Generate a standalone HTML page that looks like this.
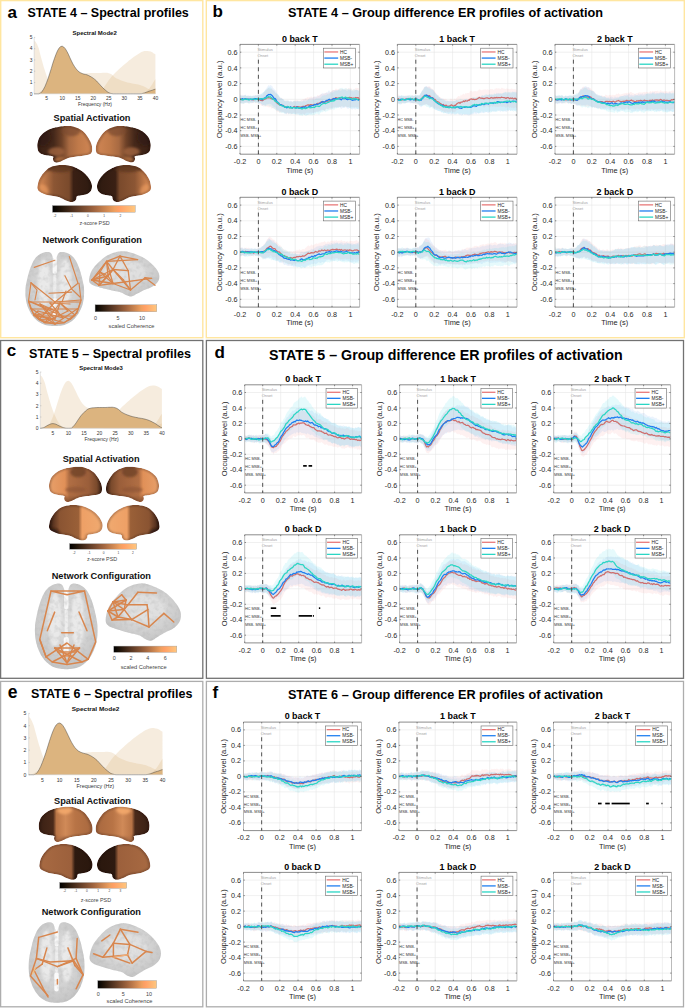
<!DOCTYPE html><html><head><meta charset="utf-8"><title>figure</title><style>html,body{margin:0;padding:0;background:#fff;width:685px;height:1008px;overflow:hidden}svg{display:block}text{font-family:"Liberation Sans",sans-serif}</style></head><body><svg width="685" height="1008" viewBox="0 0 685 1008" font-family="Liberation Sans, sans-serif">
<defs><filter id="blur05" x="-10%" y="-10%" width="120%" height="120%"><feGaussianBlur stdDeviation="0.5"/></filter><filter id="blur1" x="-20%" y="-20%" width="140%" height="140%"><feGaussianBlur stdDeviation="1.2"/></filter><filter id="tex" x="0" y="0" width="100%" height="100%"><feTurbulence type="fractalNoise" baseFrequency="0.22" numOctaves="2" seed="5"/><feColorMatrix type="matrix" values="0 0 0 0 0.45  0 0 0 0 0.45  0 0 0 0 0.45  2 0 0 0 -0.9"/></filter></defs>
<rect x="0" y="0" width="685" height="1008" fill="#fff"/>
<defs><path id="latb" d="M0 55l0-3.2 .3-3.1 .5-3.1 .5-3 .6-3.1 .7-3 .8-3 1.1-2.9 1.3-2.8 1.6-2.8 1.7-2.6 1.8-2.5 1.8-2.3 2-2.2 2-2 2.2-1.9 2.3-1.7 2.4-1.6 2.5-1.5 2.5-1.2 2.4-1 2.3-.8 2.4-.6 2.5-.7 2.7-.7 2.8-.7 2.9-.6 2.8-.4 2.9-.2 2.9-.1 2.9 0 2.6 .3 2.2 .5 2 .7 1.9 .9 1.9 1 2 1 2 1.1 2 1.2 2 1.5 2.1 1.8 2 2 2.1 2.2 1.9 2.4 1.8 2.7 1.6 3 1.6 3.1 1.4 3.1 1.3 3 1.3 3 1.1 3 1.1 3 1 3 .8 3 .8 3 .6 3 .4 3 .3 3.1 .1 3 0 2.8-.1 2.7-.3 2.5-.5 2.4-.7 2-1 1.6-1.3 1.2-1.5 1.1-1.8 .9-2.1 .8-2.4 .5-2.6 .6-2.6 .5-2.7 .6-2.8 .6-2.9 .6-2.8 .6-2.8 .5-2.9 .5-2.8 .6-2.7 .7-2.6 1-2.5 1.2-2.3 1.3-2.3 1.3-2.1 1.5-2 1.6-1.9 1.5-2 1.4-2.1 1.2-2.1 1.2-2 .9-1.8 .3-1.5-.3-1.3-.8-1.1-1.2-.9-1.3-.7-1.6-.5-1.9-.2-1.9-.2-1.8 .2-1.6 .4-1.5 .4-1.3-.2-1.1-.9-.8-1.3-.6-1.7-.5-1.7-.5-1.9-.4-2-.3-2.1-.4-2.1-.5-2.1-.7-2.1-.8-2-.9-1.8-1.2-1.7-1.4-1.5-1.6-1.3-1.8-1.1-2.4-.9-3-.6-3.6-.4-3.8z"/><clipPath id="clipLat"><use href="#latb"/></clipPath><path id="medb" d="M99.5 65.1l-.4 1.5-.5 1.5-.7 1.5-1.1 1.5-1.4 1.5-1.8 1.6-2 1.5-2.1 1.4-2.2 1.3-2.4 1.3-2.5 1.2-2.6 1-2.8 .7-2.9 .6-2.9 .5-2.7 .6-2.5 .8-2.4 .7-2.3 1-2.4 1.2-2.4 1.6-2.4 1.9-2.5 2-2.4 1.7-2.5 1.5-2.6 1.4-2.4 1.2-2.2 .7-1.9 .2-1.6-.1-1.5-.5-1.4-.8-1.2-1.1-1.1-1.4-1-1.7-.8-1.8-.4-2.1-.1-2.4-.2-2.2-.9-1.8-1.7-1-2.2-.5-2.6-.4-2.4-.5-2.4-.7-2.6-.8-2.4-.9-2.2-1.2-1.9-1.4-1.8-1.7-1.5-1.9-1.3-2.2-1-2.7-.7-3.1-.5-3.2-.2-3.1 0-2.9 .3-3 .5-2.9 .8-3.2 1-3.5 1.3-3.6 1.6-3.7 1.8-3.7 2.1-3.7 2.4-3.8 2.5-3.6 2.6-3.3 2.7-2.8 2.8-2.6 2.9-2.2 2.9-2.1 2.8-1.8 2.8-1.7 2.8-1.3 2.9-1.2 3.2-.9 3.4-.7 3.3-.5 3-.3 2.6-.1 2.5 .1 2.3 .3 2.3 .4 2.4 .5 2.5 .5 2.4 .8 2.4 1.1 2.4 1.3 2.5 1.6 2.4 1.9 2.4 2.4 2.5 3.1 2.5 3.5 2.4 3.9 2.2 4 1.9 4.1 1.8 4.2 1.5 4.3 1.3 4.3 1 4.5 .6 4.6 .5 4.3 .3 3.4 .1 2.3 0 1.4-.3 1.1z"/><clipPath id="clipMed"><use href="#medb"/></clipPath><filter id="bblur" x="-20%" y="-20%" width="140%" height="140%"><feGaussianBlur stdDeviation="2.5"/></filter></defs>
<path d="M258.4 44.4V154.2M276.8 44.4V154.2M295.2 44.4V154.2M313.6 44.4V154.2M332.0 44.4V154.2M350.4 44.4V154.2M240.0 146.4H359.6M240.0 130.7H359.6M240.0 115.0H359.6M240.0 83.6H359.6M240.0 67.9H359.6M240.0 52.2H359.6M240.0 99.3H359.6" stroke="#e6e6e6" stroke-width="0.6" fill="none"/>
<clipPath id="cp100"><rect x="240.00" y="44.40" width="119.60" height="109.80"/></clipPath>
<g clip-path="url(#cp100)">
<path d="M240 95l.9-.4 .9 1.6 1-.4 .9-.6 .9 .2 .9-.2 .9 1.2 1-.9 .9 .2 .9-.3 .9 .8 .9-.3 1 .1 .9 .1 .9 .5 .9-.8 .9-.9 1 .5 .9 .4 .9-1 .9-.6 .9 1.9 1-1.4 .9 1.1 .9-1.1 .9-2.3 .9-1 1-.4 .9-2 .9-.3 .9-.7 .9 .4 1 .7 .9-.4 .9-.3 .9 2.2 .9-.4 1 1.9 .9 1.5 .9 .6 .9 1.3 .9 .5 1 .9 .9 1.1 .9-.2 .9 .7 .9 1.5 1 .4 .9-.2 .9 .3 .9 .3 .9-1 1 .9 .9 1.4 .9-1 .9 .3 .9 .4 1-.6 .9-.8 .9 .4 .9-.4 .9-.6 1 .5 .9 .1 .9 .1 .9-.3 .9-.1 1-.5 .9-.5 .9-.1 .9-1 .9 .6 1-1.5 .9 .5 .9-.2 .9-.3 .9-.4 1-.1 .9 1.1 .9-1.3 .9 .2 .9 .7 1-.4 .9-1.9 .9 .4 .9 .2 .9-.9 1-.7 .9-.4 .9 1.2 .9-1.8 .9 .6 1-.7 .9-.1 .9 .4 .9-.7 .9 .4 1-1.4 .9 .7 .9-1.4 .9-.8 .9 .1 1-.2 .9-1.5 .9 .3 .9 .7 .9-.3 1-.4 .9 .2 .9-.2 .9 0 .9 .6 1 .5 .9-1.2 .9 .3 .9-.3 .9 .3 1-1 .9 .4 .9 0 .9 0 .9 1.6 1-1.1 .9 1.1 .9-1.4 .9-.7 .9 .3 1-.2 .9 .4 .9 .8 0 19.3-.9-1.1-.9 0-1 .2-.9-.4-.9 .2-.9 .3-.9-.6-1 .3-.9-.4-.9 .4-.9-1-.9 .9-1-.3-.9 .1-.9-.5-.9 .2-.9 .2-1-.3-.9-.2-.9 .3-.9 .5-.9-.6-1 .5-.9 .2-.9-.4-.9 .2-.9-.1-1 1.4-.9-.6-.9 0-.9 .3-.9 1.6-1-.9-.9 1.1-.9-.6-.9-.5-.9 2-1-.3-.9 0-.9-.2-.9-.7-.9 .4-1 .5-.9 .8-.9 .2-.9 .2-.9 0-1 .4-.9 0-.9 .9-.9-.6-.9 .7-1-.7-.9 .1-.9 1-.9-1.6-.9 1.2-1-.7-.9 1.3-.9 .8-.9-.8-.9-.4-1 .9-.9-.2-.9-.4-.9-.4-.9-.1-1 .6-.9 .9-.9-1.4-.9-.6-.9 .3-1 .8-.9 .6-.9-.9-.9 .1-.9 .8-1-1.1-.9 .6-.9-.1-.9-.6-.9-.6-1-.4-.9-.3-.9 .4-.9 .1-.9 .7-1-1.2-.9-.1-.9-.3-.9-1.4-.9-1.2-1 .2-.9-.9-.9 .2-.9 .5-.9-2-1 .6-.9-.2-.9-.3-.9-.3-.9 .1-1-.8-.9 .9-.9-.7-.9-.4-.9 .1-1-1.1-.9-.9-.9-.1-.9-1.6-.9 .8-1 .3-.9-1.3-.9 1.4-.9-.5-.9 .4-1-.6-.9 .7-.9 .1-.9-.3-.9-.3-1-.2-.9-.5-.9 1.2-.9 .6-.9-.4-1-.4-.9 .1-.9-.4z" fill="#f59090" fill-opacity="0.13"/>
<path d="M240 94.6l.9 1.3 .9-1.1 1 0 .9 1.4 .9-.9 .9-.9 .9 1 1 .8 .9-1 .9 .9 .9-.3 .9 .1 1 1.1 .9-1.7 .9 .3 .9-.4 .9-.3 1 .3 .9-.4 .9 .6 .9 0 .9-1 1-1 .9 .3 .9-1.4 .9-.4 .9-1.3 1-1.1 .9-1.8 .9-1.1 .9-1.6 .9 .8 1-.8 .9 .6 .9 .3 .9 2.1 .9 .7 1 1.3 .9 .6 .9 2.7 .9 .5 .9 1.7 1 1.9 .9 .2 .9 .5 .9 .7 .9 .3 1 .8 .9 1.5 .9-.4 .9 .2 .9-.3 1 .3 .9 .7 .9-1.4 .9 .5 .9 .7 1-.1 .9-.4 .9 .2 .9-.5 .9-.1 1 0 .9 1.2 .9-.8 .9 .3 .9-1.4 1 .8 .9-1.2 .9 .4 .9-1.1 .9 .5 1 .6 .9-.6 .9-.3 .9-1.6 .9 .8 1-.8 .9 .3 .9-.9 .9-.3 .9-.1 1 0 .9 .1 .9-.9 .9 .5 .9-1.4 1-.7 .9-.4 .9-1.1 .9 1.3 .9-.8 1-.1 .9-.8 .9 .1 .9-1.6 .9-.6 1 1.8 .9-.2 .9-.6 .9-.8 .9-.3 1 .1 .9-.5 .9 .5 .9 .2 .9-.5 1 .4 .9 .4 .9-.1 .9-1.2 .9-.1 1 .4 .9 0 .9 .3 .9 .7 .9 0 1-1.1 .9 .7 .9-.2 .9 .7 .9 0 1 .7 .9-.8 .9-.5 .9-.4 .9 .1 1 .3 .9 .7 .9-.6 0 18.7-.9 .6-.9-.5-1-.5-.9 1-.9-.1-.9-.6-.9 .1-1 .7-.9-.8-.9-.5-.9-.6-.9 1-1 0-.9-.6-.9-1.2-.9 .7-.9 .2-1-.1-.9 .4-.9 .8-.9-1-.9-.7-1 .5-.9-.2-.9 .3-.9-.7-.9 .7-1-.9-.9 .8-.9 1.5-.9-.8-.9-.7-1 .3-.9 .6-.9 .2-.9-.4-.9 .6-1 1.9-.9-.9-.9 .1-.9 .2-.9 1-1 .4-.9-.5-.9 1.3-.9-.8-.9-.3-1 1.8-.9-.8-.9 1-.9-.5-.9 .9-1 .2-.9-.3-.9 .2-.9 1-.9-.4-1 .1-.9-.4-.9 .7-.9-.8-.9 .2-1 .3-.9-.5-.9 1.2-.9-1.2-.9 .5-1-1.8-.9 1-.9 .7-.9-.8-.9-.4-1 .7-.9 .1-.9-1-.9 0-.9 .7-1-1.1-.9 1.5-.9-.4-.9-.3-.9-.3-1-1.5-.9 .6-.9-.8-.9-.2-.9 0-1-1.1-.9 .4-.9-1.1-.9-1.2-.9-1.6-1 1-.9-2-.9-.2-.9-1.3-.9-.4-1-.2-.9 .3-.9 .2-.9-.3-.9 1.6-1-.4-.9-.3-.9 .7-.9 .4-.9-1.8-1-.5-.9-.1-.9 0-.9-1-.9-.2-1 0-.9-.4-.9 .5-.9 .7-.9-.4-1-.3-.9 .2-.9 0-.9 .5-.9-.5-1 .3-.9 .1-.9-.5-.9 .5-.9-.4-1 .9-.9 0-.9-.3z" fill="#5c9ff0" fill-opacity="0.12"/>
<path d="M240 95.4l.9 0 .9 .9 1-.5 .9-.2 .9-.3 .9-.1 .9 .7 1-.3 .9 .7 .9-.4 .9-.1 .9-.4 1 .5 .9-.2 .9 0 .9 .8 .9-.7 1 .2 .9-1.4 .9 .4 .9-.4 .9 0 1-.4 .9-.7 .9-1.1 .9-.3 .9-1.4 1-1.5 .9 .7 .9-1.7 .9-.6 .9-.2 1-.2 .9 1 .9 1.2 .9 1.3 .9-.3 1 2.3 .9-.3 .9 1.1 .9 1.1 .9 .1 1 1.9 .9 1.8 .9-.3 .9 1.1 .9-.3 1 1.5 .9 .9 .9-1.2 .9 .3 .9 0 1 .4 .9 .2 .9 .8 .9-.3 .9 .9 1-1.6 .9 0 .9 .7 .9 .2 .9-.5 1-.2 .9 0 .9 .3 .9-.2 .9 1.1 1-.8 .9-.3 .9 .1 .9 .5 .9-.6 1-.3 .9-1.4 .9 .6 .9 .2 .9 .1 1-.3 .9-.3 .9-.3 .9 .6 .9-1 1-.8 .9 .3 .9-.2 .9 0 .9-.1 1-1 .9-.9 .9-.9 .9 0 .9-.1 1-.1 .9-.1 .9-1 .9 .3 .9-.7 1-.3 .9-1.3 .9 .9 .9-.7 .9-.4 1-.8 .9 .1 .9-.8 .9 0 .9-.7 1-.9 .9-.7 .9 .1 .9-.4 .9 .6 1 .5 .9-.4 .9-.6 .9 .7 .9 .7 1-.7 .9 .3 .9 .4 .9 0 .9 .6 1 .1 .9-1.4 .9 1.1 .9 .3 .9-.6 1 1 .9 0 .9 .6 0 18-.9-.5-.9 .4-1 .2-.9-1.6-.9 .5-.9 .3-.9-.7-1 .9-.9-.1-.9-.6-.9 .2-.9-1-1 .4-.9-.3-.9-.8-.9 .1-.9 1.2-1-.6-.9-.7-.9 .2-.9 .5-.9-.1-1 .8-.9-.2-.9 1.1-.9-.6-.9 1.3-1 1-.9-1.5-.9 .8-.9 .2-.9-.2-1 .6-.9 .2-.9 .8-.9 0-.9 1-1-.9-.9 0-.9 1-.9-.3-.9 .5-1 1.1-.9 1.3-.9-.7-.9-.8-.9 .4-1 .3-.9 .9-.9-.2-.9 .5-.9-.1-1-.2-.9 .6-.9-1.4-.9 1.4-.9-.6-1 .9-.9-.2-.9-.6-.9-.6-.9 1.7-1-.6-.9 0-.9 0-.9-1.8-.9 1.2-1-.9-.9 .9-.9-1-.9 .1-.9-.1-1-.2-.9-.1-.9 .8-.9-1.2-.9 1.1-1-1.8-.9 .4-.9 .8-.9-.2-.9-.1-1-.7-.9 0-.9 .5-.9-1.1-.9 .6-1-1.5-.9-.7-.9 .2-.9-.6-.9-.8-1-1-.9-.3-.9 0-.9-1.6-.9-.2-1 .2-.9-.9-.9 0-.9 .1-.9 .3-1 .6-.9-1.3-.9-.6-.9 0-.9-.9-1-1.1-.9 .2-.9 .7-.9-1-.9-.2-1 .8-.9-.6-.9-.7-.9 .5-.9 .2-1 .8-.9-.8-.9 1.5-.9-.6-.9-.7-1-.8-.9 1.1-.9 .2-.9 .5-.9 .5-1-1.1-.9 .2-.9-.3z" fill="#40d8e8" fill-opacity="0.13"/>
<path d="M240 98.9l.9 0 .9 .7 1 .1 .9-.2 .9-.1 .9-.7 .9 .8 1-.3 .9 .2 .9 0 .9 .3 .9-.4 1 .3 .9-.2 .9 .5 .9-1 .9 .1 1 .2 .9-.3 .9 .4 .9-.3 .9 1.4 1-.2 .9 .6 .9-.4 .9-.8 .9-.9 1 .2 .9-1.1 .9 0 .9-.2 .9 .3 1 .1 .9 .8 .9-.4 .9 .9 .9 .3 1 .8 .9 1.4 .9 1 .9 .8 .9 .3 1 1.1 .9 .2 .9-.2 .9 .1 .9 1 1 .3 .9 .3 .9 .4 .9 .2 .9-.8 1 1 .9 .3 .9-.5 .9 .5 .9 0 1-.7 .9-.6 .9 .5 .9 .5 .9-.8 1 0 .9 .1 .9 .3 .9 0 .9 0 1-.7 .9 0 .9 .3 .9-.8 .9-.4 1-.4 .9-.4 .9 .7 .9-.6 .9-.2 1 .2 .9 .2 .9-.3 .9-.3 .9 .3 1-.4 .9-1 .9 .1 .9 0 .9-.8 1-.6 .9-.4 .9 .9 .9-.8 .9 .4 1-.2 .9-1.1 .9 .4 .9 0 .9-.4 1-.2 .9-.4 .9-.9 .9-.4 .9 .3 1-.8 .9-.7 .9 .1 .9 .5 .9-.2 1-.5 .9 .5 .9-.4 .9-.2 .9 .5 1 .4 .9-.7 .9 0 .9 .1 .9 .1 1-.4 .9-.2 .9 .5 .9-.2 .9 1 1-.7 .9 .9 .9-.9 .9-.4 .9 .3 1-.2 .9 .2 .9 1" fill="none" stroke="#cf6e6e" stroke-width="1.25" stroke-linejoin="round"/>
<path d="M240 98.9l.9 .8 .9-.6 1-.4 .9 .9 .9-.7 .9-.2 .9 .4 1 .3 .9-.3 .9 .3 .9-.2 .9-.1 1 .7 .9-.6 .9-.2 .9-.5 .9 .1 1 .1 .9 0 .9 .7 .9 0 .9-.4 1-.3 .9 1.1 .9-.9 .9-.6 .9-.4 1-.4 .9-1.7 .9-.4 .9-.9 .9 .2 1-.3 .9 .5 .9 .8 .9 1.2 .9 1.4 1 .1 .9 1.1 .9 2 .9 .7 .9 .7 1 1.5 .9 .1 .9 .4 .9 .7 .9-.1 1 1.1 .9 .9 .9 0 .9 .3 .9-1 1 .7 .9 .1 .9-.8 .9 .8 .9 .3 1-.4 .9 0 .9 .5 .9-.6 .9-.5 1 .9 .9 .3 .9 .2 .9-.4 .9-.5 1 .3 .9-.7 .9 .6 .9-.9 .9 .4 1 .2 .9 0 .9-.7 .9-.9 .9 .6 1-.6 .9-.2 .9-.2 .9-.7 .9 .3 1-.9 .9 .3 .9-.1 .9-.4 .9-.4 1-.6 .9-.7 .9-.6 .9 .6 .9 0 1-1 .9-.7 .9 .2 .9-.9 .9-.5 1 .7 .9 .2 .9 .1 .9-1.1 .9-.6 1 .6 .9-.7 .9 .7 .9-.1 .9-.1 1-.1 .9 .6 .9 .4 .9-1 .9-.3 1 .3 .9-.1 .9-.2 .9 1 .9 .2 1-.5 .9-.2 .9 .3 .9 .5 .9 .5 1-.1 .9-.4 .9 .1 .9-.2 .9-.5 1 .5 .9 .5 .9-.6" fill="none" stroke="#1f7ff0" stroke-width="1.25" stroke-linejoin="round"/>
<path d="M240 99.3l.9 .1 .9 .3 1 .3 .9-.3 .9-.4 .9-.2 .9-.2 1 .3 .9 .7 .9 .1 .9-.8 .9 .2 1-.2 .9-.2 .9-.2 .9 .7 .9 0 1-.3 .9-.6 .9 .7 .9-.5 .9-.2 1 .4 .9 .1 .9-.6 .9 .2 .9 0 1-1.1 .9 .2 .9-.9 .9-.3 .9 .4 1-.3 .9 .7 .9 1.3 .9 .7 .9 0 1 1.7 .9 .2 .9 .8 .9 .5 .9 .4 1 1.7 .9 .6 .9 .4 .9 .3 .9-.2 1 1.1 .9 .5 .9-.4 .9-.3 .9-.2 1 1.1 .9-.4 .9 .9 .9-.5 .9 .5 1-.7 .9 .1 .9 .3 .9 .6 .9-.7 1 .3 .9-.6 .9 1 .9 0 .9 .5 1-.1 .9-1 .9 .3 .9 .6 .9-.2 1-.6 .9-.4 .9-.4 .9 .8 .9-.3 1 0 .9-.1 .9-.4 .9 .4 .9-1 1-.5 .9 0 .9 .2 .9 .4 .9-.7 1-1.1 .9-.6 .9-.4 .9-.4 .9-.1 1 .4 .9-.6 .9-.4 .9-.3 .9-.5 1-.4 .9-.5 .9 .3 .9-.8 .9 .6 1-.9 .9-.6 .9-.1 .9-.6 .9-.2 1-.9 .9-.2 .9-.3 .9-.3 .9 .7 1 .6 .9-.9 .9-.3 .9 .8 .9 .5 1-.6 .9 .7 .9 0 .9 .4 .9 .3 1-.4 .9-.3 .9 .3 .9-.1 .9 .5 1 .5 .9-.2 .9 .5" fill="none" stroke="#2ad6c4" stroke-width="1.25" stroke-linejoin="round"/>
</g>
<line x1="258.40" y1="59.69" x2="258.40" y2="154.20" stroke="#4a4a4a" stroke-width="0.95" stroke-dasharray="4,3.55"/>
<text x="257.40" y="51.17" font-size="4.0" fill="#a0a0a0" >Stimulus</text>
<text x="257.40" y="57.06" font-size="4.0" fill="#a0a0a0" >Onset</text>
<text x="240.20" y="121.01" font-size="3.8" fill="#333333" >HC MSB-</text>
<text x="240.20" y="128.85" font-size="3.8" fill="#333333" >HC MSB+</text>
<text x="240.20" y="136.69" font-size="3.8" fill="#333333" >MSB- MSB+</text>
<path d="M240.0 44.4H359.6M240.0 154.2H359.6" stroke="#6e6e6e" stroke-width="0.8"/>
<path d="M240.0 44.4V154.2M359.6 44.4V154.2" stroke="#9e9e9e" stroke-width="0.7"/>
<path d="M240.0 154.2v-1.3M240.0 44.4v1.3M258.4 154.2v-1.3M258.4 44.4v1.3M276.8 154.2v-1.3M276.8 44.4v1.3M295.2 154.2v-1.3M295.2 44.4v1.3M313.6 154.2v-1.3M313.6 44.4v1.3M332.0 154.2v-1.3M332.0 44.4v1.3M350.4 154.2v-1.3M350.4 44.4v1.3M240.0 146.4h1.3M359.6 146.4h-1.3M240.0 130.7h1.3M359.6 130.7h-1.3M240.0 115.0h1.3M359.6 115.0h-1.3M240.0 99.3h1.3M359.6 99.3h-1.3M240.0 83.6h1.3M359.6 83.6h-1.3M240.0 67.9h1.3M359.6 67.9h-1.3M240.0 52.2h1.3M359.6 52.2h-1.3" stroke="#444" stroke-width="0.6" fill="none"/>
<text x="237.60" y="148.95" font-size="7.2" text-anchor="end" fill="#262626" >-0.6</text>
<text x="237.60" y="133.26" font-size="7.2" text-anchor="end" fill="#262626" >-0.4</text>
<text x="237.60" y="117.58" font-size="7.2" text-anchor="end" fill="#262626" >-0.2</text>
<text x="237.60" y="101.89" font-size="7.2" text-anchor="end" fill="#262626" >0</text>
<text x="237.60" y="86.21" font-size="7.2" text-anchor="end" fill="#262626" >0.2</text>
<text x="237.60" y="70.52" font-size="7.2" text-anchor="end" fill="#262626" >0.4</text>
<text x="237.60" y="54.83" font-size="7.2" text-anchor="end" fill="#262626" >0.6</text>
<text x="240.00" y="163.92" font-size="7.2" text-anchor="middle" fill="#262626" >-0.2</text>
<text x="258.40" y="163.92" font-size="7.2" text-anchor="middle" fill="#262626" >0</text>
<text x="276.80" y="163.92" font-size="7.2" text-anchor="middle" fill="#262626" >0.2</text>
<text x="295.20" y="163.92" font-size="7.2" text-anchor="middle" fill="#262626" >0.4</text>
<text x="313.60" y="163.92" font-size="7.2" text-anchor="middle" fill="#262626" >0.6</text>
<text x="332.00" y="163.92" font-size="7.2" text-anchor="middle" fill="#262626" >0.8</text>
<text x="350.40" y="163.92" font-size="7.2" text-anchor="middle" fill="#262626" >1</text>
<text x="299.80" y="172.56" font-size="7.416" text-anchor="middle" fill="#262626" >Time (s)</text>
<text x="221.60" y="99.30" font-size="7.85" text-anchor="middle" fill="#262626" transform="rotate(-90 221.60 99.30)">Occupancy level (a.u.)</text>
<text x="299.80" y="41.60" font-size="8.928" text-anchor="middle" font-weight="bold" fill="#000" >0 back T</text>
<rect x="323.31" y="48.20" width="32.29" height="19.76" fill="#fff" stroke="#6a6a6a" stroke-width="0.6" />
<line x1="324.31" y1="51.96" x2="338.16" y2="51.96" stroke="#e87a7a" stroke-width="1.3" />
<text x="340.10" y="53.66" font-size="4.8" fill="#262626" >HC</text>
<line x1="324.31" y1="58.08" x2="338.16" y2="58.08" stroke="#1f7ff0" stroke-width="1.3" />
<text x="340.10" y="59.78" font-size="4.8" fill="#262626" >MSB-</text>
<line x1="324.31" y1="64.21" x2="338.16" y2="64.21" stroke="#2ad6c4" stroke-width="1.3" />
<text x="340.10" y="65.91" font-size="4.8" fill="#262626" >MSB+</text>
<path d="M415.8 44.4V154.2M434.2 44.4V154.2M452.6 44.4V154.2M471.0 44.4V154.2M489.4 44.4V154.2M507.8 44.4V154.2M397.4 146.4H517.0M397.4 130.7H517.0M397.4 115.0H517.0M397.4 83.6H517.0M397.4 67.9H517.0M397.4 52.2H517.0M397.4 99.3H517.0" stroke="#e6e6e6" stroke-width="0.6" fill="none"/>
<clipPath id="cp101"><rect x="397.40" y="44.40" width="119.60" height="109.80"/></clipPath>
<g clip-path="url(#cp101)">
<path d="M397.4 95l.9-.8 .9 1.3 1 1.1 .9-.8 .9 .1 .9 .6 .9-.5 1 .4 .9-1.5 .9 .4 .9 1.1 .9-1.2 1 .1 .9 1 .9-.4 .9-1 .9 .2 1 1.4 .9-1.1 .9-.3 .9 1.1 .9-1.2 1 1 .9-.6 .9-1.5 .9-1.9 .9-1.2 1-2 .9-1.7 .9-.3 .9 .1 .9-.9 1 1.2 .9-1.1 .9 .2 .9 1 .9 1 1 .4 .9 .9 .9 1.1 .9 .8 .9 1.7 1 1.1 .9 .7 .9 .6 .9 1.3 .9 .3 1 1.3 .9 .8 .9-.9 .9 .6 .9-.2 1 .1 .9 1.3 .9 .5 .9-.3 .9-.9 1-1 .9 .5 .9 .6 .9 .5 .9-1.7 1 .8 .9-1 .9-.9 .9-1.2 .9 0 1 .7 .9-2.3 .9 .9 .9-1.2 .9-.7 1 1.3 .9-1.9 .9 .7 .9-.6 .9-.1 1 0 .9-2.1 .9 .1 .9-.1 .9 1.4 1-1.1 .9 .2 .9-.4 .9 .7 .9-.7 1-.7 .9-.9 .9 .4 .9 .3 .9 .6 1-1 .9 .2 .9-.2 .9-.2 .9 .4 1-.5 .9 .5 .9 .4 .9-1.1 .9 .2 1-.4 .9 .5 .9 .5 .9-1.4 .9 .2 1-.8 .9 .8 .9-.5 .9 .4 .9 .6 1-1.5 .9 .1 .9 .6 .9 .1 .9 .4 1 .1 .9-.7 .9 .7 .9-.2 .9 .5 1-.3 .9-.4 .9 .1 .9 .6 .9 0 1-.3 .9 .9 .9 .5 0 17.9-.9-.5-.9-.6-1 .7-.9 .5-.9-1-.9 .6-.9-1-1 1.2-.9-1.3-.9-.7-.9 .9-.9 .8-1-1-.9-.4-.9 .1-.9 .3-.9-.2-1-.4-.9 .2-.9 .3-.9 .3-.9-.5-1 .7-.9-.8-.9 0-.9-.3-.9 1.1-1-1.7-.9 1.6-.9-.5-.9 .2-.9-.3-1-.9-.9 .9-.9 .7-.9 .4-.9-.9-1-.7-.9 0-.9 .4-.9-.8-.9 .2-1 .6-.9 .6-.9 .9-.9-.1-.9-.6-1-.5-.9 .1-.9 .4-.9 .2-.9 .4-1-.4-.9 1.8-.9-.8-.9 0-.9-.1-1 .1-.9 1.1-.9-.7-.9 1-.9-.1-1-.8-.9 .9-.9-.2-.9 .8-.9 1.3-1 .4-.9-.1-.9 0-.9-1.3-.9 1.2-1-.2-.9 0-.9 .6-.9-.3-.9-.8-1 1.1-.9-.2-.9-1.5-.9 .3-.9-.7-1-.4-.9-.4-.9-.7-.9-.3-.9 .7-1-1.2-.9-.6-.9 1.2-.9-1.6-.9-.2-1-.4-.9 .5-.9-2-.9 .4-.9-.2-1-.8-.9-.1-.9 1-.9-.5-.9-.2-1 .4-.9 .3-.9 .1-.9 .2-.9-.5-1-.7-.9-.9-.9 .2-.9 .1-.9-.5-1 .2-.9-.5-.9 0-.9-.2-.9-.4-1-.5-.9 .3-.9 .9-.9 .1-.9-.2-1-.5-.9 .5-.9 1.1-.9-.4-.9-.4-1 0-.9 0-.9-.1z" fill="#f59090" fill-opacity="0.13"/>
<path d="M397.4 95.7l.9 .8 .9-.9 1 .4 .9-1.1 .9 1 .9 .3 .9 0 1-.6 .9 .3 .9 .3 .9-.6 .9 .5 1 .7 .9-.5 .9-.2 .9-.5 .9 0 1 .6 .9-.4 .9-.7 .9 .5 .9-.2 1-.1 .9-.1 .9-2 .9-.4 .9-1.9 1-.3 .9-2.9 .9-1.3 .9 .2 .9-.5 1 1 .9-.1 .9 .1 .9 1.1 .9 .8 1 .4 .9 .4 .9 1.6 .9 1.1 .9 1.2 1 1.8 .9 .5 .9 1.2 .9-.2 .9 1.5 1 0 .9-.3 .9 1.1 .9 .9 .9 .5 1 .1 .9-.4 .9 .8 .9-.5 .9 .3 1-.4 .9 .1 .9 1.1 .9-.8 .9-.1 1 .1 .9-1.2 .9 .7 .9-.5 .9 1 1-.1 .9 .7 .9-.9 .9-1.1 .9 .6 1-.6 .9-.1 .9-.9 .9 .8 .9-.2 1 0 .9 0 .9 .8 .9-.7 .9-1.4 1-.5 .9 .9 .9 .1 .9-.1 .9-.8 1-.8 .9-.5 .9 .7 .9-.4 .9-1.2 1 .2 .9 .6 .9-.8 .9 .4 .9-.5 1-.5 .9 .3 .9-.7 .9 .4 .9-.2 1-.2 .9 1 .9-1 .9-.1 .9 .1 1-1.7 .9 .7 .9-.6 .9 1.3 .9-.8 1 .3 .9 .2 .9-1.3 .9 .9 .9-1 1 .3 .9 .8 .9 0 .9-1 .9 .2 1 .9 .9-.6 .9-1.7 .9 .9 .9 .5 1-.9 .9 0 .9 .5 0 18-.9 .2-.9 .8-1-1-.9-.2-.9 1.1-.9-.8-.9 .6-1-.8-.9 .6-.9 .1-.9 1-.9 .1-1-.7-.9 .2-.9 .4-.9-.9-.9-.2-1 1.5-.9-1.3-.9-.2-.9-.8-.9 1.6-1-.2-.9 .1-.9 .2-.9 .1-.9-.4-1 .6-.9-1-.9 1.1-.9 1.2-.9-.5-1-.7-.9 .2-.9 .5-.9 .5-.9-.1-1-.5-.9 .7-.9-.4-.9-.2-.9 1.4-1-1.1-.9 1.3-.9-.3-.9-.7-.9 .6-1 .3-.9 .3-.9 .2-.9 .3-.9 .4-1 .1-.9-.4-.9-.3-.9 .1-.9 .1-1-1-.9 .7-.9 1.4-.9-1.4-.9 .5-1-.7-.9-.6-.9-.8-.9 1-.9 .6-1-1.3-.9 .8-.9-.7-.9 .9-.9 0-1-.9-.9 .3-.9 0-.9 .1-.9-.5-1-.4-.9-.8-.9 .8-.9-1.1-.9 .7-1-1.3-.9 .1-.9-.5-.9 0-.9-.9-1 .2-.9-.4-.9-.9-.9-1.1-.9-1.4-1 .5-.9 .3-.9-.3-.9-1.2-.9-.6-1-.9-.9 .3-.9-.7-.9 1.2-.9 .3-1 .5-.9 1.6-.9-.6-.9-.9-.9-1.6-1-1-.9-.6-.9-.3-.9 .1-.9 1.2-1-.6-.9-.1-.9 .2-.9 .3-.9-.8-1-.5-.9 .9-.9-1.1-.9 1.5-.9 0-1-.2-.9-.9-.9 .3-.9 .7-.9 .2-1 1-.9-1-.9-.3z" fill="#5c9ff0" fill-opacity="0.12"/>
<path d="M397.4 96.2l.9 0 .9 0 1 .1 .9-.5 .9-.7 .9 .3 .9 .2 1 1 .9 0 .9-.1 .9-1.2 .9 .1 1-.2 .9-.4 .9 .3 .9 .6 .9 .4 1-.5 .9-.6 .9 .2 .9 .3 .9-.6 1 .6 .9-.2 .9-1 .9-2.4 .9-1.6 1-1.1 .9-1.1 .9-1.5 .9 .2 .9 .4 1 .6 .9 .7 .9 .1 .9 .3 .9 .9 1-.3 .9 1 .9 1.7 .9 .7 .9 .9 1 1.1 .9 .1 .9 1.6 .9 .9 .9 1.6 1-.3 .9 1.2 .9 .3 .9-.5 .9 .3 1 1.5 .9-.3 .9-1.2 .9 1.4 .9-.1 1-.4 .9 .2 .9 .2 .9-.5 .9-.1 1 0 .9-.7 .9 0 .9 .6 .9-1.1 1-.2 .9-.6 .9 1 .9 .1 .9 .2 1-.9 .9-.3 .9 .4 .9 .6 .9 0 1-.3 .9-.2 .9-.6 .9-1.3 .9-.8 1 .7 .9-.4 .9 .6 .9-.8 .9 0 1-.1 .9-.2 .9 .8 .9-1.6 .9 0 1-.4 .9 .8 .9-1.4 .9-.5 .9-.1 1 1.1 .9-.4 .9-.5 .9 .1 .9 0 1 .2 .9 .1 .9-1.3 .9-.2 .9 1.1 1-.5 .9 .8 .9-.8 .9-.5 .9 .2 1 .3 .9-.2 .9-.8 .9 .1 .9-1.3 1 .7 .9-.5 .9 .2 .9 .1 .9 .2 1-.5 .9 .2 .9 .4 .9-.4 .9-.6 1 1.3 .9-.5 .9 1.5 0 17.7-.9 .7-.9-1.3-1 .1-.9 .9-.9-1.2-.9 0-.9 .6-1-1.5-.9 1-.9-.4-.9 0-.9 .2-1 .6-.9-.7-.9 .9-.9 .2-.9-.5-1-.6-.9-.1-.9 .4-.9 .8-.9-.3-1 .7-.9-.5-.9 0-.9-.2-.9 0-1 1.2-.9 0-.9-.1-.9-.5-.9-.4-1 .7-.9-.2-.9-.3-.9 .3-.9 1.2-1-2-.9 .9-.9 .6-.9 1.1-.9-.8-1-.1-.9-.6-.9 .5-.9-.9-.9 .7-1 .8-.9 .5-.9-.1-.9 .6-.9 .2-1-.3-.9 .1-.9-.2-.9 0-.9 .2-1-.3-.9 1-.9-1.4-.9 .2-.9 .2-1 0-.9-.7-.9 .5-.9 .5-.9-.8-1 1.5-.9-2-.9 .3-.9 .8-.9-1.3-1 .6-.9 .8-.9-.5-.9-1.1-.9 .6-1-.1-.9 .2-.9 .3-.9-1.3-.9 .2-1-1.2-.9-.3-.9-.1-.9-.2-.9-.4-1-.5-.9-.9-.9 0-.9-.3-.9-.2-1-1.4-.9 .5-.9 1-.9-1.3-.9-.4-1 .1-.9-1-.9-.3-.9-.4-.9 .4-1 .7-.9-.2-.9-.6-.9 .1-.9-1.3-1 .2-.9-.4-.9-1.4-.9-.2-.9 .5-1 .2-.9-.5-.9-.2-.9-.7-.9 .3-1 .7-.9-.3-.9 .4-.9 0-.9 .4-1 .5-.9-.7-.9 .3-.9 1.1-.9-.1-1-.6-.9-.2-.9-.7z" fill="#40d8e8" fill-opacity="0.13"/>
<path d="M397.4 99.1l.9-.4 .9 .6 1 .6 .9-.2 .9 .3 .9-.3 .9-.5 1 .5 .9-.7 .9 .1 .9 .1 .9-.7 1 .3 .9 .7 .9-.1 .9-.5 .9 .4 1 .5 .9-.3 .9-.1 .9 .4 .9-.2 1 .9 .9-.1 .9-.8 .9-1 .9-.7 1-1.3 .9-.7 .9 .1 .9-.5 .9-.4 1 1.1 .9-.5 .9-.1 .9 1.5 .9 .3 1 .3 .9 .6 .9 1.3 .9-.2 .9 1.2 1 1.1 .9 0 .9 .5 .9 1 .9 .3 1 .9 .9 .7 .9-.6 .9 1.1 .9 0 1-.5 .9 1 .9 .4 .9-.4 .9-.4 1-.5 .9-.3 .9 .9 .9 .3 .9-.8 1 .2 .9-1.1 .9-.9 .9-.5 .9-.5 1 .8 .9-1.1 .9-.1 .9-.2 .9-.9 1 .6 .9-.9 .9 .3 .9 .2 .9-1 1 .2 .9-1.2 .9-.1 .9-.2 .9 .6 1-.3 .9 .4 .9-.2 .9-.1 .9-.6 1-.6 .9-.6 .9 .6 .9-.1 .9 .4 1-.2 .9 .6 .9-.4 .9-.4 .9-.2 1 .1 .9 .5 .9 .1 .9-.3 .9-.8 1 .7 .9-.3 .9 .4 .9-.7 .9 .5 1-.7 .9 .6 .9-.4 .9 .1 .9 .2 1-.6 .9 .2 .9 .1 .9 0 .9 .4 1 .5 .9-.7 .9-.1 .9 .3 .9 .8 1-.7 .9 .3 .9-.3 .9 .8 .9-.2 1-.5 .9 .8 .9 .4" fill="none" stroke="#cf6e6e" stroke-width="1.25" stroke-linejoin="round"/>
<path d="M397.4 99.5l.9 .6 .9 0 1-.3 .9-.7 .9 .2 .9 0 .9 .5 1-.2 .9 .1 .9-.6 .9 .3 .9-.2 1 .5 .9 .2 .9-.2 .9-.4 .9 0 1 .7 .9-.9 .9-.3 .9 .4 .9 .2 1 .4 .9 .8 .9-.6 .9 .1 .9-1.7 1-.5 .9-1.5 .9-1.3 .9 .4 .9-.4 1 1 .9 .3 .9 .6 .9 .7 .9 .2 1 0 .9 .9 .9 1.4 .9 .9 .9 .9 1 .7 .9 .8 .9 .6 .9 .1 .9 .7 1 .6 .9-.4 .9 1 .9 .1 .9 .7 1 .2 .9 .1 .9 .3 .9-.3 .9 0 1 .3 .9 .1 .9 .1 .9-.1 .9-.5 1 .7 .9-.8 .9-.2 .9 .1 .9 .9 1 .3 .9 0 .9 .3 .9-1.3 .9 0 1 .2 .9-.1 .9-.5 .9 .6 .9 .1 1-.1 .9-.2 .9 .2 .9-.4 .9-.8 1-.4 .9 .1 .9 .4 .9 .1 .9-1.1 1 .2 .9-.9 .9 .4 .9 0 .9-1 1 .4 .9 .4 .9-.7 .9 0 .9-.4 1 .1 .9 .4 .9-.9 .9-.4 .9 .4 1-.4 .9 .7 .9-.6 .9-.1 .9 0 1-.7 .9-.5 .9 .1 .9 .7 .9 .3 1-.6 .9 .2 .9-.2 .9 .2 .9-.6 1 .5 .9 .4 .9-.5 .9-.5 .9-.2 1 .8 .9-.6 .9-.4 .9-.1 .9 .3 1 .1 .9-.4 .9 .1" fill="none" stroke="#1f7ff0" stroke-width="1.25" stroke-linejoin="round"/>
<path d="M397.4 99.5l.9 .4 .9 .1 1 .3 .9-.1 .9-1 .9 0 .9 .5 1 .3 .9-.2 .9-.1 .9-.8 .9 .2 1-.5 .9-.3 .9 .5 .9 .4 .9 .5 1-.4 .9-.6 .9 .3 .9 .8 .9-.1 1 .2 .9 .6 .9-.6 .9-.9 .9-.7 1-.9 .9-.7 .9-.6 .9 .2 .9 .7 1 .3 .9 .5 .9 .8 .9-.4 .9 .2 1 .6 .9 .5 .9 1.1 .9 .3 .9 .9 1 .8 .9 .3 .9 .8 .9 .6 .9 .9 1 .4 .9 .6 .9 .8 .9-.5 .9 .1 1 .8 .9-.5 .9 0 .9 1 .9-.5 1-.5 .9 .7 .9-.3 .9-.3 .9 .9 1-.8 .9 .1 .9-.3 .9 .1 .9-.2 1-.1 .9-.4 .9 .4 .9 .7 .9-.3 1-.4 .9-.2 .9 .2 .9 .4 .9-.1 1 .1 .9-.2 .9-.6 .9-.6 .9-.7 1-.1 .9-.5 .9 .8 .9-.7 .9 .3 1 0 .9 .3 .9-.2 .9-1 .9-.5 1 .8 .9-.2 .9-.9 .9-.1 .9 .1 1 .2 .9 0 .9 0 .9 .1 .9 0 1-.5 .9 .1 .9-.6 .9-.1 .9 .8 1-.6 .9 .5 .9-.8 .9-.4 .9 .2 1 .4 .9 .1 .9-.4 .9-.4 .9-.4 1 .1 .9-.3 .9 0 .9 .3 .9-.4 1 .5 .9-.2 .9 .2 .9 .4 .9-.8 1 .7 .9 .4 .9 .3" fill="none" stroke="#2ad6c4" stroke-width="1.25" stroke-linejoin="round"/>
</g>
<line x1="415.80" y1="59.69" x2="415.80" y2="154.20" stroke="#4a4a4a" stroke-width="0.95" stroke-dasharray="4,3.55"/>
<text x="414.80" y="51.17" font-size="4.0" fill="#a0a0a0" >Stimulus</text>
<text x="414.80" y="57.06" font-size="4.0" fill="#a0a0a0" >Onset</text>
<text x="397.60" y="121.01" font-size="3.8" fill="#333333" >HC MSB-</text>
<text x="397.60" y="128.85" font-size="3.8" fill="#333333" >HC MSB+</text>
<text x="397.60" y="136.69" font-size="3.8" fill="#333333" >MSB- MSB+</text>
<path d="M397.4 44.4H517.0M397.4 154.2H517.0" stroke="#6e6e6e" stroke-width="0.8"/>
<path d="M397.4 44.4V154.2M517.0 44.4V154.2" stroke="#9e9e9e" stroke-width="0.7"/>
<path d="M397.4 154.2v-1.3M397.4 44.4v1.3M415.8 154.2v-1.3M415.8 44.4v1.3M434.2 154.2v-1.3M434.2 44.4v1.3M452.6 154.2v-1.3M452.6 44.4v1.3M471.0 154.2v-1.3M471.0 44.4v1.3M489.4 154.2v-1.3M489.4 44.4v1.3M507.8 154.2v-1.3M507.8 44.4v1.3M397.4 146.4h1.3M517.0 146.4h-1.3M397.4 130.7h1.3M517.0 130.7h-1.3M397.4 115.0h1.3M517.0 115.0h-1.3M397.4 99.3h1.3M517.0 99.3h-1.3M397.4 83.6h1.3M517.0 83.6h-1.3M397.4 67.9h1.3M517.0 67.9h-1.3M397.4 52.2h1.3M517.0 52.2h-1.3" stroke="#444" stroke-width="0.6" fill="none"/>
<text x="395.00" y="148.95" font-size="7.2" text-anchor="end" fill="#262626" >-0.6</text>
<text x="395.00" y="133.26" font-size="7.2" text-anchor="end" fill="#262626" >-0.4</text>
<text x="395.00" y="117.58" font-size="7.2" text-anchor="end" fill="#262626" >-0.2</text>
<text x="395.00" y="101.89" font-size="7.2" text-anchor="end" fill="#262626" >0</text>
<text x="395.00" y="86.21" font-size="7.2" text-anchor="end" fill="#262626" >0.2</text>
<text x="395.00" y="70.52" font-size="7.2" text-anchor="end" fill="#262626" >0.4</text>
<text x="395.00" y="54.83" font-size="7.2" text-anchor="end" fill="#262626" >0.6</text>
<text x="397.40" y="163.92" font-size="7.2" text-anchor="middle" fill="#262626" >-0.2</text>
<text x="415.80" y="163.92" font-size="7.2" text-anchor="middle" fill="#262626" >0</text>
<text x="434.20" y="163.92" font-size="7.2" text-anchor="middle" fill="#262626" >0.2</text>
<text x="452.60" y="163.92" font-size="7.2" text-anchor="middle" fill="#262626" >0.4</text>
<text x="471.00" y="163.92" font-size="7.2" text-anchor="middle" fill="#262626" >0.6</text>
<text x="489.40" y="163.92" font-size="7.2" text-anchor="middle" fill="#262626" >0.8</text>
<text x="507.80" y="163.92" font-size="7.2" text-anchor="middle" fill="#262626" >1</text>
<text x="457.20" y="172.56" font-size="7.416" text-anchor="middle" fill="#262626" >Time (s)</text>
<text x="379.00" y="99.30" font-size="7.85" text-anchor="middle" fill="#262626" transform="rotate(-90 379.00 99.30)">Occupancy level (a.u.)</text>
<text x="457.20" y="41.60" font-size="8.928" text-anchor="middle" font-weight="bold" fill="#000" >1 back T</text>
<rect x="480.71" y="48.20" width="32.29" height="19.76" fill="#fff" stroke="#6a6a6a" stroke-width="0.6" />
<line x1="481.71" y1="51.96" x2="495.56" y2="51.96" stroke="#e87a7a" stroke-width="1.3" />
<text x="497.50" y="53.66" font-size="4.8" fill="#262626" >HC</text>
<line x1="481.71" y1="58.08" x2="495.56" y2="58.08" stroke="#1f7ff0" stroke-width="1.3" />
<text x="497.50" y="59.78" font-size="4.8" fill="#262626" >MSB-</text>
<line x1="481.71" y1="64.21" x2="495.56" y2="64.21" stroke="#2ad6c4" stroke-width="1.3" />
<text x="497.50" y="65.91" font-size="4.8" fill="#262626" >MSB+</text>
<path d="M573.4 44.4V154.2M591.8 44.4V154.2M610.2 44.4V154.2M628.6 44.4V154.2M647.0 44.4V154.2M665.4 44.4V154.2M555.0 146.4H674.6M555.0 130.7H674.6M555.0 115.0H674.6M555.0 83.6H674.6M555.0 67.9H674.6M555.0 52.2H674.6M555.0 99.3H674.6" stroke="#e6e6e6" stroke-width="0.6" fill="none"/>
<clipPath id="cp102"><rect x="555.00" y="44.40" width="119.60" height="109.80"/></clipPath>
<g clip-path="url(#cp102)">
<path d="M555 96.3l.9 0 .9-.4 1 0 .9 0 .9-.9 .9 1 .9-.7 1 .5 .9 .7 .9-.1 .9-.7 .9 .8 1-.1 .9-.4 .9-.1 .9 .5 .9-.5 1-.7 .9 .9 .9-1.5 .9 1.2 .9-.7 1 .3 .9 0 .9-2.5 .9-1.2 .9-1.8 1-.8 .9-.2 .9-2 .9-.7 .9 1.3 1 0 .9-.7 .9 1 .9 .2 .9-.6 1 .8 .9-.2 .9 2.2 .9 .1 .9 .8 1 .9 .9 1.8 .9 .4 .9 .8 .9 .6 1 0 .9 .4 .9-.2 .9-.5 .9 .8 1-.1 .9 .1 .9-1.5 .9 .5 .9 .5 1 .1 .9-.9 .9 .5 .9-.5 .9 .7 1-1 .9 .8 .9-.2 .9-.3 .9-1.2 1 .6 .9-1.2 .9 1.3 .9 .1 .9 .2 1-.9 .9 .4 .9-1.1 .9 .4 .9-.3 1-.3 .9 .5 .9-.9 .9 .4 .9-.8 1 0 .9 1.1 .9-.2 .9 .8 .9 .1 1-.3 .9-.5 .9 .3 .9-.7 .9-.4 1 .3 .9 .1 .9-.1 .9-.3 .9-.5 1 .6 .9-.5 .9 .3 .9 .1 .9 .4 1-1.1 .9-.5 .9 .9 .9-1.2 .9 .8 1-.5 .9 0 .9-.1 .9 .1 .9-.4 1 1.6 .9-1.5 .9-.6 .9 1.2 .9 0 1 .2 .9-.2 .9-.1 .9-.3 .9 .7 1 .4 .9-1.1 .9 .6 .9-.6 .9-.4 1 0 .9 0 .9 0 0 19-.9-1-.9 .7-1-.5-.9 1-.9 .8-.9-.2-.9-.9-1-.1-.9 .3-.9 .3-.9-.8-.9-.3-1 1.2-.9-1.1-.9-.1-.9 .1-.9 .2-1 .1-.9 .5-.9-.8-.9 .4-.9 .1-1 .7-.9-1-.9 0-.9 .5-.9-.3-1-.1-.9 .8-.9-1-.9 .5-.9-.5-1-.6-.9 1.2-.9 .4-.9-1.6-.9-.1-1 1.1-.9-.5-.9-.1-.9-.5-.9 1.3-1 0-.9-.6-.9-.3-.9-.3-.9-.2-1 .8-.9 .2-.9 .1-.9-.8-.9-.7-1 .7-.9 .9-.9-.3-.9-.4-.9 .5-1-.4-.9-.7-.9-.2-.9 .2-.9-.8-1 1.2-.9 .5-.9 .3-.9-1.7-.9 .4-1 0-.9 .2-.9-.3-.9 0-.9-.4-1-.5-.9 .6-.9 .6-.9-.4-.9 .8-1-.3-.9-.5-.9-.7-.9 1.9-.9-.3-1-1-.9 0-.9 .6-.9-1.1-.9 .8-1-1.2-.9 .8-.9-1.2-.9-.2-.9-.7-1 .9-.9 .6-.9-1.3-.9 1.1-.9-.2-1-1.2-.9 .3-.9-.3-.9 .2-.9 .7-1-1.1-.9-.1-.9 .4-.9-.2-.9-.3-1-.4-.9-.5-.9-.5-.9-1.2-.9 1-1 .8-.9-.9-.9-.4-.9 .6-.9-1.3-1 1.4-.9-.2-.9-.5-.9 .1-.9 .5-1-.1-.9-.6-.9 .4-.9-.7-.9 1.4-1-.7-.9-.3-.9 .5z" fill="#f59090" fill-opacity="0.13"/>
<path d="M555 95.6l.9 .1 .9 .4 1-.4 .9 .2 .9 0 .9 .2 .9 .4 1-1.4 .9 1.3 .9 .3 .9-.8 .9-.5 1 1.3 .9-1.1 .9 .2 .9-.1 .9 .4 1-.2 .9 .2 .9 .3 .9-1.8 .9 .1 1-.1 .9 .4 .9-1.3 .9-1.4 .9-2.4 1-1.1 .9-.4 .9-.9 .9 .2 .9-1.3 1-.4 .9 .6 .9 .3 .9 .2 .9-.1 1 2.4 .9 .7 .9 .4 .9 .8 .9-.2 1 .9 .9 1.2 .9 1.6 .9-.8 .9 .8 1 .5 .9-.1 .9 .8 .9-.4 .9 1.6 1-.9 .9 .2 .9 .4 .9 .6 .9-.1 1-.3 .9 1 .9-.8 .9-.6 .9-.2 1 1 .9 .2 .9-1.5 .9 .8 .9 .3 1-.6 .9 .5 .9-.3 .9-.8 .9 0 1 0 .9 0 .9-1.2 .9-.1 .9 .1 1-.7 .9 .9 .9-.9 .9-.8 .9 1.8 1-.7 .9 .4 .9 .5 .9-.7 .9-.7 1 1 .9 .1 .9-.4 .9-1.4 .9 1.2 1-.7 .9 .2 .9-.7 .9 1.3 .9-.7 1-.6 .9 .9 .9-.4 .9-.5 .9 1.1 1-1.7 .9 .1 .9 .4 .9-1.2 .9 .6 1-.6 .9 1.2 .9-.5 .9 .2 .9 .4 1-.3 .9-.5 .9-.4 .9 .3 .9 .2 1-.2 .9 .8 .9-.3 .9-.3 .9 .4 1 0 .9-.6 .9-.8 .9 1.8 .9-.2 1 .2 .9 .4 .9-2 0 20-.9-.1-.9 .2-1-.5-.9-.5-.9 .3-.9 .7-.9-.8-1 .8-.9-.4-.9 .2-.9-1.4-.9 .8-1-.3-.9-1-.9 .9-.9 .6-.9 .8-1-1.7-.9 .7-.9 .5-.9-1.3-.9-.1-1 .5-.9-.5-.9-.7-.9 1.9-.9-1-1 .2-.9-.6-.9 .7-.9-.5-.9 1.3-1-1.4-.9 .3-.9 0-.9 .6-.9-.7-1 .1-.9 .4-.9 .4-.9-.8-.9 .4-1 .6-.9-.6-.9 .8-.9 .2-.9-.2-1-1.7-.9 .4-.9-.7-.9 0-.9 .1-1-.4-.9 1.7-.9-.7-.9 0-.9 .5-1-1-.9 .4-.9 1.2-.9-.2-.9 .2-1-1.2-.9-.4-.9 1.2-.9-.6-.9-.3-1-1.2-.9 .5-.9 .7-.9-.3-.9-.3-1-.6-.9 1.1-.9-1-.9 .2-.9 0-1-.2-.9-.2-.9 .9-.9-1-.9-.9-1 1-.9-.2-.9-.9-.9 .3-.9-.6-1-.5-.9 .2-.9 .4-.9-1.3-.9 0-1-.6-.9-.3-.9-.8-.9 .4-.9 .5-1 0-.9-.1-.9 .3-.9 .2-.9-1.3-1 .6-.9-.4-.9 1.2-.9-.3-.9 .1-1-1.6-.9-.7-.9-.3-.9 .5-.9 .4-1-1-.9 0-.9 .6-.9-.7-.9-.3-1-.7-.9 .4-.9 .2-.9 .3-.9 .5-1 .2-.9-.4-.9 .3-.9 .2-.9 .6-1-.5-.9 .1-.9-.9z" fill="#5c9ff0" fill-opacity="0.12"/>
<path d="M555 95.5l.9-.6 .9 1 1-.7 .9-.4 .9 .4 .9 .4 .9-.9 1 .7 .9 1 .9 0 .9-.6 .9-.4 1 .9 .9-.2 .9-.1 .9-1.1 .9 .1 1 .8 .9-.4 .9-.2 .9 .2 .9-.5 1-1.3 .9-.5 .9 .3 .9-.8 .9-1.1 1-1.5 .9-.3 .9 0 .9-1.3 .9-.7 1 .1 .9 .2 .9 1 .9 1 .9-.1 1-.2 .9 1.1 .9 .3 .9-.3 .9 1.2 1 1 .9 .6 .9 .7 .9 1.3 .9 0 1 0 .9 .1 .9 .2 .9 .7 .9 .5 1 .4 .9-.9 .9 1 .9 .7 .9-.1 1-.1 .9 1 .9 .8 .9-1.7 .9 1.1 1 .3 .9-.3 .9-.8 .9 .1 .9-.4 1 0 .9-.2 .9-1.4 .9 .4 .9-.4 1-.3 .9-.3 .9 .5 .9 0 .9-.5 1 .1 .9-.6 .9 1.4 .9 .4 .9-.6 1-.2 .9 0 .9 .3 .9-.2 .9-.9 1-.3 .9 .1 .9-.1 .9 .5 .9-.2 1-.4 .9 0 .9 .4 .9-.2 .9 0 1 0 .9-1.6 .9-.4 .9 .2 .9-.6 1 1.4 .9-.3 .9-.3 .9-1 .9 .6 1 .2 .9 .7 .9-.3 .9-.5 .9 0 1 .5 .9-1.1 .9 .4 .9-.6 .9 .6 1-.3 .9 .7 .9 .4 .9-1.1 .9 .3 1 .6 .9-.8 .9 .5 .9-.8 .9 .8 1-1.4 .9 .7 .9-.7 0 19.1-.9 .1-.9 .5-1-.4-.9-.1-.9-.2-.9 .3-.9 .5-1 .6-.9-.1-.9-.9-.9 .6-.9 0-1-.5-.9-.8-.9 .1-.9-.5-.9 .7-1-.3-.9 1.2-.9-.4-.9-.1-.9 .6-1-1.3-.9 .1-.9 .4-.9-.5-.9 .3-1 .2-.9 0-.9-.7-.9 .7-.9-.1-1 1.7-.9-.3-.9-.8-.9 .4-.9-1.2-1-.1-.9 .8-.9 .2-.9 .4-.9-.9-1 0-.9 .8-.9-.4-.9 1.2-.9-.1-1-.2-.9-1-.9 .2-.9 0-.9 .1-1 .4-.9-.4-.9-.5-.9-.5-.9-.4-1 .4-.9 .2-.9 .4-.9 0-.9 1.1-1-.6-.9-1.2-.9 2-.9-.6-.9 .1-1-.6-.9 .2-.9-.5-.9-.1-.9 .3-1-.7-.9 0-.9-1.2-.9 .2-.9-.8-1 0-.9 .7-.9-1-.9-.1-.9-1.2-1 1.5-.9-1-.9-.1-.9-1.1-.9 .7-1-.6-.9 .6-.9-.4-.9-.4-.9 .5-1 0-.9 .7-.9-.5-.9-1-.9 .9-1-.5-.9-.3-.9 .8-.9 0-.9-1-1-.5-.9-.3-.9-1-.9-.1-.9-.3-1-1.4-.9 1.1-.9 0-.9-1.3-.9 1.1-1-.6-.9-.5-.9 .6-.9 .1-.9-1.3-1 .1-.9 .4-.9 .8-.9 0-.9-.3-1-.8-.9-.4-.9 .6-.9 .7-.9-.8-1 .2-.9 .3-.9 1.1z" fill="#40d8e8" fill-opacity="0.13"/>
<path d="M555 99.8l.9-.2 .9 0 1 .3 .9-.7 .9-.1 .9 .3 .9-.1 1 .3 .9 .1 .9-.1 .9-.1 .9 .6 1-.8 .9 .5 .9-.4 .9 .5 .9 .2 1-.8 .9 0 .9-.2 .9 .8 .9 0 1 .3 .9 .2 .9-1.2 .9-.8 .9-.9 1 .2 .9-.4 .9-1.2 .9-.2 .9 .6 1 .5 .9-.2 .9 0 .9 .7 .9-.6 1-.1 .9 .3 .9 1.2 .9 .6 .9 0 1 1.1 .9 .5 .9 .7 .9 .2 .9 .2 1 .5 .9 .4 .9-1 .9 .1 .9 .6 1 .1 .9-.3 .9-.6 .9 0 .9-.1 1 .3 .9-.2 .9 .2 .9-.1 .9 .2 1-.5 .9 .3 .9 .7 .9-.3 .9-.9 1-.2 .9-.3 .9 .6 .9 .2 .9 .4 1-.3 .9 0 .9-.3 .9 .3 .9-.6 1-.5 .9 .6 .9-.1 .9 .2 .9-.5 1-.4 .9 .7 .9 0 .9 .6 .9 .3 1-.2 .9-.8 .9 .4 .9-.4 .9 .1 1-.4 .9 .1 .9 .7 .9-.3 .9-.8 1 .5 .9 .1 .9-.1 .9 .5 .9-.2 1-.5 .9-.1 .9 .2 .9-.6 .9 .9 1-.6 .9-.1 .9-.2 .9 .4 .9-.4 1 .8 .9-.9 .9-.4 .9 .7 .9 .6 1-.6 .9 .1 .9 .3 .9-.2 .9 .1 1 .3 .9-.1 .9 .4 .9-.7 .9-.7 1 .2 .9-.3 .9 .5" fill="none" stroke="#cf6e6e" stroke-width="1.25" stroke-linejoin="round"/>
<path d="M555 99.3l.9 .4 .9 .2 1 0 .9-.2 .9-.1 .9 0 .9 .4 1-.8 .9 .4 .9 0 .9-.5 .9-.5 1 1 .9-.3 .9 .4 .9-.4 .9 .2 1 .5 .9-.1 .9-.2 .9-.7 .9 .4 1 .8 .9 .1 .9-.5 .9-1.3 .9-1 1-.9 .9 .5 .9-.6 .9 0 .9-.6 1-.2 .9 .1 .9-.1 .9 .5 .9 .1 1 1.5 .9 .4 .9 .8 .9 .2 .9-.2 1 .7 .9 .9 .9 .6 .9 .1 .9 .5 1-.3 .9 .4 .9 .9 .9-.6 .9 .9 1-.4 .9 .1 .9 .2 .9 .8 .9-.6 1 .1 .9 .7 .9-.3 .9-.6 .9-.4 1 1.1 .9 .2 .9-.4 .9-.2 .9 .3 1 .3 .9 .2 .9 0 .9-1.1 .9-.2 1 .5 .9-.2 .9-.6 .9 .3 .9-.8 1-.2 .9 .5 .9-.5 .9-.1 .9 .8 1 .4 .9 .4 .9 .1 .9-.8 .9 0 1 .2 .9-.2 .9 .2 .9-.8 .9 .4 1-.5 .9 .5 .9-.7 .9 .7 .9-.5 1 .4 .9-.2 .9 0 .9-.6 .9 .9 1-.9 .9 .5 .9-.8 .9-.2 .9 .5 1-.5 .9 .6 .9 .4 .9-.1 .9-.1 1 .6 .9-.6 .9-.5 .9-.3 .9 .6 1 .1 .9-.1 .9 .6 .9-.2 .9 .3 1-.4 .9 .2 .9-.8 .9 .8 .9 .1 1 .3 .9 .1 .9-.9" fill="none" stroke="#1f7ff0" stroke-width="1.25" stroke-linejoin="round"/>
<path d="M555 99.8l.9-.8 .9 .3 1-.4 .9 .1 .9-.1 .9-.1 .9-.3 1 .8 .9 .6 .9 0 .9-.6 .9-.5 1 .4 .9 .6 .9-.1 .9-.9 .9 .3 1 .7 .9-.7 .9 .6 .9 .1 .9-.8 1 0 .9-.1 .9 .2 .9 .1 .9-.4 1-.5 .9 .3 .9 .1 .9-1.1 .9-.2 1 .3 .9-.3 .9 1 .9 .7 .9-.4 1-.1 .9 .3 .9 .4 .9 0 .9 .3 1 .8 .9 0 .9 .9 .9 .6 .9 .5 1-.7 .9 .7 .9 .1 .9 .9 .9-.2 1 .3 .9-.1 .9 .4 .9 .9 .9 0 1 .3 .9 .3 .9 .5 .9-.6 .9 .5 1 .4 .9-.2 .9-.1 .9-1 .9 .4 1 .3 .9-.6 .9-.7 .9 0 .9-.3 1-.4 .9 .1 .9 .5 .9 .2 .9 0 1-.1 .9-.4 .9 .7 .9 .1 .9 .2 1 0 .9 0 .9-.4 .9 .1 .9-.8 1-.2 .9 .5 .9-.2 .9 .1 .9-.5 1-.1 .9 .5 .9 .1 .9 .3 .9 .1 1-.9 .9-.7 .9-.6 .9 .5 .9-.3 1 .6 .9-.3 .9 .1 .9-.7 .9 .2 1 .8 .9 .1 .9-.1 .9-.1 .9-.6 1 .4 .9-.9 .9 .5 .9-.4 .9 .7 1 .1 .9 .4 .9-.2 .9 0 .9 .2 1 0 .9-.7 .9 .1 .9-.3 .9 .4 1-.4 .9 0 .9-.3" fill="none" stroke="#2ad6c4" stroke-width="1.25" stroke-linejoin="round"/>
</g>
<line x1="573.40" y1="59.69" x2="573.40" y2="154.20" stroke="#4a4a4a" stroke-width="0.95" stroke-dasharray="4,3.55"/>
<text x="572.40" y="51.17" font-size="4.0" fill="#a0a0a0" >Stimulus</text>
<text x="572.40" y="57.06" font-size="4.0" fill="#a0a0a0" >Onset</text>
<text x="555.20" y="121.01" font-size="3.8" fill="#333333" >HC MSB-</text>
<text x="555.20" y="128.85" font-size="3.8" fill="#333333" >HC MSB+</text>
<text x="555.20" y="136.69" font-size="3.8" fill="#333333" >MSB- MSB+</text>
<path d="M555.0 44.4H674.6M555.0 154.2H674.6" stroke="#6e6e6e" stroke-width="0.8"/>
<path d="M555.0 44.4V154.2M674.6 44.4V154.2" stroke="#9e9e9e" stroke-width="0.7"/>
<path d="M555.0 154.2v-1.3M555.0 44.4v1.3M573.4 154.2v-1.3M573.4 44.4v1.3M591.8 154.2v-1.3M591.8 44.4v1.3M610.2 154.2v-1.3M610.2 44.4v1.3M628.6 154.2v-1.3M628.6 44.4v1.3M647.0 154.2v-1.3M647.0 44.4v1.3M665.4 154.2v-1.3M665.4 44.4v1.3M555.0 146.4h1.3M674.6 146.4h-1.3M555.0 130.7h1.3M674.6 130.7h-1.3M555.0 115.0h1.3M674.6 115.0h-1.3M555.0 99.3h1.3M674.6 99.3h-1.3M555.0 83.6h1.3M674.6 83.6h-1.3M555.0 67.9h1.3M674.6 67.9h-1.3M555.0 52.2h1.3M674.6 52.2h-1.3" stroke="#444" stroke-width="0.6" fill="none"/>
<text x="552.60" y="148.95" font-size="7.2" text-anchor="end" fill="#262626" >-0.6</text>
<text x="552.60" y="133.26" font-size="7.2" text-anchor="end" fill="#262626" >-0.4</text>
<text x="552.60" y="117.58" font-size="7.2" text-anchor="end" fill="#262626" >-0.2</text>
<text x="552.60" y="101.89" font-size="7.2" text-anchor="end" fill="#262626" >0</text>
<text x="552.60" y="86.21" font-size="7.2" text-anchor="end" fill="#262626" >0.2</text>
<text x="552.60" y="70.52" font-size="7.2" text-anchor="end" fill="#262626" >0.4</text>
<text x="552.60" y="54.83" font-size="7.2" text-anchor="end" fill="#262626" >0.6</text>
<text x="555.00" y="163.92" font-size="7.2" text-anchor="middle" fill="#262626" >-0.2</text>
<text x="573.40" y="163.92" font-size="7.2" text-anchor="middle" fill="#262626" >0</text>
<text x="591.80" y="163.92" font-size="7.2" text-anchor="middle" fill="#262626" >0.2</text>
<text x="610.20" y="163.92" font-size="7.2" text-anchor="middle" fill="#262626" >0.4</text>
<text x="628.60" y="163.92" font-size="7.2" text-anchor="middle" fill="#262626" >0.6</text>
<text x="647.00" y="163.92" font-size="7.2" text-anchor="middle" fill="#262626" >0.8</text>
<text x="665.40" y="163.92" font-size="7.2" text-anchor="middle" fill="#262626" >1</text>
<text x="614.80" y="172.56" font-size="7.416" text-anchor="middle" fill="#262626" >Time (s)</text>
<text x="536.60" y="99.30" font-size="7.85" text-anchor="middle" fill="#262626" transform="rotate(-90 536.60 99.30)">Occupancy level (a.u.)</text>
<text x="614.80" y="41.60" font-size="8.928" text-anchor="middle" font-weight="bold" fill="#000" >2 back T</text>
<rect x="638.31" y="48.20" width="32.29" height="19.76" fill="#fff" stroke="#6a6a6a" stroke-width="0.6" />
<line x1="639.31" y1="51.96" x2="653.16" y2="51.96" stroke="#e87a7a" stroke-width="1.3" />
<text x="655.10" y="53.66" font-size="4.8" fill="#262626" >HC</text>
<line x1="639.31" y1="58.08" x2="653.16" y2="58.08" stroke="#1f7ff0" stroke-width="1.3" />
<text x="655.10" y="59.78" font-size="4.8" fill="#262626" >MSB-</text>
<line x1="639.31" y1="64.21" x2="653.16" y2="64.21" stroke="#2ad6c4" stroke-width="1.3" />
<text x="655.10" y="65.91" font-size="4.8" fill="#262626" >MSB+</text>
<path d="M258.4 197.3V307.1M276.8 197.3V307.1M295.2 197.3V307.1M313.6 197.3V307.1M332.0 197.3V307.1M350.4 197.3V307.1M240.0 299.3H359.6M240.0 283.6H359.6M240.0 267.9H359.6M240.0 236.5H359.6M240.0 220.8H359.6M240.0 205.1H359.6M240.0 252.2H359.6" stroke="#e6e6e6" stroke-width="0.6" fill="none"/>
<clipPath id="cp103"><rect x="240.00" y="197.30" width="119.60" height="109.80"/></clipPath>
<g clip-path="url(#cp103)">
<path d="M240 248.1l.9-.4 .9-.1 1 .6 .9 .9 .9-1.5 .9 .3 .9-.4 1 .9 .9-.8 .9 1 .9-.1 .9 1.4 1-1.9 .9 1.5 .9-.3 .9 0 .9-.7 1 .2 .9-.1 .9-.2 .9-.1 .9 0 1-.2 .9-1.8 .9-.2 .9-2.1 .9-.4 1-1.6 .9-2 .9-.9 .9-1.3 .9-1.1 1 .5 .9 .6 .9 .6 .9 1.3 .9-.2 1 .8 .9 1.9 .9-.4 .9 1.7 .9 .5 1 1.1 .9 .5 .9 1.2 .9 1.2 .9 .7 1 .6 .9 1.3 .9 .1 .9-.5 .9 1.5 1-.1 .9 0 .9-.3 .9-.1 .9 .9 1-1.1 .9 .5 .9-.6 .9-.1 .9-1.3 1 1.3 .9-1.4 .9-.1 .9 1 .9-.6 1-.7 .9 0 .9 .4 .9-1.4 .9-.5 1-1.2 .9-.9 .9 .2 .9 .8 .9-1.4 1-.6 .9 1.1 .9-.2 .9-1 .9-.4 1-.6 .9 .4 .9 .4 .9-1.8 .9 1.3 1-1.5 .9 .1 .9 0 .9-.1 .9-1 1 1.1 .9 .5 .9-1.1 .9-.2 .9 .6 1-.4 .9-1 .9 .1 .9 .1 .9 0 1-.3 .9 .2 .9-.7 .9 .9 .9-.2 1-.2 .9 .6 .9-1.3 .9 .9 .9 .8 1-.6 .9 .1 .9 .7 .9-.3 .9-.4 1 1 .9-.8 .9-.4 .9 .3 .9 .2 1-.1 .9 0 .9-.4 .9-.3 .9-.4 1 1.5 .9-.2 .9-.5 0 19.9-.9-1.2-.9 0-1-.2-.9 .6-.9-.8-.9-.3-.9 1.6-1 0-.9-.7-.9-.3-.9-1.1-.9 .9-1-.2-.9 .2-.9-.6-.9-.1-.9 .8-1-.3-.9 .3-.9-.4-.9 .4-.9-.9-1 .7-.9-1.2-.9 .1-.9-.1-.9 .6-1 .5-.9-1.5-.9 1.6-.9-.5-.9 1.1-1-1.2-.9 .4-.9-.6-.9 .7-.9-.2-1 0-.9-.1-.9 0-.9-.9-.9 1.4-1-.3-.9 0-.9 .3-.9 1.2-.9-.2-1-1.2-.9 1.4-.9 .3-.9-.2-.9 .1-1-.1-.9 .1-.9 .6-.9-.2-.9 .6-1 .1-.9 .9-.9 .2-.9 .5-.9-.5-1 .4-.9-.3-.9 .6-.9-.1-.9-.5-1 .5-.9-.1-.9 .9-.9-1.3-.9 1-1 1-.9-.4-.9-1-.9 .5-.9 1.1-1-1.5-.9-.9-.9 .3-.9-1.1-.9-.2-1 1.1-.9-1.2-.9-.5-.9 0-.9-1.9-1 .5-.9 .7-.9-.8-.9-1.3-.9-1.3-1 .4-.9-.2-.9 0-.9-1.9-.9-.1-1 1.3-.9 .6-.9-.8-.9 .9-.9 .5-1 .5-.9 .2-.9 .2-.9-.7-.9-.9-1-.9-.9 0-.9-.7-.9 .4-.9-.6-1 1.1-.9-1.3-.9 1.9-.9-1.3-.9 .2-1-.1-.9 .8-.9-1.4-.9 .1-.9-.8-1 1.5-.9-1.3-.9 1.1-.9 .1-.9-.4-1 .8-.9 0-.9-1.2z" fill="#f59090" fill-opacity="0.13"/>
<path d="M240 248.5l.9-.9 .9 .2 1-.2 .9 1.1 .9 0 .9-.7 .9 .8 1-.2 .9 .4 .9-1.1 .9 1.3 .9-1.4 1 .9 .9-.4 .9 .5 .9-.5 .9 1 1-.2 .9-.9 .9 .7 .9-.5 .9-.7 1-.9 .9-.7 .9-.1 .9-1.2 .9-.1 1-2.2 .9-1.2 .9-1.9 .9-.8 .9-.1 1 1 .9 .4 .9 .6 .9-.2 .9 .9 1 1.2 .9 .7 .9 .9 .9 1.2 .9 1.5 1 .2 .9 .9 .9 1.7 .9 .3 .9 1.4 1 .4 .9 .1 .9 .3 .9 .6 .9 0 1 .4 .9 0 .9 1.3 .9-.4 .9-.1 1 0 .9 .8 .9-1.7 .9 .8 .9 .7 1-.3 .9 .4 .9-1.3 .9-1.2 .9-.3 1 .3 .9 .3 .9 0 .9-.9 .9 .7 1-.9 .9-.5 .9-.7 .9 .3 .9-.8 1-1.1 .9 .8 .9-.1 .9-1 .9-.5 1-.8 .9-.5 .9 .3 .9-1 .9 .6 1-.6 .9 .3 .9-.1 .9-.8 .9 .2 1-1.4 .9 .5 .9-.5 .9 .1 .9-.4 1 .3 .9-.5 .9-.2 .9 1 .9-1.5 1-.2 .9 .5 .9-.5 .9 .1 .9 .9 1-.2 .9-.4 .9-.5 .9 .3 .9 .4 1 .5 .9-.7 .9 .1 .9-1 .9 1.5 1 .1 .9-.4 .9 1 .9-.9 .9 .2 1 .4 .9 .1 .9 .2 .9-.9 .9 0 1-.1 .9-.8 .9 .9 0 17.8-.9-.1-.9 .9-1-.4-.9 1.4-.9-1.1-.9-.2-.9 1.1-1-.2-.9 .3-.9-1.1-.9 0-.9-.4-1-.5-.9-.3-.9-.2-.9 .6-.9 .1-1 .1-.9 0-.9-.7-.9 .7-.9-1-1 .7-.9-1.2-.9-.1-.9 0-.9 1.3-1 0-.9-.4-.9 .5-.9-.7-.9 .9-1-1.5-.9 .2-.9 .5-.9 .1-.9 1.2-1 .6-.9 .6-.9-.6-.9 0-.9 1-1 0-.9-1-.9 .1-.9 1-.9 .6-1 .8-.9-1.4-.9 .9-.9 .2-.9-.5-1 .7-.9 .4-.9-.3-.9 1.2-.9-.5-1 1.2-.9 .6-.9 .1-.9-.2-.9-.2-1-.7-.9 .8-.9 .1-.9-.1-.9-.1-1-.4-.9 .3-.9-.2-.9-.1-.9 .5-1-1.1-.9 .4-.9-.2-.9-.2-.9 .2-1-.2-.9-.3-.9-.9-.9 .5-.9-.2-1-1.2-.9-1.1-.9 .3-.9-.1-.9 .2-1-1.3-.9-.4-.9-1.4-.9 1.3-.9-2.3-1 1.1-.9-.3-.9-.7-.9-1.2-.9 .3-1 0-.9-.5-.9 .8-.9-.3-.9 1.5-1-.9-.9 .7-.9-2-.9 0-.9-1-1-.2-.9-.2-.9 .5-.9-.8-.9-.4-1 .1-.9-.3-.9 .9-.9-.8-.9 1-1-1-.9-.2-.9 .8-.9-.1-.9-.8-1 .9-.9 .3-.9 .8-.9-1.5-.9-.3-1 0-.9 1.3-.9-1z" fill="#5c9ff0" fill-opacity="0.12"/>
<path d="M240 248.6l.9-.6 .9 .4 1 .5 .9-.1 .9-.4 .9 .1 .9 .4 1 .1 .9-.1 .9 .9 .9-.5 .9-1.3 1 1.4 .9-.5 .9 .2 .9-.5 .9 0 1 .3 .9 .5 .9-1 .9-.2 .9 .1 1-1.1 .9-.1 .9-.8 .9-1 .9-1.4 1-1.4 .9-1.1 .9-.5 .9-.1 .9-1.5 1 1 .9 .4 .9 1.1 .9 1.2 .9-.4 1 .7 .9 .2 .9 1.2 .9 .5 .9 1.3 1-.8 .9 1.2 .9-.3 .9 1.5 .9 .8 1 1.7 .9-1.1 .9 .5 .9 1.3 .9-.3 1 1 .9-1 .9 1.8 .9 .5 .9-.8 1 1.3 .9-.3 .9-.3 .9 1 .9-.3 1 .5 .9 0 .9-.2 .9-.5 .9 .4 1 0 .9-1.1 .9-.5 .9 .3 .9-1.2 1-.4 .9 .5 .9-.8 .9 1.3 .9 .1 1-1.4 .9-.7 .9-.3 .9 .1 .9 0 1 .6 .9 0 .9-1.5 .9-.7 .9-.3 1 0 .9-.2 .9 0 .9-.8 .9-1.6 1 .3 .9 .8 .9-.6 .9-1.4 .9 .4 1-.1 .9 .4 .9-1 .9-.4 .9 .7 1-.5 .9-.5 .9-.2 .9-.3 .9 1.1 1-.8 .9 .4 .9 .3 .9 .1 .9 .9 1 0 .9-1.5 .9 1.2 .9-.3 .9-1.4 1 .3 .9 .8 .9-.5 .9 .8 .9 .6 1-.5 .9-.4 .9 .1 .9 .4 .9 0 1-1.1 .9 .9 .9 .9 0 17.7-.9 .6-.9-.6-1 .4-.9-.4-.9 .6-.9 .2-.9-.2-1-1.2-.9-.1-.9 .1-.9-.1-.9-.9-1 .8-.9 .1-.9-.6-.9 .8-.9 0-1-.6-.9 .2-.9-.8-.9-.1-.9-.2-1 .1-.9 .7-.9-.7-.9-.3-.9 .4-1-.4-.9 .3-.9 .5-.9-.4-.9 1.1-1 0-.9-.3-.9 .4-.9-.4-.9-.2-1 1.2-.9 .7-.9 .9-.9 .2-.9 .7-1-.5-.9 .6-.9-.6-.9 .7-.9-.4-1 1.3-.9-.6-.9-.2-.9 .4-.9 1.2-1-.8-.9 .2-.9-.3-.9-.5-.9 .9-1 .1-.9 .8-.9 0-.9-.7-.9 .5-1 .8-.9-.3-.9-1.3-.9-.1-.9 .3-1 .7-.9-1.6-.9-.7-.9-.2-.9 .4-1 0-.9 0-.9-1.4-.9 .1-.9-.6-1 .8-.9-1.1-.9 0-.9-.6-.9-.6-1 0-.9-1.4-.9 .8-.9 .3-.9-.1-1-.9-.9-.5-.9 .7-.9-.5-.9-.2-1-.2-.9-.1-.9-.8-.9 1.2-.9-2-1 .4-.9-.6-.9-.3-.9 .2-.9 0-1 .4-.9-.4-.9 1.4-.9-1.1-.9-1-1-.8-.9-1-.9 .8-.9-.8-.9 .5-1-.4-.9-1.2-.9 .2-.9 .1-.9 1-1-.4-.9 .7-.9-.1-.9 .3-.9 .2-1-.3-.9 .5-.9-1.4-.9 .2-.9-.2-1-.2-.9 1.2-.9-.4z" fill="#40d8e8" fill-opacity="0.13"/>
<path d="M240 251.6l.9 .4 .9 0 1-.1 .9 .6 .9-.8 .9-.4 .9 .4 1-.2 .9 0 .9 .4 .9 .7 .9 .2 1-.8 .9 .6 .9 .5 .9-.9 .9 .3 1-.5 .9 .3 .9-.3 .9 .3 .9-.1 1 .4 .9-.4 .9 .2 .9-1.2 .9-.3 1-1 .9-1.2 .9-.9 .9-.3 .9-.9 1-.4 .9 .4 .9 1.2 .9 .7 .9 0 1 .2 .9 1.6 .9 .5 .9 1.2 .9-.1 1 .3 .9 1.2 .9 .6 .9 .8 .9 1 1-.3 .9 .8 .9 .6 .9-.4 .9 1.2 1 .7 .9-.5 .9-.4 .9 .4 .9 .6 1-1 .9-.2 .9 .3 .9-.5 .9-.6 1 .4 .9-.4 .9-.1 .9 .2 .9-.1 1-.6 .9 .3 .9-.1 .9-.7 .9-.7 1-.7 .9-.8 .9 .2 .9 .1 .9-.7 1-.2 .9 .4 .9 0 .9-.6 .9-.9 1 .3 .9 .3 .9-.4 .9-1 .9 .6 1-.6 .9-.7 .9 .5 .9 0 .9-.5 1 .6 .9 .3 .9-.9 .9 .2 .9 .1 1 .4 .9-1.1 .9 .3 .9-.7 .9 .7 1-.4 .9-.1 .9-.3 .9 .3 .9 .6 1-.5 .9 .8 .9-.9 .9 .7 .9 .2 1-.1 .9-.4 .9 .4 .9 .1 .9-.3 1 .7 .9-.9 .9 .3 .9 .3 .9 .5 1 0 .9-.8 .9-.1 .9 .2 .9-.4 1 .8 .9-.1 .9 .4" fill="none" stroke="#cf6e6e" stroke-width="1.25" stroke-linejoin="round"/>
<path d="M240 251.9l.9 .1 .9-.6 1-.1 .9 .7 .9 .8 .9-.8 .9 .3 1-.5 .9 .5 .9-.4 .9 .2 .9-.6 1 1 .9-.8 .9 .7 .9-.7 .9 .7 1-.2 .9-.3 .9 .8 .9-.5 .9-.2 1-.4 .9 .1 .9 0 .9 .4 .9-.4 1-.7 .9-1.3 .9-.8 .9-.8 .9 .2 1 .5 .9 0 .9 1 .9 .2 .9 .6 1 .1 .9 1.5 .9-.3 .9 1.3 .9 1 1 .7 .9 .4 .9 .9 .9 0 .9 1.3 1 .7 .9 .2 .9-.1 .9 .7 .9 .2 1 .3 .9-.1 .9 .8 .9-.2 .9-.2 1 .6 .9 .1 .9-.8 .9 .5 .9 .2 1 .1 .9 .2 .9-.6 .9-.7 .9-.5 1 .5 .9 .3 .9 .1 .9-.6 .9 .1 1-1 .9-.1 .9-.9 .9 .3 .9-.6 1-.9 .9 .7 .9-.2 .9-1 .9 .5 1-.8 .9-.5 .9-.4 .9-.6 .9 .8 1-.2 .9-.4 .9-.1 .9-.1 .9-.2 1-1 .9-.3 .9-.3 .9-.2 .9-.3 1 .9 .9-.7 .9 .3 .9 .2 .9-.5 1-.1 .9-.5 .9-.2 .9 .1 .9 1 1-.4 .9 .3 .9-.6 .9 .5 .9 .2 1 .2 .9-.4 .9-.3 .9-.4 .9 1 1 .3 .9 0 .9 .4 .9 .1 .9 0 1 .3 .9-.5 .9 .2 .9 .1 .9-.7 1 .1 .9-.8 .9 .5" fill="none" stroke="#1f7ff0" stroke-width="1.25" stroke-linejoin="round"/>
<path d="M240 252.4l.9-.2 .9-.4 1 .4 .9 .1 .9-.4 .9 .8 .9-.1 1 .3 .9-.2 .9 .3 .9-.2 .9-1 1 .9 .9-.8 .9 .1 .9-.4 .9 .7 1 .3 .9 0 .9-.1 .9-.5 .9 .6 1-.2 .9 .5 .9 .1 .9-1.2 .9-.5 1-.9 .9-.6 .9-.3 .9 .1 .9-.5 1 .4 .9 1.2 .9-.1 .9 1 .9-.2 1 .5 .9 .2 .9 .8 .9-.1 .9 .9 1 .1 .9 .7 .9-.4 .9 .4 .9 1.1 1 .9 .9-.3 .9 .5 .9 .7 .9 .4 1 .1 .9-.2 .9 .9 .9 .9 .9-.4 1 .6 .9-.3 .9-.1 .9 .9 .9 .6 1 0 .9-.2 .9 0 .9 .4 .9 .3 1-.4 .9-.8 .9 .1 .9 .2 .9-1.1 1-.2 .9-.2 .9-.2 .9 .9 .9-.1 1-.3 .9-.9 .9-.4 .9 .1 .9 .4 1-.4 .9 .2 .9-1.1 .9-.1 .9-.4 1 .2 .9-.4 .9-.1 .9-.9 .9-1.1 1-.5 .9 .6 .9-.1 .9-.9 .9 .3 1-.1 .9-.3 .9-.3 .9-.4 .9 .2 1-.1 .9-.4 .9 0 .9 .2 .9 .2 1-.4 .9 .3 .9 .1 .9 .5 .9 .4 1 .2 .9-.7 .9 .2 .9 .1 .9-.7 1-.3 .9 .9 .9-.2 .9 .3 .9 .4 1 .4 .9-.1 .9-.1 .9-.1 .9 .2 1-.7 .9 .7 .9 .2" fill="none" stroke="#2ad6c4" stroke-width="1.25" stroke-linejoin="round"/>
</g>
<line x1="258.40" y1="212.59" x2="258.40" y2="307.10" stroke="#4a4a4a" stroke-width="0.95" stroke-dasharray="4,3.55"/>
<text x="257.40" y="204.07" font-size="4.0" fill="#a0a0a0" >Stimulus</text>
<text x="257.40" y="209.96" font-size="4.0" fill="#a0a0a0" >Onset</text>
<text x="240.20" y="273.91" font-size="3.8" fill="#333333" >HC MSB-</text>
<text x="240.20" y="281.75" font-size="3.8" fill="#333333" >HC MSB+</text>
<text x="240.20" y="289.59" font-size="3.8" fill="#333333" >MSB- MSB+</text>
<path d="M240.0 197.3H359.6M240.0 307.1H359.6" stroke="#6e6e6e" stroke-width="0.8"/>
<path d="M240.0 197.3V307.1M359.6 197.3V307.1" stroke="#9e9e9e" stroke-width="0.7"/>
<path d="M240.0 307.1v-1.3M240.0 197.3v1.3M258.4 307.1v-1.3M258.4 197.3v1.3M276.8 307.1v-1.3M276.8 197.3v1.3M295.2 307.1v-1.3M295.2 197.3v1.3M313.6 307.1v-1.3M313.6 197.3v1.3M332.0 307.1v-1.3M332.0 197.3v1.3M350.4 307.1v-1.3M350.4 197.3v1.3M240.0 299.3h1.3M359.6 299.3h-1.3M240.0 283.6h1.3M359.6 283.6h-1.3M240.0 267.9h1.3M359.6 267.9h-1.3M240.0 252.2h1.3M359.6 252.2h-1.3M240.0 236.5h1.3M359.6 236.5h-1.3M240.0 220.8h1.3M359.6 220.8h-1.3M240.0 205.1h1.3M359.6 205.1h-1.3" stroke="#444" stroke-width="0.6" fill="none"/>
<text x="237.60" y="301.85" font-size="7.2" text-anchor="end" fill="#262626" >-0.6</text>
<text x="237.60" y="286.16" font-size="7.2" text-anchor="end" fill="#262626" >-0.4</text>
<text x="237.60" y="270.48" font-size="7.2" text-anchor="end" fill="#262626" >-0.2</text>
<text x="237.60" y="254.79" font-size="7.2" text-anchor="end" fill="#262626" >0</text>
<text x="237.60" y="239.11" font-size="7.2" text-anchor="end" fill="#262626" >0.2</text>
<text x="237.60" y="223.42" font-size="7.2" text-anchor="end" fill="#262626" >0.4</text>
<text x="237.60" y="207.73" font-size="7.2" text-anchor="end" fill="#262626" >0.6</text>
<text x="240.00" y="316.82" font-size="7.2" text-anchor="middle" fill="#262626" >-0.2</text>
<text x="258.40" y="316.82" font-size="7.2" text-anchor="middle" fill="#262626" >0</text>
<text x="276.80" y="316.82" font-size="7.2" text-anchor="middle" fill="#262626" >0.2</text>
<text x="295.20" y="316.82" font-size="7.2" text-anchor="middle" fill="#262626" >0.4</text>
<text x="313.60" y="316.82" font-size="7.2" text-anchor="middle" fill="#262626" >0.6</text>
<text x="332.00" y="316.82" font-size="7.2" text-anchor="middle" fill="#262626" >0.8</text>
<text x="350.40" y="316.82" font-size="7.2" text-anchor="middle" fill="#262626" >1</text>
<text x="299.80" y="325.46" font-size="7.416" text-anchor="middle" fill="#262626" >Time (s)</text>
<text x="221.60" y="252.20" font-size="7.85" text-anchor="middle" fill="#262626" transform="rotate(-90 221.60 252.20)">Occupancy level (a.u.)</text>
<text x="299.80" y="194.50" font-size="8.928" text-anchor="middle" font-weight="bold" fill="#000" >0 back D</text>
<rect x="323.31" y="201.10" width="32.29" height="19.76" fill="#fff" stroke="#6a6a6a" stroke-width="0.6" />
<line x1="324.31" y1="204.86" x2="338.16" y2="204.86" stroke="#e87a7a" stroke-width="1.3" />
<text x="340.10" y="206.56" font-size="4.8" fill="#262626" >HC</text>
<line x1="324.31" y1="210.98" x2="338.16" y2="210.98" stroke="#1f7ff0" stroke-width="1.3" />
<text x="340.10" y="212.68" font-size="4.8" fill="#262626" >MSB-</text>
<line x1="324.31" y1="217.11" x2="338.16" y2="217.11" stroke="#2ad6c4" stroke-width="1.3" />
<text x="340.10" y="218.81" font-size="4.8" fill="#262626" >MSB+</text>
<path d="M415.8 197.3V307.1M434.2 197.3V307.1M452.6 197.3V307.1M471.0 197.3V307.1M489.4 197.3V307.1M507.8 197.3V307.1M397.4 299.3H517.0M397.4 283.6H517.0M397.4 267.9H517.0M397.4 236.5H517.0M397.4 220.8H517.0M397.4 205.1H517.0M397.4 252.2H517.0" stroke="#e6e6e6" stroke-width="0.6" fill="none"/>
<clipPath id="cp104"><rect x="397.40" y="197.30" width="119.60" height="109.80"/></clipPath>
<g clip-path="url(#cp104)">
<path d="M397.4 247.9l.9 .8 .9-.4 1 1 .9-.8 .9-.3 .9 .2 .9-.4 1 1.1 .9-1.3 .9-.1 .9 .8 .9-.4 1 .8 .9 .6 .9 .2 .9-.6 .9-.6 1 .2 .9-.1 .9-1.1 .9 .3 .9-.8 1 .3 .9-.5 .9-1.4 .9-.1 .9-.9 1-1.6 .9-1.6 .9-2 .9-.8 .9 .6 1 .7 .9 .4 .9 1.7 .9 1.1 .9 .7 1 .9 .9 1 .9 .4 .9 1 .9 1.2 1 .3 .9 1.4 .9-.6 .9 1.1 .9-.3 1 .3 .9 .4 .9-.8 .9 .3 .9-.5 1 .4 .9 1.8 .9-1 .9 .4 .9-.6 1 .6 .9 .7 .9-.4 .9 .1 .9-.4 1-1.3 .9 .4 .9 .9 .9-1.1 .9-.4 1 .6 .9 0 .9 0 .9-1.6 .9 .5 1-.4 .9-.3 .9-.9 .9-.1 .9 .2 1-.2 .9-.2 .9 .4 .9 .2 .9-1.6 1 .4 .9-1.1 .9 .4 .9-.3 .9 .2 1 .4 .9-.3 .9-1.3 .9 .5 .9-1 1 .3 .9-.6 .9 1.2 .9-1.3 .9 .1 1-.5 .9 .1 .9 .3 .9-.6 .9-.7 1 .7 .9-.2 .9-.6 .9-.6 .9 .4 1 1.1 .9 .6 .9-.4 .9-.3 .9-.7 1 .8 .9-.8 .9 1.1 .9-.9 .9 .7 1-.2 .9 1.2 .9-.6 .9-.3 .9 .7 1-1.2 .9 .9 .9 .3 .9-.9 .9 0 1-.5 .9 0 .9 1.1 0 18.5-.9-.3-.9 .4-1-1.4-.9 .8-.9-.3-.9-.2-.9 1-1-.9-.9-.7-.9 .3-.9 .7-.9 .4-1 0-.9-.2-.9-1.1-.9 .4-.9-.5-1 .5-.9-1.2-.9 .3-.9 .5-.9-.6-1 .7-.9-.5-.9 .1-.9 0-.9 .4-1-.5-.9 .4-.9-.3-.9-.6-.9 .4-1 .3-.9 .2-.9 .1-.9 .8-.9-.8-1 .5-.9 0-.9 .3-.9 .3-.9 .1-1 1-.9-.1-.9-.6-.9-.1-.9 0-1 .4-.9-.1-.9 .2-.9 .1-.9 0-1-.4-.9 0-.9 .6-.9 0-.9 1.5-1-1.2-.9 1-.9-.6-.9-.4-.9 .3-1 .7-.9 .5-.9-1.3-.9 .2-.9 0-1 .7-.9-.4-.9-.7-.9 .1-.9 .1-1 .5-.9-.4-.9-.3-.9-.2-.9 .2-1-.8-.9-.1-.9 .6-.9-.1-.9 .5-1 .1-.9-.6-.9 .4-.9-.4-.9-.5-1 .2-.9 .7-.9-.2-.9-1.4-.9-.5-1 0-.9-1.3-.9-.7-.9-.5-.9-1.6-1-.8-.9 0-.9 .9-.9-.2-.9 .3-1 .6-.9-.2-.9 .9-.9-1.4-.9-.3-1 .1-.9-2.2-.9 1.3-.9 .3-.9-1.7-1 1.2-.9-1.3-.9 .6-.9 .2-.9-.3-1-.1-.9-.3-.9 .4-.9 .1-.9 .1-1 .2-.9-.4-.9 1.2-.9-1.3-.9 .5-1 1.1-.9-1.1-.9 1.2z" fill="#f59090" fill-opacity="0.13"/>
<path d="M397.4 248.1l.9-.1 .9 .7 1-.5 .9 .2 .9 .3 .9 .9 .9-1.7 1 .2 .9 .5 .9-.5 .9-.7 .9 .9 1 1 .9-.8 .9 .3 .9 .1 .9-.3 1-1.2 .9 .4 .9-.1 .9 .3 .9-1 1 .4 .9-1.6 .9 .1 .9-.7 .9-1.1 1-1.7 .9-2.2 .9-1.3 .9-1.1 .9 .3 1-.7 .9 .2 .9 .3 .9 2.1 .9 1.7 1 1.1 .9 2.5 .9 .5 .9 1.4 .9 .3 1 .2 .9 1.7 .9 .4 .9 .7 .9-.1 1 1.1 .9-1.1 .9 1.4 .9-.5 .9 .4 1-.3 .9 .3 .9-.6 .9-.8 .9 .3 1 .5 .9 .4 .9 .4 .9-.5 .9-.3 1 .2 .9-.4 .9-.4 .9-.2 .9 .5 1-.4 .9 .4 .9-1.5 .9 .8 .9 .2 1-1.2 .9 .2 .9 .6 .9-.2 .9 .5 1-2.1 .9 1.6 .9-1.6 .9 .3 .9-.4 1 .3 .9-.9 .9 .5 .9-.5 .9-.3 1 .1 .9 .6 .9-.8 .9-.6 .9 .2 1-1.1 .9 1.1 .9-.3 .9-.6 .9-.2 1-.2 .9 .2 .9-.6 .9-.3 .9 .2 1 1 .9-.8 .9 .1 .9-.6 .9 .8 1 .3 .9-1.1 .9-.6 .9 0 .9-.4 1 .8 .9-.4 .9 0 .9 .7 .9 .4 1-1.6 .9 .2 .9 0 .9-.8 .9-.2 1 .5 .9 .2 .9 .4 .9-.5 .9 .5 1 1 .9-1.4 .9 1.6 0 17.7-.9 .2-.9 0-1 .5-.9-.6-.9-.6-.9-.2-.9-1.1-1 .9-.9-.6-.9-.2-.9 .6-.9 1.2-1 .1-.9-.2-.9 .4-.9-.2-.9-.5-1-.7-.9 .5-.9-.2-.9 .6-.9-.2-1 .4-.9 0-.9-.8-.9 1.1-.9-.5-1 .3-.9 .2-.9-.6-.9-.3-.9-.5-1 .5-.9-.1-.9 1-.9-.7-.9 .9-1 .9-.9-.1-.9-1-.9 .5-.9 .2-1 .1-.9-1.4-.9 .9-.9 .1-.9 0-1 .9-.9-.9-.9 .6-.9 .1-.9 .8-1-.5-.9 .5-.9-.9-.9 1.3-.9-.2-1-.5-.9 .8-.9-.7-.9 0-.9 .5-1-.5-.9-.5-.9 .1-.9 .6-.9 .4-1-1.5-.9 .7-.9 .2-.9-1-.9 .9-1-.6-.9-.2-.9-.3-.9 .2-.9 .9-1-.3-.9 .6-.9-.9-.9 0-.9-.6-1 1.4-.9-.3-.9 .1-.9-1.4-.9-.1-1-.7-.9 .2-.9 .5-.9-1.5-.9-1.3-1-.9-.9-.9-.9-1-.9-.6-.9-1.7-1 1.1-.9 .2-.9-.3-.9 .7-.9 .8-1 .5-.9-.2-.9 1.3-.9-1.1-.9-.2-1-1.2-.9-1.4-.9-.6-.9 .6-.9 .3-1-.7-.9 1.5-.9-1.3-.9 1-.9-.7-1-.1-.9-.1-.9-.6-.9 .5-.9-.1-1 .8-.9 .1-.9 1.3-.9-.4-.9-.7-1 1-.9-.5-.9-.3z" fill="#5c9ff0" fill-opacity="0.12"/>
<path d="M397.4 248.8l.9-.3 .9-.5 1 .2 .9 .4 .9-1.6 .9 .4 .9 1.3 1 .1 .9 .3 .9-.9 .9-.2 .9 .7 1-.5 .9 .2 .9 .5 .9-1 .9-.2 1 .4 .9 .1 .9-.6 .9 1 .9-.8 1 1.1 .9-3 .9-.1 .9-1.3 .9-.1 1-2 .9-1.4 .9 .4 .9 .9 .9-.4 1 0 .9 .1 .9 .9 .9 1.2 .9 1.9 1 .2 .9 1.7 .9 .5 .9 1.6 .9-.3 1 1.3 .9 0 .9 1.2 .9-.3 .9 1.2 1 .2 .9 .8 .9-.9 .9-.3 .9 1.5 1-1 .9 .9 .9 .6 .9-.8 .9 .8 1-.8 .9 .2 .9 .2 .9 .4 .9-1.2 1 .5 .9-.1 .9-.1 .9-.3 .9 .3 1-1.3 .9 .7 .9-.9 .9 .4 .9 0 1 .5 .9 .2 .9 1 .9-2 .9 1.4 1-1.1 .9 .3 .9-.2 .9-.6 .9 0 1-1.1 .9 1.2 .9 .2 .9-.2 .9-.9 1 .1 .9-.7 .9 .3 .9-.9 .9 .1 1-.9 .9 .5 .9-.9 .9 1 .9-1.4 1 .4 .9 .3 .9-1.3 .9 .6 .9 .4 1-.8 .9 .1 .9-.2 .9-.4 .9 .2 1-.2 .9 .6 .9-.2 .9-.5 .9-.1 1-.5 .9 .4 .9-.8 .9 .6 .9 .2 1-.7 .9 .6 .9-1 .9 0 .9-.2 1 0 .9 .3 .9-.9 .9 .2 .9 .5 1-1.5 .9 .8 .9-1 0 18.6-.9 0-.9 1.2-1-.5-.9-.4-.9 1-.9 0-.9-.1-1 1.5-.9 0-.9-.5-.9-.7-.9 .5-1-.2-.9-.7-.9 1.8-.9-.1-.9-.1-1 .4-.9-.9-.9 .6-.9-.4-.9 .2-1-1-.9 .3-.9-.1-.9 1.6-.9-.4-1 0-.9 .6-.9-.4-.9-.5-.9 .5-1-.9-.9 .6-.9 1-.9-1.1-.9 .7-1-.2-.9 1.3-.9-1.4-.9 1.2-.9-.9-1 2.1-.9-1.4-.9 .1-.9 1.1-.9-.7-1 .2-.9 1-.9-.6-.9-.9-.9 .9-1-.4-.9 .8-.9-.1-.9 .8-.9-.4-1-.6-.9-1.4-.9 .4-.9-1-.9 1.1-1-.1-.9 .7-.9 .1-.9-.4-.9-.5-1-.3-.9 .2-.9 .3-.9-.4-.9-1.1-1 .3-.9 .7-.9-.4-.9 .1-.9-.7-1 .3-.9-.8-.9 .4-.9-.7-.9 .1-1 .7-.9-.9-.9 .3-.9 .5-.9 .2-1-.4-.9 0-.9-.6-.9 .3-.9-1.4-1-.4-.9-1.2-.9-.5-.9-1.7-.9 .1-1 .6-.9-1.5-.9-.5-.9-.2-.9 .2-1 .4-.9-.4-.9-.9-.9 0-.9-.6-1 .3-.9-2-.9-.4-.9-.4-.9-.8-1 1-.9-.3-.9-.4-.9 1.2-.9-.8-1 .5-.9-.6-.9 .4-.9-.1-.9 .9-1-1.2-.9 .4-.9 .3-.9-.6-.9-.4-1 .8-.9 1.2-.9-.4z" fill="#40d8e8" fill-opacity="0.13"/>
<path d="M397.4 252.5l.9-.3 .9 .4 1 0 .9-.7 .9 .5 .9-.5 .9 0 1 .4 .9-.6 .9-.2 .9 .2 .9 0 1 .4 .9 .5 .9 0 .9-.6 .9 .4 1-.5 .9 .7 .9-.6 .9-.5 .9 .7 1 0 .9-.1 .9 .1 .9-.6 .9-.3 1-1.1 .9-1 .9-.8 .9-.9 .9 .3 1 .8 .9 1 .9 1 .9 1 .9 .9 1 .5 .9 .7 .9 1 .9 .6 .9 .2 1 0 .9 1 .9-.1 .9 .3 .9 .2 1 .1 .9-.1 .9-.3 .9-.1 .9-.3 1 .7 .9 .8 .9-.5 .9 .4 .9-.1 1 .1 .9 .2 .9-.2 .9 .4 .9 0 1-1 .9 .2 .9 .4 .9 0 .9-.4 1-.1 .9-.1 .9 .2 .9-.5 .9-.2 1 .3 .9-.9 .9-.4 .9-.4 .9 .1 1 .1 .9 0 .9 .1 .9 0 .9-.7 1-.1 .9-.5 .9 .2 .9 .2 .9 .2 1-.4 .9-.2 .9-.8 .9 .2 .9-.5 1-.2 .9 .1 .9 .2 .9-.6 .9-.1 1-.4 .9-.1 .9 .4 .9-.2 .9-.5 1 .6 .9-.3 .9-.3 .9-.4 .9 .5 1 .2 .9 .6 .9-.5 .9-.2 .9 .2 1 .2 .9-.2 .9 .3 .9 .2 .9 .4 1-.1 .9 .4 .9-.7 .9-.3 .9 .8 1-.2 .9 0 .9 .2 .9-.3 .9-.4 1 .4 .9-.1 .9 .6" fill="none" stroke="#cf6e6e" stroke-width="1.25" stroke-linejoin="round"/>
<path d="M397.4 252.3l.9 0 .9 .6 1-.7 .9 .4 .9 .4 .9-.2 .9-.9 1-.3 .9 .3 .9-.5 .9 0 .9 .4 1 .6 .9 0 .9-.4 .9 .7 .9-.9 1-.3 .9 .1 .9-.4 .9 .5 .9 .2 1 .8 .9-.7 .9 .6 .9-1 .9-.4 1-1.1 .9-1.6 .9-.9 .9-.4 .9 0 1-.9 .9 .9 .9 .5 .9 1.6 .9 1.3 1 1 .9 1.8 .9 1.1 .9 .4 .9 0 1 .5 .9 .9 .9 .9 .9 .3 .9 .1 1-.2 .9-.2 .9 .7 .9 .2 .9-.1 1 0 .9-.3 .9-.4 .9-.2 .9 .2 1 .6 .9-.3 .9 .7 .9-.4 .9-.4 1 .8 .9-.4 .9-.5 .9-.2 .9 .6 1 0 .9-.1 .9-.7 .9 .8 .9-.4 1-.3 .9 .2 .9-.3 .9 .3 .9 0 1-.8 .9 .4 .9-.9 .9-.1 .9 .3 1-.4 .9-.4 .9 .2 .9-.7 .9 .6 1 0 .9 .1 .9-.6 .9 .2 .9 .1 1-.9 .9 0 .9 .3 .9-.9 .9 0 1-.3 .9 .3 .9-.1 .9 .1 .9 0 1 .4 .9-.2 .9-.5 .9 .1 .9 .4 1 0 .9-.5 .9-.6 .9 .1 .9-.5 1 .8 .9 0 .9 .1 .9 .2 .9 .3 1-.9 .9-.5 .9-.2 .9-.3 .9 .1 1-.1 .9 .6 .9 .3 .9 .1 .9 .5 1 .2 .9-.6 .9 .6" fill="none" stroke="#1f7ff0" stroke-width="1.25" stroke-linejoin="round"/>
<path d="M397.4 252.6l.9 0 .9-.8 1-.4 .9 .4 .9-.5 .9 .1 .9 .4 1 .7 .9-.3 .9-.4 .9-.3 .9 .7 1-.6 .9 .5 .9-.3 .9-.3 .9 0 1-.3 .9 .5 .9-.1 .9 .7 .9 .6 1 .4 .9-1.2 .9-.1 .9-.1 .9 .1 1-1.2 .9-.8 .9 .3 .9 .7 .9 .5 1-.2 .9 0 .9 1.2 .9 .9 .9 1.6 1 .2 .9 1.6 .9 .1 .9 1.1 .9-.2 1 .9 .9-.1 .9 .3 .9-.2 .9 1 1-.3 .9 .4 .9-.1 .9-.4 .9 1.2 1-.7 .9 .8 .9 .3 .9-.2 .9 .1 1-.6 .9 .6 .9 .3 .9 .1 .9-.7 1 .4 .9 .2 .9 .2 .9-.2 .9-.2 1-.6 .9-.2 .9 0 .9 0 .9 .7 1 .6 .9 .2 .9 .2 .9-1 .9 .3 1-.3 .9-.3 .9 .3 .9 0 .9-.5 1-.6 .9 .9 .9-.4 .9-.2 .9 .2 1-.9 .9 .1 .9-.5 .9 .2 .9-.6 1-.3 .9-.1 .9 .1 .9 0 .9-1 1 .7 .9-.2 .9-.4 .9 .6 .9-.1 1-.4 .9 .2 .9-.9 .9-.2 .9 0 1 .4 .9 .2 .9 .1 .9-.5 .9 .3 1-.4 .9 .3 .9-.4 .9-.6 .9 .5 1-.3 .9 .1 .9-.2 .9 .3 .9-.2 1-.7 .9 .2 .9-.5 .9-.4 .9 .5 1-.5 .9-.2 .9-.5" fill="none" stroke="#2ad6c4" stroke-width="1.25" stroke-linejoin="round"/>
</g>
<line x1="415.80" y1="212.59" x2="415.80" y2="307.10" stroke="#4a4a4a" stroke-width="0.95" stroke-dasharray="4,3.55"/>
<text x="414.80" y="204.07" font-size="4.0" fill="#a0a0a0" >Stimulus</text>
<text x="414.80" y="209.96" font-size="4.0" fill="#a0a0a0" >Onset</text>
<text x="397.60" y="273.91" font-size="3.8" fill="#333333" >HC MSB-</text>
<text x="397.60" y="281.75" font-size="3.8" fill="#333333" >HC MSB+</text>
<text x="397.60" y="289.59" font-size="3.8" fill="#333333" >MSB- MSB+</text>
<path d="M397.4 197.3H517.0M397.4 307.1H517.0" stroke="#6e6e6e" stroke-width="0.8"/>
<path d="M397.4 197.3V307.1M517.0 197.3V307.1" stroke="#9e9e9e" stroke-width="0.7"/>
<path d="M397.4 307.1v-1.3M397.4 197.3v1.3M415.8 307.1v-1.3M415.8 197.3v1.3M434.2 307.1v-1.3M434.2 197.3v1.3M452.6 307.1v-1.3M452.6 197.3v1.3M471.0 307.1v-1.3M471.0 197.3v1.3M489.4 307.1v-1.3M489.4 197.3v1.3M507.8 307.1v-1.3M507.8 197.3v1.3M397.4 299.3h1.3M517.0 299.3h-1.3M397.4 283.6h1.3M517.0 283.6h-1.3M397.4 267.9h1.3M517.0 267.9h-1.3M397.4 252.2h1.3M517.0 252.2h-1.3M397.4 236.5h1.3M517.0 236.5h-1.3M397.4 220.8h1.3M517.0 220.8h-1.3M397.4 205.1h1.3M517.0 205.1h-1.3" stroke="#444" stroke-width="0.6" fill="none"/>
<text x="395.00" y="301.85" font-size="7.2" text-anchor="end" fill="#262626" >-0.6</text>
<text x="395.00" y="286.16" font-size="7.2" text-anchor="end" fill="#262626" >-0.4</text>
<text x="395.00" y="270.48" font-size="7.2" text-anchor="end" fill="#262626" >-0.2</text>
<text x="395.00" y="254.79" font-size="7.2" text-anchor="end" fill="#262626" >0</text>
<text x="395.00" y="239.11" font-size="7.2" text-anchor="end" fill="#262626" >0.2</text>
<text x="395.00" y="223.42" font-size="7.2" text-anchor="end" fill="#262626" >0.4</text>
<text x="395.00" y="207.73" font-size="7.2" text-anchor="end" fill="#262626" >0.6</text>
<text x="397.40" y="316.82" font-size="7.2" text-anchor="middle" fill="#262626" >-0.2</text>
<text x="415.80" y="316.82" font-size="7.2" text-anchor="middle" fill="#262626" >0</text>
<text x="434.20" y="316.82" font-size="7.2" text-anchor="middle" fill="#262626" >0.2</text>
<text x="452.60" y="316.82" font-size="7.2" text-anchor="middle" fill="#262626" >0.4</text>
<text x="471.00" y="316.82" font-size="7.2" text-anchor="middle" fill="#262626" >0.6</text>
<text x="489.40" y="316.82" font-size="7.2" text-anchor="middle" fill="#262626" >0.8</text>
<text x="507.80" y="316.82" font-size="7.2" text-anchor="middle" fill="#262626" >1</text>
<text x="457.20" y="325.46" font-size="7.416" text-anchor="middle" fill="#262626" >Time (s)</text>
<text x="379.00" y="252.20" font-size="7.85" text-anchor="middle" fill="#262626" transform="rotate(-90 379.00 252.20)">Occupancy level (a.u.)</text>
<text x="457.20" y="194.50" font-size="8.928" text-anchor="middle" font-weight="bold" fill="#000" >1 back D</text>
<rect x="480.71" y="201.10" width="32.29" height="19.76" fill="#fff" stroke="#6a6a6a" stroke-width="0.6" />
<line x1="481.71" y1="204.86" x2="495.56" y2="204.86" stroke="#e87a7a" stroke-width="1.3" />
<text x="497.50" y="206.56" font-size="4.8" fill="#262626" >HC</text>
<line x1="481.71" y1="210.98" x2="495.56" y2="210.98" stroke="#1f7ff0" stroke-width="1.3" />
<text x="497.50" y="212.68" font-size="4.8" fill="#262626" >MSB-</text>
<line x1="481.71" y1="217.11" x2="495.56" y2="217.11" stroke="#2ad6c4" stroke-width="1.3" />
<text x="497.50" y="218.81" font-size="4.8" fill="#262626" >MSB+</text>
<path d="M573.4 197.3V307.1M591.8 197.3V307.1M610.2 197.3V307.1M628.6 197.3V307.1M647.0 197.3V307.1M665.4 197.3V307.1M555.0 299.3H674.6M555.0 283.6H674.6M555.0 267.9H674.6M555.0 236.5H674.6M555.0 220.8H674.6M555.0 205.1H674.6M555.0 252.2H674.6" stroke="#e6e6e6" stroke-width="0.6" fill="none"/>
<clipPath id="cp105"><rect x="555.00" y="197.30" width="119.60" height="109.80"/></clipPath>
<g clip-path="url(#cp105)">
<path d="M555 249l.9-1.3 .9 1.3 1-.3 .9-.4 .9-.3 .9 .2 .9-.1 1-.5 .9 1.2 .9-.3 .9 0 .9 .2 1 .5 .9-.2 .9 0 .9-.1 .9-1 1-.3 .9 .3 .9 .4 .9 .3 .9-1.1 1-.1 .9-.8 .9-1.2 .9-.1 .9-1.9 1-2.5 .9-1.1 .9-1 .9-.9 .9 1.7 1-.1 .9-.6 .9 .7 .9 0 .9 1.5 1 0 .9 .9 .9 1 .9 1.3 .9 .2 1 .9 .9 .7 .9 .6 .9 1 .9 1.6 1-1 .9 1.2 .9 1.4 .9-.4 .9-1.2 1 .4 .9 .6 .9-.1 .9-.6 .9-.4 1 .7 .9 1.3 .9-1.2 .9 .5 .9-.7 1-.9 .9 1.1 .9-.7 .9 0 .9-.6 1 .1 .9-1.2 .9 1.6 .9-.7 .9-.5 1 .7 .9-.2 .9 .2 .9 .3 .9-1 1 .1 .9 .5 .9-.9 .9 0 .9 .5 1-.2 .9 .2 .9-.8 .9-.8 .9 0 1-.1 .9-.4 .9 .4 .9-1 .9-.3 1 .3 .9 1.5 .9-.6 .9-.2 .9-1 1 .6 .9 .1 .9 .6 .9-.6 .9 .3 1-.3 .9-.3 .9 .6 .9-.8 .9-.7 1 .4 .9-.1 .9-.4 .9 .4 .9 .5 1-.8 .9 .6 .9-.5 .9 .5 .9-1.1 1-.2 .9 .3 .9 .4 .9 .3 .9-.1 1-.4 .9 .9 .9-1.1 .9-.8 .9 .3 1 0 .9 .2 .9 .1 0 18.1-.9 1.3-.9 .1-1 0-.9-.7-.9 .4-.9-.4-.9-.6-1 .9-.9 .7-.9-1.3-.9 1.1-.9-1.2-1 .7-.9 .2-.9-.7-.9 .7-.9-.8-1-.4-.9-.2-.9 0-.9 .4-.9 1.4-1-.9-.9 .5-.9 1-.9-.4-.9 .1-1-.7-.9 .8-.9-1.3-.9 .6-.9-1.2-1 .5-.9-.4-.9 .1-.9 .7-.9-.8-1 .1-.9 .1-.9-.5-.9 1.3-.9 .6-1-1.4-.9 1.2-.9-.4-.9 .6-.9 .1-1-1-.9 .3-.9-.4-.9 .1-.9-.1-1-.3-.9 .3-.9 .7-.9-1.3-.9 1.6-1-.4-.9-.2-.9-.2-.9-.2-.9-.5-1 1-.9 .7-.9-.7-.9-1.3-.9 1.1-1 .7-.9-.2-.9 .2-.9-1.2-.9-.4-1 .6-.9 .2-.9-.7-.9 .6-.9-1.6-1 .7-.9-.1-.9 .5-.9-.1-.9-.6-1-.3-.9 .7-.9-1.2-.9 .2-.9-.9-1 .6-.9-.6-.9-.2-.9-.9-.9-.5-1-.3-.9-.8-.9 .1-.9 .6-.9-.8-1-.4-.9-.2-.9 .9-.9-.8-.9 .6-1 .1-.9 .4-.9-.4-.9 .5-.9-.7-1-.4-.9-.9-.9-1.2-.9 1.3-.9-.8-1 .2-.9-.3-.9-.3-.9-.4-.9 1.9-1-.3-.9-1.5-.9-.5-.9 .8-.9 .4-1 0-.9 .8-.9-1.5-.9 .6-.9 .7-1-.7-.9 1.1-.9-.7z" fill="#f59090" fill-opacity="0.13"/>
<path d="M555 249l.9 .7 .9-.8 1-.9 .9 1 .9-.7 .9 1.2 .9-1 1-.8 .9 .5 .9 .5 .9 .4 .9 0 1-.2 .9 .1 .9 .2 .9-.6 .9-.5 1 .3 .9 .5 .9 .6 .9-.6 .9-.6 1-.4 .9-1.5 .9-1.3 .9-.2 .9-1 1-.9 .9-1.6 .9-2.4 .9 .1 .9-.6 1 .7 .9 .5 .9 .2 .9 1.4 .9-.3 1 .5 .9 2.1 .9 .9 .9 .5 .9 1.4 1 0 .9 1 .9 .1 .9 1.3 .9 1.8 1-1.2 .9 1.1 .9-.2 .9-.2 .9 .2 1 .5 .9-.3 .9 .6 .9 0 .9-.7 1 .4 .9 .9 .9 .2 .9-.9 .9-.6 1 .7 .9-.8 .9-.1 .9-1.2 .9 1.1 1-1.1 .9-.2 .9 .5 .9-.8 .9 .5 1 0 .9 1 .9-1 .9 .3 .9-.6 1 0 .9-.5 .9-.2 .9 .7 .9-1.4 1-.3 .9 .5 .9-.2 .9 0 .9-.3 1 1.2 .9-.3 .9-.2 .9-.4 .9-.2 1 1 .9-.9 .9 .6 .9 .1 .9 0 1-.7 .9-1.1 .9 .1 .9 .2 .9-.6 1 .8 .9-1.1 .9 .4 .9 0 .9-.9 1 .6 .9 .3 .9 .1 .9 .4 .9-.1 1-1.4 .9 .3 .9 .4 .9 .4 .9 .1 1-.2 .9-.6 .9-.8 .9 0 .9-.2 1 0 .9 .2 .9-.5 .9-.4 .9 .3 1 .2 .9 .9 .9-.6 0 20.1-.9-1.8-.9 .1-1 0-.9 .7-.9-1.4-.9 .4-.9 .6-1 .2-.9-.7-.9 1.3-.9-1.2-.9 1.7-1-.1-.9-.6-.9-.7-.9 0-.9 .4-1 .3-.9-.6-.9 1.3-.9 .1-.9-.3-1-1.2-.9 .5-.9 .1-.9 .2-.9-.4-1 .9-.9-1.3-.9 .5-.9 .8-.9-.1-1-.6-.9 .6-.9-.3-.9 .6-.9-.8-1 .7-.9 .1-.9-.6-.9 .8-.9-.8-1 .5-.9-.8-.9-.9-.9 .7-.9 .3-1 .3-.9 0-.9-.6-.9 1-.9 .4-1-1.2-.9 0-.9 1.4-.9-1.2-.9 .6-1-1.7-.9 .9-.9 .4-.9-.3-.9 0-1 .1-.9 .2-.9-.1-.9 .5-.9-.6-1-.2-.9 .5-.9 .3-.9-.9-.9-.4-1 .7-.9 .5-.9-1.5-.9 .4-.9-.4-1 .6-.9-1.1-.9-.1-.9 .7-.9 .5-1-.3-.9 0-.9-1.5-.9-.3-.9-.3-1 .8-.9-1-.9 0-.9-1-.9-.3-1 .8-.9-1.2-.9-1.5-.9 .8-.9 0-1-1.8-.9 .5-.9 .6-.9 0-.9 .3-1 1.1-.9-.6-.9-.8-.9 .4-.9-.7-1-.3-.9 .1-.9-1-.9-.1-.9-.3-1 .2-.9-1.2-.9 .4-.9 .1-.9 .7-1-.4-.9 .2-.9-.8-.9 .8-.9-.3-1 .4-.9 .4-.9 .3-.9-.5-.9 .4-1-.1-.9 .1-.9 .2z" fill="#5c9ff0" fill-opacity="0.12"/>
<path d="M555 247.2l.9 0 .9 2 1-.7 .9-.2 .9 1.2 .9-.9 .9 .3 1-1 .9 .1 .9 1.1 .9-1.2 .9 .4 1 .7 .9-.1 .9-.3 .9-.4 .9 1.3 1-1.4 .9 .1 .9 .2 .9-.4 .9 0 1-1 .9-1.2 .9-.7 .9 .2 .9-1.7 1-1 .9-1 .9-.4 .9-.7 .9 .5 1 .1 .9-.4 .9 .7 .9 1.2 .9-.3 1 1.4 .9 .3 .9 .4 .9 1 .9 1.1 1-.3 .9 1.9 .9 .7 .9 .1 .9 1 1 .9 .9 .3 .9-1.1 .9 .9 .9 .3 1 .7 .9-.9 .9 .6 .9-.5 .9 .2 1 .2 .9-.5 .9-.4 .9 1.1 .9-.5 1-1 .9 .3 .9-1.3 .9-.4 .9 .2 1-.2 .9 .8 .9-.5 .9 .5 .9-.5 1 .1 .9 .5 .9-.7 .9-.2 .9-.2 1 0 .9-.3 .9 .4 .9-.7 .9 .5 1-.9 .9-.7 .9 .6 .9-.7 .9 .6 1-.7 .9 .2 .9-.1 .9-.3 .9 .3 1 .7 .9-.2 .9-.4 .9-.6 .9-.2 1 .1 .9 .3 .9 .7 .9-.1 .9-.9 1-.2 .9 1.2 .9-.8 .9-.2 .9-1 1-.3 .9 1 .9 .2 .9-1.1 .9 .9 1-.2 .9-.8 .9 .6 .9 .6 .9 .5 1-.1 .9 0 .9-.7 .9-.9 .9 .4 1 .6 .9-1 .9-.1 .9 .5 .9-.1 1-.3 .9 .8 .9-.6 0 19.4-.9-.5-.9 .7-1-.8-.9 1.1-.9-.9-.9 .4-.9-1-1 .6-.9-.4-.9 .4-.9 .9-.9-.1-1-.8-.9-.4-.9-.4-.9-.2-.9-.4-1 .9-.9 .6-.9 .4-.9 .1-.9-1.1-1 .2-.9-.8-.9 .2-.9 .7-.9 .6-1-.2-.9-.6-.9 .6-.9-.5-.9 .6-1-.2-.9-.5-.9-.1-.9-.1-.9-.3-1 .6-.9 .2-.9 0-.9-.1-.9 0-1 0-.9-.3-.9-.3-.9 .8-.9-1-1 .8-.9-.9-.9 .6-.9 .9-.9-.8-1 .2-.9-1.1-.9 .1-.9 1.1-.9 .1-1 .8-.9-.6-.9-.6-.9 .5-.9-1-1-.2-.9 .4-.9 .2-.9 .3-.9-.7-1 .7-.9-.3-.9 .4-.9-.7-.9 1.8-1-.7-.9-1.1-.9 .2-.9 .9-.9-.2-1-.5-.9-.3-.9 .3-.9-.5-.9 0-1 0-.9-.1-.9-.4-.9 0-.9-.6-1 .1-.9 .1-.9-1-.9 .3-.9-1.1-1-1-.9 .4-.9 .2-.9-.8-.9 0-1-.5-.9-.6-.9 .3-.9 1.1-.9-1.3-1-.1-.9 .5-.9-.2-.9-.3-.9 .1-1-.5-.9-1.8-.9 1.1-.9-.8-.9-.1-1-.3-.9 .3-.9-1.3-.9 .9-.9-.4-1 .3-.9 .1-.9-.5-.9 0-.9 1-1-.5-.9 .6-.9-.5-.9 .9-.9 .5-1-1.5-.9 .4-.9-.2z" fill="#40d8e8" fill-opacity="0.13"/>
<path d="M555 252.5l.9-.3 .9 .1 1 .1 .9-.5 .9-.4 .9 .8 .9-.4 1-.3 .9 .4 .9-.5 .9 .2 .9 .8 1 .4 .9-1 .9 .2 .9 .1 .9-.4 1-.2 .9 .5 .9-.4 .9 .7 .9 0 1 .1 .9-.1 .9-.8 .9 .1 .9-1.1 1-1.3 .9-.9 .9-.1 .9-.9 .9 1 1 .1 .9 .2 .9 0 .9-.1 .9 1.2 1 .1 .9 .7 .9 1 .9 .8 .9 .4 1 .1 .9 .8 .9 .2 .9 1.1 .9 .4 1-.3 .9 .9 .9 .8 .9-.5 .9-.5 1-.2 .9 1.1 .9-.4 .9 .1 .9-.3 1 .1 .9 .8 .9 0 .9 .1 .9-.2 1-.8 .9 0 .9 .3 .9 .3 .9-.6 1-.4 .9-.4 .9 .9 .9-.2 .9-.2 1 .5 .9-.9 .9 .8 .9-.2 .9-.6 1 .2 .9 .2 .9-.5 .9 .3 .9 0 1 .5 .9 0 .9-.7 .9-.2 .9-.6 1 .6 .9-.5 .9-.4 .9-.3 .9-.1 1 .1 .9 1.1 .9-.6 .9-.2 .9-.3 1 0 .9 .7 .9 0 .9 .3 .9-.2 1 .2 .9-.2 .9 .5 .9-.9 .9-.6 1 .7 .9-.8 .9-.4 .9 .2 .9 .4 1-.3 .9 .8 .9-.6 .9 .5 .9-.6 1-.5 .9 .8 .9-.3 .9 .8 .9-.4 1-.7 .9 .8 .9-.4 .9-.6 .9 .5 1 0 .9 .1 .9-.6" fill="none" stroke="#cf6e6e" stroke-width="1.25" stroke-linejoin="round"/>
<path d="M555 252.8l.9 .3 .9-.4 1-.5 .9 .4 .9-.1 .9 .4 .9-.7 1-.6 .9 .4 .9-.2 .9 .7 .9-.1 1 0 .9-.2 .9 0 .9-.5 .9 .3 1 .1 .9 .4 .9 .4 .9 .1 .9-.3 1 0 .9-.5 .9-.8 .9 .3 .9-.2 1-1 .9-1 .9-1.1 .9-.3 .9-.6 1 1.3 .9 .2 .9-.2 .9 1.4 .9 .4 1-.1 .9 1.2 .9 .9 .9 .3 .9 1.2 1-.4 .9 .6 .9 .3 .9 1.4 .9 .9 1-.5 .9 .3 .9-.5 .9 0 .9 .7 1-.1 .9 .1 .9 0 .9 .8 .9-.6 1-.2 .9 .7 .9 .5 .9-.6 .9-.5 1 .4 .9 0 .9-.4 .9-.5 .9 .5 1-.7 .9 0 .9 .3 .9-.5 .9-.3 1 .9 .9 .2 .9 .1 .9-.6 .9-.3 1 .7 .9-.5 .9-.6 .9 .6 .9-.7 1-.2 .9 0 .9-.4 .9 .5 .9 .2 1 .3 .9 .3 .9-.5 .9 .1 .9-.1 1 .1 .9 0 .9 0 .9 .1 .9-.3 1 0 .9-.5 .9-.4 .9-.1 .9 .3 1 0 .9-.4 .9 .1 .9 0 .9-.7 1 .9 .9 .3 .9 0 .9-.5 .9 .3 1-.9 .9 0 .9 .2 .9 .6 .9 .3 1-.1 .9-1.1 .9 .2 .9-.6 .9 .2 1-.1 .9-.2 .9-.4 .9 .5 .9-.2 1 0 .9 .4 .9 .7" fill="none" stroke="#1f7ff0" stroke-width="1.25" stroke-linejoin="round"/>
<path d="M555 251.6l.9 .1 .9 .8 1 .4 .9-.3 .9 .1 .9-.2 .9-.1 1-.3 .9-.5 .9 .6 .9-.4 .9 .2 1 .2 .9 .1 .9-.5 .9 .4 .9 .5 1-.6 .9 .2 .9 .4 .9-.7 .9 .9 1-.2 .9-.7 .9-.2 .9 .2 .9-1.1 1-.4 .9 .1 .9-.8 .9-.5 .9 .6 1 .3 .9-.2 .9 .7 .9 .5 .9-.3 1 1.2 .9 .7 .9 .1 .9 .9 .9 .5 1-.2 .9 1.3 .9 .3 .9 .3 .9 .6 1 .4 .9 .1 .9-.2 .9 .2 .9 .4 1 .5 .9-.3 .9-.2 .9-.3 .9 .7 1 .4 .9-1.2 .9 .2 .9 .3 .9 0 1-.9 .9 .5 .9-.8 .9-.3 .9-.1 1 0 .9 .9 .9-.5 .9 .6 .9 0 1-.4 .9 .2 .9-.8 .9-.2 .9 .4 1 0 .9 .2 .9-.3 .9-.6 .9 .7 1-.8 .9 .1 .9-.1 .9-.2 .9 .4 1-.3 .9 .1 .9 0 .9-.2 .9 .1 1 .1 .9 0 .9-.1 .9-.3 .9 .1 1 .2 .9-.2 .9 .6 .9-.3 .9-.1 1-.1 .9 .3 .9-.7 .9-.2 .9-.1 1-.3 .9 1.1 .9 .1 .9-.8 .9 .2 1-.6 .9-.2 .9 .4 .9 .5 .9 .4 1 .4 .9 .1 .9-.8 .9-.7 .9 .4 1 0 .9 0 .9-.2 .9 .7 .9-.6 1 .2 .9 .1 .9-.1" fill="none" stroke="#2ad6c4" stroke-width="1.25" stroke-linejoin="round"/>
</g>
<line x1="573.40" y1="212.59" x2="573.40" y2="307.10" stroke="#4a4a4a" stroke-width="0.95" stroke-dasharray="4,3.55"/>
<text x="572.40" y="204.07" font-size="4.0" fill="#a0a0a0" >Stimulus</text>
<text x="572.40" y="209.96" font-size="4.0" fill="#a0a0a0" >Onset</text>
<text x="555.20" y="273.91" font-size="3.8" fill="#333333" >HC MSB-</text>
<text x="555.20" y="281.75" font-size="3.8" fill="#333333" >HC MSB+</text>
<text x="555.20" y="289.59" font-size="3.8" fill="#333333" >MSB- MSB+</text>
<path d="M555.0 197.3H674.6M555.0 307.1H674.6" stroke="#6e6e6e" stroke-width="0.8"/>
<path d="M555.0 197.3V307.1M674.6 197.3V307.1" stroke="#9e9e9e" stroke-width="0.7"/>
<path d="M555.0 307.1v-1.3M555.0 197.3v1.3M573.4 307.1v-1.3M573.4 197.3v1.3M591.8 307.1v-1.3M591.8 197.3v1.3M610.2 307.1v-1.3M610.2 197.3v1.3M628.6 307.1v-1.3M628.6 197.3v1.3M647.0 307.1v-1.3M647.0 197.3v1.3M665.4 307.1v-1.3M665.4 197.3v1.3M555.0 299.3h1.3M674.6 299.3h-1.3M555.0 283.6h1.3M674.6 283.6h-1.3M555.0 267.9h1.3M674.6 267.9h-1.3M555.0 252.2h1.3M674.6 252.2h-1.3M555.0 236.5h1.3M674.6 236.5h-1.3M555.0 220.8h1.3M674.6 220.8h-1.3M555.0 205.1h1.3M674.6 205.1h-1.3" stroke="#444" stroke-width="0.6" fill="none"/>
<text x="552.60" y="301.85" font-size="7.2" text-anchor="end" fill="#262626" >-0.6</text>
<text x="552.60" y="286.16" font-size="7.2" text-anchor="end" fill="#262626" >-0.4</text>
<text x="552.60" y="270.48" font-size="7.2" text-anchor="end" fill="#262626" >-0.2</text>
<text x="552.60" y="254.79" font-size="7.2" text-anchor="end" fill="#262626" >0</text>
<text x="552.60" y="239.11" font-size="7.2" text-anchor="end" fill="#262626" >0.2</text>
<text x="552.60" y="223.42" font-size="7.2" text-anchor="end" fill="#262626" >0.4</text>
<text x="552.60" y="207.73" font-size="7.2" text-anchor="end" fill="#262626" >0.6</text>
<text x="555.00" y="316.82" font-size="7.2" text-anchor="middle" fill="#262626" >-0.2</text>
<text x="573.40" y="316.82" font-size="7.2" text-anchor="middle" fill="#262626" >0</text>
<text x="591.80" y="316.82" font-size="7.2" text-anchor="middle" fill="#262626" >0.2</text>
<text x="610.20" y="316.82" font-size="7.2" text-anchor="middle" fill="#262626" >0.4</text>
<text x="628.60" y="316.82" font-size="7.2" text-anchor="middle" fill="#262626" >0.6</text>
<text x="647.00" y="316.82" font-size="7.2" text-anchor="middle" fill="#262626" >0.8</text>
<text x="665.40" y="316.82" font-size="7.2" text-anchor="middle" fill="#262626" >1</text>
<text x="614.80" y="325.46" font-size="7.416" text-anchor="middle" fill="#262626" >Time (s)</text>
<text x="536.60" y="252.20" font-size="7.85" text-anchor="middle" fill="#262626" transform="rotate(-90 536.60 252.20)">Occupancy level (a.u.)</text>
<text x="614.80" y="194.50" font-size="8.928" text-anchor="middle" font-weight="bold" fill="#000" >2 back D</text>
<rect x="638.31" y="201.10" width="32.29" height="19.76" fill="#fff" stroke="#6a6a6a" stroke-width="0.6" />
<line x1="639.31" y1="204.86" x2="653.16" y2="204.86" stroke="#e87a7a" stroke-width="1.3" />
<text x="655.10" y="206.56" font-size="4.8" fill="#262626" >HC</text>
<line x1="639.31" y1="210.98" x2="653.16" y2="210.98" stroke="#1f7ff0" stroke-width="1.3" />
<text x="655.10" y="212.68" font-size="4.8" fill="#262626" >MSB-</text>
<line x1="639.31" y1="217.11" x2="653.16" y2="217.11" stroke="#2ad6c4" stroke-width="1.3" />
<text x="655.10" y="218.81" font-size="4.8" fill="#262626" >MSB+</text>
<path d="M262.7 384.8V492.9M280.7 384.8V492.9M298.7 384.8V492.9M316.6 384.8V492.9M334.6 384.8V492.9M352.6 384.8V492.9M244.7 485.2H361.6M244.7 469.7H361.6M244.7 454.3H361.6M244.7 423.4H361.6M244.7 408.0H361.6M244.7 392.5H361.6M244.7 438.9H361.6" stroke="#e6e6e6" stroke-width="0.6" fill="none"/>
<clipPath id="cp200"><rect x="244.70" y="384.80" width="116.90" height="108.10"/></clipPath>
<g clip-path="url(#cp200)">
<path d="M244.7 436.2l.9-1.5 .9 1.4 .9-.5 .9-.6 .9-.3 .9 .3 .9-.3 .9 1.1 .9-.4 .9-.5 .9 1.1 .9-.7 .9 .2 .9 0 .9-.8 .9 .8 .9-.7 .9-.1 .9 0 .9-.2 .9 .4 .9 .2 .9-.8 .9 .4 .9-.1 .9 1.2 .9 .6 .9 2.3 .9 .6 .9 1.5 .9 1.1 .9-1.1 .9-.6 .9 .3 .9-1.2 .9-1.1 .9-.8 .9-3 .9-.9 .9-2 .9-2.9 .9-.8 .9-1.2 .9-2.5 .9-1.4 .9-1.4 .9-.7 .9-1 .9-.6 .9-1.5 .9-1.9 .9-.5 .9-.5 .9-.6 .9-.4 .9-.8 .9-.2 .9-1 .9 .3 .9-.4 .9 .2 .9-.3 .9-.8 .9-.4 .8 .7 .9-.5 .9 1.5 .9-.1 .9 .2 .9 .8 .9-.2 .9 .7 .9 .6 .9 .6 .9 .5 .9 .8 .9 .1 .9 1.4 .9 .5 .9 1.1 .9 .9 .9-.8 .9 .3 .9-.2 .9 .7 .9 1.3 .9 0 .9 .4 .9 .9 .9-.5 .9 .1 .9 2.2 .9 .1 .9 .3 .9-.5 .9 .6 .9 .8 .9-.4 .9 .6 .9 1.1 .9-1 .9 1.8 .9-.1 .9 .9 .9-1.2 .9 .2 .9 .8 .9 .3 .9-.5 .9 .8 .9 0 .9 .1 .9-.8 .9-.4 .9 .7 .9 .2 .9 1.6 .9 .1 .9-.7 .9 .5 .9 .3 .9-.6 .9 1 .9-.3 .9 .1 .9 .7 .9-.1 .9-.1 .9 0 .9-.3 0 18.5-.9 .3-.9 .6-.9-1.4-.9 .9-.9-.1-.9-1.6-.9 .8-.9 0-.9-.8-.9 .4-.9-.5-.9 .6-.9-.5-.9-.1-.9-.8-.9 .4-.9 .5-.9-.1-.9 1.2-.9-.5-.9-.2-.9 0-.9-.9-.9-.4-.9 0-.9 .4-.9 .2-.9-1-.9 .1-.9-.2-.9 .4-.9-.6-.9-.4-.9-.5-.9 .2-.9-.2-.9 .3-.9-1-.9-.5-.9 .4-.9 0-.9-.8-.9-.7-.9-.6-.9-.5-.9 1-.9-.5-.9 .1-.9-.5-.9-.6-.9 0-.9-.9-.9-1.2-.9-.3-.9 .7-.9-.6-.9 .2-.9-.7-.9-1.4-.9 .4-.9 .1-.9-.2-.9-2-.9-.4-.9-.3-.8 .3-.9 .4-.9-1-.9 1.1-.9-1-.9 .9-.9-.1-.9 1.3-.9 .1-.9-.6-.9-.7-.9 2.6-.9 0-.9 .5-.9-.8-.9 1.1-.9 1.1-.9 .8-.9 .4-.9 1.5-.9 .5-.9 .7-.9 .4-.9 2.5-.9 1.4-.9 1.2-.9 1.4-.9 .2-.9 .7-.9 1.3-.9-.4-.9 .1-.9 1.5-.9-1.5-.9 .3-.9-2.1-.9-2.2-.9-1.4-.9-1.6-.9-1-.9-.3-.9-.9-.9-1.6-.9-.4-.9 .8-.9 .6-.9-1.5-.9 1.2-.9-.8-.9 .1-.9-.2-.9 .8-.9-.9-.9 .6-.9 0-.9 .6-.9-1.7-.9 .8-.9 .3-.9-1.2-.9 .2-.9-.3-.9 0-.9 .7-.9-.1z" fill="#f59090" fill-opacity="0.13"/>
<path d="M244.7 435.4l.9 .6 .9 .3 .9 .1 .9-1.3 .9 .1 .9 .3 .9-.9 .9 .2 .9 .8 .9-.5 .9 1.1 .9-.7 .9 .6 .9-.6 .9 .1 .9-.4 .9-.4 .9 .4 .9-.1 .9-.2 .9 .4 .9-.6 .9-.9 .9 .4 .9 0 .9 1.2 .9 .6 .9 1.1 .9 1.7 .9 1.8 .9 .1 .9-.2 .9-1.1 .9-1.3 .9-.8 .9-1.5 .9-.3 .9-2.3 .9-2.4 .9-2.4 .9-1.9 .9-1.3 .9-2.3 .9-.9 .9-1.9 .9-1.3 .9-2 .9 .1 .9-1.9 .9-1 .9-1 .9-.9 .9-1.5 .9 .1 .9-.1 .9-.7 .9-1.2 .9-.5 .9 .1 .9-.3 .9-.4 .9 1.1 .9-.8 .9 .8 .8 .1 .9 .2 .9 .6 .9-1.6 .9 .7 .9 .1 .9 .7 .9 1.1 .9 .4 .9-.4 .9-.1 .9 .9 .9 1.4 .9 .7 .9-1.1 .9 1.8 .9-.8 .9 2.3 .9-1.5 .9 .4 .9 2.2 .9-.9 .9 .6 .9 1.3 .9 .3 .9 .2 .9 .6 .9 .7 .9 1.2 .9 .4 .9 .1 .9 .6 .9 1.3 .9-.1 .9 .2 .9-.3 .9 1.1 .9 .8 .9 .1 .9 1 .9-.4 .9 .4 .9-1 .9 1.4 .9-.7 .9-.4 .9 .9 .9 .6 .9-.7 .9 .9 .9-.2 .9 0 .9-.3 .9 1.5 .9-.9 .9 .8 .9 0 .9 .8 .9-1.3 .9 .1 .9 .6 .9-1.4 .9 .3 .9 .5 .9 0 .9 .7 0 18.7-.9 .2-.9-2.2-.9 .9-.9 .7-.9-.3-.9-.5-.9 .6-.9 .3-.9-.2-.9 .9-.9-.4-.9-.4-.9-.1-.9 .5-.9-1.7-.9 0-.9-.2-.9 .1-.9 .4-.9-.4-.9-.1-.9 .2-.9 .5-.9 .4-.9-1.1-.9 .2-.9-.2-.9-1.3-.9 .1-.9 .1-.9-1.3-.9 1.3-.9-.8-.9-.2-.9-1.7-.9 1-.9-.5-.9-.4-.9-1.7-.9-.3-.9-.2-.9 .9-.9-.3-.9-.6-.9-.3-.9-.3-.9 0-.9-.7-.9 .1-.9-1.2-.9 .6-.9-.4-.9-.8-.9-.7-.9-.9-.9 .2-.9 .6-.9-1.1-.9-.1-.9-1-.9 1.5-.9-.7-.9-.6-.9 .3-.9-.3-.8-.3-.9 0-.9-1.1-.9 .3-.9 .8-.9-.6-.9-.4-.9 1-.9 .9-.9-1.5-.9 1.5-.9 .2-.9 .3-.9 1.2-.9-.4-.9 1.4-.9 .1-.9 1.5-.9-.3-.9 1.4-.9 1.5-.9 1.7-.9 1.6-.9 .6-.9 .9-.9 1.6-.9 1.7-.9 .4-.9 .5-.9 1.3-.9 .2-.9 .4-.9 1.2-.9-1-.9 .2-.9-1.4-.9-3-.9-1.5-.9-.9-.9-1.8-.9-.1-.9-.5-.9-.8-.9 .6-.9-.3-.9-.8-.9 1.3-.9 .2-.9-1.1-.9 0-.9-.3-.9 1.1-.9-.5-.9 .4-.9 .2-.9-1.6-.9 .8-.9 0-.9-.5-.9 0-.9-.1-.9 .1-.9 1.2-.9-.8-.9 .1z" fill="#5c9ff0" fill-opacity="0.12"/>
<path d="M244.7 434.9l.9 1.1 .9-.2 .9-.5 .9-.4 .9-.4 .9 .6 .9 1.4 .9-.9 .9 .7 .9-.7 .9 .1 .9-.4 .9-.7 .9 1.8 .9 .5 .9-.5 .9-.7 .9 .5 .9-.5 .9-.4 .9-.1 .9-.4 .9-1.3 .9-.1 .9 .2 .9-.1 .9 1.1 .9 .3 .9 1.5 .9 .1 .9-1.3 .9 .1 .9-.9 .9-2.1 .9-1.1 .9-.4 .9-2.4 .9-.9 .9-2.6 .9-2.4 .9-.7 .9-.4 .9-2.3 .9-.5 .9-2.4 .9-2 .9-1.7 .9-1.2 .9-1.1 .9-1.6 .9-.8 .9-1.1 .9 0 .9-2.6 .9-1.4 .9-.6 .9-.7 .9-.7 .9-.2 .9-1.5 .9-1.4 .9 .1 .9-1.4 .9 1.4 .8-.1 .9-.6 .9-.4 .9 1 .9 1.7 .9 1.3 .9 .5 .9 1.8 .9 .5 .9 1.2 .9 2.1 .9 .7 .9 1.5 .9 .5 .9 1.1 .9 1.1 .9 .8 .9 .1 .9 .8 .9-.3 .9 1.5 .9 1 .9 1.6 .9-.2 .9 1.3 .9-.3 .9 1.2 .9-.1 .9-.1 .9 1.3 .9 1.4 .9 .8 .9 0 .9 .8 .9-.6 .9 .6 .9 .1 .9 .7 .9 1 .9 .3 .9 .1 .9 .4 .9 .6 .9-.3 .9 .7 .9 .4 .9-.9 .9 0 .9 .1 .9 .3 .9 .1 .9-.2 .9 .8 .9 .4 .9 .6 .9-.6 .9 .4 .9 .2 .9-.8 .9 .3 .9 0 .9-.8 .9 .5 .9 .4 .9-.6 .9-.1 0 19.1-.9 .2-.9-.8-.9 .2-.9 .4-.9-1-.9 1.5-.9-.8-.9 .8-.9 .2-.9-1-.9 .4-.9-.4-.9-.3-.9-.6-.9-.6-.9 .4-.9 0-.9 .3-.9 1.1-.9 .1-.9-1-.9-.1-.9 .9-.9 0-.9-1.2-.9-1.3-.9 1-.9-.5-.9-.7-.9-.9-.9 .2-.9 .2-.9 .5-.9-1.3-.9-.9-.9 .3-.9-.9-.9-1.3-.9 .2-.9 .4-.9 .1-.9 0-.9-1.9-.9-.2-.9-1.3-.9-.1-.9-1.3-.9 .5-.9-1.2-.9 .5-.9-.6-.9-1.6-.9-1-.9 0-.9-1.3-.9-.5-.9-1.3-.9-2.1-.9-.7-.9-1.3-.9-1.5-.9-1.1-.9-.1-.9-.9-.9 0-.8 .7-.9 0-.9-.6-.9 1.7-.9-.2-.9 .9-.9-.1-.9 1.5-.9 .7-.9 .5-.9 1.7-.9 .4-.9 1.3-.9 .6-.9 .8-.9 .1-.9 1.8-.9 .7-.9-.6-.9 1.7-.9 1.6-.9 1.7-.9 .1-.9 1.7-.9 .5-.9 1.4-.9 .4-.9 2-.9 .2-.9 .8-.9 1.3-.9-.2-.9 .1-.9 .5-.9 .1-.9 .8-.9-1.5-.9-2.6-.9-1.5-.9 0-.9 .4-.9-.4-.9 .5-.9-.5-.9 .2-.9 .2-.9 .1-.9 .7-.9 0-.9-.6-.9-.7-.9-.1-.9 0-.9 .7-.9-1.7-.9 .9-.9 1.2-.9-1.1-.9-.5-.9-.1-.9 0-.9 .3-.9-.7-.9 .4-.9 .7z" fill="#40d8e8" fill-opacity="0.13"/>
<path d="M244.7 438.9l.9-.6 .9 .3 .9-.3 .9-.1 .9-.3 .9 .8 .9-.3 .9 .1 .9 .7 .9-.5 .9 .5 .9-.7 .9 .6 .9-.4 .9-.3 .9 .4 .9 0 .9-.7 .9 .8 .9-.4 .9-.2 .9 .3 .9 .4 .9 .7 .9 0 .9 1.1 .9 1.2 .9 1.8 .9 1.4 .9 1.8 .9 .4 .9 .2 .9-1 .9 0 .9-.3 .9-1.3 .9-.7 .9-1.6 .9-1.1 .9-1.6 .9-2.2 .9-1.7 .9-.8 .9-1.5 .9-1 .9-1.5 .9-.5 .9-.9 .9-.8 .9-1.4 .9-.5 .9-.5 .9-.3 .9-1.6 .9 .2 .9-.1 .9-.1 .9-1.2 .9 .2 .9-.7 .9 .7 .9-.7 .9 0 .9-.3 .8 .1 .9 0 .9 .9 .9 .9 .9 .3 .9 .3 .9-.3 .9 1.1 .9 .6 .9 .2 .9 .6 .9 0 .9 .2 .9 1.3 .9 .7 .9 .5 .9 .8 .9-.1 .9 0 .9 .2 .9-.1 .9 .8 .9 .3 .9 .6 .9 .8 .9-.2 .9-.1 .9 1.3 .9 .6 .9-.1 .9-.1 .9 .2 .9 .6 .9 0 .9 .7 .9 .3 .9-.4 .9 .9 .9 .4 .9 .3 .9-.8 .9 .2 .9 .5 .9 .7 .9-.3 .9 .5 .9 .3 .9-.6 .9-.4 .9-.4 .9 .2 .9 .5 .9 .8 .9 .3 .9-.6 .9 .5 .9-.1 .9 .1 .9 .5 .9-.5 .9 .8 .9 .4 .9-.5 .9 .6 .9-.2 .9-.3" fill="none" stroke="#cf6e6e" stroke-width="1.25" stroke-linejoin="round"/>
<path d="M244.7 438.7l.9 .3 .9 .5 .9-.5 .9-.7 .9 .1 .9 .1 .9-.1 .9 0 .9 .1 .9 .5 .9 .4 .9-.5 .9 .6 .9-.9 .9 .2 .9-.2 .9 .3 .9 .2 .9-.7 .9 .2 .9 .4 .9-.6 .9 0 .9 .4 .9 0 .9 1.5 .9 .8 .9 1.3 .9 2.3 .9 1.7 .9-.1 .9 .4 .9-1.1 .9-.9 .9-.5 .9-1.4 .9-.4 .9-1.3 .9-2.1 .9-2 .9-1.4 .9-.9 .9-2 .9-1.3 .9-1.7 .9-1.3 .9-.9 .9-.7 .9-1 .9-1.2 .9-.3 .9-1 .9-.9 .9-.1 .9-.8 .9 .4 .9-1.1 .9-.7 .9 .2 .9 .2 .9-.6 .9 .4 .9 .1 .9 .4 .8 .2 .9 .3 .9 .1 .9-.5 .9 .8 .9-.7 .9 .8 .9 .6 .9 .7 .9-.4 .9-.2 .9 .9 .9 1.1 .9 .7 .9-.3 .9 .6 .9 .1 .9 1.2 .9-.5 .9 .2 .9 1.3 .9-.3 .9 .6 .9 .8 .9-.3 .9 .2 .9 .5 .9 1.2 .9 .8 .9 .4 .9-.4 .9 1.1 .9 .8 .9 .3 .9-.5 .9 .5 .9 .4 .9 .4 .9 .7 .9 .6 .9-.3 .9 .7 .9-.7 .9 .5 .9-.5 .9-.1 .9 .7 .9 0 .9-.4 .9 .6 .9-.1 .9 .9 .9-.4 .9 .7 .9-.2 .9 .6 .9-.5 .9 .6 .9-.8 .9-.3 .9 .5 .9-.5 .9-.2 .9-.2 .9 1.1 .9 .2" fill="none" stroke="#1f7ff0" stroke-width="1.25" stroke-linejoin="round"/>
<path d="M244.7 438.5l.9 .2 .9-.3 .9 .1 .9-.3 .9-.2 .9 .3 .9 1 .9 .1 .9-.3 .9-.8 .9 .9 .9-.5 .9-.4 .9 1 .9 .5 .9 .1 .9-.3 .9-.1 .9-.3 .9-.3 .9-.2 .9 .1 .9-1 .9 .2 .9-.1 .9 0 .9 1.3 .9 1.4 .9 1.5 .9-.4 .9-.6 .9-.2 .9-.5 .9-1 .9-1.2 .9-.6 .9-1.3 .9-1.5 .9-1.5 .9-1.9 .9-.6 .9-1 .9-1.2 .9-1.1 .9-2 .9-1.9 .9-.5 .9-1 .9-1.4 .9-.8 .9-.8 .9-.9 .9-.7 .9-1.4 .9-1.6 .9-.6 .9-.7 .9-1.1 .9 0 .9-1.2 .9-.6 .9-.8 .9-.4 .9 .7 .8-.4 .9-.3 .9 .2 .9 .6 .9 1.4 .9 1.4 .9 .9 .9 1.2 .9 1.4 .9 1.2 .9 1.3 .9 1 .9 .8 .9 .7 .9 1.4 .9 .8 .9 .2 .9 .6 .9 .1 .9 .5 .9 .8 .9 1.2 .9 .9 .9 .8 .9 .7 .9-.2 .9 .4 .9-.1 .9 .6 .9 1 .9 .6 .9 .8 .9 .7 .9 .2 .9-.5 .9 .2 .9 .5 .9 .7 .9 .8 .9-.4 .9 .8 .9 .8 .9 .3 .9-.6 .9 .3 .9 .8 .9-.5 .9-.6 .9-.1 .9 .2 .9-.2 .9 .2 .9 .7 .9 .3 .9 .6 .9-.5 .9 .6 .9 0 .9-.7 .9 .5 .9-.7 .9 0 .9 .1 .9 .1 .9 .1 .9-.2" fill="none" stroke="#2ad6c4" stroke-width="1.25" stroke-linejoin="round"/>
</g>
<line x1="262.68" y1="399.84" x2="262.68" y2="492.90" stroke="#4a4a4a" stroke-width="0.95" stroke-dasharray="4,3.55"/>
<text x="261.68" y="391.48" font-size="4.0" fill="#a0a0a0" >Stimulus</text>
<text x="261.68" y="397.27" font-size="4.0" fill="#a0a0a0" >Onset</text>
<text x="244.90" y="460.25" font-size="3.8" fill="#333333" >HC MSB-</text>
<text x="244.90" y="467.98" font-size="3.8" fill="#333333" >HC MSB+</text>
<text x="244.90" y="475.70" font-size="3.8" fill="#333333" >MSB- MSB+</text>
<line x1="303.15" y1="465.88" x2="306.75" y2="465.88" stroke="#000" stroke-width="1.7" />
<line x1="308.55" y1="465.88" x2="312.14" y2="465.88" stroke="#000" stroke-width="1.7" />
<path d="M244.7 384.8H361.6M244.7 492.9H361.6" stroke="#6e6e6e" stroke-width="0.8"/>
<path d="M244.7 384.8V492.9M361.6 384.8V492.9" stroke="#9e9e9e" stroke-width="0.7"/>
<path d="M244.7 492.9v-1.3M244.7 384.8v1.3M262.7 492.9v-1.3M262.7 384.8v1.3M280.7 492.9v-1.3M280.7 384.8v1.3M298.7 492.9v-1.3M298.7 384.8v1.3M316.6 492.9v-1.3M316.6 384.8v1.3M334.6 492.9v-1.3M334.6 384.8v1.3M352.6 492.9v-1.3M352.6 384.8v1.3M244.7 485.2h1.3M361.6 485.2h-1.3M244.7 469.7h1.3M361.6 469.7h-1.3M244.7 454.3h1.3M361.6 454.3h-1.3M244.7 438.9h1.3M361.6 438.9h-1.3M244.7 423.4h1.3M361.6 423.4h-1.3M244.7 408.0h1.3M361.6 408.0h-1.3M244.7 392.5h1.3M361.6 392.5h-1.3" stroke="#444" stroke-width="0.6" fill="none"/>
<text x="242.30" y="487.77" font-size="7.2" text-anchor="end" fill="#262626" >-0.6</text>
<text x="242.30" y="472.33" font-size="7.2" text-anchor="end" fill="#262626" >-0.4</text>
<text x="242.30" y="456.88" font-size="7.2" text-anchor="end" fill="#262626" >-0.2</text>
<text x="242.30" y="441.44" font-size="7.2" text-anchor="end" fill="#262626" >0</text>
<text x="242.30" y="426.00" font-size="7.2" text-anchor="end" fill="#262626" >0.2</text>
<text x="242.30" y="410.56" font-size="7.2" text-anchor="end" fill="#262626" >0.4</text>
<text x="242.30" y="395.11" font-size="7.2" text-anchor="end" fill="#262626" >0.6</text>
<text x="244.70" y="502.62" font-size="7.2" text-anchor="middle" fill="#262626" >-0.2</text>
<text x="262.68" y="502.62" font-size="7.2" text-anchor="middle" fill="#262626" >0</text>
<text x="280.67" y="502.62" font-size="7.2" text-anchor="middle" fill="#262626" >0.2</text>
<text x="298.65" y="502.62" font-size="7.2" text-anchor="middle" fill="#262626" >0.4</text>
<text x="316.64" y="502.62" font-size="7.2" text-anchor="middle" fill="#262626" >0.6</text>
<text x="334.62" y="502.62" font-size="7.2" text-anchor="middle" fill="#262626" >0.8</text>
<text x="352.61" y="502.62" font-size="7.2" text-anchor="middle" fill="#262626" >1</text>
<text x="303.15" y="511.26" font-size="7.416" text-anchor="middle" fill="#262626" >Time (s)</text>
<text x="227.10" y="438.85" font-size="7.5" text-anchor="middle" fill="#262626" transform="rotate(-90 227.10 438.85)">Occupancy level (a.u.)</text>
<text x="303.15" y="382.00" font-size="8.928" text-anchor="middle" font-weight="bold" fill="#000" >0 back T</text>
<rect x="326.04" y="388.60" width="31.56" height="19.46" fill="#fff" stroke="#6a6a6a" stroke-width="0.6" />
<line x1="327.04" y1="392.30" x2="340.56" y2="392.30" stroke="#e87a7a" stroke-width="1.3" />
<text x="342.45" y="394.00" font-size="4.8" fill="#262626" >HC</text>
<line x1="327.04" y1="398.33" x2="340.56" y2="398.33" stroke="#1f7ff0" stroke-width="1.3" />
<text x="342.45" y="400.03" font-size="4.8" fill="#262626" >MSB-</text>
<line x1="327.04" y1="404.36" x2="340.56" y2="404.36" stroke="#2ad6c4" stroke-width="1.3" />
<text x="342.45" y="406.06" font-size="4.8" fill="#262626" >MSB+</text>
<path d="M417.6 384.8V492.9M435.6 384.8V492.9M453.6 384.8V492.9M471.5 384.8V492.9M489.5 384.8V492.9M507.5 384.8V492.9M399.6 485.2H516.5M399.6 469.7H516.5M399.6 454.3H516.5M399.6 423.4H516.5M399.6 408.0H516.5M399.6 392.5H516.5M399.6 438.9H516.5" stroke="#e6e6e6" stroke-width="0.6" fill="none"/>
<clipPath id="cp201"><rect x="399.60" y="384.80" width="116.90" height="108.10"/></clipPath>
<g clip-path="url(#cp201)">
<path d="M399.6 436.3l.9-.7 .9 .7 .9 0 .9-.5 .9-.9 .9 1 .9-.7 .9 .2 .9 .3 .9 .4 .9-1.1 .9 1.1 .9-.3 .9-.3 .9 .4 .9-1.2 .9 1.1 .9 .1 .9-1 .9 1.1 .9-1.6 .9-.2 .9-.4 .9 .8 .9-.2 .9 1 .9-.3 .9 2.7 .9 1.4 .9 1.6 .9-.8 .9 .4 .9-1.7 .9 .2 .9-.9 .9-3.2 .9-.7 .9-2.2 .9-.8 .9-2.2 .9-1.8 .9-1.3 .9-1.9 .9-1.5 .9-2.8 .9-.6 .9-2.7 .9-1.6 .9-1.8 .9-.6 .9-1 .9-.3 .9-2.1 .9 .3 .9-.3 .9 .2 .9-.8 .9-.6 .9 .2 .9 .5 .9-.1 .9 0 .9 .2 .9 1.5 .9-.4 .8-.1 .9 1.3 .9-.6 .9 .2 .9-.7 .9 1.5 .9 1.4 .9-.4 .9 1.2 .9-.4 .9-.1 .9 1 .9 .9 .9 1.1 .9 0 .9-.7 .9 .7 .9 .7 .9 .6 .9 .4 .9 .3 .9 .2 .9 1.3 .9 .1 .9-.1 .9 1.1 .9 1.1 .9 1.4 .9-.6 .9 1.3 .9 .7 .9-.6 .9 1.1 .9-.6 .9 1.1 .9 .1 .9 .3 .9 .9 .9 1.5 .9-.2 .9-.4 .9 1.1 .9 1 .9-.3 .9 0 .9 .6 .9 .6 .9 0 .9-.9 .9-.1 .9 .7 .9-.1 .9 .4 .9 1.2 .9-1.7 .9 0 .9 1.1 .9 .2 .9-.8 .9 .9 .9 .3 .9 .3 .9-.2 .9-.2 .9 .4 0 17.9-.9-.6-.9 .1-.9 .1-.9-.2-.9 .1-.9-.2-.9 1-.9-.8-.9-.2-.9 .1-.9 .3-.9 .3-.9-1.1-.9-.3-.9 .3-.9-.5-.9 .2-.9 .1-.9 .1-.9 .6-.9-1.4-.9 .5-.9-.4-.9-.6-.9-.4-.9-.2-.9 .7-.9-.8-.9-1.8-.9-.3-.9 .5-.9-.9-.9 .6-.9-.5-.9-.7-.9 .3-.9-.7-.9-.1-.9-1.3-.9-.7-.9-.3-.9-.5-.9 1.1-.9-.8-.9 .8-.9-2.2-.9 .7-.9-1.3-.9 1-.9 .2-.9-.8-.9-.2-.9-1.6-.9 .1-.9 .5-.9-.5-.9-.6-.9-.8-.9-.2-.9-.7-.9-.4-.9 .6-.9-.9-.9-1-.8 1.1-.9-.8-.9-.3-.9-1.3-.9 .7-.9-.6-.9-1.4-.9 .8-.9 1-.9-1-.9 1.5-.9-.4-.9-.4-.9 .2-.9-.1-.9 1.7-.9 .5-.9 .6-.9 2.2-.9 .5-.9 1.5-.9 2.5-.9 1.4-.9 .9-.9 .9-.9-.6-.9 1.6-.9 2.4-.9-.2-.9 1.7-.9 .8-.9 1-.9 .8-.9 1-.9-.6-.9 0-.9-1.8-.9-2.8-.9-2.5-.9-2-.9 .3-.9-1-.9-.1-.9-1.3-.9 1.3-.9-.4-.9 .4-.9 .2-.9-1.1-.9-.1-.9-.4-.9 .3-.9 .1-.9-.2-.9 .7-.9-.6-.9-.5-.9 1.2-.9-1.2-.9 .4-.9-.3-.9 .6-.9-.4-.9 .7-.9 .1-.9-.2z" fill="#f59090" fill-opacity="0.13"/>
<path d="M399.6 436.2l.9-.9 .9 .8 .9-.4 .9 .5 .9 .7 .9-.1 .9-.4 .9 .1 .9-.3 .9 .7 .9-.1 .9 .1 .9-2 .9-.5 .9 .1 .9 1.6 .9-.8 .9 .3 .9-.5 .9-.3 .9-.5 .9-.2 .9-.2 .9 0 .9 .5 .9-.1 .9 1.1 .9 .8 .9 1.2 .9 .5 .9 .7 .9-.4 .9 0 .9-.9 .9-2 .9-1.4 .9-2.3 .9-1.5 .9-1.2 .9-1.5 .9-.8 .9-2.2 .9-1.8 .9-2.7 .9-1 .9-1.8 .9-1.8 .9-.5 .9-2.2 .9 .4 .9-2.3 .9-.1 .9-1.2 .9 .2 .9-.1 .9-1.1 .9 .3 .9-1.8 .9-.2 .9 0 .9 .3 .9-.6 .9-.7 .9-.8 .9 .5 .8 .2 .9-.6 .9 1.3 .9-1.1 .9 .6 .9-.3 .9 .1 .9 .6 .9 .3 .9-.1 .9 .2 .9 .9 .9 1.9 .9 .4 .9 1 .9 .8 .9 .7 .9 .3 .9 .5 .9 1.7 .9-1 .9 .8 .9 .5 .9 0 .9 2.1 .9-.7 .9 .8 .9-.4 .9 1.2 .9 .2 .9 .9 .9 .6 .9 .3 .9-.7 .9 1 .9 .4 .9 0 .9 .7 .9 .5 .9-.8 .9 .4 .9 .3 .9 .7 .9 .1 .9 .1 .9 .4 .9-.1 .9 .9 .9 .8 .9 .1 .9 .9 .9 .2 .9-.8 .9-.2 .9 .2 .9-.1 .9 .4 .9-.3 .9 .6 .9 1.3 .9 .9 .9-1.2 .9 .3 .9 .7 .9 .3 0 18.4-.9-.6-.9 0-.9-.5-.9 0-.9 .3-.9-.7-.9-.1-.9-.8-.9 1-.9-1.5-.9-.2-.9 0-.9 .5-.9 .1-.9 .4-.9-.9-.9-1.3-.9 .5-.9-.4-.9 .3-.9-1.2-.9 0-.9-1-.9 0-.9 1.1-.9-.8-.9 .9-.9-.4-.9-1.1-.9 .7-.9-.4-.9-1.1-.9-.2-.9 .9-.9 .3-.9-2.2-.9 1.1-.9-1.2-.9 .6-.9-.9-.9-.3-.9 .6-.9-.7-.9-.8-.9 .2-.9 .2-.9-.8-.9-1.3-.9-.9-.9 .3-.9-1.7-.9 .4-.9-.5-.9-1.3-.9 .1-.9-1-.9 .8-.9-.6-.9-.7-.9 .7-.9-.2-.9 .1-.9-.2-.9-.3-.8-.6-.9 .7-.9 .1-.9 .2-.9 .2-.9-.1-.9 1-.9-.2-.9 .5-.9 1.3-.9-1.1-.9-.1-.9 .7-.9 1.2-.9-.2-.9 .2-.9 1.3-.9 .2-.9 1.3-.9 1-.9 1.5-.9 .3-.9 1.4-.9 2.6-.9-.2-.9 1.4-.9 .8-.9 .9-.9 1.3-.9 1.4-.9 1.5-.9 .5-.9 0-.9 0-.9 .3-.9-.7-.9-2.1-.9-.6-.9-1.3-.9-2.6-.9-.9-.9 .4-.9-1.1-.9-.4-.9 1-.9 .9-.9-1.3-.9-.3-.9 1.2-.9-1.1-.9 .1-.9-.4-.9 .4-.9 .2-.9 .7-.9-.4-.9 .2-.9-.5-.9 0-.9-.4-.9 .4-.9-.1-.9 .1-.9-.8-.9-.4-.9 .1z" fill="#5c9ff0" fill-opacity="0.12"/>
<path d="M399.6 435.9l.9 .8 .9-.5 .9 .3 .9-1.3 .9 .8 .9-.6 .9 .6 .9 .1 .9-.7 .9-1 .9-.1 .9 .6 .9 .4 .9-.2 .9 0 .9-.4 .9 .8 .9 .1 .9-.2 .9 .2 .9-1.2 .9-.1 .9 .2 .9 .3 .9 .5 .9-.2 .9 1.2 .9 .1 .9 .2 .9 0 .9 .9 .9-1.3 .9-.9 .9-1.6 .9-1.3 .9-1.3 .9-1.5 .9-1.9 .9-2.9 .9-2.4 .9-2.2 .9-.9 .9-3.1 .9-2.1 .9-2 .9-1.9 .9-.6 .9-1.6 .9-1.6 .9-1 .9-2.1 .9-.5 .9-1.2 .9-1.3 .9-1.4 .9-.3 .9-1.1 .9 .2 .9-1.6 .9-.2 .9 .5 .9 1.7 .9 .1 .9-.1 .9 .7 .8 .9 .9 1 .9 .3 .9 1.8 .9 0 .9 1.3 .9 1.9 .9 .7 .9 .3 .9 .6 .9 .4 .9 .4 .9 .3 .9 1.1 .9 0 .9 .5 .9 .1 .9 2.2 .9 .2 .9 0 .9-.2 .9 .8 .9 .4 .9 1.2 .9 .6 .9 1 .9-.6 .9 .3 .9 1.6 .9 .4 .9-.5 .9 1.8 .9-.8 .9 1.3 .9-.5 .9 1.1 .9 .3 .9-.6 .9 0 .9 .8 .9-.3 .9 0 .9 .2 .9 .9 .9 0 .9 .4 .9 1.1 .9 .6 .9 .3 .9-.7 .9 .3 .9 .7 .9-.4 .9 1.1 .9-.3 .9-1.2 .9 .5 .9 .6 .9-.5 .9 .5 .9 .6 .9-.9 .9 1.2 .9 0 .9 1.3 0 17.5-.9-1-.9 .5-.9 .2-.9-.7-.9 .9-.9-.7-.9-.8-.9 .8-.9-.2-.9-.5-.9 .4-.9 .6-.9-1.3-.9-.1-.9 .1-.9 .5-.9-1.3-.9 .8-.9-.4-.9-.8-.9-1-.9 .3-.9-.1-.9 .2-.9-.9-.9-.4-.9 .3-.9 .5-.9-.7-.9-.6-.9 .3-.9-.4-.9-.2-.9-.1-.9 0-.9-.5-.9-.7-.9 .5-.9-1.3-.9-.7-.9 .9-.9-1.4-.9-.6-.9 .5-.9 .1-.9-.3-.9-.6-.9-.5-.9-.8-.9-.1-.9 .6-.9-1.9-.9-.7-.9 .6-.9-.5-.9 .3-.9-1.6-.9-.4-.9-.3-.9-1-.9-.6-.9-1.6-.9-1.8-.9 .7-.8-2.4-.9-.6-.9-.2-.9-.6-.9-.5-.9 .2-.9-.4-.9-.3-.9 1.4-.9-1.1-.9 2.4-.9 .3-.9 1.7-.9 .6-.9 .7-.9 .9-.9 .8-.9 1.6-.9 .4-.9 1.2-.9 1.1-.9 .9-.9 1.8-.9 1.4-.9 1.9-.9 1.6-.9 2.1-.9 .3-.9 2.1-.9 .7-.9 1.6-.9 1-.9 1.1-.9-.1-.9 .3-.9-.8-.9 .1-.9-1.4-.9-1.7-.9-.5-.9-1-.9-.3-.9-1.2-.9-.4-.9 .4-.9-.1-.9 1-.9-.6-.9 0-.9 .1-.9-.4-.9 .2-.9 .7-.9-.8-.9-1-.9 .3-.9-.2-.9 1.1-.9-1-.9-.6-.9 .4-.9 1.1-.9 .5-.9-.6-.9-.5-.9 1.1z" fill="#40d8e8" fill-opacity="0.13"/>
<path d="M399.6 439.4l.9-.3 .9 .3 .9-.4 .9 0 .9-.7 .9 .6 .9-.5 .9 .6 .9-.4 .9 .4 .9-.2 .9 .2 .9-.1 .9-.2 .9 .1 .9-.4 .9 .6 .9 .6 .9-.6 .9 .3 .9-.5 .9-.8 .9 .5 .9 .4 .9 .4 .9 .3 .9 .9 .9 2.6 .9 2.1 .9 1.7 .9-.4 .9 .5 .9-1.4 .9-.2 .9-1 .9-2 .9-1.2 .9-1 .9-1.6 .9-1.9 .9-.6 .9-1.1 .9-1.4 .9-1.4 .9-2.7 .9-1 .9-1.6 .9-1.9 .9-1.3 .9-.5 .9-1.3 .9-.1 .9-1.2 .9 .4 .9 0 .9-.6 .9 .1 .9-.8 .9-.4 .9 1 .9 .3 .9-.4 .9 .7 .9 .9 .9 .2 .8-.6 .9 1.2 .9 .2 .9-.3 .9-.1 .9 1.1 .9 .8 .9 .2 .9 .9 .9 .1 .9-.3 .9 .4 .9 1.2 .9 .7 .9 .4 .9-.5 .9-.1 .9 1 .9 0 .9 1.3 .9-.3 .9 .5 .9 .1 .9 .3 .9 .1 .9 .9 .9 1.2 .9 .7 .9 .1 .9 .5 .9 .7 .9 0 .9 .2 .9 .1 .9 .3 .9 .3 .9 1 .9 .9 .9 .3 .9 .1 .9 0 .9 .8 .9 .7 .9-.4 .9 .7 .9 0 .9 .3 .9-.1 .9-.6 .9 .3 .9 .2 .9 .1 .9 .7 .9 .4 .9-1 .9 0 .9 .7 .9 .4 .9-.9 .9 .6 .9 .1 .9 .2 .9-.1 .9-.2 .9 .5" fill="none" stroke="#cf6e6e" stroke-width="1.25" stroke-linejoin="round"/>
<path d="M399.6 438.8l.9-.5 .9 .6 .9 .2 .9 .2 .9 .4 .9-.2 .9-.1 .9 .1 .9 .1 .9 .3 .9 .1 .9-.3 .9-1.1 .9-.4 .9 .2 .9 .7 .9 .2 .9-.4 .9-.2 .9 .5 .9-.7 .9-.6 .9 .2 .9 .5 .9 .1 .9 .4 .9 1.8 .9 1 .9 .9 .9 1.3 .9 .7 .9-.3 .9 0 .9-.4 .9-1.3 .9-1.4 .9-1.9 .9-1.4 .9-1.1 .9-1.1 .9-1.1 .9-1 .9-2.2 .9-2 .9-.7 .9-1.7 .9-1.4 .9-.8 .9-1.3 .9-.4 .9-1.3 .9 .1 .9-1.2 .9-.3 .9 .1 .9 0 .9-.6 .9-1.1 .9 0 .9-.5 .9 .2 .9-.4 .9-.5 .9-.4 .9-.1 .8 .4 .9-.2 .9 .8 .9-.6 .9 .4 .9-.5 .9 .4 .9 .6 .9-.2 .9 .4 .9 0 .9 1.1 .9 1.2 .9 0 .9 1.4 .9 .2 .9 .9 .9 .8 .9 .6 .9 .7 .9-.5 .9 .7 .9 .6 .9-.2 .9 1.2 .9 .1 .9 0 .9 .4 .9 .1 .9 1.2 .9 .3 .9-.1 .9 .2 .9 .2 .9 .7 .9-.1 .9 .5 .9 .5 .9-.2 .9 0 .9-.3 .9 .1 .9 .9 .9 .1 .9 .6 .9 .1 .9 .1 .9 .2 .9 1.1 .9 .5 .9 .2 .9 0 .9-.6 .9-.1 .9 .2 .9 .7 .9-.3 .9 .2 .9 .4 .9 1 .9 .3 .9-.6 .9 .4 .9 .4 .9 .4" fill="none" stroke="#1f7ff0" stroke-width="1.25" stroke-linejoin="round"/>
<path d="M399.6 439.4l.9-.1 .9 0 .9 .5 .9-1 .9-.1 .9-.5 .9 .6 .9 .6 .9-1 .9-.3 .9-.3 .9 .8 .9 .6 .9-.4 .9-.1 .9 0 .9 .3 .9 .1 .9 .2 .9-.4 .9-.6 .9-.2 .9 .3 .9 .8 .9 .4 .9 .3 .9 .9 .9 .9 .9 .8 .9 0 .9 .8 .9-.8 .9-.4 .9-1.4 .9-1.1 .9-1.5 .9-1.1 .9-2 .9-1.6 .9-2.2 .9-1.9 .9-1.4 .9-2.3 .9-1.9 .9-1.4 .9-1.6 .9-.8 .9-1.1 .9-1.5 .9-1 .9-1.4 .9-.7 .9-.8 .9-1.6 .9-.8 .9-1.4 .9 .1 .9-.7 .9-.6 .9 .1 .9 .2 .9 1.1 .9 .3 .9 0 .9 .7 .8 1.6 .9 .2 .9 1 .9 1.8 .9 .2 .9 1.2 .9 1.1 .9 .5 .9 1 .9 .2 .9 .4 .9-.1 .9 .5 .9 1.5 .9-.3 .9 .3 .9 .4 .9 1.4 .9 .4 .9 .1 .9-.1 .9 .1 .9 .6 .9 1.2 .9-.1 .9 .9 .9 .3 .9-.1 .9 1.1 .9 .5 .9-.3 .9 1 .9-.3 .9 .8 .9-.4 .9 .9 .9 .5 .9-.6 .9-.1 .9 .6 .9 .3 .9-.1 .9 .1 .9 .4 .9 .5 .9 .5 .9 .8 .9-.1 .9 .8 .9-.6 .9 .1 .9 .4 .9 .4 .9 .3 .9-.3 .9-.4 .9 .3 .9-.1 .9 .2 .9 .6 .9-.2 .9 0 .9 .5 .9-.3 .9 1.1" fill="none" stroke="#2ad6c4" stroke-width="1.25" stroke-linejoin="round"/>
</g>
<line x1="417.58" y1="399.84" x2="417.58" y2="492.90" stroke="#4a4a4a" stroke-width="0.95" stroke-dasharray="4,3.55"/>
<text x="416.58" y="391.48" font-size="4.0" fill="#a0a0a0" >Stimulus</text>
<text x="416.58" y="397.27" font-size="4.0" fill="#a0a0a0" >Onset</text>
<text x="399.80" y="460.25" font-size="3.8" fill="#333333" >HC MSB-</text>
<text x="399.80" y="467.98" font-size="3.8" fill="#333333" >HC MSB+</text>
<text x="399.80" y="475.70" font-size="3.8" fill="#333333" >MSB- MSB+</text>
<path d="M399.6 384.8H516.5M399.6 492.9H516.5" stroke="#6e6e6e" stroke-width="0.8"/>
<path d="M399.6 384.8V492.9M516.5 384.8V492.9" stroke="#9e9e9e" stroke-width="0.7"/>
<path d="M399.6 492.9v-1.3M399.6 384.8v1.3M417.6 492.9v-1.3M417.6 384.8v1.3M435.6 492.9v-1.3M435.6 384.8v1.3M453.6 492.9v-1.3M453.6 384.8v1.3M471.5 492.9v-1.3M471.5 384.8v1.3M489.5 492.9v-1.3M489.5 384.8v1.3M507.5 492.9v-1.3M507.5 384.8v1.3M399.6 485.2h1.3M516.5 485.2h-1.3M399.6 469.7h1.3M516.5 469.7h-1.3M399.6 454.3h1.3M516.5 454.3h-1.3M399.6 438.9h1.3M516.5 438.9h-1.3M399.6 423.4h1.3M516.5 423.4h-1.3M399.6 408.0h1.3M516.5 408.0h-1.3M399.6 392.5h1.3M516.5 392.5h-1.3" stroke="#444" stroke-width="0.6" fill="none"/>
<text x="397.20" y="487.77" font-size="7.2" text-anchor="end" fill="#262626" >-0.6</text>
<text x="397.20" y="472.33" font-size="7.2" text-anchor="end" fill="#262626" >-0.4</text>
<text x="397.20" y="456.88" font-size="7.2" text-anchor="end" fill="#262626" >-0.2</text>
<text x="397.20" y="441.44" font-size="7.2" text-anchor="end" fill="#262626" >0</text>
<text x="397.20" y="426.00" font-size="7.2" text-anchor="end" fill="#262626" >0.2</text>
<text x="397.20" y="410.56" font-size="7.2" text-anchor="end" fill="#262626" >0.4</text>
<text x="397.20" y="395.11" font-size="7.2" text-anchor="end" fill="#262626" >0.6</text>
<text x="399.60" y="502.62" font-size="7.2" text-anchor="middle" fill="#262626" >-0.2</text>
<text x="417.58" y="502.62" font-size="7.2" text-anchor="middle" fill="#262626" >0</text>
<text x="435.57" y="502.62" font-size="7.2" text-anchor="middle" fill="#262626" >0.2</text>
<text x="453.55" y="502.62" font-size="7.2" text-anchor="middle" fill="#262626" >0.4</text>
<text x="471.54" y="502.62" font-size="7.2" text-anchor="middle" fill="#262626" >0.6</text>
<text x="489.52" y="502.62" font-size="7.2" text-anchor="middle" fill="#262626" >0.8</text>
<text x="507.51" y="502.62" font-size="7.2" text-anchor="middle" fill="#262626" >1</text>
<text x="458.05" y="511.26" font-size="7.416" text-anchor="middle" fill="#262626" >Time (s)</text>
<text x="382.00" y="438.85" font-size="7.5" text-anchor="middle" fill="#262626" transform="rotate(-90 382.00 438.85)">Occupancy level (a.u.)</text>
<text x="458.05" y="382.00" font-size="8.928" text-anchor="middle" font-weight="bold" fill="#000" >1 back T</text>
<rect x="480.94" y="388.60" width="31.56" height="19.46" fill="#fff" stroke="#6a6a6a" stroke-width="0.6" />
<line x1="481.94" y1="392.30" x2="495.46" y2="392.30" stroke="#e87a7a" stroke-width="1.3" />
<text x="497.35" y="394.00" font-size="4.8" fill="#262626" >HC</text>
<line x1="481.94" y1="398.33" x2="495.46" y2="398.33" stroke="#1f7ff0" stroke-width="1.3" />
<text x="497.35" y="400.03" font-size="4.8" fill="#262626" >MSB-</text>
<line x1="481.94" y1="404.36" x2="495.46" y2="404.36" stroke="#2ad6c4" stroke-width="1.3" />
<text x="497.35" y="406.06" font-size="4.8" fill="#262626" >MSB+</text>
<path d="M571.7 384.8V492.9M589.7 384.8V492.9M607.7 384.8V492.9M625.6 384.8V492.9M643.6 384.8V492.9M661.6 384.8V492.9M553.7 485.2H670.6M553.7 469.7H670.6M553.7 454.3H670.6M553.7 423.4H670.6M553.7 408.0H670.6M553.7 392.5H670.6M553.7 438.9H670.6" stroke="#e6e6e6" stroke-width="0.6" fill="none"/>
<clipPath id="cp202"><rect x="553.70" y="384.80" width="116.90" height="108.10"/></clipPath>
<g clip-path="url(#cp202)">
<path d="M553.7 435.1l.9 1.4 .9-.6 .9-.3 .9 .1 .9-.3 .9-.2 .9 .3 .9-.1 .9 .2 .9 .1 .9-.7 .9-.1 .9 .8 .9 .8 .9-.5 .9 0 .9-1 .9 .6 .9-.3 .9 0 .9-.2 .9-2 .9-1.8 .9 .5 .9-.3 .9 .8 .9 3.5 .9 1.2 .9 3.9 .9 .6 .9 3.4 .9-.1 .9-1.6 .9-.1 .9-1.4 .9-2.2 .9-1.6 .9-.7 .9-1.9 .9-1.7 .9-2.8 .9-1.3 .9-2.2 .9-2 .9-2 .9-2.4 .9-.9 .9-1 .9-2.4 .9-.6 .9-1 .9-1.4 .9-.5 .9-.5 .9 0 .9-.3 .9-1.7 .9-.3 .9-.8 .9 .6 .9-.4 .9 .9 .9-1.3 .9-.6 .9-.7 .8 .5 .9 .4 .9 .5 .9-.1 .9 .8 .9-.6 .9 .8 .9 1.1 .9 1.5 .9 .4 .9-.2 .9 .3 .9 .1 .9 .5 .9 1.6 .9-.4 .9 .3 .9 .7 .9-.5 .9 1.3 .9 .3 .9 .5 .9 1.4 .9 .9 .9-1.3 .9-.1 .9 .3 .9 .8 .9 .8 .9 .2 .9 .9 .9-.2 .9 1.1 .9 .3 .9-.1 .9 .5 .9-.1 .9 .3 .9 .3 .9 .9 .9 .3 .9 .4 .9 .3 .9-.9 .9 .5 .9 .5 .9-.5 .9 1.6 .9-.4 .9-.6 .9 1.4 .9-.7 .9-.3 .9 .9 .9-.1 .9 .2 .9-.5 .9 .1 .9 .4 .9-.3 .9 1.3 .9 .1 .9-.8 .9-.1 .9 .5 0 17.6-.9 1.4-.9-.2-.9-.5-.9-.3-.9 .6-.9-.4-.9 .5-.9-.9-.9-.5-.9 .5-.9 0-.9 0-.9-1.2-.9 .5-.9 .4-.9 .4-.9-1.1-.9 .7-.9-.4-.9-.1-.9-.9-.9 .7-.9-1.1-.9 1-.9-.6-.9-.9-.9-.7-.9 1.1-.9 .3-.9-.8-.9-.5-.9-.4-.9-.2-.9-.2-.9-.2-.9 .5-.9-.9-.9-.6-.9 .4-.9 .2-.9 .1-.9-.2-.9-.7-.9 .6-.9-1.7-.9 .2-.9-.4-.9 .5-.9-.4-.9-1.2-.9 .5-.9 0-.9 0-.9-.3-.9-.8-.9-.7-.9-.3-.9-.3-.9-1.1-.9-1-.9-.7-.9 .2-.9 .4-.9-1.9-.8 .6-.9 .6-.9 1.2-.9-.5-.9 .7-.9-.9-.9-1-.9 .5-.9 .9-.9 1.2-.9 .5-.9 .8-.9-.8-.9 .6-.9 .8-.9 1.4-.9 .1-.9 .4-.9 1.7-.9 1-.9 .2-.9 1.2-.9 1.7-.9 1.7-.9 1.6-.9 .9-.9 1.7-.9 .9-.9 2.3-.9 1-.9-.2-.9 1.2-.9 .9-.9-.6-.9-.4-.9-1.7-.9-2.9-.9-2.8-.9-2.8-.9-2.9-.9-2.1-.9-.1-.9-.1-.9 1.1-.9 1.8-.9 .2-.9-1.2-.9-.5-.9 .2-.9 .1-.9 0-.9 .3-.9-.3-.9 .4-.9 .2-.9 .3-.9-.4-.9-.7-.9-.6-.9 .2-.9-.8-.9 .6-.9-.7-.9 .7-.9 .5-.9 .4z" fill="#f59090" fill-opacity="0.13"/>
<path d="M553.7 435.5l.9-.6 .9 .9 .9 .1 .9-.1 .9-.5 .9 .6 .9 .5 .9-.2 .9-.3 .9-1.1 .9 1.3 .9-1.2 .9 .2 .9 .3 .9-.7 .9 .8 .9-.4 .9 .7 .9 .4 .9-1.9 .9 .7 .9-1.8 .9-.9 .9 .7 .9-.4 .9 1.6 .9 .6 .9 2.2 .9 2.1 .9 .8 .9 .5 .9 0 .9-1.1 .9-1.3 .9-.2 .9-.9 .9-1.4 .9-2.3 .9-3.2 .9-1.6 .9-1 .9-2 .9-1.8 .9-2.7 .9-.9 .9-2.3 .9-1.5 .9-.3 .9-1.9 .9-1.6 .9-1.1 .9-.5 .9-.7 .9-1 .9-.1 .9-.6 .9-.1 .9-.6 .9-1 .9 0 .9-1.5 .9 1.5 .9 .3 .9-1.2 .9-.2 .8-.9 .9 1.1 .9-.9 .9-.5 .9 .4 .9 .1 .9 .1 .9 0 .9-.8 .9 1.2 .9 1.2 .9 0 .9-.4 .9 .3 .9 1.1 .9-1.1 .9 1 .9-.1 .9 .5 .9 .6 .9 .4 .9 .5 .9-.9 .9 1.9 .9 .4 .9 .5 .9 .4 .9-1.3 .9 .9 .9 .3 .9 1 .9 .3 .9 .4 .9-.4 .9 .1 .9 0 .9 1.2 .9 .5 .9 .7 .9 .8 .9-.4 .9 .7 .9 .5 .9-.2 .9-.3 .9 .4 .9 .9 .9 .2 .9-.2 .9 .8 .9 1.4 .9-.9 .9 1.4 .9-.3 .9 .6 .9 .7 .9 .1 .9-.1 .9-.1 .9 .4 .9 .7 .9-1.2 .9-.4 .9 .9 .9-.3 0 17.8-.9 0-.9 .9-.9 .3-.9 0-.9-.3-.9 1-.9-.4-.9-1.1-.9 .4-.9-.3-.9 .4-.9-1.8-.9-.1-.9-.5-.9 .4-.9-1.1-.9 1.1-.9-1.8-.9 .3-.9 0-.9 0-.9-1.1-.9 .5-.9-.4-.9 0-.9-.5-.9-.3-.9-.2-.9-.5-.9-.7-.9-.5-.9 0-.9-.6-.9-.2-.9 1.1-.9-.9-.9-.5-.9 0-.9 .5-.9-1-.9 0-.9-.2-.9 .1-.9-1-.9 .7-.9 .9-.9-1.5-.9 .4-.9-.2-.9-.2-.9-.7-.9 .2-.9 .9-.9-.9-.9-.1-.9 0-.9 .1-.9 .1-.9-1.3-.9 .6-.9 .8-.9-.8-.9 1.1-.9 0-.8-.1-.9-.7-.9 1.1-.9-.6-.9 .2-.9-.2-.9 1.1-.9 .3-.9 .4-.9 0-.9-.6-.9-.2-.9 1.1-.9 .7-.9 .9-.9 1.2-.9 1.3-.9 0-.9 1.3-.9-.4-.9 1.6-.9 1.6-.9 .7-.9 1-.9 2.6-.9 1.6-.9 .4-.9 1.3-.9 1.6-.9 .5-.9 .9-.9 1.4-.9 .5-.9 .8-.9-1.1-.9-1.9-.9-.5-.9-1.9-.9-2.5-.9-2.7-.9-.8-.9-1.4-.9-.2-.9 .4-.9 .7-.9 .8-.9-.1-.9-.5-.9 .5-.9 1-.9-.9-.9-1.1-.9 .2-.9 .5-.9 0-.9-.1-.9 .3-.9 .2-.9-.4-.9-1-.9-.2-.9 .6-.9 .5-.9-1-.9 .2-.9 0z" fill="#5c9ff0" fill-opacity="0.12"/>
<path d="M553.7 435.6l.9 .4 .9-.6 .9 .7 .9-.4 .9-.9 .9 .9 .9-.4 .9-.7 .9 .5 .9 .1 .9-.3 .9 .2 .9 0 .9-.1 .9 .9 .9 .1 .9 0 .9-1.5 .9-.3 .9 .1 .9 .8 .9-.6 .9-.8 .9-.3 .9 .2 .9-.3 .9 .8 .9 1.1 .9 .3 .9 .1 .9 .5 .9-2.7 .9-.5 .9-.2 .9-1.6 .9-1.9 .9-.3 .9-1.6 .9-2.1 .9-.7 .9-.6 .9-2.6 .9-1 .9-1.6 .9-1.4 .9-1.8 .9-1.5 .9-.7 .9-1.2 .9-1.5 .9-1.7 .9-.6 .9-2 .9-2.1 .9-1.2 .9 .1 .9-.9 .9-1.7 .9 .2 .9-1.5 .9-.3 .9-1.7 .9-.3 .9 .1 .9-.9 .8-.8 .9 .6 .9 1 .9 .6 .9 1 .9 .8 .9 .7 .9 1.8 .9 .4 .9 .7 .9 1.4 .9 1 .9 1.4 .9 1.3 .9-.1 .9 .2 .9 1 .9-.7 .9 1.7 .9-.3 .9 1.5 .9 .7 .9-.7 .9 .6 .9 1.1 .9 .4 .9-.8 .9 .5 .9 1.3 .9-.7 .9 .6 .9-.4 .9 .3 .9 1 .9 1.3 .9 0 .9 .5 .9 .8 .9-.5 .9-.3 .9 .7 .9 .8 .9-.2 .9 .8 .9 0 .9 .1 .9 .4 .9 1.9 .9 .2 .9 .2 .9 .8 .9-.5 .9-.4 .9 .4 .9-.3 .9 .9 .9-.1 .9 1 .9-.4 .9 0 .9-.1 .9-.4 .9 .3 .9 .6 .9 .2 0 17.6-.9 .2-.9-.7-.9 .1-.9 .1-.9 .2-.9 1.1-.9-.8-.9-.4-.9-.3-.9 .6-.9-.8-.9 .3-.9-.1-.9 0-.9-.9-.9 1.1-.9-1.3-.9-.7-.9-.1-.9-1.1-.9-.3-.9 .2-.9-.4-.9-.3-.9 .6-.9 .1-.9-.7-.9-1-.9-.6-.9 .4-.9 0-.9-1.1-.9-.2-.9-1.1-.9 .9-.9 .4-.9-.1-.9 .1-.9-.2-.9-.6-.9 .1-.9-.1-.9-.2-.9-.5-.9 0-.9-1.5-.9 .8-.9-1.6-.9 1.4-.9-.7-.9-.6-.9-1.1-.9 .1-.9-1.3-.9-1.5-.9-.1-.9-1.3-.9-1.4-.9-.9-.9-.1-.9-2.1-.9-.1-.9-.6-.9-.4-.8 .3-.9 .4-.9 .6-.9 .7-.9-.5-.9 1.2-.9 .3-.9 1.6-.9 .7-.9 .8-.9 .4-.9 .8-.9 .9-.9 1.1-.9 1.5-.9 2.1-.9 .8-.9 .7-.9 .7-.9 .7-.9-.2-.9 1.3-.9 1.4-.9 1-.9 1-.9 .2-.9 .9-.9 1.5-.9-.4-.9 1.2-.9 .1-.9 2.2-.9 .3-.9-.1-.9 .2-.9 .8-.9-1.2-.9-1.7-.9-1.3-.9 .2-.9-.9-.9-.8-.9 .7-.9 .5-.9-.9-.9 .8-.9-.8-.9 .5-.9-.1-.9-.7-.9 1.4-.9-.6-.9-.3-.9-.2-.9 .4-.9-1.6-.9 .1-.9 .8-.9-.1-.9-.2-.9-.1-.9 .4-.9 1.2-.9-.2-.9-1.1-.9 .2z" fill="#40d8e8" fill-opacity="0.13"/>
<path d="M553.7 438.7l.9 .5 .9-.5 .9-.6 .9 .4 .9-.4 .9 .3 .9 .1 .9 .2 .9 .4 .9 .3 .9-.5 .9-.1 .9 .1 .9 .6 .9-.4 .9 0 .9-.5 .9 .1 .9 .2 .9 .5 .9-.1 .9-2 .9-1.4 .9 .3 .9-.1 .9 1.5 .9 3.1 .9 2 .9 3.4 .9 1.8 .9 2.5 .9 .2 .9-.5 .9-.5 .9-1.3 .9-1 .9-1.3 .9-1.5 .9-1.5 .9-1.7 .9-1.8 .9-1.4 .9-2 .9-1.9 .9-1.6 .9-1.3 .9-.9 .9-1.3 .9-1.4 .9-.4 .9-1.2 .9-1.1 .9-.6 .9 .2 .9-.4 .9-.4 .9-1.4 .9-.7 .9-.6 .9 .8 .9 .2 .9 .2 .9-.4 .9-1 .9-.6 .8 0 .9 1.1 .9 .1 .9-.2 .9 .8 .9 .1 .9 1 .9 .7 .9 .9 .9 .6 .9 .3 .9 .2 .9 .1 .9 .2 .9 .6 .9 .4 .9 .3 .9 .2 .9-.1 .9 .6 .9 .9 .9 0 .9 1 .9 .6 .9-.7 .9-.2 .9 0 .9 .7 .9 .9 .9-.2 .9 .5 .9 0 .9 .7 .9 .4 .9 .1 .9 .7 .9-.2 .9-.4 .9 .5 .9 .9 .9 .4 .9-.2 .9 .6 .9-.7 .9 .6 .9 .4 .9-.1 .9 .4 .9 .4 .9-.5 .9 .5 .9-.6 .9 .4 .9 .5 .9-.1 .9-.1 .9 0 .9 .5 .9-.1 .9 .1 .9 .4 .9 .1 .9-.1 .9 .1 .9-.5" fill="none" stroke="#cf6e6e" stroke-width="1.25" stroke-linejoin="round"/>
<path d="M553.7 438.4l.9-.3 .9 .3 .9 .6 .9-.3 .9-.6 .9 .4 .9 .8 .9 .1 .9-.2 .9-.8 .9 .7 .9-.5 .9-.2 .9 .1 .9 .2 .9 .8 .9-.7 .9 .1 .9 .4 .9-.8 .9-.1 .9-1.2 .9-.7 .9 .4 .9 .6 .9 1.1 .9 1.7 .9 2.4 .9 2 .9 .6 .9 1.2 .9 .6 .9-1 .9-.9 .9-.8 .9-.9 .9-.9 .9-2 .9-2.3 .9-1 .9-1.2 .9-2.4 .9-1.3 .9-1.7 .9-1.3 .9-2 .9-.5 .9-.8 .9-1 .9-1.4 .9-1.1 .9-.8 .9-.7 .9-1 .9 .1 .9 0 .9-.1 .9-.5 .9-.6 .9-.6 .9-.7 .9 .7 .9 .4 .9-1.1 .9 .3 .8-.4 .9 .5 .9-1 .9 .2 .9-.2 .9-.3 .9 .7 .9 0 .9-.5 .9 .6 .9 .6 .9 .5 .9-.7 .9 .1 .9 .9 .9-.5 .9 .6 .9-.2 .9 1 .9-.2 .9-.1 .9 .8 .9-.6 .9 1.1 .9 .2 .9 .7 .9 0 .9-.6 .9 .6 .9 .7 .9-.1 .9 .3 .9 .5 .9-.3 .9 .3 .9 .4 .9 .9 .9 .3 .9 .5 .9 .6 .9-.1 .9 .5 .9 0 .9 .5 .9-.2 .9 .2 .9 .3 .9 1 .9-.6 .9 .9 .9 .5 .9-.2 .9 .7 .9 .8 .9 .1 .9 .5 .9-.1 .9 .4 .9 .2 .9-.3 .9 .5 .9-.6 .9-.3 .9-.1 .9-.1" fill="none" stroke="#1f7ff0" stroke-width="1.25" stroke-linejoin="round"/>
<path d="M553.7 438.8l.9 .1 .9 .2 .9 .5 .9-.8 .9-.6 .9 .4 .9 0 .9-.3 .9-.2 .9 0 .9 .6 .9 0 .9 0 .9 .1 .9 .8 .9-.7 .9 .4 .9-.7 .9-.4 .9 .5 .9-.1 .9 .2 .9-.7 .9-.4 .9 .4 .9 .3 .9 .4 .9 1.2 .9 .9 .9 .7 .9-.2 .9-1.4 .9-.2 .9-.3 .9-1.9 .9-.9 .9-.8 .9-.6 .9-1.8 .9-.8 .9-.4 .9-1.8 .9-1 .9-1.5 .9-1.4 .9-.7 .9-1.2 .9-.6 .9-1 .9-1.2 .9-1.9 .9-1 .9-1.6 .9-1.5 .9-1 .9-.1 .9-.8 .9-1.2 .9-.8 .9-.9 .9-.7 .9-.6 .9-.5 .9-.3 .9-.6 .8-.5 .9 .4 .9 .9 .9 .3 .9 1.5 .9 .5 .9 .8 .9 1.6 .9 .8 .9 .5 .9 1.4 .9 1.1 .9 .7 .9 1.2 .9 .3 .9 .4 .9-.2 .9 .4 .9 .5 .9 .6 .9 .8 .9 .6 .9-.3 .9 .3 .9 .6 .9 .4 .9-.3 .9 .2 .9 .8 .9-.6 .9-.2 .9 .4 .9 .2 .9 1.1 .9 .6 .9-.2 .9 .6 .9 .9 .9 .1 .9-.2 .9 0 .9 .6 .9 .1 .9 .3 .9 .2 .9 .5 .9 .3 .9 1.3 .9 .7 .9-.4 .9 .8 .9-.2 .9-.2 .9 .1 .9 .3 .9 .1 .9 .1 .9 .7 .9 .2 .9-.6 .9-.1 .9-.3 .9 .1 .9 .7 .9 0" fill="none" stroke="#2ad6c4" stroke-width="1.25" stroke-linejoin="round"/>
</g>
<line x1="571.68" y1="399.84" x2="571.68" y2="492.90" stroke="#4a4a4a" stroke-width="0.95" stroke-dasharray="4,3.55"/>
<text x="570.68" y="391.48" font-size="4.0" fill="#a0a0a0" >Stimulus</text>
<text x="570.68" y="397.27" font-size="4.0" fill="#a0a0a0" >Onset</text>
<text x="553.90" y="460.25" font-size="3.8" fill="#333333" >HC MSB-</text>
<text x="553.90" y="467.98" font-size="3.8" fill="#333333" >HC MSB+</text>
<text x="553.90" y="475.70" font-size="3.8" fill="#333333" >MSB- MSB+</text>
<path d="M553.7 384.8H670.6M553.7 492.9H670.6" stroke="#6e6e6e" stroke-width="0.8"/>
<path d="M553.7 384.8V492.9M670.6 384.8V492.9" stroke="#9e9e9e" stroke-width="0.7"/>
<path d="M553.7 492.9v-1.3M553.7 384.8v1.3M571.7 492.9v-1.3M571.7 384.8v1.3M589.7 492.9v-1.3M589.7 384.8v1.3M607.7 492.9v-1.3M607.7 384.8v1.3M625.6 492.9v-1.3M625.6 384.8v1.3M643.6 492.9v-1.3M643.6 384.8v1.3M661.6 492.9v-1.3M661.6 384.8v1.3M553.7 485.2h1.3M670.6 485.2h-1.3M553.7 469.7h1.3M670.6 469.7h-1.3M553.7 454.3h1.3M670.6 454.3h-1.3M553.7 438.9h1.3M670.6 438.9h-1.3M553.7 423.4h1.3M670.6 423.4h-1.3M553.7 408.0h1.3M670.6 408.0h-1.3M553.7 392.5h1.3M670.6 392.5h-1.3" stroke="#444" stroke-width="0.6" fill="none"/>
<text x="551.30" y="487.77" font-size="7.2" text-anchor="end" fill="#262626" >-0.6</text>
<text x="551.30" y="472.33" font-size="7.2" text-anchor="end" fill="#262626" >-0.4</text>
<text x="551.30" y="456.88" font-size="7.2" text-anchor="end" fill="#262626" >-0.2</text>
<text x="551.30" y="441.44" font-size="7.2" text-anchor="end" fill="#262626" >0</text>
<text x="551.30" y="426.00" font-size="7.2" text-anchor="end" fill="#262626" >0.2</text>
<text x="551.30" y="410.56" font-size="7.2" text-anchor="end" fill="#262626" >0.4</text>
<text x="551.30" y="395.11" font-size="7.2" text-anchor="end" fill="#262626" >0.6</text>
<text x="553.70" y="502.62" font-size="7.2" text-anchor="middle" fill="#262626" >-0.2</text>
<text x="571.68" y="502.62" font-size="7.2" text-anchor="middle" fill="#262626" >0</text>
<text x="589.67" y="502.62" font-size="7.2" text-anchor="middle" fill="#262626" >0.2</text>
<text x="607.65" y="502.62" font-size="7.2" text-anchor="middle" fill="#262626" >0.4</text>
<text x="625.64" y="502.62" font-size="7.2" text-anchor="middle" fill="#262626" >0.6</text>
<text x="643.62" y="502.62" font-size="7.2" text-anchor="middle" fill="#262626" >0.8</text>
<text x="661.61" y="502.62" font-size="7.2" text-anchor="middle" fill="#262626" >1</text>
<text x="612.15" y="511.26" font-size="7.416" text-anchor="middle" fill="#262626" >Time (s)</text>
<text x="536.10" y="438.85" font-size="7.5" text-anchor="middle" fill="#262626" transform="rotate(-90 536.10 438.85)">Occupancy level (a.u.)</text>
<text x="612.15" y="382.00" font-size="8.928" text-anchor="middle" font-weight="bold" fill="#000" >2 back T</text>
<rect x="635.04" y="388.60" width="31.56" height="19.46" fill="#fff" stroke="#6a6a6a" stroke-width="0.6" />
<line x1="636.04" y1="392.30" x2="649.56" y2="392.30" stroke="#e87a7a" stroke-width="1.3" />
<text x="651.45" y="394.00" font-size="4.8" fill="#262626" >HC</text>
<line x1="636.04" y1="398.33" x2="649.56" y2="398.33" stroke="#1f7ff0" stroke-width="1.3" />
<text x="651.45" y="400.03" font-size="4.8" fill="#262626" >MSB-</text>
<line x1="636.04" y1="404.36" x2="649.56" y2="404.36" stroke="#2ad6c4" stroke-width="1.3" />
<text x="651.45" y="406.06" font-size="4.8" fill="#262626" >MSB+</text>
<path d="M262.7 534.8V642.9M280.7 534.8V642.9M298.7 534.8V642.9M316.6 534.8V642.9M334.6 534.8V642.9M352.6 534.8V642.9M244.7 635.2H361.6M244.7 619.7H361.6M244.7 604.3H361.6M244.7 573.4H361.6M244.7 558.0H361.6M244.7 542.5H361.6M244.7 588.8H361.6" stroke="#e6e6e6" stroke-width="0.6" fill="none"/>
<clipPath id="cp203"><rect x="244.70" y="534.80" width="116.90" height="108.10"/></clipPath>
<g clip-path="url(#cp203)">
<path d="M244.7 586.6l.9-.7 .9-.6 .9 1 .9-.6 .9 .2 .9-.4 .9-.1 .9-.1 .9 1.2 .9-1.6 .9 .9 .9-.2 .9 .6 .9-1.4 .9 .9 .9-.8 .9-.3 .9 1 .9-1.1 .9 0 .9 .2 .9 .8 .9-1.4 .9 0 .9 .2 .9 .9 .9 1.6 .9 .6 .9 1.8 .9 2 .9 .8 .9-.3 .9-1.6 .9-.6 .9-1 .9-.3 .9-1.7 .9-.5 .9-1.9 .9-2 .9-1 .9-2 .9-2.9 .9-1.7 .9-2 .9-1 .9-1.9 .9-1.2 .9-.3 .9-2.6 .9-1.4 .9 .3 .9 .6 .9-1.3 .9 0 .9-.5 .9-1.4 .9-.2 .9 .2 .9 .3 .9 .7 .9-.6 .9 1.4 .9-.4 .8 0 .9 .9 .9-.7 .9 2 .9 .4 .9 .1 .9 .4 .9 1.1 .9 0 .9 .5 .9 .8 .9 .3 .9 1.1 .9-.2 .9 .6 .9-.5 .9 .3 .9 1.1 .9 .6 .9 .6 .9 .2 .9 1.6 .9-.4 .9 .5 .9 .2 .9 .4 .9 1.4 .9-.2 .9-.1 .9 1.1 .9 .1 .9-.3 .9 0 .9 .4 .9 .9 .9-.8 .9 .5 .9 0 .9 .6 .9 .2 .9 1.1 .9-.6 .9 .3 .9 1.4 .9-.8 .9-1 .9 .9 .9 1.1 .9-1.4 .9 .7 .9-.9 .9 1.1 .9-1.6 .9 .9 .9-.3 .9 .9 .9-.1 .9 .5 .9-.7 .9 .3 .9 .1 .9-.5 .9-.4 .9 1 .9-.6 .9-.6 0 19.2-.9 .4-.9 .2-.9-.2-.9 0-.9 0-.9-.6-.9-.4-.9 .5-.9-.2-.9 .9-.9-.4-.9-1.1-.9 1.3-.9 0-.9 .6-.9-.6-.9 .7-.9-.5-.9 .2-.9-.9-.9-.1-.9 .9-.9 .4-.9 .1-.9-1.2-.9 .3-.9-.3-.9-.9-.9 .3-.9 .4-.9-.2-.9 .2-.9-1.2-.9-.2-.9 .3-.9 0-.9-.8-.9 .2-.9 .8-.9-.1-.9-.9-.9-1.2-.9-.3-.9 .4-.9 .5-.9-1-.9-.1-.9-1.4-.9 1.2-.9-.5-.9-1-.9 1.3-.9-.6-.9-.6-.9-.7-.9-1.2-.9 .4-.9-.2-.9-.2-.9-1.3-.9 .1-.9-.5-.9-1.1-.9-1-.9-.1-.8 .2-.9 0-.9-.7-.9 .1-.9-.8-.9-.7-.9 .1-.9 .6-.9-.2-.9-.4-.9 .3-.9 1-.9 .4-.9-.5-.9 1-.9 .9-.9 .1-.9 .7-.9 .8-.9 .8-.9 1.3-.9 2-.9 2.1-.9 1-.9 1.9-.9 0-.9 .7-.9 1.6-.9-.3-.9 1.8-.9-.8-.9 1.4-.9 .5-.9-1.2-.9-1.9-.9-.9-.9-1.9-.9-2.7-.9-.9-.9-2.2-.9-1-.9 .1-.9 .8-.9 1-.9-.8-.9-.7-.9-.3-.9 .3-.9-.8-.9 .5-.9 .1-.9-.3-.9 .7-.9 .3-.9-.7-.9 .3-.9 .1-.9-1.2-.9 .2-.9 .6-.9 .2-.9-.7-.9 1.1-.9-.2-.9-.9z" fill="#f59090" fill-opacity="0.13"/>
<path d="M244.7 585l.9 .5 .9 .4 .9-.9 .9 .7 .9-.2 .9-.2 .9 .9 .9-.3 .9 .5 .9-.9 .9 1.2 .9-.8 .9 .2 .9-.2 .9-.5 .9 0 .9-.9 .9-.3 .9 .5 .9 .5 .9-1.2 .9 0 .9 .8 .9-.9 .9 .6 .9 1.1 .9-.4 .9 1.3 .9-.1 .9 1.8 .9 .5 .9-.2 .9-1.6 .9-.7 .9-1.5 .9-.8 .9-2.5 .9-.4 .9-1 .9-1.3 .9-2.2 .9-1.2 .9-2 .9-1.7 .9-.8 .9-2.3 .9-.4 .9-1 .9-1.5 .9-.8 .9-.9 .9-.4 .9-.9 .9-.7 .9 .4 .9-.8 .9-.7 .9-1.1 .9 .2 .9-.8 .9 .5 .9-1 .9 1.1 .9 .9 .8 .2 .9-.5 .9 .1 .9 .6 .9 .4 .9 1.2 .9-1.6 .9 1.2 .9 .4 .9 .5 .9 .1 .9 .6 .9 1.4 .9 .6 .9 .4 .9 .8 .9 1.5 .9-.1 .9 1 .9 .1 .9 .2 .9 1.5 .9-1.1 .9 .3 .9 1.8 .9-.8 .9 1.3 .9-.8 .9 .8 .9 .6 .9 .5 .9-.5 .9 1 .9-.7 .9-.1 .9 .5 .9 1 .9 .7 .9 .8 .9-1.4 .9 .6 .9 .9 .9-.6 .9-.8 .9 .5 .9 1.5 .9 .5 .9-.9 .9 .1 .9 .1 .9-.4 .9 .5 .9-.2 .9-.1 .9 .3 .9 .9 .9-.7 .9 .8 .9-.6 .9-.1 .9 0 .9 .6 .9-.3 .9-.9 .9 .8 .9 0 0 18.3-.9-.5-.9 1.1-.9 .4-.9-.4-.9-.4-.9 .1-.9 .9-.9 .1-.9-.2-.9-1.1-.9-.4-.9 1.1-.9-.6-.9 .1-.9-.9-.9 .3-.9-.7-.9 1.6-.9-.4-.9-.8-.9-.2-.9 .2-.9 0-.9 .4-.9 .7-.9-1.1-.9 .4-.9-.7-.9 .2-.9-.9-.9 .4-.9 .4-.9 .2-.9-.9-.9 0-.9 .5-.9-.2-.9-.6-.9-.3-.9 0-.9-.2-.9-.3-.9 .3-.9-.4-.9-.4-.9-1.1-.9-.1-.9-.1-.9-.3-.9 .1-.9-1.1-.9-.4-.9-.9-.9-.2-.9-1.1-.9-.6-.9 .9-.9-1.5-.9 .1-.9-.1-.9-.2-.9-.1-.9-.1-.9-1.3-.9 0-.8-.7-.9-.4-.9 .6-.9 0-.9 .1-.9 .3-.9-.3-.9 1.1-.9-.2-.9-.4-.9 .1-.9 1.5-.9-.2-.9-1-.9 .6-.9 1.6-.9 1-.9 .9-.9 .1-.9 .9-.9 1.6-.9-1-.9 1.2-.9 2.8-.9-.2-.9 1.8-.9 1.1-.9-.2-.9-.2-.9 1.9-.9 .2-.9 .4-.9 .4-.9-.6-.9-.8-.9-.6-.9-1.1-.9-.8-.9-1-.9-1.4-.9-1.6-.9 .5-.9 .7-.9-.4-.9 .5-.9-.4-.9-1.1-.9 .3-.9-.7-.9 1.9-.9-.8-.9 .1-.9 .7-.9-1-.9 .2-.9 .5-.9 .4-.9-1.2-.9 .6-.9-1.1-.9-.2-.9 0-.9-.5-.9 1.4-.9-.2z" fill="#5c9ff0" fill-opacity="0.12"/>
<path d="M244.7 585.4l.9-.2 .9 0 .9 .3 .9-.4 .9 0 .9 .1 .9 .2 .9 0 .9 0 .9 .5 .9-.3 .9-.5 .9 1 .9-1.1 .9 .3 .9 .1 .9-1 .9 .3 .9-.6 .9 1 .9-.7 .9 .2 .9-1 .9 1 .9 .5 .9 .4 .9 .4 .9-.9 .9 .1 .9 .7 .9-.5 .9-.7 .9-1.6 .9-1.7 .9-1 .9-1.6 .9-1 .9-2.1 .9-2.9 .9-1.6 .9-.4 .9-2.1 .9-2.7 .9-.7 .9-2.1 .9-.2 .9-.4 .9-2.4 .9-.8 .9-.8 .9-.4 .9-1.7 .9-.6 .9-.8 .9-1.5 .9 .1 .9-.3 .9-1.2 .9-.4 .9 .2 .9-.1 .9 .7 .9-.4 .9-.2 .8 1.1 .9 1.3 .9 1.3 .9 0 .9 .7 .9 1.1 .9 .5 .9 1 .9 0 .9 2.2 .9 .1 .9 1.8 .9 .6 .9 .2 .9 1 .9 1.4 .9 .2 .9 0 .9 .7 .9 .3 .9 .1 .9 1.6 .9 .5 .9 1.5 .9 0 .9 1.3 .9-.1 .9 .6 .9 0 .9 .2 .9 .1 .9 .6 .9-.4 .9 .2 .9-.5 .9 2 .9-.6 .9 1.4 .9-.2 .9 1.1 .9-.8 .9 .2 .9-.5 .9 1.4 .9-.2 .9-.6 .9-.1 .9 .6 .9 0 .9-.4 .9 0 .9 .6 .9 .9 .9-.4 .9-1 .9 .1 .9 .8 .9 .6 .9-.4 .9-.2 .9 .8 .9-1 .9 .4 .9-.2 .9 .1 .9-.3 0 18.4-.9-.2-.9 1.3-.9-1.7-.9 1.1-.9 .2-.9 .9-.9-.5-.9-1.2-.9-.1-.9-.4-.9 1.5-.9 0-.9-.9-.9 .1-.9-.7-.9 1.4-.9 .4-.9-.3-.9-.5-.9-1-.9 .5-.9 0-.9 .2-.9-.6-.9 1.1-.9-.9-.9 .8-.9-.6-.9-.3-.9-.9-.9-.1-.9-.7-.9 .4-.9-.6-.9 1.4-.9-.8-.9-1-.9 .1-.9 .3-.9 0-.9-.6-.9-.7-.9 .5-.9-.3-.9-.9-.9-1.4-.9 .4-.9 .5-.9-1.1-.9-.7-.9-1.3-.9 .9-.9-2-.9-.3-.9-1.3-.9-.4-.9-.6-.9-1.2-.9-1.2-.9-.7-.9-.1-.9-.6-.9-.3-.9-2-.9-1-.8 .6-.9-.5-.9-.5-.9 0-.9-.7-.9-.7-.9 0-.9 .8-.9 1-.9-.1-.9 1.7-.9 .8-.9 .4-.9-.4-.9 1.2-.9 .7-.9 0-.9 1.3-.9 .8-.9 .1-.9 .2-.9 1.8-.9 .8-.9 1.2-.9 1.2-.9 .4-.9 1.8-.9 1.4-.9 .3-.9 1.5-.9 .8-.9 0-.9 1.7-.9-.4-.9 .2-.9 .1-.9-1.5-.9-.1-.9-.7-.9-.1-.9-.4-.9-.6-.9-.7-.9 .5-.9-.2-.9-.3-.9-.6-.9 .5-.9-.4-.9 1.1-.9-1-.9 .4-.9 .1-.9 .8-.9-1.9-.9 .9-.9 .4-.9-1.5-.9 1.6-.9-1.1-.9 .6-.9-1-.9 .1-.9 .6-.9-.5z" fill="#40d8e8" fill-opacity="0.13"/>
<path d="M244.7 589.1l.9 .1 .9-.2 .9 0 .9 0 .9 0 .9-.5 .9-.2 .9 .6 .9 .5 .9-.9 .9 .8 .9-.2 .9-.1 .9-.6 .9 .4 .9-.6 .9 .3 .9 .3 .9-.4 .9 .4 .9 .4 .9-.1 .9-1.1 .9 0 .9 .6 .9 1.5 .9 1.3 .9 1.7 .9 1.8 .9 1.4 .9 1.4 .9 .5 .9-1.1 .9-1 .9-.1 .9-1 .9-.8 .9-1 .9-1.3 .9-1 .9-1.5 .9-1.4 .9-2.6 .9-1.8 .9-1.7 .9-.9 .9-1.3 .9-.9 .9-.3 .9-1.7 .9-1.2 .9 .4 .9 .1 .9-1.1 .9-.2 .9 0 .9-.7 .9-.4 .9 .1 .9 .5 .9 .7 .9-.3 .9 1 .9-.2 .8-.1 .9 .5 .9 .2 .9 1.5 .9 .5 .9 0 .9 .9 .9 .6 .9 .1 .9 .1 .9 1 .9 .4 .9 .9 .9 .2 .9-.3 .9 .2 .9 .4 .9 0 .9 1 .9 .3 .9 .6 .9 .6 .9-.4 .9 .4 .9 .7 .9 .6 .9 .7 .9-.5 .9-.1 .9 1 .9 0 .9-.3 .9 .1 .9 .8 .9 .4 .9-.4 .9 .1 .9-.2 .9 .8 .9 .3 .9 .3 .9 .3 .9 .1 .9 .6 .9-.9 .9-.4 .9 .8 .9 .5 .9-.5 .9 .1 .9-.2 .9 .2 .9-.7 .9-.3 .9 .5 .9 .6 .9-.5 .9 .3 .9-.6 .9 .4 .9 .4 .9-.3 .9-.2 .9 .6 .9-.4 .9-.5" fill="none" stroke="#cf6e6e" stroke-width="1.25" stroke-linejoin="round"/>
<path d="M244.7 588.6l.9 .4 .9-.5 .9-.2 .9 .4 .9-.1 .9 .5 .9 .2 .9 .4 .9 0 .9-.7 .9 .6 .9 0 .9-.2 .9-.2 .9 .2 .9-1 .9-.1 .9-.2 .9 .8 .9 .4 .9-.9 .9 .2 .9 .1 .9-.7 .9 1.1 .9 1.3 .9 .2 .9 1.1 .9 .5 .9 1.2 .9 .7 .9 .2 .9-1 .9-.6 .9-.8 .9-1.4 .9-1.1 .9-.2 .9-1 .9-1.5 .9-1 .9-2.1 .9-1.5 .9-.4 .9-1.2 .9-1.6 .9-.2 .9-1 .9-1.2 .9-1.2 .9-.8 .9 .3 .9-.3 .9-1.1 .9 .1 .9-.2 .9-.2 .9-1.1 .9 .2 .9-.5 .9 .1 .9-.5 .9 .3 .9 .7 .8 .4 .9-.2 .9 .7 .9 .3 .9 .3 .9 .6 .9-.7 .9 .5 .9 1 .9-.2 .9 .3 .9 .9 .9 .8 .9 .7 .9 .5 .9 .9 .9 .7 .9 .1 .9 .5 .9 .1 .9 .7 .9 .9 .9-.3 .9 0 .9 1.1 .9-.4 .9 .7 .9-.3 .9 .7 .9 .5 .9 0 .9-.3 .9 .9 .9-.4 .9-.3 .9 .1 .9 .9 .9 .3 .9 .7 .9-.8 .9 .8 .9 .1 .9-.5 .9-.4 .9 .2 .9 .8 .9 .6 .9-.2 .9-.7 .9 .4 .9-.4 .9 .7 .9-.2 .9 .3 .9-.4 .9 .6 .9 .3 .9 .4 .9-.3 .9-.5 .9-.1 .9 .5 .9 .1 .9-.6 .9-.2 .9 .2" fill="none" stroke="#1f7ff0" stroke-width="1.25" stroke-linejoin="round"/>
<path d="M244.7 588.4l.9 .1 .9-.2 .9 0 .9 .4 .9-.3 .9 .6 .9-.8 .9 .8 .9-.2 .9-.2 .9 .8 .9-.6 .9 .4 .9-.8 .9 .7 .9-.5 .9-.3 .9-.1 .9 0 .9 .6 .9-.2 .9-.1 .9-.2 .9 .8 .9 .4 .9 .3 .9 .5 .9-.4 .9 .8 .9 .3 .9-.3 .9-.2 .9-1.6 .9-.9 .9-.8 .9-1.6 .9-.7 .9-1.7 .9-2.4 .9-1 .9-.8 .9-1.6 .9-1.8 .9-1.2 .9-1.1 .9-.2 .9-.6 .9-1.9 .9-.4 .9-.7 .9-.8 .9-.6 .9-.5 .9-.9 .9-1.5 .9 0 .9-.6 .9-1 .9-.2 .9 .5 .9 .3 .9 .3 .9 0 .9 .2 .8 .2 .9 1.2 .9 1.7 .9 .1 .9 .7 .9 .6 .9 .5 .9 1.1 .9 .6 .9 1.5 .9 .2 .9 1.5 .9 .5 .9 1.1 .9 0 .9 1.4 .9 .4 .9 .6 .9 .1 .9 0 .9 .7 .9 1.2 .9 .5 .9 .4 .9 .4 .9 .9 .9 0 .9 .1 .9 0 .9 .6 .9 .5 .9-.5 .9 .2 .9-.1 .9 .1 .9 1 .9 .2 .9 .8 .9 .2 .9 .1 .9 .1 .9-.5 .9 .1 .9 .6 .9-.1 .9-.6 .9 .5 .9 .6 .9 .1 .9-.4 .9-.7 .9 .7 .9 .4 .9 .2 .9-.5 .9-.7 .9 .6 .9 .3 .9 .4 .9 .2 .9 0 .9-.7 .9-.3 .9 .7 .9-.5 .9-.1" fill="none" stroke="#2ad6c4" stroke-width="1.25" stroke-linejoin="round"/>
</g>
<line x1="262.68" y1="549.84" x2="262.68" y2="642.90" stroke="#4a4a4a" stroke-width="0.95" stroke-dasharray="4,3.55"/>
<text x="261.68" y="541.48" font-size="4.0" fill="#a0a0a0" >Stimulus</text>
<text x="261.68" y="547.27" font-size="4.0" fill="#a0a0a0" >Onset</text>
<text x="244.90" y="610.25" font-size="3.8" fill="#333333" >HC MSB-</text>
<text x="244.90" y="617.98" font-size="3.8" fill="#333333" >HC MSB+</text>
<text x="244.90" y="625.70" font-size="3.8" fill="#333333" >MSB- MSB+</text>
<line x1="270.78" y1="608.15" x2="276.17" y2="608.15" stroke="#000" stroke-width="1.7" />
<line x1="318.89" y1="608.15" x2="320.24" y2="608.15" stroke="#000" stroke-width="1.7" />
<line x1="270.78" y1="615.88" x2="280.67" y2="615.88" stroke="#000" stroke-width="1.7" />
<line x1="298.65" y1="615.88" x2="312.14" y2="615.88" stroke="#000" stroke-width="1.7" />
<line x1="313.04" y1="615.88" x2="313.94" y2="615.88" stroke="#000" stroke-width="1.7" />
<path d="M244.7 534.8H361.6M244.7 642.9H361.6" stroke="#6e6e6e" stroke-width="0.8"/>
<path d="M244.7 534.8V642.9M361.6 534.8V642.9" stroke="#9e9e9e" stroke-width="0.7"/>
<path d="M244.7 642.9v-1.3M244.7 534.8v1.3M262.7 642.9v-1.3M262.7 534.8v1.3M280.7 642.9v-1.3M280.7 534.8v1.3M298.7 642.9v-1.3M298.7 534.8v1.3M316.6 642.9v-1.3M316.6 534.8v1.3M334.6 642.9v-1.3M334.6 534.8v1.3M352.6 642.9v-1.3M352.6 534.8v1.3M244.7 635.2h1.3M361.6 635.2h-1.3M244.7 619.7h1.3M361.6 619.7h-1.3M244.7 604.3h1.3M361.6 604.3h-1.3M244.7 588.8h1.3M361.6 588.8h-1.3M244.7 573.4h1.3M361.6 573.4h-1.3M244.7 558.0h1.3M361.6 558.0h-1.3M244.7 542.5h1.3M361.6 542.5h-1.3" stroke="#444" stroke-width="0.6" fill="none"/>
<text x="242.30" y="637.77" font-size="7.2" text-anchor="end" fill="#262626" >-0.6</text>
<text x="242.30" y="622.33" font-size="7.2" text-anchor="end" fill="#262626" >-0.4</text>
<text x="242.30" y="606.88" font-size="7.2" text-anchor="end" fill="#262626" >-0.2</text>
<text x="242.30" y="591.44" font-size="7.2" text-anchor="end" fill="#262626" >0</text>
<text x="242.30" y="576.00" font-size="7.2" text-anchor="end" fill="#262626" >0.2</text>
<text x="242.30" y="560.56" font-size="7.2" text-anchor="end" fill="#262626" >0.4</text>
<text x="242.30" y="545.11" font-size="7.2" text-anchor="end" fill="#262626" >0.6</text>
<text x="244.70" y="652.62" font-size="7.2" text-anchor="middle" fill="#262626" >-0.2</text>
<text x="262.68" y="652.62" font-size="7.2" text-anchor="middle" fill="#262626" >0</text>
<text x="280.67" y="652.62" font-size="7.2" text-anchor="middle" fill="#262626" >0.2</text>
<text x="298.65" y="652.62" font-size="7.2" text-anchor="middle" fill="#262626" >0.4</text>
<text x="316.64" y="652.62" font-size="7.2" text-anchor="middle" fill="#262626" >0.6</text>
<text x="334.62" y="652.62" font-size="7.2" text-anchor="middle" fill="#262626" >0.8</text>
<text x="352.61" y="652.62" font-size="7.2" text-anchor="middle" fill="#262626" >1</text>
<text x="303.15" y="661.26" font-size="7.416" text-anchor="middle" fill="#262626" >Time (s)</text>
<text x="227.10" y="588.85" font-size="7.5" text-anchor="middle" fill="#262626" transform="rotate(-90 227.10 588.85)">Occupancy level (a.u.)</text>
<text x="303.15" y="532.00" font-size="8.928" text-anchor="middle" font-weight="bold" fill="#000" >0 back D</text>
<rect x="326.04" y="538.60" width="31.56" height="19.46" fill="#fff" stroke="#6a6a6a" stroke-width="0.6" />
<line x1="327.04" y1="542.30" x2="340.56" y2="542.30" stroke="#e87a7a" stroke-width="1.3" />
<text x="342.45" y="544.00" font-size="4.8" fill="#262626" >HC</text>
<line x1="327.04" y1="548.33" x2="340.56" y2="548.33" stroke="#1f7ff0" stroke-width="1.3" />
<text x="342.45" y="550.03" font-size="4.8" fill="#262626" >MSB-</text>
<line x1="327.04" y1="554.36" x2="340.56" y2="554.36" stroke="#2ad6c4" stroke-width="1.3" />
<text x="342.45" y="556.06" font-size="4.8" fill="#262626" >MSB+</text>
<path d="M417.6 534.8V642.9M435.6 534.8V642.9M453.6 534.8V642.9M471.5 534.8V642.9M489.5 534.8V642.9M507.5 534.8V642.9M399.6 635.2H516.5M399.6 619.7H516.5M399.6 604.3H516.5M399.6 573.4H516.5M399.6 558.0H516.5M399.6 542.5H516.5M399.6 588.8H516.5" stroke="#e6e6e6" stroke-width="0.6" fill="none"/>
<clipPath id="cp204"><rect x="399.60" y="534.80" width="116.90" height="108.10"/></clipPath>
<g clip-path="url(#cp204)">
<path d="M399.6 585.8l.9 .4 .9-.1 .9-.3 .9-.4 .9-.7 .9 .2 .9 .4 .9 1 .9 .4 .9-1.5 .9-.4 .9 .8 .9-.7 .9 .2 .9 .5 .9 .4 .9-.5 .9 .2 .9-1 .9-.8 .9 1.3 .9 .3 .9-1.9 .9-.3 .9 2 .9-.6 .9 1.8 .9 .7 .9 3.1 .9 .5 .9 .9 .9-.5 .9 .3 .9-1.5 .9-1 .9-1.7 .9-.9 .9-1.7 .9-.5 .9-2.5 .9-1.8 .9-2 .9-1.1 .9-1.5 .9-.7 .9-1.8 .9-2.2 .9-2.1 .9-1.2 .9-.5 .9-1.8 .9-.7 .9-.9 .9-1.3 .9-.7 .9-.5 .9 .5 .9-.5 .9-1 .9 1.6 .9-.7 .9-.4 .9 1.6 .9 .5 .9-.2 .8 1.3 .9 0 .9-.7 .9-.1 .9 1.9 .9-.2 .9-.5 .9 .6 .9 .4 .9-.6 .9 1.3 .9 0 .9 1.7 .9-.8 .9 1.5 .9 .9 .9-.8 .9 1.6 .9-1.2 .9 1.8 .9-.4 .9 .2 .9-.8 .9 1.3 .9 .3 .9 .9 .9 .4 .9 .5 .9 .6 .9 .1 .9-.2 .9-.4 .9 .6 .9 1 .9 .4 .9 .5 .9 .4 .9 .5 .9-.9 .9 .9 .9 .7 .9-.4 .9 .5 .9 .4 .9-.5 .9 .6 .9 .7 .9-.4 .9-.2 .9 .4 .9 .4 .9-.3 .9-.2 .9 1.1 .9 .6 .9-1 .9 .9 .9 .6 .9-.8 .9 1.2 .9-1 .9 .3 .9 .5 .9 .5 .9-.5 0 19.5-.9-.6-.9-.2-.9-.7-.9 .6-.9-.7-.9-.2-.9-.1-.9-.1-.9 .3-.9 .1-.9-1-.9 .2-.9-.4-.9 1.2-.9-1.5-.9 .9-.9-.5-.9-.9-.9-.5-.9 .1-.9 .3-.9 1-.9-.6-.9-.9-.9 1.2-.9-.6-.9-1.1-.9 .6-.9-1-.9 .6-.9 .2-.9-1.5-.9 .3-.9-.5-.9 .8-.9-1-.9-.7-.9 1-.9-1.4-.9-.6-.9 0-.9 .7-.9-.6-.9 .6-.9 .3-.9-.3-.9-.8-.9-.2-.9 .4-.9-.6-.9-.3-.9 0-.9-.8-.9 .6-.9-1.2-.9-1-.9 .4-.9-.8-.9 .4-.9-.4-.9-.1-.9-.8-.9-.2-.9-.2-.8 .5-.9-1.1-.9-.2-.9-.8-.9-.5-.9-.5-.9 .5-.9-1.3-.9 .4-.9 1.1-.9-.1-.9 .2-.9 .7-.9-.1-.9 2-.9 .7-.9 0-.9 1.3-.9 1-.9 1.2-.9 1.1-.9 1.4-.9-.3-.9 .6-.9 1.8-.9 2.7-.9-.1-.9 1.9-.9-.2-.9 .4-.9 1-.9 1.9-.9 .2-.9 0-.9-.8-.9-1.2-.9-1.7-.9-2.5-.9-2-.9-1.3-.9-1.4-.9-.5-.9-.8-.9 .2-.9 .5-.9-.4-.9-.2-.9-.1-.9-.5-.9 .8-.9-.9-.9-.8-.9 1.2-.9 .7-.9-.8-.9 .1-.9 .7-.9-.2-.9 .3-.9-.9-.9-.6-.9-.5-.9 .9-.9-.4-.9 .1-.9 .7z" fill="#f59090" fill-opacity="0.13"/>
<path d="M399.6 586.8l.9-1.1 .9-.4 .9-.5 .9 .1 .9 1.2 .9-.7 .9 .1 .9 .2 .9 .8 .9 .4 .9-1.4 .9-.5 .9 1 .9-1.3 .9 .3 .9-.5 .9 1.1 .9-.5 .9 0 .9 1 .9-1.4 .9 0 .9-1.3 .9 0 .9 .5 .9 .7 .9 2.1 .9 1.2 .9 1.7 .9 1.8 .9 .7 .9-1.7 .9-.1 .9-1.6 .9-1.6 .9-1.1 .9-1.1 .9-2.4 .9-.7 .9-2.4 .9-1.7 .9-2.4 .9-2 .9-1.3 .9-1.2 .9-.8 .9-3 .9-1.8 .9-1 .9-.3 .9-.1 .9-.7 .9-1 .9-.7 .9-.6 .9-1 .9-.4 .9-.4 .9 .5 .9-.9 .9 .8 .9 .3 .9-.6 .9 0 .9-.1 .8 .2 .9 .7 .9 .8 .9 .7 .9-.1 .9-.1 .9-.1 .9 .4 .9 .4 .9 1.3 .9 .1 .9 .6 .9 1 .9 .2 .9 1.8 .9-.7 .9 .9 .9-.1 .9 .8 .9 .7 .9 .1 .9-.1 .9 .6 .9 .9 .9-1 .9 1.3 .9 .3 .9 1.1 .9 .3 .9-.1 .9-.6 .9 .5 .9 .1 .9 .3 .9 .6 .9-.4 .9 1 .9 .4 .9-.1 .9 .6 .9 0 .9 .5 .9-.7 .9 .6 .9-1.1 .9 0 .9 1.1 .9 .1 .9-.1 .9 .7 .9 .3 .9 .4 .9 1 .9-.7 .9-1.3 .9 .4 .9 1.1 .9-.5 .9-.5 .9 0 .9 1 .9-.4 .9 0 .9-.1 .9 .3 0 19.6-.9-.3-.9-.5-.9 .1-.9 .2-.9-.6-.9 .1-.9 .3-.9 0-.9-.7-.9 .3-.9-.3-.9 .6-.9 .5-.9-.5-.9 .2-.9-1.2-.9 .5-.9-.9-.9-.2-.9-.4-.9-.3-.9 .9-.9 .7-.9 0-.9-1.2-.9 .5-.9-.5-.9-.7-.9 .4-.9-.8-.9 .5-.9 .7-.9-.9-.9 .5-.9-.2-.9-.3-.9-.9-.9-.1-.9 .2-.9-.1-.9 .1-.9-.6-.9-.5-.9 .8-.9-.3-.9 .6-.9-.9-.9-1.6-.9 1.3-.9-.9-.9-.7-.9 .5-.9-1.1-.9-1.5-.9 .1-.9-.1-.9-1.4-.9 .2-.9 .5-.9 .2-.9-1.3-.9-.3-.9-.9-.9 .2-.8 .8-.9 .1-.9-.6-.9-.2-.9-1.6-.9 .5-.9-.7-.9 1.1-.9-.3-.9 1-.9-1-.9 .4-.9 0-.9 2.1-.9-.3-.9-.2-.9 .7-.9 1.2-.9 1-.9 .9-.9 1.6-.9 .2-.9 1.8-.9 1.5-.9 1.2-.9 1.8-.9 .7-.9 .9-.9 1.7-.9 .8-.9 .6-.9-.6-.9 1.5-.9 .9-.9-.7-.9-1-.9-1.8-.9-2.4-.9-1.7-.9-2.4-.9-.6-.9-.6-.9 .2-.9 .4-.9 .9-.9-.9-.9 .9-.9-.6-.9-1.5-.9-.4-.9 0-.9 1.1-.9-.4-.9 .1-.9 .8-.9-.6-.9 .4-.9 .2-.9 .1-.9-.4-.9-.1-.9-.1-.9-.6-.9 .2-.9-.5-.9 .6z" fill="#5c9ff0" fill-opacity="0.12"/>
<path d="M399.6 585.4l.9-.3 .9 1.1 .9-.1 .9 0 .9 0 .9-.8 .9-.6 .9 1 .9 .4 .9-.4 .9 .4 .9-.4 .9-.1 .9-.2 .9 .4 .9-.3 .9-.8 .9 .2 .9-.6 .9 1.5 .9-.9 .9-1.1 .9-1 .9 1.3 .9 .8 .9-.1 .9 1.3 .9 0 .9 1.6 .9 .6 .9 .7 .9-1.4 .9-1.1 .9-1.3 .9-1.1 .9-2.2 .9-1.3 .9-1.5 .9-1.4 .9-2.4 .9-3.3 .9-.2 .9-1.5 .9-2.9 .9-.9 .9-2.7 .9-1.7 .9-.1 .9-2 .9-.9 .9-.9 .9-1 .9-1.3 .9-.9 .9 .3 .9-1.4 .9-.5 .9-.9 .9 .1 .9 .8 .9 0 .9-.2 .9 1.4 .9-.2 .9-.2 .8 1.3 .9 .1 .9 1.5 .9 .8 .9 .8 .9 .3 .9-.2 .9 .2 .9 .6 .9 .5 .9 .6 .9 .5 .9 1.5 .9-.3 .9 1.6 .9 1.3 .9 0 .9 1.1 .9-.3 .9 .2 .9 .6 .9 .5 .9 .4 .9-.1 .9 1.3 .9 .8 .9 .2 .9-.1 .9 .9 .9-.1 .9 0 .9 1 .9 1.2 .9-.9 .9 1.4 .9 .4 .9 .5 .9 .1 .9 0 .9-1.1 .9 1.1 .9 1.4 .9-1.7 .9 .2 .9 .8 .9-.9 .9 1 .9 0 .9 1.1 .9-.7 .9 .6 .9-.5 .9 .2 .9 .4 .9-.6 .9 .3 .9 .3 .9-.3 .9-.1 .9 .9 .9-.9 .9 .8 .9 .3 .9-.4 .9 1.1 0 18.1-.9-.2-.9-1.1-.9 1.3-.9-.3-.9 .3-.9-.7-.9 .7-.9-.3-.9-.5-.9-.9-.9-.1-.9-.3-.9 1-.9-.4-.9 .1-.9 .3-.9-.5-.9-.2-.9-.2-.9-.3-.9 .2-.9 .6-.9-.2-.9 .1-.9-.6-.9 .3-.9-.6-.9 .8-.9-.2-.9-1-.9-.7-.9 .1-.9-1.2-.9 .4-.9 .5-.9-1.4-.9 1.4-.9 0-.9-1.3-.9 0-.9 0-.9-.3-.9-.9-.9 .2-.9-1-.9-.3-.9 .1-.9-.9-.9 0-.9-1.2-.9 .9-.9-.1-.9-1.5-.9 .1-.9-1.1-.9-.5-.9-.3-.9-.4-.9-.7-.9 .1-.9-1.2-.9-.3-.9-1-.9-1.3-.8 .4-.9-.9-.9-.4-.9 .2-.9-.6-.9 .6-.9-1.3-.9 .3-.9-1.2-.9 .8-.9 .2-.9 .6-.9 .3-.9 1.3-.9 1.5-.9 .5-.9 .9-.9-.7-.9 1.3-.9 1.8-.9 .3-.9 2.5-.9 .7-.9 .4-.9 1.9-.9 .5-.9 2.2-.9 1.9-.9 1.4-.9 .9-.9 .4-.9 1.4-.9 .4-.9 1.3-.9-1.2-.9 .3-.9-1.4-.9-1-.9-1.5-.9-2.1-.9-.7-.9-1.3-.9 .3-.9-.3-.9 .1-.9 .5-.9 0-.9 .8-.9-.3-.9-.2-.9-.9-.9 .5-.9-.9-.9 .4-.9-.2-.9 .3-.9-.3-.9-.9-.9 1-.9 .6-.9-1.3-.9 2.1-.9-.5-.9-.9-.9 .1-.9-.5z" fill="#40d8e8" fill-opacity="0.13"/>
<path d="M399.6 589l.9-.1 .9-.1 .9 0 .9-.6 .9-.2 .9 .4 .9 .7 .9 .3 .9 .4 .9-1.2 .9-.2 .9 .8 .9-.7 .9-.5 .9 .6 .9 .7 .9-.6 .9 .3 .9-.5 .9-.2 .9 .8 .9-.1 .9-1.1 .9 .3 .9 1.2 .9 .4 .9 1.6 .9 1.4 .9 2.7 .9 1.2 .9 1 .9 .1 .9 .2 .9-.8 .9-1.5 .9-1.4 .9-.6 .9-.7 .9-1.2 .9-1.2 .9-2.3 .9-1.9 .9-.9 .9-.5 .9-1.1 .9-1.5 .9-1.7 .9-1.5 .9-1.2 .9-.3 .9-1.3 .9-1.3 .9-.4 .9-1 .9-.5 .9-.2 .9-.3 .9-.4 .9 .1 .9 .6 .9-.1 .9 .1 .9 1.2 .9 .3 .9 .5 .8 .3 .9 .1 .9-.2 .9 .4 .9 1 .9 0 .9-.4 .9 .7 .9 0 .9 .2 .9 1.2 .9-.3 .9 1.3 .9-.4 .9 .9 .9 .7 .9-.5 .9 .9 .9-.2 .9 1 .9-.4 .9-.1 .9-.2 .9 .3 .9 .2 .9 .8 .9 .9 .9-.3 .9 .7 .9 .5 .9-.5 .9 .1 .9 .1 .9 1.2 .9 .2 .9-.1 .9 .7 .9 0 .9 .1 .9 .7 .9-.2 .9 .2 .9 .5 .9-.2 .9-.5 .9 .3 .9 .6 .9 .3 .9 .1 .9-.3 .9 1 .9-.7 .9 .1 .9 .4 .9 .8 .9-.6 .9 .3 .9 .4 .9-.4 .9 .8 .9-.2 .9-.1 .9 .6 .9 .3 .9 .1" fill="none" stroke="#cf6e6e" stroke-width="1.25" stroke-linejoin="round"/>
<path d="M399.6 589.5l.9-.9 .9 0 .9-.3 .9 .3 .9 .7 .9-.3 .9 .3 .9 0 .9 .3 .9 0 .9-.4 .9-.6 .9 .4 .9-.5 .9-.4 .9-.2 .9 .8 .9 .5 .9 .2 .9 .1 .9-.2 .9-.5 .9-.8 .9-.2 .9 .6 .9 .6 .9 2.3 .9 1.4 .9 2.1 .9 1.8 .9 .8 .9-.5 .9-.5 .9-1.5 .9-.5 .9-.8 .9-1 .9-2.1 .9-.8 .9-1.5 .9-1.7 .9-1.9 .9-1.7 .9-1.5 .9-.8 .9-1.1 .9-2 .9-1.4 .9-1.1 .9-.5 .9 0 .9-.1 .9-1.6 .9-.4 .9-.5 .9 .1 .9-.7 .9-.1 .9-.3 .9-.1 .9 .2 .9 .9 .9-.2 .9 .3 .9-.1 .8-.3 .9 .2 .9 .9 .9 .5 .9 .6 .9-.1 .9-.3 .9 .1 .9 .8 .9 .8 .9 0 .9 1 .9 1.1 .9-.2 .9 1.2 .9 .1 .9-.1 .9 .7 .9 .9 .9 0 .9 .2 .9-.5 .9 .6 .9 .8 .9-.6 .9 .7 .9 0 .9 .6 .9 .7 .9 0 .9-.1 .9 0 .9 .5 .9-.3 .9 .1 .9 .2 .9 .3 .9 .5 .9 .2 .9 .1 .9 .6 .9 .2 .9-.6 .9-.2 .9-.4 .9 .2 .9 .7 .9 .5 .9-.4 .9 1 .9 .1 .9 .4 .9 .3 .9-.7 .9-.5 .9 0 .9 1 .9-.3 .9-.4 .9 0 .9 .8 .9-.3 .9-.1 .9 .2 .9 .3" fill="none" stroke="#1f7ff0" stroke-width="1.25" stroke-linejoin="round"/>
<path d="M399.6 588.5l.9 0 .9 .6 .9 .3 .9 .3 .9-1 .9 .2 .9-.6 .9 0 .9 .6 .9 0 .9 0 .9 0 .9-.3 .9 .3 .9 0 .9 .3 .9-.3 .9 .2 .9-.7 .9 .8 .9-.7 .9-.6 .9-.4 .9 .6 .9 1 .9 .3 .9 1.7 .9 .8 .9 1.3 .9 1 .9 .2 .9-.1 .9-1.2 .9-.9 .9-1.3 .9-1.3 .9-1.1 .9-1.4 .9-1.6 .9-2.3 .9-1.9 .9-1.1 .9-.9 .9-1.8 .9-1.8 .9-1.4 .9-1.8 .9-.7 .9-.7 .9-.8 .9-.7 .9-1.3 .9-1.3 .9-.6 .9-.2 .9-.8 .9-.6 .9 .1 .9 0 .9 1 .9-.3 .9 .2 .9 .6 .9 .1 .9 .4 .8 .4 .9 .7 .9 1.2 .9 .6 .9 1 .9 .1 .9 .2 .9 .3 .9 .5 .9 .5 .9 .8 .9 .2 .9 1.6 .9-.1 .9 .3 .9 1.2 .9 0 .9 1.1 .9-.2 .9 .2 .9 .8 .9 .2 .9 .6 .9 .1 .9 .6 .9 .4 .9 .8 .9 0 .9-.3 .9 .7 .9-.3 .9 .3 .9 1.2 .9-.5 .9 1 .9 .7 .9 .4 .9-.3 .9 .2 .9-.6 .9 .8 .9 .7 .9-.8 .9-.2 .9 .3 .9-.3 .9 .6 .9 .1 .9 .8 .9-.5 .9 .3 .9-.1 .9-.4 .9 .4 .9-.3 .9 .6 .9 .4 .9 0 .9-.4 .9 .8 .9-.6 .9 .5 .9-.5 .9 .4 .9 .7" fill="none" stroke="#2ad6c4" stroke-width="1.25" stroke-linejoin="round"/>
</g>
<line x1="417.58" y1="549.84" x2="417.58" y2="642.90" stroke="#4a4a4a" stroke-width="0.95" stroke-dasharray="4,3.55"/>
<text x="416.58" y="541.48" font-size="4.0" fill="#a0a0a0" >Stimulus</text>
<text x="416.58" y="547.27" font-size="4.0" fill="#a0a0a0" >Onset</text>
<text x="399.80" y="610.25" font-size="3.8" fill="#333333" >HC MSB-</text>
<text x="399.80" y="617.98" font-size="3.8" fill="#333333" >HC MSB+</text>
<text x="399.80" y="625.70" font-size="3.8" fill="#333333" >MSB- MSB+</text>
<path d="M399.6 534.8H516.5M399.6 642.9H516.5" stroke="#6e6e6e" stroke-width="0.8"/>
<path d="M399.6 534.8V642.9M516.5 534.8V642.9" stroke="#9e9e9e" stroke-width="0.7"/>
<path d="M399.6 642.9v-1.3M399.6 534.8v1.3M417.6 642.9v-1.3M417.6 534.8v1.3M435.6 642.9v-1.3M435.6 534.8v1.3M453.6 642.9v-1.3M453.6 534.8v1.3M471.5 642.9v-1.3M471.5 534.8v1.3M489.5 642.9v-1.3M489.5 534.8v1.3M507.5 642.9v-1.3M507.5 534.8v1.3M399.6 635.2h1.3M516.5 635.2h-1.3M399.6 619.7h1.3M516.5 619.7h-1.3M399.6 604.3h1.3M516.5 604.3h-1.3M399.6 588.8h1.3M516.5 588.8h-1.3M399.6 573.4h1.3M516.5 573.4h-1.3M399.6 558.0h1.3M516.5 558.0h-1.3M399.6 542.5h1.3M516.5 542.5h-1.3" stroke="#444" stroke-width="0.6" fill="none"/>
<text x="397.20" y="637.77" font-size="7.2" text-anchor="end" fill="#262626" >-0.6</text>
<text x="397.20" y="622.33" font-size="7.2" text-anchor="end" fill="#262626" >-0.4</text>
<text x="397.20" y="606.88" font-size="7.2" text-anchor="end" fill="#262626" >-0.2</text>
<text x="397.20" y="591.44" font-size="7.2" text-anchor="end" fill="#262626" >0</text>
<text x="397.20" y="576.00" font-size="7.2" text-anchor="end" fill="#262626" >0.2</text>
<text x="397.20" y="560.56" font-size="7.2" text-anchor="end" fill="#262626" >0.4</text>
<text x="397.20" y="545.11" font-size="7.2" text-anchor="end" fill="#262626" >0.6</text>
<text x="399.60" y="652.62" font-size="7.2" text-anchor="middle" fill="#262626" >-0.2</text>
<text x="417.58" y="652.62" font-size="7.2" text-anchor="middle" fill="#262626" >0</text>
<text x="435.57" y="652.62" font-size="7.2" text-anchor="middle" fill="#262626" >0.2</text>
<text x="453.55" y="652.62" font-size="7.2" text-anchor="middle" fill="#262626" >0.4</text>
<text x="471.54" y="652.62" font-size="7.2" text-anchor="middle" fill="#262626" >0.6</text>
<text x="489.52" y="652.62" font-size="7.2" text-anchor="middle" fill="#262626" >0.8</text>
<text x="507.51" y="652.62" font-size="7.2" text-anchor="middle" fill="#262626" >1</text>
<text x="458.05" y="661.26" font-size="7.416" text-anchor="middle" fill="#262626" >Time (s)</text>
<text x="382.00" y="588.85" font-size="7.5" text-anchor="middle" fill="#262626" transform="rotate(-90 382.00 588.85)">Occupancy level (a.u.)</text>
<text x="458.05" y="532.00" font-size="8.928" text-anchor="middle" font-weight="bold" fill="#000" >1 back D</text>
<rect x="480.94" y="538.60" width="31.56" height="19.46" fill="#fff" stroke="#6a6a6a" stroke-width="0.6" />
<line x1="481.94" y1="542.30" x2="495.46" y2="542.30" stroke="#e87a7a" stroke-width="1.3" />
<text x="497.35" y="544.00" font-size="4.8" fill="#262626" >HC</text>
<line x1="481.94" y1="548.33" x2="495.46" y2="548.33" stroke="#1f7ff0" stroke-width="1.3" />
<text x="497.35" y="550.03" font-size="4.8" fill="#262626" >MSB-</text>
<line x1="481.94" y1="554.36" x2="495.46" y2="554.36" stroke="#2ad6c4" stroke-width="1.3" />
<text x="497.35" y="556.06" font-size="4.8" fill="#262626" >MSB+</text>
<path d="M571.7 534.8V642.9M589.7 534.8V642.9M607.7 534.8V642.9M625.6 534.8V642.9M643.6 534.8V642.9M661.6 534.8V642.9M553.7 635.2H670.6M553.7 619.7H670.6M553.7 604.3H670.6M553.7 573.4H670.6M553.7 558.0H670.6M553.7 542.5H670.6M553.7 588.8H670.6" stroke="#e6e6e6" stroke-width="0.6" fill="none"/>
<clipPath id="cp205"><rect x="553.70" y="534.80" width="116.90" height="108.10"/></clipPath>
<g clip-path="url(#cp205)">
<path d="M553.7 585.8l.9-.6 .9 .3 .9-.2 .9-.8 .9 0 .9 1.1 .9-.8 .9 .4 .9-.6 .9 .6 .9 .1 .9-.2 .9 .4 .9-1.2 .9 .3 .9 .3 .9-.6 .9 .5 .9 0 .9-1.3 .9 1.3 .9-1.2 .9-.7 .9 .8 .9-.1 .9 1.7 .9 .1 .9 .8 .9 2.6 .9 1.1 .9 1.5 .9-.9 .9-2.1 .9 .4 .9-1.6 .9-.9 .9-1.3 .9-.8 .9-2.5 .9-1 .9-2.8 .9-.4 .9-1.6 .9-2.4 .9-.7 .9-2.5 .9 0 .9-1.4 .9-2 .9-.5 .9-.7 .9-.6 .9-.7 .9-1 .9-.3 .9-.1 .9-1.3 .9-1.7 .9 .6 .9-.3 .9-1 .9 1.4 .9-.4 .9 .4 .9-.4 .8 0 .9 .7 .9-.5 .9 .8 .9-.8 .9 .4 .9 1.2 .9 .5 .9 .3 .9 1.2 .9-.4 .9 .4 .9 .9 .9 0 .9 .3 .9 .7 .9 1 .9 .1 .9 .4 .9 .2 .9 0 .9 .1 .9 .9 .9 0 .9 .8 .9-.1 .9 1.3 .9 .1 .9 .6 .9 .5 .9 .7 .9 .5 .9-.4 .9-.9 .9 1.8 .9-.5 .9 .4 .9 .6 .9-.8 .9-.3 .9 .3 .9 1.3 .9 0 .9-.5 .9 .4 .9-.6 .9 .5 .9 1 .9-.8 .9 .3 .9-.2 .9 1.3 .9 .3 .9 .5 .9-.2 .9-.6 .9 .2 .9 .3 .9-.3 .9 .9 .9-1.2 .9 .3 .9-.3 .9 0 .9 .4 0 18-.9 1.3-.9-.1-.9-.5-.9 .1-.9-.6-.9 0-.9 .5-.9 1-.9-.1-.9-1.3-.9 .8-.9-.3-.9-.9-.9-.4-.9-.6-.9 1-.9-.7-.9-.4-.9 .5-.9 .8-.9-1-.9 .1-.9-.6-.9 0-.9-.2-.9 .5-.9 .2-.9-.3-.9 .3-.9-.3-.9 .1-.9-.5-.9 0-.9-.7-.9 .5-.9-.9-.9-.9-.9 1-.9-.4-.9-.9-.9 0-.9 .6-.9-.2-.9-.4-.9-.4-.9-.3-.9 .5-.9-1-.9 .6-.9 .1-.9-.8-.9 .5-.9-1.2-.9-1.4-.9 .3-.9 .9-.9-.7-.9-1.6-.9-.2-.9 .5-.9-.4-.9-.1-.9-1-.9 .2-.8 0-.9 .2-.9-.1-.9-1-.9 .4-.9-1.2-.9 .2-.9 1.3-.9 0-.9 1.5-.9 .1-.9-.1-.9 1-.9-1.1-.9 1.5-.9-.2-.9 .9-.9 .8-.9 1.1-.9 1.1-.9 .5-.9 .8-.9 1.2-.9 .9-.9 1.5-.9 1-.9 1.6-.9 .3-.9 1.4-.9 1-.9-.6-.9 1-.9 .5-.9-.6-.9 .6-.9-.4-.9-2.6-.9-1.6-.9-2-.9-1.6-.9-1.6-.9 .1-.9-.5-.9 .1-.9-.5-.9 .5-.9-.4-.9 1.3-.9-.6-.9 .4-.9-.3-.9-.8-.9-.8-.9 .5-.9 0-.9 .1-.9 .3-.9-.9-.9 .5-.9-.2-.9-.1-.9 .3-.9-1.1-.9 0-.9 1-.9 .1z" fill="#f59090" fill-opacity="0.13"/>
<path d="M553.7 586.3l.9-.3 .9 .5 .9-.2 .9-.5 .9 .9 .9-.6 .9-.8 .9 0 .9 .5 .9-1.1 .9 .3 .9 .2 .9-.6 .9 0 .9-.3 .9 .4 .9 1 .9-.5 .9 .7 .9-.6 .9 0 .9-1.8 .9 1 .9-.2 .9-.7 .9 1.3 .9-.3 .9 2.5 .9 1.8 .9-.6 .9 1.2 .9-1.1 .9-.1 .9-.9 .9-1.3 .9-1.8 .9-1.7 .9-.9 .9-2.2 .9-2.3 .9-.5 .9-1.9 .9-2.8 .9-2.1 .9-1.3 .9-1.8 .9-1 .9-.9 .9-1.6 .9-.8 .9-.8 .9-1.1 .9 .8 .9-1.5 .9-1.4 .9 .2 .9 .2 .9-1.8 .9-.1 .9 .1 .9-.9 .9 .8 .9-.4 .9 0 .9 .3 .8-.4 .9 .7 .9 0 .9-.8 .9 1 .9-.9 .9 .9 .9-.3 .9 1.2 .9-.2 .9 1.5 .9-1.3 .9 1.1 .9 .1 .9 .7 .9 .2 .9-.3 .9 1.2 .9 .2 .9-.2 .9 1.1 .9 .5 .9-.7 .9 1.6 .9 .1 .9 1 .9 0 .9 0 .9 .3 .9 1.3 .9 0 .9 1.3 .9-.5 .9 .3 .9 .3 .9 .5 .9 1.5 .9-.6 .9-.1 .9 1.7 .9-.6 .9 .9 .9-.2 .9 .6 .9-.1 .9-.9 .9 0 .9 .9 .9 .6 .9 0 .9 1.2 .9-.4 .9-.2 .9 .3 .9 .3 .9-1 .9-.5 .9 0 .9 .1 .9 .9 .9-.2 .9 0 .9 .4 .9 1.3 .9-.2 0 18.4-.9-.8-.9 .6-.9-1.1-.9 .1-.9 .7-.9-1-.9 .6-.9-.1-.9 .8-.9-.4-.9 1-.9-.5-.9 .1-.9-1.2-.9 .3-.9-1.6-.9 1.3-.9-.5-.9 .1-.9-1.3-.9 .5-.9-.6-.9 .6-.9-.6-.9-.1-.9 0-.9-1-.9 .2-.9 0-.9-.2-.9-.6-.9 .2-.9 .2-.9-.2-.9-1.1-.9-.1-.9 .1-.9-1.9-.9 .8-.9-.6-.9-.5-.9 .7-.9 .2-.9-.3-.9-.4-.9-1-.9 1.2-.9-1-.9-.3-.9-.4-.9 .6-.9-.9-.9-.4-.9 .1-.9 .5-.9-.2-.9-.4-.9-.8-.9 .4-.9 0-.9-.6-.9-.3-.9 .1-.9 .7-.8-.5-.9-.7-.9 .2-.9-.1-.9 .2-.9-.4-.9 0-.9 .8-.9-.4-.9-.2-.9 1-.9 .2-.9 .5-.9 .4-.9 .5-.9-.2-.9 1.8-.9-.4-.9 .4-.9 1-.9 1.4-.9 1.6-.9 1.3-.9 1-.9 1.2-.9 2-.9 .6-.9 .8-.9 2.6-.9-.4-.9 .5-.9 1.4-.9 .5-.9-.3-.9 .4-.9-.4-.9-1.6-.9-1.2-.9-2-.9-1.8-.9-.9-.9-.2-.9 .5-.9-.7-.9 .2-.9 .6-.9-.3-.9-.5-.9-.5-.9 .3-.9-.7-.9-.8-.9 0-.9-.2-.9 .9-.9 .4-.9 0-.9 .8-.9-1.7-.9 .3-.9 .8-.9 .2-.9 .4-.9-1.1-.9 .3-.9 .2z" fill="#5c9ff0" fill-opacity="0.12"/>
<path d="M553.7 585.7l.9 .4 .9-.2 .9-.5 .9 .5 .9 1.2 .9-.7 .9 .2 .9-1.2 .9 .3 .9-1 .9 .4 .9 .2 .9 0 .9 .8 .9-.3 .9 .6 .9-1.7 .9 .6 .9 .8 .9-.7 .9-.5 .9-.5 .9 0 .9-.3 .9 0 .9 .9 .9 .1 .9 .5 .9 1.2 .9 0 .9-.4 .9 0 .9-2 .9-1.3 .9-1.6 .9-3 .9-.2 .9-2.4 .9-1.5 .9-2.5 .9-1.6 .9-2.3 .9-1.4 .9-1.4 .9-2.6 .9-2.3 .9-1.3 .9-1.3 .9-.9 .9-.6 .9-2.4 .9 0 .9-.2 .9-1.8 .9-.4 .9-.3 .9-.1 .9-1.5 .9-.3 .9 .8 .9-1.5 .9 .6 .9-.1 .9 .9 .9-1.1 .8 .5 .9 .2 .9 1.1 .9 1.7 .9 1.5 .9 1.4 .9 .3 .9 .9 .9 .4 .9 .3 .9 0 .9 .7 .9 .1 .9 1.2 .9 .4 .9 .3 .9 .2 .9 1.1 .9 .9 .9 1.3 .9-.7 .9 .6 .9 1.2 .9-.2 .9 .6 .9-.4 .9 .5 .9 0 .9-.8 .9 .3 .9 2.1 .9-.2 .9 .3 .9 .6 .9-.3 .9-.1 .9 1.1 .9 .3 .9 .2 .9 .5 .9-.1 .9 .1 .9 .7 .9-.8 .9-.3 .9 0 .9 .4 .9 .2 .9 .3 .9-.1 .9 .7 .9 .4 .9 0 .9 .5 .9-.2 .9-.3 .9-.2 .9 .5 .9 .2 .9-.1 .9 1.4 .9-.8 .9 .4 .9 .3 .9-.3 0 17.8-.9 .8-.9-.8-.9 1.2-.9-.5-.9-.1-.9-.3-.9-1-.9 .5-.9 .4-.9 .9-.9-2-.9-.3-.9 1.1-.9-1.3-.9 .3-.9-.5-.9 1-.9-1.1-.9 .7-.9 .3-.9-.4-.9 .3-.9-.7-.9 .4-.9 0-.9-.4-.9-.4-.9-.9-.9 .3-.9-.7-.9 .8-.9-.5-.9 1.2-.9-1.2-.9-.4-.9-.3-.9-.7-.9 .6-.9 0-.9-.5-.9 .6-.9-.5-.9-.3-.9 .5-.9-.5-.9 .3-.9-.6-.9-.8-.9-.8-.9-.3-.9 .2-.9-.8-.9 .1-.9-.3-.9-.8-.9-1.1-.9-.6-.9-.7-.9 0-.9-.4-.9-.7-.9-1.3-.9-1.5-.9-.7-.8-.5-.9-.1-.9 .4-.9-1.2-.9 .6-.9-.1-.9 .4-.9 .2-.9-.4-.9 .8-.9-1.1-.9 2.2-.9-.6-.9 .7-.9 .8-.9 .4-.9 1-.9 .8-.9 .8-.9 1.9-.9 1.5-.9 .2-.9 .7-.9 1.7-.9 1.2-.9 2.5-.9 .5-.9 1.8-.9 1.6-.9 .7-.9 .5-.9 1.1-.9 2.3-.9 .3-.9-.3-.9 .9-.9-1.3-.9-1.3-.9 0-.9-1.2-.9-1.2-.9-.3-.9 .7-.9-.6-.9-.3-.9 .5-.9-.3-.9-.1-.9-.3-.9-.4-.9 .5-.9-.7-.9-1.3-.9 .1-.9-.3-.9 1.4-.9-.3-.9 .4-.9 .3-.9-.5-.9 .4-.9 .7-.9-.9-.9-.3-.9-.5-.9-.7z" fill="#40d8e8" fill-opacity="0.13"/>
<path d="M553.7 588.7l.9-.3 .9-.4 .9-.1 .9 .2 .9-.2 .9 .6 .9-.3 .9 0 .9 .1 .9 .1 .9 .1 .9-.2 .9 0 .9-.2 .9 .6 .9 .2 .9-.5 .9 .6 .9-.7 .9-.4 .9 .4 .9-.3 .9-.5 .9 .7 .9-.1 .9 1.6 .9 .9 .9 1.4 .9 2.1 .9 1.8 .9 1 .9-.7 .9-.8 .9 0 .9-1.3 .9-.2 .9-1.1 .9-1.2 .9-1.3 .9-1.3 .9-1.9 .9-1 .9-1.3 .9-1.8 .9-.7 .9-1.5 .9-.6 .9-1.2 .9-1.4 .9-.7 .9-.2 .9-1.1 .9 .2 .9-1 .9-.1 .9-.1 .9-1.4 .9-.9 .9-.3 .9-.3 .9 .1 .9 .6 .9 .2 .9 .3 .9-.3 .8 0 .9 .2 .9 .3 .9 .5 .9-.2 .9-.1 .9 .7 .9 1 .9 .5 .9 .2 .9-.3 .9 .8 .9 1.1 .9-.3 .9 .6 .9 .3 .9 .2 .9 .5 .9 0 .9 .3 .9 .2 .9 .2 .9 .5 .9-.3 .9 .4 .9 .5 .9 .8 .9-.5 .9 .8 .9 .7 .9 .1 .9 .6 .9-.2 .9-.2 .9 .9 .9-.1 .9 0 .9 .4 .9-.5 .9-.3 .9 .2 .9 .6 .9 .4 .9-.4 .9 .8 .9-.8 .9 .1 .9 .7 .9-.1 .9-.3 .9 .2 .9 .8 .9 .6 .9 .4 .9-.5 .9 .4 .9 .1 .9-.4 .9-.4 .9 .5 .9-.3 .9 .1 .9 .1 .9 .1 .9-.5" fill="none" stroke="#cf6e6e" stroke-width="1.25" stroke-linejoin="round"/>
<path d="M553.7 589.3l.9-.3 .9 .1 .9 .4 .9-.4 .9 .4 .9-.8 .9-.5 .9 .8 .9-.1 .9-.6 .9 0 .9-.4 .9-.1 .9-.1 .9 .3 .9 .6 .9 .3 .9 0 .9 .6 .9-.1 .9-.4 .9-.9 .9 .8 .9-.4 .9-.2 .9 1.1 .9 .7 .9 2.3 .9 1.5 .9 .5 .9 .8 .9-.7 .9 .1 .9-.7 .9-1.4 .9-1.1 .9-.7 .9-1.8 .9-1.4 .9-1.5 .9-1.2 .9-1.6 .9-1.9 .9-1.7 .9-1.4 .9-1.6 .9-1.1 .9-.6 .9-.6 .9-1.3 .9-.3 .9-.8 .9 .2 .9-1 .9-.8 .9-.4 .9 .2 .9-.7 .9-.5 .9 .1 .9-.2 .9 .2 .9-.1 .9-.1 .9 .5 .8 .1 .9 0 .9-.1 .9-.2 .9 .7 .9-.4 .9 .2 .9 .3 .9 .8 .9 0 .9 .5 .9-.7 .9 .7 .9 .5 .9 .1 .9 .3 .9 0 .9 1.1 .9-.5 .9 .4 .9 .7 .9 .5 .9-.5 .9 .4 .9 .4 .9 .8 .9-.4 .9 .9 .9 .1 .9 .7 .9 .6 .9 .7 .9-.4 .9 .1 .9 .5 .9 .3 .9 .8 .9-.5 .9 .5 .9 .9 .9-.3 .9 .8 .9-.4 .9 .6 .9-.3 .9 .2 .9-.1 .9 .7 .9-.3 .9 .8 .9 .4 .9 .4 .9-.1 .9 .4 .9-.4 .9-.3 .9-.6 .9 0 .9-.2 .9 .9 .9-.4 .9-.1 .9 .8 .9 .3 .9 .3" fill="none" stroke="#1f7ff0" stroke-width="1.25" stroke-linejoin="round"/>
<path d="M553.7 588.2l.9 .6 .9 .1 .9-.1 .9 .7 .9 .3 .9-.6 .9 .4 .9-.7 .9-.1 .9-.4 .9-.4 .9 .2 .9-.1 .9 1.1 .9 .2 .9 .1 .9-.7 .9 .4 .9 .5 .9-.2 .9-.5 .9-.1 .9 .3 .9-.5 .9 .2 .9 1 .9 .6 .9 .3 .9 1.3 .9 .6 .9-.6 .9 .1 .9-1.1 .9-1.9 .9-1.3 .9-1.8 .9-.4 .9-2 .9-1.7 .9-1.5 .9-2 .9-1.8 .9-1.5 .9-1 .9-1.5 .9-1.8 .9-1.6 .9-1.1 .9-.9 .9-.8 .9-1.3 .9-.5 .9-.4 .9-.6 .9-1.3 .9 .4 .9-.4 .9-.6 .9-.2 .9 .2 .9-.7 .9 0 .9 .5 .9 .3 .9-.6 .8 .5 .9 .5 .9 1.3 .9 1.5 .9 1.1 .9 .9 .9 .2 .9 .8 .9 .5 .9 .7 .9 .3 .9 .5 .9 .1 .9 1 .9 0 .9 .3 .9 .5 .9 1 .9 .8 .9 .4 .9-.1 .9 .1 .9 .7 .9 .2 .9 0 .9 .1 .9 .2 .9-.3 .9-.1 .9 .3 .9 1.3 .9 .5 .9-.5 .9 .6 .9-.5 .9 .3 .9 .3 .9 .6 .9 .4 .9 .4 .9-.1 .9-.1 .9 .7 .9-.6 .9 .1 .9-.2 .9-.1 .9 .6 .9-.3 .9 .2 .9 .2 .9 .9 .9-.6 .9 .4 .9 .9 .9-.6 .9-.3 .9 0 .9 .6 .9 .1 .9 .8 .9-.2 .9-.4 .9 .6 .9-.6" fill="none" stroke="#2ad6c4" stroke-width="1.25" stroke-linejoin="round"/>
</g>
<line x1="571.68" y1="549.84" x2="571.68" y2="642.90" stroke="#4a4a4a" stroke-width="0.95" stroke-dasharray="4,3.55"/>
<text x="570.68" y="541.48" font-size="4.0" fill="#a0a0a0" >Stimulus</text>
<text x="570.68" y="547.27" font-size="4.0" fill="#a0a0a0" >Onset</text>
<text x="553.90" y="610.25" font-size="3.8" fill="#333333" >HC MSB-</text>
<text x="553.90" y="617.98" font-size="3.8" fill="#333333" >HC MSB+</text>
<text x="553.90" y="625.70" font-size="3.8" fill="#333333" >MSB- MSB+</text>
<path d="M553.7 534.8H670.6M553.7 642.9H670.6" stroke="#6e6e6e" stroke-width="0.8"/>
<path d="M553.7 534.8V642.9M670.6 534.8V642.9" stroke="#9e9e9e" stroke-width="0.7"/>
<path d="M553.7 642.9v-1.3M553.7 534.8v1.3M571.7 642.9v-1.3M571.7 534.8v1.3M589.7 642.9v-1.3M589.7 534.8v1.3M607.7 642.9v-1.3M607.7 534.8v1.3M625.6 642.9v-1.3M625.6 534.8v1.3M643.6 642.9v-1.3M643.6 534.8v1.3M661.6 642.9v-1.3M661.6 534.8v1.3M553.7 635.2h1.3M670.6 635.2h-1.3M553.7 619.7h1.3M670.6 619.7h-1.3M553.7 604.3h1.3M670.6 604.3h-1.3M553.7 588.8h1.3M670.6 588.8h-1.3M553.7 573.4h1.3M670.6 573.4h-1.3M553.7 558.0h1.3M670.6 558.0h-1.3M553.7 542.5h1.3M670.6 542.5h-1.3" stroke="#444" stroke-width="0.6" fill="none"/>
<text x="551.30" y="637.77" font-size="7.2" text-anchor="end" fill="#262626" >-0.6</text>
<text x="551.30" y="622.33" font-size="7.2" text-anchor="end" fill="#262626" >-0.4</text>
<text x="551.30" y="606.88" font-size="7.2" text-anchor="end" fill="#262626" >-0.2</text>
<text x="551.30" y="591.44" font-size="7.2" text-anchor="end" fill="#262626" >0</text>
<text x="551.30" y="576.00" font-size="7.2" text-anchor="end" fill="#262626" >0.2</text>
<text x="551.30" y="560.56" font-size="7.2" text-anchor="end" fill="#262626" >0.4</text>
<text x="551.30" y="545.11" font-size="7.2" text-anchor="end" fill="#262626" >0.6</text>
<text x="553.70" y="652.62" font-size="7.2" text-anchor="middle" fill="#262626" >-0.2</text>
<text x="571.68" y="652.62" font-size="7.2" text-anchor="middle" fill="#262626" >0</text>
<text x="589.67" y="652.62" font-size="7.2" text-anchor="middle" fill="#262626" >0.2</text>
<text x="607.65" y="652.62" font-size="7.2" text-anchor="middle" fill="#262626" >0.4</text>
<text x="625.64" y="652.62" font-size="7.2" text-anchor="middle" fill="#262626" >0.6</text>
<text x="643.62" y="652.62" font-size="7.2" text-anchor="middle" fill="#262626" >0.8</text>
<text x="661.61" y="652.62" font-size="7.2" text-anchor="middle" fill="#262626" >1</text>
<text x="612.15" y="661.26" font-size="7.416" text-anchor="middle" fill="#262626" >Time (s)</text>
<text x="536.10" y="588.85" font-size="7.5" text-anchor="middle" fill="#262626" transform="rotate(-90 536.10 588.85)">Occupancy level (a.u.)</text>
<text x="612.15" y="532.00" font-size="8.928" text-anchor="middle" font-weight="bold" fill="#000" >2 back D</text>
<rect x="635.04" y="538.60" width="31.56" height="19.46" fill="#fff" stroke="#6a6a6a" stroke-width="0.6" />
<line x1="636.04" y1="542.30" x2="649.56" y2="542.30" stroke="#e87a7a" stroke-width="1.3" />
<text x="651.45" y="544.00" font-size="4.8" fill="#262626" >HC</text>
<line x1="636.04" y1="548.33" x2="649.56" y2="548.33" stroke="#1f7ff0" stroke-width="1.3" />
<text x="651.45" y="550.03" font-size="4.8" fill="#262626" >MSB-</text>
<line x1="636.04" y1="554.36" x2="649.56" y2="554.36" stroke="#2ad6c4" stroke-width="1.3" />
<text x="651.45" y="556.06" font-size="4.8" fill="#262626" >MSB+</text>
<path d="M261.7 722.1V830.6M279.8 722.1V830.6M298.0 722.1V830.6M316.1 722.1V830.6M334.3 722.1V830.6M352.4 722.1V830.6M243.5 822.9H361.5M243.5 807.4H361.5M243.5 791.9H361.5M243.5 760.9H361.5M243.5 745.4H361.5M243.5 729.9H361.5M243.5 776.4H361.5" stroke="#e6e6e6" stroke-width="0.6" fill="none"/>
<clipPath id="cp300"><rect x="243.50" y="722.15" width="118.00" height="108.50"/></clipPath>
<g clip-path="url(#cp300)">
<path d="M243.5 772.7l.9 1.3 .9-.3 .9-.3 .9-.2 .9-.1 .9 0 1-.2 .9 .7 .9-.2 .9 .1 .9-1.1 .9 .2 .9 .4 .9-.8 .9 .4 .9 .2 .9-.4 .9-.1 .9-.3 1 0 .9-.4 .9 1.1 .9-.2 .9-.4 .9 .2 .9-.2 .9-1 .9 1.2 .9 .3 .9-1 .9 .5 .9 .4 1 .5 .9-1.1 .9 1.1 .9-.2 .9 0 .9 1.2 .9-.8 .9 .8 .9-1.1 .9 1 .9 .3 .9-.4 .9 .7 1 1.1 .9-.4 .9 .4 .9 .9 .9-.4 .9-.5 .9 1.1 .9 .5 .9 .8 .9-.6 .9-.3 .9 0 .9 .7 1-.5 .9 .7 .9-.5 .9 .9 .9 .4 .9-1.1 .9 1 .9-.9 .9-.5 .9-.2 .9-.3 .9-1.2 .9 1.6 1-1.2 .9 .2 .9 .2 .9-1 .9-1.2 .9 1 .9-.5 .9-.1 .9-.9 .9 .9 .9-.5 .9-.5 .9 .1 1-1 .9 .1 .9 .3 .9 .3 .9-.9 .9-.2 .9 .3 .9-.3 .9-.4 .9-.4 .9-.2 .9-.2 .9 .5 1-1 .9-.8 .9 .8 .9 .5 .9 .3 .9-.2 .9 .5 .9 .1 .9-.1 .9 0 .9-1.8 .9 .5 .9 .9 1 .3 .9 .4 .9-.8 .9 .2 .9 1.1 .9-.8 .9 .1 .9 .4 .9-.7 .9 1.2 .9-1.6 .9 .8 .9-.2 1-.3 .9-1.2 .9 1.7 .9-.7 .9 .4 .9-1.4 .9 .8 0 10.8-.9 .4-.9 .5-.9-.2-.9-.3-.9-.2-.9 0-1 .4-.9-.2-.9 .4-.9 .1-.9-.1-.9-.5-.9 1.6-.9-.4-.9-1-.9 .1-.9 .2-.9 0-.9-.6-1-.5-.9 1-.9-.6-.9-.5-.9 1.5-.9-.9-.9-.4-.9 .9-.9-.1-.9-.2-.9-1.8-.9 1.1-.9 .2-1 1-.9-.3-.9 .7-.9-1.2-.9 .7-.9 1.2-.9-1.2-.9 .2-.9 .8-.9 .1-.9-.6-.9 .6-.9 1.1-1-.9-.9 .9-.9-.1-.9 .4-.9-.1-.9-.2-.9 1.7-.9 0-.9-.5-.9 .3-.9 1.2-.9-.3-.9-1.1-1 1-.9 .2-.9 .2-.9-.4-.9 1.2-.9 1-.9-.7-.9 0-.9 0-.9 .3-.9-.1-.9-.5-.9 1.1-1-1.1-.9 .3-.9-.2-.9-.6-.9 .3-.9-.1-.9-1.3-.9 .8-.9-1-.9 .8-.9-.2-.9 0-.9-1.8-1-1.5-.9 .5-.9-.2-.9-.6-.9 .6-.9-.6-.9 .6-.9-1.5-.9 .4-.9-.9-.9 .6-.9-1.3-.9-.3-1 1-.9-1-.9-.3-.9 .4-.9-.9-.9-.7-.9-.1-.9 .9-.9-.4-.9 .7-.9-1-.9 .1-.9 1-1-1.6-.9 1-.9-.2-.9 .6-.9-.4-.9 .1-.9-.4-.9-.5-.9 .7-.9 .5-.9-.2-.9-.9-.9 1.2-1-.8-.9-.2-.9 .9-.9-1.2-.9 .4-.9-.7-.9 .6z" fill="#f59090" fill-opacity="0.13"/>
<path d="M243.5 773.8l.9-.9 .9 .3 .9 .4 .9-.1 .9-.8 .9-.2 1 .4 .9-.1 .9-.2 .9-.8 .9 1.6 .9-.9 .9-.3 .9-.2 .9 1 .9 .2 .9-.3 .9-.4 .9 .2 1-1 .9 .6 .9 .1 .9-.3 .9 .3 .9 .8 .9-1.3 .9 .3 .9-.3 .9-.8 .9 .3 .9 .2 .9 .2 1 1.3 .9 .5 .9-.4 .9 .5 .9 .2 .9-.9 .9 .5 .9-.1 .9 0 .9-.2 .9 1.8 .9-.4 .9-.1 1 .1 .9 1.3 .9 0 .9-.3 .9 .7 .9 .4 .9 0 .9-.3 .9 .3 .9 .3 .9 1.1 .9-.6 .9-.8 1 1.1 .9-.4 .9 .2 .9-1.4 .9 .6 .9 .6 .9-.3 .9 .6 .9-1.3 .9 .5 .9-.3 .9-1 .9 0 1 .9 .9-.4 .9-.8 .9 .4 .9-.8 .9-.1 .9-.4 .9 .8 .9-.6 .9-.6 .9-.2 .9 .4 .9-1.5 1 1.5 .9-1.5 .9-.5 .9 1.5 .9-1 .9-.3 .9 .2 .9-.3 .9-1 .9 1 .9-.3 .9-1.2 .9 .5 1 .9 .9-.4 .9 .2 .9 .1 .9-1.1 .9 .6 .9 .6 .9-.7 .9 .1 .9-.3 .9 .7 .9-1 .9-1.3 1 .5 .9 1.2 .9-.8 .9 .9 .9-.6 .9-1.3 .9 .1 .9 1.3 .9-1.5 .9 .9 .9 0 .9-.8 .9 .6 1-.1 .9 .4 .9-.4 .9 .2 .9-1.2 .9 1.4 .9-1.2 0 11.9-.9-1-.9 .4-.9-.3-.9-.4-.9 .9-.9 1.3-1-.9-.9-.3-.9-.8-.9 .6-.9 .6-.9-.3-.9-.1-.9 .3-.9-.4-.9 .4-.9 1.2-.9-1.4-.9-.5-1 .9-.9-.1-.9 .6-.9 1.2-.9-1.7-.9 1.6-.9-.9-.9-.1-.9 .8-.9 .2-.9-.1-.9-1.2-.9 1.2-1-.4-.9 .3-.9 0-.9 1-.9-.5-.9 .2-.9-.8-.9 1.6-.9-1.1-.9 .1-.9 .5-.9 .8-.9-.3-1 .2-.9 .5-.9-.2-.9 .2-.9 .9-.9-.4-.9 .8-.9-.8-.9 .9-.9-.2-.9 .8-.9 .3-.9-1.1-1 0-.9 1.4-.9 .6-.9-.8-.9-.2-.9 .8-.9-.2-.9-.2-.9-.4-.9 1-.9 .7-.9-.2-.9-.4-1 .3-.9 .1-.9-.3-.9 .2-.9-.5-.9-1-.9-.6-.9 .1-.9-.4-.9 1.3-.9-1.8-.9 .1-.9-.9-1 .2-.9 0-.9-.6-.9-.1-.9 .3-.9-1.5-.9-.7-.9 0-.9-.2-.9 1.1-.9 .2-.9-1.4-.9-1-1 .7-.9-1.9-.9 .3-.9 .3-.9 .2-.9-.9-.9 0-.9 .5-.9-.7-.9-.3-.9 1.2-.9-.2-.9-1.1-1-.2-.9 2-.9 0-.9-1.7-.9 1-.9-.9-.9-.7-.9 .4-.9 0-.9 .5-.9-1.4-.9 .1-.9 1-1-.2-.9 1-.9 .3-.9-.3-.9 .1-.9 0-.9-.7z" fill="#5c9ff0" fill-opacity="0.12"/>
<path d="M243.5 773.9l.9-.1 .9 0 .9 .2 .9-.4 .9 .1 .9-.5 1-.9 .9 1.2 .9 .7 .9-1.5 .9 .3 .9 .6 .9-.5 .9-.5 .9-.2 .9 .6 .9 .5 .9-.7 .9-1.3 1-.2 .9 1.3 .9-.7 .9 1.1 .9-.4 .9-.2 .9 .8 .9-.1 .9-.4 .9-.4 .9 .3 .9-.6 .9 .4 1 1.6 .9-1 .9 .4 .9-.2 .9 .9 .9 .1 .9-.2 .9 .8 .9-.7 .9 1.3 .9 .5 .9-.1 .9 .8 1 1 .9 .5 .9-.1 .9-.2 .9 .2 .9 .7 .9 1.3 .9-.3 .9-.5 .9 .3 .9 1 .9-.5 .9 1 1 .2 .9 .1 .9-.5 .9-.3 .9 .5 .9 .8 .9-1 .9-.5 .9 .9 .9-.9 .9-.4 .9 .5 .9 .5 1-1.5 .9 .2 .9-.2 .9-.5 .9 .2 .9 0 .9-1.1 .9 .6 .9-.2 .9-.5 .9-1.7 .9 0 .9-.8 1 0 .9-1 .9 0 .9-.3 .9-.8 .9 .7 .9-1.6 .9 .4 .9 .3 .9-.6 .9 .3 .9-1 .9 .5 1-1.5 .9 .5 .9-.3 .9-.1 .9 .4 .9 1.3 .9-1.2 .9-.1 .9-.2 .9-.1 .9 .9 .9-.9 .9 .1 1-.3 .9 0 .9-.4 .9 .7 .9-.2 .9-.6 .9 .3 .9-.5 .9-.6 .9 .6 .9 .2 .9-.3 .9-.6 1 1.4 .9-.5 .9 .4 .9 .9 .9-1.5 .9-.2 .9 1.1 0 10.4-.9 .1-.9 .6-.9-.8-.9-.3-.9-.4-.9 0-1 .6-.9 .8-.9-.1-.9-.6-.9-.2-.9 1-.9-.3-.9 .1-.9-.2-.9 .2-.9 0-.9-.8-.9 .7-1 .4-.9 .6-.9-.8-.9 .9-.9-2-.9 .7-.9 1.7-.9-.9-.9 .8-.9-.4-.9-1-.9-.5-.9 1.3-1-.5-.9 .7-.9 .6-.9 .8-.9-.9-.9 1-.9-.6-.9 .5-.9 1-.9 .3-.9-.1-.9-.5-.9 .7-1 1.2-.9-.4-.9 1.5-.9 .1-.9 .2-.9 .3-.9 1.3-.9-.7-.9 .9-.9-.2-.9-.4-.9 .2-.9 1.1-1 0-.9-.2-.9 .9-.9-.3-.9 .3-.9 .9-.9-1.1-.9 .6-.9-.9-.9 1-.9 1.1-.9-1.1-.9 .8-1-1.3-.9 .8-.9-1.7-.9 1.1-.9-1.1-.9 0-.9 .2-.9 0-.9-.8-.9-1.1-.9-1.3-.9 .6-.9 .1-1-.3-.9-1.6-.9 .2-.9 0-.9-1.6-.9-1.2-.9 .9-.9 .2-.9-1.6-.9-.8-.9-.2-.9 1-.9-1.1-1 .5-.9-1.2-.9 .8-.9-.4-.9-1.4-.9 .8-.9-.5-.9-.1-.9 .2-.9-.8-.9-.7-.9 .2-.9 .6-1 .2-.9-.9-.9 .4-.9 .8-.9-.8-.9 .8-.9-.4-.9 .3-.9-.3-.9-.1-.9 .1-.9-.5-.9-.1-1-.5-.9 .3-.9 .8-.9 0-.9-.9-.9-.2-.9 .7z" fill="#40d8e8" fill-opacity="0.13"/>
<path d="M243.5 776.2l.9 .4 .9 .2 .9-.4 .9 .5 .9-.5 .9 .1 1 .3 .9-.2 .9 .3 .9 .1 .9-.7 .9-.3 .9 .5 .9-.2 .9 .1 .9 .3 .9-.5 .9 0 .9-.6 1 .8 .9-.7 .9 .5 .9 .4 .9-.6 .9 .3 .9-.5 .9-.5 .9 1 .9 .6 .9-.7 .9 .4 .9 .7 1-.2 .9-.4 .9 1.1 .9-.4 .9 .5 .9 .4 .9 .4 .9 0 .9-.2 .9 .2 .9 .4 .9-.1 .9 .1 1 1.4 .9 .7 .9 .2 .9 .5 .9-.6 .9 .3 .9 .1 .9 .9 .9 .5 .9-.5 .9 .1 .9 .2 .9 .1 1 .3 .9-.2 .9 0 .9 .5 .9 .1 .9-.6 .9 .5 .9 0 .9-.8 .9-.7 .9 0 .9-.7 .9 .7 1-1.1 .9 .7 .9 .2 .9-1 .9-.8 .9 .7 .9-.2 .9-.9 .9-.3 .9 .5 .9-.5 .9-.2 .9-.4 1 0 .9-.6 .9-.1 .9 .4 .9-.5 .9-.4 .9 0 .9 .5 .9-.9 .9-.5 .9 .5 .9-.4 .9 .4 1-1 .9-.5 .9-.2 .9 1.1 .9 .3 .9 0 .9-.2 .9 .2 .9 .4 .9-.7 .9-.7 .9 .6 .9-.1 1 .4 .9 .5 .9-.4 .9 0 .9 .5 .9 .1 .9 .2 .9-.5 .9-.2 .9 .7 .9-.9 .9 .2 .9 0 1-.3 .9-.6 .9 1 .9-.3 .9 .4 .9-1 .9 .2" fill="none" stroke="#cf6e6e" stroke-width="1.25" stroke-linejoin="round"/>
<path d="M243.5 776.7l.9-.1 .9 .1 .9 .2 .9 .1 .9-.6 .9-.6 1 .3 .9-.5 .9-.1 .9 .3 .9 .5 .9-.5 .9-.3 .9 .2 .9 1 .9-.4 .9 .7 .9-.2 .9-.9 1-.4 .9 .9 .9 .1 .9-.7 .9 .2 .9 .8 .9-.9 .9 .1 .9 .4 .9-.6 .9 0 .9 0 .9 1.1 1 .3 .9 .7 .9 .5 .9 .1 .9-.4 .9-.3 .9 .2 .9 .3 .9 .8 .9-.3 .9 1 .9 .1 .9-.1 1 0 .9 1 .9 0 .9 .7 .9-.3 .9 .5 .9-.1 .9 .2 .9 .6 .9 .4 .9 .5 .9-.2 .9-.4 1 .4 .9 0 .9 .1 .9-1 .9-.2 .9 .5 .9 0 .9 .4 .9-1.1 .9 .4 .9 .2 .9-.8 .9-.7 1 .5 .9 .3 .9-.5 .9-.3 .9-.2 .9-.6 .9 .3 .9-.1 .9-.1 .9-.7 .9-.2 .9 .3 .9-1 1 .6 .9-.5 .9-.7 .9 .5 .9-.6 .9 .5 .9-.8 .9 .3 .9-.6 .9 .7 .9-.6 .9-.6 .9 .1 1 .6 .9-.8 .9 .7 .9 .1 .9-.6 .9-.1 .9 .3 .9 .2 .9-.8 .9 .7 .9-.2 .9-.9 .9-.5 1-.2 .9 .8 .9 .3 .9-.2 .9-.4 .9-.5 .9-.1 .9 .7 .9-.6 .9 .2 .9-.3 .9-.1 .9 .5 1 .4 .9-.4 .9-.7 .9 .3 .9-.5 .9 .6 .9-.2" fill="none" stroke="#1f7ff0" stroke-width="1.25" stroke-linejoin="round"/>
<path d="M243.5 776.8l.9-.4 .9 .2 .9 .5 .9-.2 .9-.4 .9-.3 1-.3 .9 .7 .9 .6 .9-.8 .9 .2 .9 .4 .9-.3 .9-.1 .9-.5 .9 .7 .9-.2 .9-.5 .9-.2 1-.2 .9 .3 .9-.4 .9 .9 .9 .2 .9-.2 .9 .5 .9 .2 .9-.7 .9 .5 .9 .4 .9-.7 .9 .8 1 .6 .9 0 .9-.3 .9 0 .9 .8 .9 .9 .9-.2 .9 0 .9 .2 .9 1.5 .9 .2 .9-.1 .9 1.1 1 .7 .9 .2 .9-.3 .9 .5 .9 .7 .9 .7 .9 .6 .9-.2 .9-.2 .9 .6 .9 0 .9 .6 .9 .1 1 .8 .9-.4 .9 .3 .9-.7 .9-.2 .9 .8 .9-.8 .9 .3 .9 0 .9-.6 .9-.1 .9-.1 .9 .3 1-.7 .9-.5 .9-.2 .9-.1 .9 .3 .9-.5 .9-.2 .9-.4 .9-.2 .9-.3 .9-1 .9-.7 .9-.2 1-.6 .9-.9 .9 .3 .9-.1 .9-.5 .9-.2 .9-1.1 .9 .6 .9-.4 .9 .2 .9-.3 .9-.8 .9-.1 1-.5 .9-.4 .9 .1 .9 .5 .9 .3 .9 .3 .9-.1 .9-1 .9-.4 .9 1 .9 0 .9-.1 .9-.2 1-.4 .9-.3 .9 .1 .9 .4 .9-.2 .9-.2 .9 .1 .9-.1 .9-.8 .9 .4 .9 .4 .9-.1 .9-.7 1 .4 .9-.2 .9 .4 .9 .5 .9-.3 .9-.4 .9 .5" fill="none" stroke="#2ad6c4" stroke-width="1.25" stroke-linejoin="round"/>
</g>
<line x1="261.65" y1="737.25" x2="261.65" y2="830.65" stroke="#4a4a4a" stroke-width="0.95" stroke-dasharray="4,3.55"/>
<text x="260.65" y="728.85" font-size="4.0" fill="#a0a0a0" >Stimulus</text>
<text x="260.65" y="734.66" font-size="4.0" fill="#a0a0a0" >Onset</text>
<text x="243.70" y="797.88" font-size="3.8" fill="#333333" >HC MSB-</text>
<text x="243.70" y="805.62" font-size="3.8" fill="#333333" >HC MSB+</text>
<text x="243.70" y="813.38" font-size="3.8" fill="#333333" >MSB- MSB+</text>
<path d="M243.5 722.1H361.5M243.5 830.6H361.5" stroke="#6e6e6e" stroke-width="0.8"/>
<path d="M243.5 722.1V830.6M361.5 722.1V830.6" stroke="#9e9e9e" stroke-width="0.7"/>
<path d="M243.5 830.6v-1.3M243.5 722.1v1.3M261.7 830.6v-1.3M261.7 722.1v1.3M279.8 830.6v-1.3M279.8 722.1v1.3M298.0 830.6v-1.3M298.0 722.1v1.3M316.1 830.6v-1.3M316.1 722.1v1.3M334.3 830.6v-1.3M334.3 722.1v1.3M352.4 830.6v-1.3M352.4 722.1v1.3M243.5 822.9h1.3M361.5 822.9h-1.3M243.5 807.4h1.3M361.5 807.4h-1.3M243.5 791.9h1.3M361.5 791.9h-1.3M243.5 776.4h1.3M361.5 776.4h-1.3M243.5 760.9h1.3M361.5 760.9h-1.3M243.5 745.4h1.3M361.5 745.4h-1.3M243.5 729.9h1.3M361.5 729.9h-1.3" stroke="#444" stroke-width="0.6" fill="none"/>
<text x="241.10" y="825.49" font-size="7.2" text-anchor="end" fill="#262626" >-0.6</text>
<text x="241.10" y="809.99" font-size="7.2" text-anchor="end" fill="#262626" >-0.4</text>
<text x="241.10" y="794.49" font-size="7.2" text-anchor="end" fill="#262626" >-0.2</text>
<text x="241.10" y="778.99" font-size="7.2" text-anchor="end" fill="#262626" >0</text>
<text x="241.10" y="763.49" font-size="7.2" text-anchor="end" fill="#262626" >0.2</text>
<text x="241.10" y="747.99" font-size="7.2" text-anchor="end" fill="#262626" >0.4</text>
<text x="241.10" y="732.49" font-size="7.2" text-anchor="end" fill="#262626" >0.6</text>
<text x="243.50" y="840.37" font-size="7.2" text-anchor="middle" fill="#262626" >-0.2</text>
<text x="261.65" y="840.37" font-size="7.2" text-anchor="middle" fill="#262626" >0</text>
<text x="279.81" y="840.37" font-size="7.2" text-anchor="middle" fill="#262626" >0.2</text>
<text x="297.96" y="840.37" font-size="7.2" text-anchor="middle" fill="#262626" >0.4</text>
<text x="316.12" y="840.37" font-size="7.2" text-anchor="middle" fill="#262626" >0.6</text>
<text x="334.27" y="840.37" font-size="7.2" text-anchor="middle" fill="#262626" >0.8</text>
<text x="352.42" y="840.37" font-size="7.2" text-anchor="middle" fill="#262626" >1</text>
<text x="302.50" y="849.01" font-size="7.416" text-anchor="middle" fill="#262626" >Time (s)</text>
<text x="225.90" y="776.40" font-size="7.5" text-anchor="middle" fill="#262626" transform="rotate(-90 225.90 776.40)">Occupancy level (a.u.)</text>
<text x="302.50" y="719.35" font-size="8.928" text-anchor="middle" font-weight="bold" fill="#000" >0 back T</text>
<rect x="325.64" y="725.95" width="31.86" height="19.53" fill="#fff" stroke="#6a6a6a" stroke-width="0.6" />
<line x1="326.64" y1="729.66" x2="340.30" y2="729.66" stroke="#e87a7a" stroke-width="1.3" />
<text x="342.21" y="731.36" font-size="4.8" fill="#262626" >HC</text>
<line x1="326.64" y1="735.71" x2="340.30" y2="735.71" stroke="#1f7ff0" stroke-width="1.3" />
<text x="342.21" y="737.41" font-size="4.8" fill="#262626" >MSB-</text>
<line x1="326.64" y1="741.77" x2="340.30" y2="741.77" stroke="#2ad6c4" stroke-width="1.3" />
<text x="342.21" y="743.47" font-size="4.8" fill="#262626" >MSB+</text>
<path d="M417.1 722.1V830.6M435.2 722.1V830.6M453.4 722.1V830.6M471.5 722.1V830.6M489.7 722.1V830.6M507.8 722.1V830.6M398.9 822.9H516.9M398.9 807.4H516.9M398.9 791.9H516.9M398.9 760.9H516.9M398.9 745.4H516.9M398.9 729.9H516.9M398.9 776.4H516.9" stroke="#e6e6e6" stroke-width="0.6" fill="none"/>
<clipPath id="cp301"><rect x="398.90" y="722.15" width="118.00" height="108.50"/></clipPath>
<g clip-path="url(#cp301)">
<path d="M398.9 772.5l.9 .9 .9-1.1 .9 .8 .9 .5 .9 .3 .9-.2 1-.3 .9-.2 .9-.5 .9 .4 .9-.2 .9 .4 .9-.2 .9-.5 .9 .3 .9-.7 .9 .2 .9 .2 .9 .3 1 .1 .9-1.1 .9 .8 .9-1 .9 0 .9-.1 .9-.5 .9 .1 .9-.9 .9 1.2 .9-.3 .9-.2 .9 .2 1-.3 .9 1.3 .9 .2 .9-.8 .9 0 .9 .5 .9-.2 .9 .3 .9 .8 .9 1.1 .9-.5 .9 0 .9 .2 1 1.4 .9-.3 .9 1.7 .9-1.2 .9 1.3 .9-.3 .9 .1 .9 .2 .9 .4 .9-.8 .9 1.3 .9-.8 .9 .7 1-.8 .9 .5 .9 .5 .9-.9 .9 .9 .9-1.2 .9-.1 .9 .6 .9 0 .9-1.2 .9-1.1 .9-.5 .9 1.6 1-1 .9 .3 .9-.3 .9-1.4 .9 .3 .9-.7 .9-.1 .9-1.1 .9-1.5 .9-.2 .9 .1 .9 .8 .9-1 1 .9 .9-1.2 .9 1.1 .9-.4 .9 .9 .9 0 .9-1.6 .9-.6 .9 1 .9-.9 .9 .6 .9-.8 .9 .8 1-.1 .9 .8 .9 .1 .9-.7 .9-1.2 .9 .2 .9 .3 .9-.5 .9 .4 .9-.2 .9-.4 .9 .5 .9 .4 1 .1 .9-1.2 .9 .7 .9-.4 .9 .3 .9 1 .9-.2 .9-.6 .9 .4 .9 0 .9-.9 .9 .5 .9-.1 1 1 .9 .3 .9-.1 .9 .1 .9 .1 .9-.3 .9 0 0 10.6-.9 .5-.9-.4-.9 .4-.9-.2-.9 0-.9-.5-1-.1-.9-.3-.9-.1-.9-.3-.9-.2-.9 .4-.9-.2-.9 .5-.9 .2-.9-.5-.9 .7-.9-.7-.9 .3-1-.7-.9 .6-.9 .2-.9-1.3-.9 1.3-.9-.7-.9 .4-.9 .3-.9-.3-.9-.4-.9 1.3-.9-.5-.9-.5-1 .2-.9 .8-.9-.3-.9-.1-.9 .7-.9-.7-.9 .5-.9 .4-.9-.3-.9 0-.9 0-.9-.3-.9 .4-1-.2-.9 .3-.9 .7-.9-.6-.9 .6-.9 1.2-.9 .6-.9 .4-.9 0-.9 .3-.9 .1-.9 .6-.9-.3-1 1.1-.9 .1-.9 .4-.9 0-.9 .9-.9 .2-.9 .1-.9-.5-.9 .8-.9 .3-.9-.4-.9 .4-.9 .3-1-.7-.9 .3-.9-.8-.9 .1-.9-.4-.9 1.1-.9-.2-.9-1.1-.9-.3-.9-.7-.9 .2-.9 .5-.9-1.3-1-.1-.9 0-.9-.7-.9-1.2-.9 .5-.9-1.4-.9 .6-.9-1.2-.9 .5-.9-1.3-.9-.1-.9 .4-.9-1-1 .9-.9-.7-.9 .4-.9-1.4-.9-.1-.9 .4-.9 .7-.9 .1-.9-.8-.9 .4-.9 0-.9-.1-.9-.1-1 1-.9-1.2-.9 1.2-.9-1.2-.9 .3-.9 .9-.9-1-.9-.1-.9-.7-.9 .9-.9 .2-.9-1-.9 .7-1-.1-.9 .2-.9-1-.9 .5-.9 .1-.9-.6-.9 .8z" fill="#f59090" fill-opacity="0.13"/>
<path d="M398.9 773.7l.9 .1 .9-.6 .9-1.1 .9 .4 .9 .1 .9 1.4 1-.1 .9-1.1 .9 .9 .9-.6 .9-.1 .9 .3 .9-1.5 .9 .6 .9 1.2 .9-.6 .9-.2 .9-.4 .9 .1 1-.5 .9 .3 .9 0 .9-.3 .9-.5 .9 .6 .9-1.3 .9-.6 .9 1.4 .9-.5 .9-.1 .9 .3 .9-.4 1 1.5 .9 0 .9-.4 .9 .4 .9-.7 .9 .7 .9 1.2 .9-1.2 .9 .1 .9 1 .9-.9 .9 .5 .9 .7 1 .3 .9-.5 .9 1.6 .9-.5 .9 .8 .9-.4 .9 .5 .9-.3 .9 1.9 .9 0 .9-.2 .9 0 .9 .3 1 0 .9-.7 .9-.8 .9 .8 .9-.5 .9 1.7 .9-.9 .9 .8 .9-.1 .9-.6 .9 .4 .9 .3 .9 .1 1-.5 .9-1.2 .9-.4 .9-.3 .9-.8 .9 .5 .9-.2 .9-.9 .9 .4 .9-.2 .9-.2 .9 .5 .9 0 1-1 .9 .5 .9 .6 .9-.3 .9-.7 .9 0 .9 .5 .9-.8 .9-.6 .9 1.4 .9-.5 .9-1 .9 .2 1-.7 .9 .8 .9-.9 .9 .8 .9-1 .9 .6 .9-.2 .9-.9 .9 1.4 .9 .2 .9 0 .9-.6 .9 .8 1 0 .9-.6 .9-.9 .9-.6 .9-.2 .9 1.4 .9 .5 .9-.4 .9 .4 .9-1.1 .9 .2 .9-.4 .9 .8 1-.5 .9-.6 .9 .8 .9-1.8 .9 1 .9-.8 .9-.2 0 11.1-.9 .1-.9 0-.9 .9-.9 .2-.9-.5-.9 .2-1 .2-.9 .4-.9-1-.9 1.5-.9-.4-.9-.1-.9-.3-.9-.5-.9 .7-.9-.4-.9 .7-.9-.6-.9 1.1-1-.2-.9 .4-.9-.3-.9 .1-.9-.6-.9-.4-.9 .5-.9 .8-.9-.9-.9 0-.9 1.3-.9-1-.9-.3-1 .5-.9 1.1-.9 .5-.9-1-.9 .8-.9-1.2-.9 .6-.9-.1-.9 1-.9 0-.9 .8-.9 0-.9-.6-1 .1-.9 1-.9-.2-.9-.4-.9-.8-.9 1.2-.9-.6-.9 .1-.9 .7-.9 0-.9 .3-.9-.2-.9 1.1-1-.1-.9 .4-.9-.2-.9-.3-.9 .7-.9 .1-.9 .6-.9-1.2-.9-.3-.9-.4-.9 1.1-.9-.3-.9-.5-1 1.9-.9-1-.9 .3-.9-.5-.9-.7-.9-.1-.9-1.4-.9 1.2-.9 .3-.9-.5-.9-1.1-.9-.4-.9-.7-1-.2-.9-.3-.9 .1-.9-1.5-.9 1.1-.9-.6-.9-.5-.9 .6-.9-.7-.9 .4-.9-.7-.9-.4-.9-1.2-1 .2-.9-.2-.9 .2-.9-1.1-.9 .2-.9 0-.9-.1-.9-.4-.9 .7-.9-1-.9 .3-.9 1.1-.9-.1-1 .3-.9-.7-.9-.7-.9 .1-.9 1.2-.9 .3-.9-.8-.9-.4-.9-.8-.9 0-.9 .6-.9 .1-.9 .1-1-.2-.9-.5-.9-.5-.9 1.2-.9 0-.9-.6-.9 .8z" fill="#5c9ff0" fill-opacity="0.12"/>
<path d="M398.9 773l.9-.1 .9 .1 .9-.5 .9 .8 .9-.8 .9 1.3 1-.9 .9-.2 .9 1.5 .9-.5 .9-1.1 .9 1.1 .9-.8 .9-1.3 .9 1.2 .9 .5 .9-.9 .9 0 .9-.4 1 .1 .9-.4 .9 .7 .9-.6 .9-.9 .9-.8 .9 .3 .9 1.3 .9 .1 .9-.5 .9-.7 .9 1.3 .9-1.5 1 .3 .9 .5 .9 1.3 .9-.3 .9 .4 .9 .9 .9-.5 .9 .5 .9 .4 .9 .6 .9-.2 .9 1.4 .9 .6 1-.4 .9 .6 .9 1.2 .9-.3 .9-.6 .9 .4 .9 .5 .9 .8 .9-.8 .9 0 .9 1.2 .9-.1 .9 .8 1-.5 .9 .7 .9-.3 .9 0 .9-.8 .9 .9 .9 1.2 .9-1.2 .9 .6 .9-.5 .9 .1 .9-1.1 .9-.7 1-.3 .9 .3 .9 .3 .9-1.6 .9 .7 .9-.6 .9-.6 .9 .8 .9-.6 .9-.6 .9 .8 .9-1.5 .9-.2 1-.9 .9 0 .9 .3 .9 .8 .9-.7 .9 .1 .9-.5 .9-.2 .9 .2 .9-.2 .9 .1 .9-.8 .9-.1 1 0 .9 .9 .9-1.3 .9 .5 .9-.8 .9-.1 .9 .5 .9 .7 .9-1.6 .9 .6 .9 .8 .9-.1 .9-.2 1-1.2 .9 .9 .9 .3 .9-.1 .9-1.5 .9 .6 .9 .3 .9-1.5 .9 .9 .9-1.1 .9 .1 .9 .3 .9 .1 1 .2 .9-.8 .9 .3 .9 .6 .9 .3 .9 .4 .9-1.5 0 11.6-.9-.1-.9 .5-.9-.5-.9-1.4-.9 1-.9 0-1 .3-.9-.5-.9 1-.9 .1-.9-1.2-.9 1.1-.9-.1-.9 .1-.9 .7-.9 .1-.9-.1-.9-.6-.9 .3-1-.1-.9 2-.9-.7-.9 .4-.9-1.1-.9-.3-.9-.3-.9 .6-.9 .9-.9-.4-.9 .7-.9-.3-.9-.7-1 0-.9 .5-.9 .6-.9-1.1-.9 1.3-.9 .7-.9-.4-.9 1.4-.9-.6-.9-.2-.9 .6-.9-1.3-.9 .7-1 1.2-.9-.5-.9 .2-.9 .9-.9-.8-.9 .2-.9 .4-.9 .2-.9-.5-.9 1.3-.9 .6-.9 0-.9-.5-1 1.4-.9 .6-.9 .4-.9 0-.9-.6-.9 1.2-.9-.7-.9 .7-.9-1.2-.9-.7-.9 .2-.9 .3-.9 0-1-.5-.9 .3-.9-.9-.9 .8-.9-.2-.9-.5-.9-.9-.9-.7-.9 .4-.9 .7-.9-.8-.9-.2-.9-.9-1 .2-.9-.4-.9-.6-.9-2.3-.9 .8-.9-1.3-.9 .4-.9-.3-.9-.8-.9 .6-.9-1.5-.9 .1-.9-1.4-1 .4-.9-.9-.9 1-.9 .5-.9-.9-.9-.8-.9 .5-.9-.4-.9 .3-.9 0-.9 .5-.9 .1-.9-1-1-.2-.9 .1-.9 .9-.9-.6-.9-.2-.9 .4-.9-.5-.9 .3-.9-.2-.9 .2-.9 .4-.9 .7-.9-1.3-1 0-.9 .5-.9 .5-.9-.4-.9 .4-.9-1-.9 1z" fill="#40d8e8" fill-opacity="0.13"/>
<path d="M398.9 776.2l.9 0 .9-.2 .9 .4 .9 0 .9 .6 .9-.2 1-.1 .9-.4 .9 .2 .9 .1 .9-.6 .9 .6 .9-.1 .9 .3 .9-.3 .9-.5 .9 .7 .9-.5 .9 .8 1-.5 .9-.5 .9 .5 .9-.6 .9-.2 .9 .4 .9-.3 .9-.3 .9-.6 .9 .6 .9 .5 .9-.3 .9 .5 1-.6 .9 1.1 .9 0 .9-.4 .9 .7 .9 0 .9 .4 .9-.1 .9 1.1 .9 .3 .9 .3 .9 .4 .9 .1 1 .8 .9 .5 .9 .6 .9-.7 .9 .9 .9 0 .9 .7 .9 .1 .9-.3 .9-.2 .9 .6 .9 0 .9 .2 1 0 .9 0 .9 .1 .9-.2 .9 .2 .9-1 .9 .2 .9 .3 .9-.1 .9-1.1 .9-.5 .9-.5 .9 .8 1-1.1 .9 .3 .9-.4 .9-.8 .9 .1 .9-.4 .9-.3 .9-.8 .9-1.4 .9-.3 .9 .3 .9 .1 .9-.7 1 .6 .9-.8 .9 .6 .9-.2 .9 .5 .9 .2 .9-1.1 .9-.5 .9 .9 .9-.8 .9 .3 .9-.3 .9 0 1-.1 .9 .7 .9 .2 .9-1 .9-.3 .9 .2 .9 0 .9-.4 .9 .5 .9-.7 .9 .4 .9 .1 .9-.1 1 .4 .9-.7 .9 .7 .9-.5 .9 .4 .9 .3 .9-.3 .9-.2 .9 0 .9 .1 .9-.3 .9 .3 .9 .1 1 .6 .9 .4 .9-.1 .9 .2 .9-.2 .9 .1 .9-.3" fill="none" stroke="#cf6e6e" stroke-width="1.25" stroke-linejoin="round"/>
<path d="M398.9 776.7l.9-.3 .9 0 .9-.6 .9-.3 .9 .3 .9 .9 1 0 .9-.6 .9 .5 .9-.7 .9 0 .9 .6 .9-.6 .9 .7 .9 .5 .9-1 .9-.1 .9 .2 .9 .3 1-.3 .9 .1 .9-.5 .9-.3 .9 .3 .9-.1 .9-.5 .9-.2 .9 .7 .9-.4 .9 .6 .9 0 .9-.1 1 .7 .9 .6 .9 0 .9 .5 .9-.6 .9 .7 .9 .4 .9-.4 .9 .3 .9 0 .9 .3 .9 .2 .9 .5 1 .3 .9 0 .9 1.1 .9 .2 .9 .7 .9-.4 .9-.3 .9 .6 .9 .9 .9 .4 .9 .1 .9-.1 .9 .6 1-.9 .9-.1 .9-.2 .9-.2 .9 0 .9 1 .9 .1 .9 .1 .9-.1 .9-.7 .9 .4 .9 .2 .9-.1 1-.2 .9-1.2 .9 0 .9-.4 .9-.3 .9-.1 .9-.2 .9-.2 .9-.3 .9 .3 .9 0 .9 .4 .9-.5 1-.6 .9 .6 .9 .3 .9-.5 .9-.4 .9-.5 .9 .3 .9-.7 .9 .3 .9 .3 .9 .2 .9-.7 .9-.5 1-.6 .9 .6 .9 0 .9-.2 .9-.5 .9 .8 .9-.6 .9-.6 .9 .8 .9 .4 .9 0 .9-.1 .9 .1 1 .1 .9-.8 .9-.2 .9-.6 .9 .1 .9 .3 .9 .6 .9-.1 .9 .3 .9-.4 .9-.7 .9 .3 .9 .2 1-.3 .9-.4 .9 .6 .9-1 .9 .1 .9-.4 .9-.2" fill="none" stroke="#1f7ff0" stroke-width="1.25" stroke-linejoin="round"/>
<path d="M398.9 776.7l.9-.5 .9 .5 .9-.4 .9 .6 .9-.7 .9 .4 1-.5 .9 .6 .9 .4 .9-.4 .9-.7 .9 .6 .9-.5 .9-.4 .9 .4 .9 .3 .9-.1 .9-.4 .9-.3 1 .2 .9 .2 .9 .3 .9-.5 .9-.4 .9-.6 .9 .3 .9 .5 .9 .4 .9 .2 .9-.6 .9 .1 .9-.2 1-.1 .9 1 .9 .6 .9 .5 .9-.1 .9 .9 .9-.1 .9 .1 .9 .8 .9-.1 .9 1.1 .9 .9 .9 .6 1-.3 .9 .7 .9 .7 .9 .3 .9-.7 .9 0 .9 .6 .9 .9 .9-.2 .9 .1 .9 .2 .9 .4 .9 .3 1 0 .9 .3 .9-.3 .9-.1 .9 0 .9 1 .9 .2 .9-.2 .9-.3 .9 0 .9 .1 .9-.7 .9-.7 1-.9 .9 .4 .9 .2 .9-1.1 .9-.3 .9 0 .9-.4 .9 .2 .9-.5 .9 .1 .9 0 .9-.8 .9 .1 1-1 .9-.4 .9 .8 .9 .1 .9-.3 .9 .4 .9-.9 .9 .1 .9-.3 .9-.7 .9 .5 .9-.7 .9-.2 1 0 .9 .8 .9-.5 .9-.2 .9-.2 .9-.5 .9 0 .9 .5 .9-.6 .9 .8 .9 .2 .9 .3 .9-1.1 1-.6 .9 .4 .9 .4 .9 0 .9-.8 .9 0 .9 0 .9-.7 .9-.1 .9 .1 .9 0 .9-.4 .9 .3 1 0 .9-.4 .9-.3 .9 1 .9 .3 .9 0 .9-.7" fill="none" stroke="#2ad6c4" stroke-width="1.25" stroke-linejoin="round"/>
</g>
<line x1="417.05" y1="737.25" x2="417.05" y2="830.65" stroke="#4a4a4a" stroke-width="0.95" stroke-dasharray="4,3.55"/>
<text x="416.05" y="728.85" font-size="4.0" fill="#a0a0a0" >Stimulus</text>
<text x="416.05" y="734.66" font-size="4.0" fill="#a0a0a0" >Onset</text>
<text x="399.10" y="797.88" font-size="3.8" fill="#333333" >HC MSB-</text>
<text x="399.10" y="805.62" font-size="3.8" fill="#333333" >HC MSB+</text>
<text x="399.10" y="813.38" font-size="3.8" fill="#333333" >MSB- MSB+</text>
<path d="M398.9 722.1H516.9M398.9 830.6H516.9" stroke="#6e6e6e" stroke-width="0.8"/>
<path d="M398.9 722.1V830.6M516.9 722.1V830.6" stroke="#9e9e9e" stroke-width="0.7"/>
<path d="M398.9 830.6v-1.3M398.9 722.1v1.3M417.1 830.6v-1.3M417.1 722.1v1.3M435.2 830.6v-1.3M435.2 722.1v1.3M453.4 830.6v-1.3M453.4 722.1v1.3M471.5 830.6v-1.3M471.5 722.1v1.3M489.7 830.6v-1.3M489.7 722.1v1.3M507.8 830.6v-1.3M507.8 722.1v1.3M398.9 822.9h1.3M516.9 822.9h-1.3M398.9 807.4h1.3M516.9 807.4h-1.3M398.9 791.9h1.3M516.9 791.9h-1.3M398.9 776.4h1.3M516.9 776.4h-1.3M398.9 760.9h1.3M516.9 760.9h-1.3M398.9 745.4h1.3M516.9 745.4h-1.3M398.9 729.9h1.3M516.9 729.9h-1.3" stroke="#444" stroke-width="0.6" fill="none"/>
<text x="396.50" y="825.49" font-size="7.2" text-anchor="end" fill="#262626" >-0.6</text>
<text x="396.50" y="809.99" font-size="7.2" text-anchor="end" fill="#262626" >-0.4</text>
<text x="396.50" y="794.49" font-size="7.2" text-anchor="end" fill="#262626" >-0.2</text>
<text x="396.50" y="778.99" font-size="7.2" text-anchor="end" fill="#262626" >0</text>
<text x="396.50" y="763.49" font-size="7.2" text-anchor="end" fill="#262626" >0.2</text>
<text x="396.50" y="747.99" font-size="7.2" text-anchor="end" fill="#262626" >0.4</text>
<text x="396.50" y="732.49" font-size="7.2" text-anchor="end" fill="#262626" >0.6</text>
<text x="398.90" y="840.37" font-size="7.2" text-anchor="middle" fill="#262626" >-0.2</text>
<text x="417.05" y="840.37" font-size="7.2" text-anchor="middle" fill="#262626" >0</text>
<text x="435.21" y="840.37" font-size="7.2" text-anchor="middle" fill="#262626" >0.2</text>
<text x="453.36" y="840.37" font-size="7.2" text-anchor="middle" fill="#262626" >0.4</text>
<text x="471.52" y="840.37" font-size="7.2" text-anchor="middle" fill="#262626" >0.6</text>
<text x="489.67" y="840.37" font-size="7.2" text-anchor="middle" fill="#262626" >0.8</text>
<text x="507.82" y="840.37" font-size="7.2" text-anchor="middle" fill="#262626" >1</text>
<text x="457.90" y="849.01" font-size="7.416" text-anchor="middle" fill="#262626" >Time (s)</text>
<text x="381.30" y="776.40" font-size="7.5" text-anchor="middle" fill="#262626" transform="rotate(-90 381.30 776.40)">Occupancy level (a.u.)</text>
<text x="457.90" y="719.35" font-size="8.928" text-anchor="middle" font-weight="bold" fill="#000" >1 back T</text>
<rect x="481.04" y="725.95" width="31.86" height="19.53" fill="#fff" stroke="#6a6a6a" stroke-width="0.6" />
<line x1="482.04" y1="729.66" x2="495.70" y2="729.66" stroke="#e87a7a" stroke-width="1.3" />
<text x="497.61" y="731.36" font-size="4.8" fill="#262626" >HC</text>
<line x1="482.04" y1="735.71" x2="495.70" y2="735.71" stroke="#1f7ff0" stroke-width="1.3" />
<text x="497.61" y="737.41" font-size="4.8" fill="#262626" >MSB-</text>
<line x1="482.04" y1="741.77" x2="495.70" y2="741.77" stroke="#2ad6c4" stroke-width="1.3" />
<text x="497.61" y="743.47" font-size="4.8" fill="#262626" >MSB+</text>
<path d="M571.7 722.1V830.6M589.8 722.1V830.6M608.0 722.1V830.6M626.1 722.1V830.6M644.3 722.1V830.6M662.4 722.1V830.6M553.5 822.9H671.5M553.5 807.4H671.5M553.5 791.9H671.5M553.5 760.9H671.5M553.5 745.4H671.5M553.5 729.9H671.5M553.5 776.4H671.5" stroke="#e6e6e6" stroke-width="0.6" fill="none"/>
<clipPath id="cp302"><rect x="553.50" y="722.15" width="118.00" height="108.50"/></clipPath>
<g clip-path="url(#cp302)">
<path d="M553.5 774l.9-.9 .9 1.1 .9-1 .9-.1 .9 0 .9 .7 1-.5 .9 0 .9-.2 .9 .6 .9-1 .9 .8 .9-.3 .9 .3 .9 .4 .9-1.7 .9 .8 .9-.5 .9-.1 1-.6 .9 1.3 .9-1.6 .9 .3 .9-.5 .9-.1 .9-.2 .9 .7 .9 .3 .9 .1 .9-1.2 .9 .4 .9 .3 1 .6 .9-.2 .9 .5 .9 .2 .9-.4 .9-.6 .9 .3 .9-.2 .9 0 .9 1 .9-1.1 .9 1 .9 .4 1-.1 .9 .7 .9-.2 .9 0 .9 .8 .9 .6 .9 0 .9 .3 .9-.2 .9 .6 .9-.6 .9 .6 .9-.6 1-.7 .9 1 .9-.2 .9 .2 .9 1.6 .9 0 .9-.5 .9-.7 .9 .3 .9 .6 .9-.1 .9-.1 .9-.7 1-.1 .9 .3 .9 .2 .9-1.2 .9 .9 .9 .9 .9-1.8 .9 .8 .9 .2 .9-.5 .9 .1 .9-1 .9-.3 1 .5 .9-.5 .9-.6 .9 .5 .9-.8 .9 1.4 .9-1 .9-.6 .9 .6 .9-.8 .9 .1 .9-.1 .9 .6 1 .3 .9-1.6 .9 .3 .9 .6 .9-.5 .9-.8 .9-.7 .9 1.8 .9 .1 .9-.8 .9 .3 .9 .6 .9 .2 1-1.3 .9-.4 .9-.5 .9 1.1 .9-.1 .9-.3 .9-.5 .9 1 .9 .4 .9-1.8 .9 0 .9 .1 .9-.4 1 .1 .9-.6 .9 1.3 .9-1.3 .9 .7 .9-.5 .9 1.2 0 10.1-.9-.1-.9-.3-.9 0-.9 0-.9 .3-.9-.7-1 .3-.9 .8-.9 .9-.9-.7-.9 .3-.9 .1-.9 .8-.9-.3-.9 .7-.9-.5-.9-.4-.9 .7-.9 0-1-.3-.9 .2-.9 .4-.9-.1-.9-.6-.9-.5-.9-.1-.9 0-.9 .7-.9-.2-.9 0-.9 .9-.9-.3-1-.2-.9-.1-.9 .5-.9 .7-.9-.7-.9-.1-.9 .3-.9 .8-.9 .6-.9 .4-.9-.4-.9 .4-.9 .1-1 .3-.9-1.7-.9 1.1-.9 0-.9 .8-.9-.5-.9 .2-.9 .2-.9 .4-.9-.8-.9 0-.9 .3-.9 .5-1 .7-.9 .8-.9 0-.9-.7-.9-1.1-.9 .8-.9-.3-.9-.3-.9 .5-.9 .3-.9-1.2-.9-.6-.9 .8-1-.2-.9 .9-.9 0-.9-.3-.9-.2-.9-1.4-.9 1.3-.9-1-.9-1.4-.9 .7-.9 .5-.9-.6-.9-1-1-.1-.9-1.3-.9 .9-.9-.1-.9-.7-.9-.8-.9 .2-.9-.6-.9-.3-.9 .2-.9 .7-.9-.9-.9 .1-1-.9-.9-.3-.9 .7-.9 .4-.9-.8-.9-.5-.9-.2-.9 1-.9-.1-.9-1.1-.9 1.4-.9 0-.9-.2-1-.2-.9-.8-.9 .8-.9 0-.9 .3-.9 0-.9 0-.9-1.2-.9 .9-.9-.4-.9-.1-.9 1.2-.9 .2-1-.7-.9-.4-.9 .1-.9-1.1-.9 .5-.9 .4-.9-.9z" fill="#f59090" fill-opacity="0.13"/>
<path d="M553.5 773.3l.9-.3 .9 1.1 .9-.9 .9 .2 .9-.1 .9-.5 1 .3 .9 .4 .9-.4 .9 1.1 .9-1.1 .9-.4 .9-.4 .9 .2 .9 0 .9 .3 .9 .8 .9-.5 .9 .1 1-1.1 .9 .3 .9-.9 .9-.5 .9 1.1 .9-.4 .9 .1 .9-.6 .9-.9 .9 0 .9 .8 .9-1.1 .9 .2 1 1.2 .9-1 .9 1.7 .9-.5 .9 .8 .9-1.1 .9 .4 .9 .7 .9 .5 .9 .5 .9-1.4 .9 .7 .9 .3 1 .6 .9 .2 .9-.1 .9 .1 .9 1.1 .9 .9 .9-.9 .9 .2 .9 0 .9 .6 .9 0 .9-.8 .9 1 1-.1 .9 0 .9 1.3 .9-.9 .9 .2 .9 .4 .9-.3 .9-.2 .9-.6 .9 1 .9-.5 .9 1.1 .9 .2 1-1 .9-.9 .9-.6 .9 1 .9-.2 .9 0 .9 .9 .9-1 .9 .1 .9 .5 .9 .2 .9-1 .9-.2 1-.3 .9 .1 .9 .2 .9 .3 .9-.9 .9-.3 .9 .6 .9 .3 .9-.3 .9-.2 .9 .2 .9-1.5 .9 .6 1-.1 .9-.3 .9 .4 .9 .7 .9-1.9 .9 .5 .9-.5 .9 .6 .9 .2 .9 .9 .9-.1 .9-.7 .9 .1 1-.2 .9-.7 .9 .9 .9 .1 .9 .4 .9-.6 .9 .6 .9-.8 .9-.2 .9-.7 .9 .3 .9 .1 .9 .8 1-1.4 .9 .5 .9 .6 .9 .1 .9-.1 .9-.7 .9 .3 0 10.9-.9 .6-.9-1.4-.9 1.9-.9-.9-.9-.6-.9 .7-1-.3-.9 .1-.9-.5-.9 .9-.9 .9-.9 .1-.9-.6-.9 .4-.9-1.4-.9-.4-.9 .8-.9 .1-.9-.4-1-.5-.9 1.5-.9-.7-.9 1.1-.9 0-.9-1.3-.9-.3-.9 0-.9 1-.9-.2-.9-.8-.9 1-.9-1.1-1 .4-.9 1.2-.9-.6-.9 1.4-.9-1.4-.9 1-.9 .2-.9 .2-.9-.1-.9-.5-.9 0-.9 1.5-.9-1.2-1 1.1-.9-.7-.9 .4-.9-.2-.9 1.1-.9-1.1-.9 0-.9 1-.9 .2-.9-1.7-.9 .3-.9 .4-.9-.2-1 .6-.9 .9-.9 .2-.9-1.5-.9 .1-.9 .4-.9 .3-.9-.9-.9 1-.9 .6-.9-1.2-.9-.5-.9 .9-1-1.6-.9 1.3-.9 0-.9 .2-.9-1.4-.9 .3-.9-.7-.9 .1-.9 .1-.9-1.3-.9 .3-.9 .2-.9-1.3-1 .3-.9-.2-.9-.4-.9-.6-.9 .2-.9-1-.9-.3-.9 .5-.9-.9-.9 1-.9-1.8-.9-.6-.9-.1-1 0-.9-.6-.9 .1-.9-.1-.9 .5-.9-.5-.9 .8-.9-.2-.9 .3-.9 0-.9-.3-.9 1-.9-.2-1 .1-.9 1-.9-.7-.9 .5-.9-1.2-.9 .3-.9-.1-.9-1.2-.9 .8-.9 .4-.9 .7-.9-.8-.9-1-1 .8-.9-1.3-.9 1.9-.9-1.2-.9-.1-.9-.9-.9 .7z" fill="#5c9ff0" fill-opacity="0.12"/>
<path d="M553.5 773l.9 0 .9 .6 .9 .5 .9-.7 .9-.4 .9 .4 1-.7 .9 .2 .9-.4 .9-.1 .9 1.1 .9-.7 .9 .1 .9-1.1 .9 .9 .9-.6 .9 .5 .9 .5 .9-.5 1-.1 .9 .5 .9-.8 .9 0 .9 .1 .9 .1 .9 0 .9-.7 .9 1.1 .9 .1 .9-1.8 .9 .3 .9 1.7 1-.8 .9 1.4 .9 .1 .9-.3 .9 .2 .9 1.6 .9 .4 .9 .9 .9 0 .9-.4 .9-.6 .9 .7 .9 .6 1 .8 .9 .1 .9 .4 .9 .2 .9-.3 .9 1.5 .9-.4 .9-.5 .9 .4 .9-.1 .9-.2 .9 .8 .9 .8 1-.9 .9 .5 .9 .1 .9 1.5 .9 .2 .9 0 .9-.9 .9-1 .9 .2 .9 .5 .9 1.2 .9-.2 .9-1.3 1 0 .9-.4 .9 .5 .9-.3 .9-.7 .9-1.2 .9 .4 .9 0 .9 0 .9-.1 .9 .2 .9-.5 .9-.3 1 .1 .9-.8 .9 .4 .9 .2 .9-.6 .9-.5 .9 .6 .9-.2 .9-.1 .9-.4 .9 .5 .9-.3 .9 .2 1-.9 .9-.9 .9 .8 .9-.2 .9 .3 .9-.6 .9-.2 .9 1.2 .9-1.2 .9 .4 .9 .1 .9-1.1 .9 .5 1-1.1 .9-.2 .9 .2 .9 .9 .9-.2 .9 .2 .9-.5 .9 .7 .9-.6 .9-.4 .9-.4 .9-.5 .9-.2 1-.6 .9 1.9 .9-.3 .9-.3 .9-.4 .9 .2 .9-.4 0 10.5-.9 1-.9-.2-.9 1.2-.9-1.1-.9-.2-.9 0-1 .7-.9-.6-.9 .5-.9-.8-.9 1.8-.9-.6-.9-.3-.9 1.1-.9 .4-.9-1-.9-.8-.9 .3-.9-.1-1-.1-.9 1.3-.9 .5-.9 .2-.9-1.1-.9 .5-.9 .3-.9 .6-.9 0-.9 .2-.9-.6-.9-.1-.9 0-1 0-.9 1.6-.9 .3-.9-.3-.9-1.1-.9 .3-.9 .1-.9 .4-.9 1.3-.9-.6-.9-.3-.9 .5-.9-.2-1-.4-.9 1.4-.9-.8-.9 .3-.9-.1-.9 .5-.9 .5-.9-.2-.9 .1-.9 .1-.9 1.4-.9 .5-.9-.7-1-.1-.9 .5-.9-.2-.9 .1-.9 .5-.9-.8-.9-.2-.9 .4-.9 .5-.9-.3-.9-.7-.9-.5-.9 .8-1 .1-.9-1.1-.9 .6-.9-1.4-.9-.1-.9 .9-.9 1.1-.9-1.5-.9-.2-.9 .2-.9-.7-.9-.6-.9-.7-1-.6-.9 0-.9-.8-.9-.8-.9 .3-.9-.2-.9-.4-.9-1-.9-.4-.9-.7-.9-.4-.9-.2-.9 0-1-1-.9-1.5-.9 .9-.9-.7-.9 .5-.9 .3-.9 .7-.9-.6-.9-1.3-.9 .9-.9-.4-.9-.3-.9-.4-1 1.3-.9-.8-.9-.7-.9 1-.9-1.2-.9 .1-.9 .1-.9 .6-.9-.5-.9 .4-.9 .3-.9-.9-.9 .3-1-.1-.9 .9-.9-.2-.9-1.2-.9-.1-.9-.1-.9 .9z" fill="#40d8e8" fill-opacity="0.13"/>
<path d="M553.5 776.5l.9 0 .9 .4 .9-.8 .9 .5 .9-.1 .9 .6 1 .1 .9-.1 .9-.7 .9 .4 .9-.4 .9 0 .9 .4 .9 .2 .9 .2 .9-1 .9 .4 .9-.6 .9 .3 1-.2 .9 .8 .9-.9 .9-.5 .9 .3 .9 0 .9-.6 .9 .4 .9 .5 .9 .4 .9-.8 .9-.2 .9 .4 1 .7 .9-.1 .9 .7 .9-.3 .9-.3 .9-.1 .9 .4 .9-.2 .9 .4 .9 .8 .9-.4 .9 0 .9 .8 1 0 .9 .9 .9 .2 .9-.2 .9 0 .9 1 .9 .5 .9-.5 .9 .6 .9 .4 .9-.1 .9 .2 .9-.7 1-.2 .9 0 .9 .3 .9 .7 .9 .6 .9-.2 .9-.1 .9-.3 .9-.2 .9 .8 .9 .3 .9 0 .9-.7 1-.4 .9-.1 .9-.1 .9-.6 .9 .8 .9 .3 .9-1 .9 .3 .9 .4 .9-.7 .9 0 .9-1 .9 .7 1 .1 .9-.3 .9-.5 .9 .4 .9-.6 .9 .4 .9-.9 .9-.4 .9 .4 .9-.1 .9-.3 .9-.3 .9 .4 1 .2 .9-.7 .9-.2 .9 .3 .9-.2 .9-.7 .9-.4 .9 .9 .9 .3 .9-.1 .9 .3 .9 0 .9 0 1-.5 .9-.2 .9-.5 .9 .7 .9 .2 .9-.5 .9-.1 .9 .1 .9 .1 .9-1 .9 .4 .9-.5 .9-.5 1-.2 .9 .1 .9 .5 .9-.6 .9 .3 .9-.1 .9 .6" fill="none" stroke="#cf6e6e" stroke-width="1.25" stroke-linejoin="round"/>
<path d="M553.5 776.3l.9-.5 .9 1 .9-.4 .9 .6 .9-1 .9 .4 1-.2 .9 .7 .9 .2 .9 .2 .9-.8 .9-.5 .9 .4 .9 .1 .9-.1 .9 .7 .9 .2 .9 0 .9-.4 1-.6 .9 .3 .9-1 .9-.1 .9 .5 .9-.3 .9 .2 .9-.7 .9-.2 .9-.3 .9 .5 .9-.6 .9 .3 1 .6 .9-.4 .9 1.2 .9 .6 .9-.1 .9-.1 .9 0 .9 .5 .9 .7 .9 .1 .9-.3 .9 .5 .9 .3 1 .1 .9 .7 .9-.1 .9-.1 .9 1.2 .9 .4 .9-.5 .9 .4 .9-.1 .9 1 .9-.1 .9-.4 .9-.1 1 .7 .9-.4 .9 .9 .9 .1 .9-.2 .9-.3 .9 .3 .9-.3 .9-.5 .9 .5 .9 .5 .9 .5 .9-.4 1-.8 .9-.3 .9-.6 .9 .4 .9 .8 .9-.2 .9 0 .9-.5 .9 .6 .9-.3 .9 .2 .9-.7 .9 .2 1-.6 .9 .6 .9-.6 .9 .1 .9-.2 .9-.1 .9 .2 .9 .1 .9-.7 .9 .6 .9-.6 .9-.5 .9-.3 1-.2 .9 .4 .9-.3 .9 .8 .9-.9 .9-.3 .9-.2 .9 .5 .9 .7 .9 .5 .9-.6 .9 0 .9-.8 1 .2 .9-.1 .9 .4 .9-.4 .9 .4 .9 .4 .9 .1 .9-.1 .9-.1 .9-.8 .9-.3 .9 .2 .9 .4 1-.6 .9 0 .9 .6 .9 .5 .9-1 .9 .3 .9-.2" fill="none" stroke="#1f7ff0" stroke-width="1.25" stroke-linejoin="round"/>
<path d="M553.5 776.5l.9-.5 .9 .3 .9 .4 .9 .2 .9-.1 .9-.2 1-.4 .9 0 .9 .2 .9-.2 .9 .4 .9-.1 .9-.3 .9-.5 .9 .4 .9 .3 .9-.3 .9 .6 .9 .1 1-.6 .9 .4 .9-.3 .9 .3 .9-.5 .9 .7 .9 .4 .9-.7 .9 .4 .9-.2 .9-.6 .9-.3 .9 1.6 1 .1 .9 .7 .9 .1 .9 .1 .9 .5 .9 1 .9 .6 .9 .7 .9 .1 .9-.3 .9 .1 .9 .7 .9 .3 1 .7 .9 .4 .9 .5 .9 .5 .9-.3 .9 .9 .9 .5 .9-.8 .9-.3 .9 .1 .9 .6 .9 0 .9 1 1-.5 .9-.2 .9 .4 .9 1.1 .9 .2 .9-.2 .9-.7 .9-.4 .9 .5 .9 0 .9 .5 .9 .1 .9-1 1 .1 .9 .2 .9 0 .9-.9 .9-.4 .9-.7 .9 .3 .9-.2 .9-.2 .9 0 .9-.1 .9 .2 .9-.9 1 .2 .9-.2 .9-.1 .9 .2 .9 .1 .9-.9 .9 0 .9-.1 .9-.2 .9 .4 .9 .4 .9-.4 .9-.7 1-.4 .9-.4 .9 .4 .9 .2 .9 .1 .9-.3 .9-.5 .9 .5 .9-.9 .9 .8 .9 0 .9-.9 .9-.3 1-.5 .9-.1 .9 0 .9 .8 .9 .4 .9-.1 .9-.8 .9 .5 .9 0 .9-1.1 .9 .2 .9-.5 .9 .2 1-.7 .9 1 .9-.1 .9 .5 .9-.8 .9 .2 .9-.8" fill="none" stroke="#2ad6c4" stroke-width="1.25" stroke-linejoin="round"/>
</g>
<line x1="571.65" y1="737.25" x2="571.65" y2="830.65" stroke="#4a4a4a" stroke-width="0.95" stroke-dasharray="4,3.55"/>
<text x="570.65" y="728.85" font-size="4.0" fill="#a0a0a0" >Stimulus</text>
<text x="570.65" y="734.66" font-size="4.0" fill="#a0a0a0" >Onset</text>
<text x="553.70" y="797.88" font-size="3.8" fill="#333333" >HC MSB-</text>
<text x="553.70" y="805.62" font-size="3.8" fill="#333333" >HC MSB+</text>
<text x="553.70" y="813.38" font-size="3.8" fill="#333333" >MSB- MSB+</text>
<line x1="597.98" y1="803.52" x2="601.61" y2="803.52" stroke="#000" stroke-width="1.7" />
<line x1="605.24" y1="803.52" x2="609.78" y2="803.52" stroke="#000" stroke-width="1.7" />
<line x1="611.59" y1="803.52" x2="629.75" y2="803.52" stroke="#000" stroke-width="1.7" />
<line x1="646.08" y1="803.52" x2="648.81" y2="803.52" stroke="#000" stroke-width="1.7" />
<line x1="661.52" y1="803.52" x2="662.42" y2="803.52" stroke="#000" stroke-width="1.7" />
<path d="M553.5 722.1H671.5M553.5 830.6H671.5" stroke="#6e6e6e" stroke-width="0.8"/>
<path d="M553.5 722.1V830.6M671.5 722.1V830.6" stroke="#9e9e9e" stroke-width="0.7"/>
<path d="M553.5 830.6v-1.3M553.5 722.1v1.3M571.7 830.6v-1.3M571.7 722.1v1.3M589.8 830.6v-1.3M589.8 722.1v1.3M608.0 830.6v-1.3M608.0 722.1v1.3M626.1 830.6v-1.3M626.1 722.1v1.3M644.3 830.6v-1.3M644.3 722.1v1.3M662.4 830.6v-1.3M662.4 722.1v1.3M553.5 822.9h1.3M671.5 822.9h-1.3M553.5 807.4h1.3M671.5 807.4h-1.3M553.5 791.9h1.3M671.5 791.9h-1.3M553.5 776.4h1.3M671.5 776.4h-1.3M553.5 760.9h1.3M671.5 760.9h-1.3M553.5 745.4h1.3M671.5 745.4h-1.3M553.5 729.9h1.3M671.5 729.9h-1.3" stroke="#444" stroke-width="0.6" fill="none"/>
<text x="551.10" y="825.49" font-size="7.2" text-anchor="end" fill="#262626" >-0.6</text>
<text x="551.10" y="809.99" font-size="7.2" text-anchor="end" fill="#262626" >-0.4</text>
<text x="551.10" y="794.49" font-size="7.2" text-anchor="end" fill="#262626" >-0.2</text>
<text x="551.10" y="778.99" font-size="7.2" text-anchor="end" fill="#262626" >0</text>
<text x="551.10" y="763.49" font-size="7.2" text-anchor="end" fill="#262626" >0.2</text>
<text x="551.10" y="747.99" font-size="7.2" text-anchor="end" fill="#262626" >0.4</text>
<text x="551.10" y="732.49" font-size="7.2" text-anchor="end" fill="#262626" >0.6</text>
<text x="553.50" y="840.37" font-size="7.2" text-anchor="middle" fill="#262626" >-0.2</text>
<text x="571.65" y="840.37" font-size="7.2" text-anchor="middle" fill="#262626" >0</text>
<text x="589.81" y="840.37" font-size="7.2" text-anchor="middle" fill="#262626" >0.2</text>
<text x="607.96" y="840.37" font-size="7.2" text-anchor="middle" fill="#262626" >0.4</text>
<text x="626.12" y="840.37" font-size="7.2" text-anchor="middle" fill="#262626" >0.6</text>
<text x="644.27" y="840.37" font-size="7.2" text-anchor="middle" fill="#262626" >0.8</text>
<text x="662.42" y="840.37" font-size="7.2" text-anchor="middle" fill="#262626" >1</text>
<text x="612.50" y="849.01" font-size="7.416" text-anchor="middle" fill="#262626" >Time (s)</text>
<text x="535.90" y="776.40" font-size="7.5" text-anchor="middle" fill="#262626" transform="rotate(-90 535.90 776.40)">Occupancy level (a.u.)</text>
<text x="612.50" y="719.35" font-size="8.928" text-anchor="middle" font-weight="bold" fill="#000" >2 back T</text>
<rect x="635.64" y="725.95" width="31.86" height="19.53" fill="#fff" stroke="#6a6a6a" stroke-width="0.6" />
<line x1="636.64" y1="729.66" x2="650.30" y2="729.66" stroke="#e87a7a" stroke-width="1.3" />
<text x="652.21" y="731.36" font-size="4.8" fill="#262626" >HC</text>
<line x1="636.64" y1="735.71" x2="650.30" y2="735.71" stroke="#1f7ff0" stroke-width="1.3" />
<text x="652.21" y="737.41" font-size="4.8" fill="#262626" >MSB-</text>
<line x1="636.64" y1="741.77" x2="650.30" y2="741.77" stroke="#2ad6c4" stroke-width="1.3" />
<text x="652.21" y="743.47" font-size="4.8" fill="#262626" >MSB+</text>
<path d="M261.7 872.4V980.9M279.8 872.4V980.9M298.0 872.4V980.9M316.1 872.4V980.9M334.3 872.4V980.9M352.4 872.4V980.9M243.5 973.1H361.5M243.5 957.6H361.5M243.5 942.1H361.5M243.5 911.1H361.5M243.5 895.6H361.5M243.5 880.1H361.5M243.5 926.6H361.5" stroke="#e6e6e6" stroke-width="0.6" fill="none"/>
<clipPath id="cp303"><rect x="243.50" y="872.35" width="118.00" height="108.50"/></clipPath>
<g clip-path="url(#cp303)">
<path d="M243.5 923.6l.9-.2 .9 .4 .9 0 .9 .4 .9-1.6 .9 .4 1 .1 .9 .6 .9 .3 .9-.5 .9 .2 .9 .1 .9 0 .9-.5 .9 .6 .9-1.5 .9 .7 .9-.8 .9 .8 1-.4 .9 .4 .9 .3 .9-.7 .9-1.2 .9 1 .9-.4 .9 0 .9 1 .9-.1 .9-.6 .9-1.2 .9 1.7 1-.3 .9 .2 .9-.5 .9 .7 .9 .5 .9-.2 .9 .1 .9-.6 .9 1.4 .9 .2 .9-.2 .9 .3 .9 .4 1 .2 .9-1.4 .9 1.3 .9 0 .9-.4 .9 1.1 .9-.7 .9-.1 .9 1.9 .9-1.7 .9 0 .9-.1 .9 .7 1 .9 .9-1.1 .9 .2 .9-.7 .9 0 .9 .5 .9-.8 .9-.3 .9 .1 .9 1 .9-1 .9-1.2 .9 .2 1-.5 .9 .6 .9-.7 .9 1.1 .9-1 .9-.2 .9-.5 .9 1.1 .9-1.7 .9 1 .9 .4 .9-1.3 .9-.7 1 1.1 .9 .5 .9-1.5 .9 .4 .9-1.2 .9 1.6 .9-.3 .9-.5 .9-.3 .9 .3 .9-1 .9 .2 .9-.5 1-.2 .9 1 .9-.6 .9 1.4 .9-1.1 .9 .5 .9 1 .9-1.4 .9 .3 .9 0 .9-.5 .9 .3 .9-.3 1-.1 .9-.2 .9 .2 .9-.4 .9 1.4 .9-1.1 .9-.2 .9 .3 .9 0 .9-.5 .9 .3 .9 1.2 .9-1 1-.2 .9 .8 .9-1.5 .9 .6 .9 .1 .9 .4 .9-.6 0 11.8-.9-1.3-.9-.6-.9 .8-.9 .5-.9-.4-.9 .2-1 .9-.9-.8-.9-.6-.9 .7-.9-1-.9 1-.9-.9-.9 .7-.9 .3-.9 .4-.9 .6-.9 0-.9-.8-1 .6-.9-1.5-.9 .2-.9 .8-.9 .3-.9 .8-.9-.4-.9 .1-.9-.5-.9-.3-.9 .4-.9 0-.9-.7-1 .5-.9 0-.9 .3-.9-.9-.9 1.3-.9 .5-.9 .2-.9-1.2-.9 .3-.9 .4-.9 .7-.9-.5-.9-.3-1 .1-.9 .2-.9 .4-.9 0-.9 .2-.9 0-.9-.1-.9 .3-.9 .1-.9 .3-.9 .1-.9 .8-.9-.5-1-.3-.9 .7-.9-.2-.9 .8-.9 1-.9-.2-.9 .1-.9-.5-.9-.5-.9 1-.9-.7-.9 1-.9 .3-1-.7-.9 .4-.9 .2-.9 .4-.9-.5-.9 .2-.9 0-.9-.6-.9 .5-.9-.9-.9-1-.9 .7-.9-.6-1-.2-.9-.9-.9 .8-.9-.6-.9-.5-.9 .3-.9 .4-.9-1.7-.9 .5-.9-1-.9-.3-.9 .8-.9-1.9-1 .4-.9-.2-.9-.7-.9 .7-.9-.3-.9 .8-.9-.1-.9-.6-.9 .3-.9-.7-.9 .2-.9 .7-.9-1-1 .4-.9-.5-.9 .5-.9-.5-.9 .3-.9 .8-.9-.3-.9 .8-.9-.4-.9-.6-.9-.6-.9-.2-.9-.2-1-.7-.9 1.1-.9-.3-.9 .8-.9-1.5-.9 .5-.9 .9z" fill="#f59090" fill-opacity="0.13"/>
<path d="M243.5 923.1l.9 .4 .9-.8 .9 .3 .9 .3 .9-.8 .9 1.5 1 .4 .9-.5 .9-.5 .9 .9 .9-1 .9-.7 .9 .8 .9 .5 .9-1.1 .9-.5 .9-.7 .9 1.3 .9-.1 1 .3 .9-.4 .9 .5 .9 .3 .9-.4 .9-.5 .9-.5 .9 0 .9 .7 .9-.4 .9-1.1 .9 .4 .9 .9 1 .6 .9-1 .9 1.8 .9 .3 .9-1 .9 1 .9-.3 .9 1.2 .9-.3 .9-1.2 .9-.3 .9 1.2 .9 0 1 1.3 .9-1.4 .9 1.6 .9-1.3 .9 .8 .9 0 .9 .7 .9 0 .9 .5 .9 0 .9 .4 .9-1.2 .9 .3 1 .1 .9 .1 .9-.5 .9 .7 .9-.5 .9-.6 .9-.1 .9 .1 .9 1 .9-1.4 .9 .6 .9 0 .9-.5 1 0 .9-.5 .9-.6 .9-.3 .9 .3 .9-.6 .9-.3 .9 .1 .9-.4 .9 .3 .9-1.3 .9 1.2 .9 0 1-1.2 .9 .3 .9-1.1 .9-.5 .9 0 .9 1 .9-.7 .9-.7 .9 .4 .9 .5 .9-.9 .9 .7 .9-.6 1 .8 .9-.5 .9-.1 .9 1 .9-.7 .9-.5 .9 .9 .9 .8 .9-1 .9 .3 .9 .5 .9 .2 .9-.7 1 1.2 .9-.9 .9-.4 .9 .5 .9-.1 .9 .4 .9 .7 .9-1 .9 .4 .9-.3 .9-.2 .9 .2 .9 .3 1-1 .9 .5 .9-.6 .9 .6 .9-.5 .9 .4 .9-.8 0 10.3-.9 .5-.9 1-.9-.6-.9 .4-.9 .9-.9-.7-1 .1-.9-.3-.9-.3-.9 .4-.9-.6-.9 1.4-.9-.3-.9 .3-.9-1.2-.9 1-.9 .2-.9-.3-.9-.7-1 1-.9-1-.9 .5-.9-1-.9 .8-.9-.5-.9-.4-.9 .6-.9 .5-.9-1.6-.9 .9-.9-.3-.9-.8-1 .1-.9 .1-.9 .9-.9-.4-.9 .5-.9-.8-.9 .1-.9 0-.9 .8-.9 0-.9-1-.9 .9-.9 1.1-1 .1-.9-.5-.9 .9-.9 .1-.9 .7-.9-1.6-.9 .7-.9 1.5-.9-.4-.9 .5-.9 0-.9-.7-.9 .9-1 1.7-.9-.3-.9-.1-.9 .2-.9-.7-.9 .8-.9-.1-.9-.8-.9 .1-.9 1-.9 0-.9 .6-.9-.3-1-.7-.9 .6-.9 .7-.9-.4-.9-.2-.9-.8-.9-.5-.9 1-.9 0-.9-.5-.9-.3-.9-.3-.9-.2-1-.5-.9-.4-.9-.6-.9-.1-.9-.2-.9 .2-.9 .1-.9-.8-.9-.8-.9 .5-.9-1-.9 .3-.9-.6-1-.3-.9-.6-.9-.8-.9-.4-.9 1.2-.9-.1-.9 .1-.9 .7-.9-.5-.9-.9-.9 1.2-.9 0-.9-.6-1 .1-.9-.9-.9-.2-.9-.7-.9 .4-.9 .5-.9 .3-.9-.4-.9 .4-.9-.7-.9 1.1-.9 .2-.9-.9-1-.6-.9 .4-.9 .5-.9-.3-.9-1-.9 .4-.9 .1z" fill="#5c9ff0" fill-opacity="0.12"/>
<path d="M243.5 923.8l.9 .7 .9-.2 .9-1 .9 .8 .9-.3 .9-.7 1 1 .9-1.2 .9-.2 .9 .9 .9-.2 .9-.8 .9 .7 .9-.4 .9 1.2 .9-.4 .9-1.6 .9 .5 .9 .3 1-.3 .9-.8 .9 .1 .9 .3 .9-.7 .9 .8 .9-.2 .9-.8 .9 .8 .9-.3 .9 .5 .9-.7 .9 1.9 1-.1 .9 .7 .9 0 .9-.7 .9 .1 .9 1.8 .9-.8 .9-.3 .9 .2 .9 1.9 .9-.4 .9 .3 .9-.1 1 1.5 .9 .7 .9-.8 .9 .9 .9-.1 .9 .1 .9 .3 .9 0 .9 1.2 .9 .7 .9 .2 .9 .5 .9-.8 1 .9 .9-1.1 .9 0 .9-.2 .9-.9 .9 .2 .9-.1 .9 .9 .9-1.6 .9-.9 .9 .2 .9 0 .9 .3 1-.3 .9 .1 .9-1.5 .9 .3 .9-.7 .9-1.1 .9-.1 .9-.4 .9-1.1 .9 .9 .9 .1 .9-.4 .9-1.1 1 .2 .9-.6 .9 .3 .9 .2 .9-1.2 .9 .8 .9-.8 .9 .1 .9 1 .9-1.3 .9-.6 .9 .5 .9-.1 1-.9 .9 .8 .9 0 .9 1 .9-.5 .9-.8 .9-.3 .9 1 .9-.6 .9-.7 .9 .7 .9-1.1 .9 1.1 1 .7 .9-.1 .9-.3 .9 .2 .9-1.1 .9 .2 .9 .4 .9 .5 .9-.4 .9 0 .9-1 .9 .8 .9 .9 1-.6 .9 1.2 .9-1.5 .9 .1 .9 .3 .9-.3 .9 .3 0 10.1-.9 1.4-.9-.9-.9-.9-.9 1.3-.9 .1-.9 .8-1-1.7-.9 1.2-.9-1.2-.9-.7-.9 1.4-.9-.9-.9 1.5-.9-1.1-.9-.2-.9 .3-.9 .9-.9-1.3-.9 .7-1-.4-.9-.1-.9-.9-.9 1.4-.9 .9-.9-1.3-.9 .6-.9 .3-.9 0-.9-.2-.9 .2-.9-1.2-.9 1.1-1 .5-.9-1.9-.9 1.7-.9 .5-.9-.5-.9 0-.9 .1-.9-.3-.9-.2-.9 .2-.9 1.4-.9-.4-.9 .1-1 .3-.9 .2-.9 .4-.9 .2-.9 .5-.9 .1-.9 .2-.9 1.2-.9 .9-.9 .8-.9-.4-.9-.2-.9 1.1-1-.5-.9 .6-.9-.3-.9 .4-.9 .7-.9 .1-.9-.6-.9 .9-.9-.2-.9 .6-.9-.2-.9 1.1-.9-.2-1 .7-.9-.5-.9 .5-.9-.9-.9-1.4-.9 0-.9-.5-.9 .8-.9 .2-.9-1.8-.9 .7-.9-1-.9-.7-1-.2-.9-.4-.9-.8-.9 .1-.9-.7-.9-.3-.9-.4-.9-.8-.9-.7-.9 .7-.9 0-.9-1.2-.9-1.1-1-.4-.9 .2-.9-.4-.9 .5-.9-1.5-.9-.3-.9-.1-.9-.2-.9 1-.9-.6-.9-.2-.9 0-.9 .3-1 1.2-.9-.8-.9-.2-.9 .3-.9-.4-.9 0-.9-.1-.9 .1-.9 .2-.9-.4-.9-.4-.9 .4-.9-.2-1 .2-.9 .4-.9-.4-.9 .1-.9 .4-.9-.9-.9 .7z" fill="#40d8e8" fill-opacity="0.13"/>
<path d="M243.5 927l.9-.6 .9 0 .9 .7 .9-.2 .9-.6 .9-.4 1 .4 .9 .5 .9 .2 .9 0 .9 .4 .9 .3 .9-.4 .9-.1 .9-.1 .9-.9 .9 .6 .9-.6 .9 .6 1-.4 .9 .7 .9-.2 .9-.4 .9-.3 .9 .3 .9 .1 .9 .1 .9 .1 .9 .1 .9-.7 .9-.2 .9 1 1-.4 .9 1 .9-.6 .9 .5 .9 .8 .9-.4 .9 .9 .9-.5 .9 .6 .9 .3 .9 .2 .9-.3 .9 .7 1 .2 .9-.4 .9 .3 .9 .5 .9 .3 .9 .2 .9 0 .9-.1 .9 .9 .9-.6 .9-.2 .9-.2 .9 .2 1 .8 .9-.7 .9-.4 .9 0 .9-.5 .9 .5 .9-.1 .9-.3 .9 .2 .9 0 .9-.9 .9-.5 .9-.3 1 0 .9 .5 .9-.7 .9 .5 .9-.7 .9-.1 .9-.4 .9 .6 .9-.9 .9 .4 .9 .2 .9-.8 .9-.5 1 .5 .9 .4 .9-.5 .9-.1 .9-.8 .9 .6 .9 .5 .9-.4 .9-.4 .9-.5 .9-.1 .9 0 .9-.2 1-.4 .9 .8 .9-.3 .9 .5 .9-.4 .9 .5 .9 .5 .9-.5 .9-.2 .9-.2 .9-.6 .9 0 .9 .6 1-.3 .9 .2 .9 .2 .9-.6 .9 .6 .9-.8 .9-.4 .9 .6 .9-.5 .9 .3 .9-.2 .9 .8 .9 0 1-.6 .9 .3 .9-.6 .9 .1 .9-.3 .9 .5 .9 .3" fill="none" stroke="#cf6e6e" stroke-width="1.25" stroke-linejoin="round"/>
<path d="M243.5 926.4l.9 .2 .9-.6 .9 .7 .9 .3 .9-.7 .9 .6 1 .4 .9 .2 .9-.3 .9-.1 .9-.1 .9-.6 .9 .6 .9 .1 .9-.8 .9-.4 .9 0 .9 .7 .9 .4 1 .1 .9 .1 .9 .2 .9-.4 .9 .3 .9-.1 .9-.5 .9-.1 .9 .4 .9-.8 .9-.4 .9 .6 .9 .8 1 .5 .9-.2 .9 .7 .9 .6 .9-.7 .9 .9 .9 .2 .9 .6 .9-.3 .9-.5 .9 0 .9 .9 .9 .2 1 .9 .9-.6 .9 .9 .9-.5 .9 .7 .9-.1 .9-.1 .9 .3 .9 .6 .9 .1 .9 .4 .9-.9 .9-.2 1 .4 .9 .2 .9-.5 .9 .3 .9-.7 .9-.4 .9 .4 .9 .1 .9 0 .9-.3 .9 .2 .9 0 .9 0 1-.9 .9-.7 .9 .1 .9-.2 .9-.1 .9-.1 .9-.9 .9-.3 .9 .6 .9-.2 .9-.7 .9 .2 .9 .2 1-.7 .9-.4 .9-.9 .9 .2 .9 0 .9 .1 .9-.4 .9-.4 .9 .7 .9 0 .9-.3 .9-.1 .9-.4 1 .4 .9 .1 .9 .1 .9 .1 .9 .4 .9-.5 .9 .2 .9 .6 .9-.2 .9-.3 .9 .7 .9-.1 .9 .2 1 0 .9-.1 .9 0 .9 .1 .9-.5 .9 .8 .9 .2 .9-.3 .9-.6 .9 .2 .9-.3 .9 .3 .9 .3 1-.6 .9 .6 .9-.7 .9 .1 .9 0 .9-.3 .9-.6" fill="none" stroke="#1f7ff0" stroke-width="1.25" stroke-linejoin="round"/>
<path d="M243.5 927l.9 0 .9 .4 .9-.7 .9 .3 .9 .1 .9-.6 1 .4 .9-.4 .9-.3 .9 .6 .9 .1 .9-.5 .9 .3 .9-.1 .9 .6 .9-.1 .9-.9 .9 .3 .9 .6 1-.8 .9-.5 .9 .1 .9 .2 .9-.1 .9-.1 .9 .1 .9-.4 .9 .5 .9 .7 .9-.1 .9-.1 .9 .9 1 .1 .9 .9 .9 .6 .9-.4 .9-.3 .9 1.3 .9 0 .9 0 .9 .3 .9 1.3 .9-.3 .9 .6 .9 .2 1 .8 .9 .7 .9 .1 .9 .1 .9 .8 .9 0 .9-.2 .9 .2 .9 .6 .9 1 .9 .6 .9 0 .9-.1 1 .1 .9-.5 .9-.5 .9 0 .9-.8 .9 .2 .9-.5 .9 .7 .9-.8 .9-.8 .9-.1 .9 .2 .9-.2 1 .1 .9-.5 .9-.7 .9 .4 .9-.7 .9-1.1 .9-.6 .9-.3 .9-.6 .9 .2 .9 0 .9-.5 .9-.6 1-.1 .9-.3 .9 .4 .9-.6 .9-.8 .9 .5 .9-.2 .9 0 .9 .5 .9-.4 .9-.6 .9-.5 .9 .8 1-.7 .9-.1 .9 .6 .9 .4 .9-.2 .9-.4 .9-.2 .9 .2 .9 .3 .9-.8 .9-.3 .9-.2 .9 .7 1 .5 .9-.4 .9 .5 .9-.3 .9-.7 .9 .2 .9 .7 .9-.5 .9 .3 .9-.8 .9-.1 .9 1 .9-.1 1 .5 .9 .2 .9-.8 .9-.6 .9 .6 .9 .3 .9-.5" fill="none" stroke="#2ad6c4" stroke-width="1.25" stroke-linejoin="round"/>
</g>
<line x1="261.65" y1="887.45" x2="261.65" y2="980.85" stroke="#4a4a4a" stroke-width="0.95" stroke-dasharray="4,3.55"/>
<text x="260.65" y="879.05" font-size="4.0" fill="#a0a0a0" >Stimulus</text>
<text x="260.65" y="884.86" font-size="4.0" fill="#a0a0a0" >Onset</text>
<text x="243.70" y="948.08" font-size="3.8" fill="#333333" >HC MSB-</text>
<text x="243.70" y="955.83" font-size="3.8" fill="#333333" >HC MSB+</text>
<text x="243.70" y="963.58" font-size="3.8" fill="#333333" >MSB- MSB+</text>
<path d="M243.5 872.4H361.5M243.5 980.9H361.5" stroke="#6e6e6e" stroke-width="0.8"/>
<path d="M243.5 872.4V980.9M361.5 872.4V980.9" stroke="#9e9e9e" stroke-width="0.7"/>
<path d="M243.5 980.9v-1.3M243.5 872.4v1.3M261.7 980.9v-1.3M261.7 872.4v1.3M279.8 980.9v-1.3M279.8 872.4v1.3M298.0 980.9v-1.3M298.0 872.4v1.3M316.1 980.9v-1.3M316.1 872.4v1.3M334.3 980.9v-1.3M334.3 872.4v1.3M352.4 980.9v-1.3M352.4 872.4v1.3M243.5 973.1h1.3M361.5 973.1h-1.3M243.5 957.6h1.3M361.5 957.6h-1.3M243.5 942.1h1.3M361.5 942.1h-1.3M243.5 926.6h1.3M361.5 926.6h-1.3M243.5 911.1h1.3M361.5 911.1h-1.3M243.5 895.6h1.3M361.5 895.6h-1.3M243.5 880.1h1.3M361.5 880.1h-1.3" stroke="#444" stroke-width="0.6" fill="none"/>
<text x="241.10" y="975.69" font-size="7.2" text-anchor="end" fill="#262626" >-0.6</text>
<text x="241.10" y="960.19" font-size="7.2" text-anchor="end" fill="#262626" >-0.4</text>
<text x="241.10" y="944.69" font-size="7.2" text-anchor="end" fill="#262626" >-0.2</text>
<text x="241.10" y="929.19" font-size="7.2" text-anchor="end" fill="#262626" >0</text>
<text x="241.10" y="913.69" font-size="7.2" text-anchor="end" fill="#262626" >0.2</text>
<text x="241.10" y="898.19" font-size="7.2" text-anchor="end" fill="#262626" >0.4</text>
<text x="241.10" y="882.69" font-size="7.2" text-anchor="end" fill="#262626" >0.6</text>
<text x="243.50" y="990.57" font-size="7.2" text-anchor="middle" fill="#262626" >-0.2</text>
<text x="261.65" y="990.57" font-size="7.2" text-anchor="middle" fill="#262626" >0</text>
<text x="279.81" y="990.57" font-size="7.2" text-anchor="middle" fill="#262626" >0.2</text>
<text x="297.96" y="990.57" font-size="7.2" text-anchor="middle" fill="#262626" >0.4</text>
<text x="316.12" y="990.57" font-size="7.2" text-anchor="middle" fill="#262626" >0.6</text>
<text x="334.27" y="990.57" font-size="7.2" text-anchor="middle" fill="#262626" >0.8</text>
<text x="352.42" y="990.57" font-size="7.2" text-anchor="middle" fill="#262626" >1</text>
<text x="302.50" y="999.21" font-size="7.416" text-anchor="middle" fill="#262626" >Time (s)</text>
<text x="225.90" y="926.60" font-size="7.5" text-anchor="middle" fill="#262626" transform="rotate(-90 225.90 926.60)">Occupancy level (a.u.)</text>
<text x="302.50" y="869.55" font-size="8.928" text-anchor="middle" font-weight="bold" fill="#000" >0 back D</text>
<rect x="325.64" y="876.15" width="31.86" height="19.53" fill="#fff" stroke="#6a6a6a" stroke-width="0.6" />
<line x1="326.64" y1="879.86" x2="340.30" y2="879.86" stroke="#e87a7a" stroke-width="1.3" />
<text x="342.21" y="881.56" font-size="4.8" fill="#262626" >HC</text>
<line x1="326.64" y1="885.91" x2="340.30" y2="885.91" stroke="#1f7ff0" stroke-width="1.3" />
<text x="342.21" y="887.62" font-size="4.8" fill="#262626" >MSB-</text>
<line x1="326.64" y1="891.97" x2="340.30" y2="891.97" stroke="#2ad6c4" stroke-width="1.3" />
<text x="342.21" y="893.67" font-size="4.8" fill="#262626" >MSB+</text>
<path d="M417.1 872.4V980.9M435.2 872.4V980.9M453.4 872.4V980.9M471.5 872.4V980.9M489.7 872.4V980.9M507.8 872.4V980.9M398.9 973.1H516.9M398.9 957.6H516.9M398.9 942.1H516.9M398.9 911.1H516.9M398.9 895.6H516.9M398.9 880.1H516.9M398.9 926.6H516.9" stroke="#e6e6e6" stroke-width="0.6" fill="none"/>
<clipPath id="cp304"><rect x="398.90" y="872.35" width="118.00" height="108.50"/></clipPath>
<g clip-path="url(#cp304)">
<path d="M398.9 923.1l.9-.3 .9 .5 .9 .8 .9-.6 .9 0 .9-.3 1 .8 .9-.1 .9-.8 .9 .3 .9-.6 .9-.6 .9 .9 .9 .2 .9-.4 .9 .5 .9-.8 .9 0 .9 .2 1 .2 .9-1.4 .9 .5 .9 .9 .9-.2 .9-1.2 .9 .3 .9 .1 .9-.9 .9 0 .9 1.1 .9 0 .9 .2 1 0 .9-.3 .9 1 .9 .2 .9-.7 .9-.7 .9 .3 .9-.1 .9 .2 .9 .5 .9 1.6 .9-.9 .9 .4 1 .1 .9 .4 .9 .6 .9 .5 .9 .2 .9-.2 .9 .7 .9 0 .9 .3 .9 .1 .9-.1 .9 0 .9 0 1-.1 .9 .9 .9-.5 .9 .5 .9-.3 .9-.8 .9 .5 .9-.5 .9-.7 .9-1 .9-.3 .9 0 .9-.1 1 .9 .9-1.3 .9-.8 .9 1 .9-.8 .9 .1 .9-.5 .9 .6 .9-1.5 .9-.1 .9 1 .9-.6 .9-.1 1-.9 .9-.1 .9-.5 .9 .7 .9-1.2 .9 1.4 .9-.5 .9 .2 .9-.5 .9 0 .9 .6 .9-1.3 .9 .3 1-.8 .9 .8 .9 .4 .9-.8 .9 .6 .9 .2 .9-.7 .9-.2 .9 0 .9 .8 .9 .1 .9-.2 .9-.3 1-.3 .9 .8 .9-.3 .9-.7 .9 .2 .9 0 .9 0 .9-.9 .9 1.3 .9-.2 .9-1.1 .9 .2 .9 .3 1-.2 .9 .3 .9-1 .9 .2 .9 .2 .9 .7 .9 .1 0 10.3-.9-.7-.9 .2-.9 .5-.9 .5-.9-1-.9 1.8-1-1.1-.9 .6-.9 .1-.9 .1-.9-1-.9 .8-.9 .2-.9-.2-.9-.2-.9 .5-.9 .2-.9-.5-.9-1-1 .9-.9 .9-.9 0-.9-.5-.9 .3-.9 .1-.9-.9-.9-.4-.9 1.2-.9 .2-.9-.8-.9-.5-.9 .5-1-.1-.9 .1-.9 .1-.9 1-.9 .6-.9 .1-.9-.5-.9-.3-.9-.3-.9-.7-.9 .8-.9 .2-.9 .7-1 .3-.9-.5-.9 1-.9-.4-.9 .8-.9-.1-.9 1-.9-.8-.9-.6-.9 .4-.9 .8-.9 .6-.9 .8-1-.1-.9-.4-.9 0-.9 .5-.9-.1-.9 .5-.9 .2-.9 1.1-.9-.6-.9 .9-.9 .9-.9-1-.9-.7-1 1.7-.9-1.8-.9 .9-.9 .3-.9-.2-.9-.9-.9-.2-.9 .6-.9-.7-.9-1.1-.9-.2-.9-1.2-.9 .5-1-1.5-.9 1.2-.9-.8-.9-.8-.9 .6-.9-1.5-.9 .1-.9-.4-.9 0-.9 .9-.9-.7-.9-.4-.9-.3-1-.1-.9-1-.9 .1-.9-.2-.9-.5-.9 .8-.9 .7-.9-.9-.9 1.1-.9-1.1-.9-.6-.9 1.1-.9-.2-1-.2-.9-.6-.9 .3-.9 .4-.9 .7-.9-.1-.9-1.4-.9 .7-.9-.6-.9 1-.9-.3-.9 1.2-.9-.5-1 0-.9-1.8-.9 1.8-.9-.5-.9-.7-.9-1.1-.9 .2z" fill="#f59090" fill-opacity="0.13"/>
<path d="M398.9 924.2l.9 .4 .9-1.4 .9 0 .9 .2 .9-.2 .9-.3 1 1.1 .9-.8 .9 1.1 .9-.7 .9 .1 .9 .2 .9-.6 .9-.5 .9 .1 .9-.1 .9 1 .9-1.2 .9-.9 1 .2 .9 .2 .9 0 .9 .6 .9 0 .9-.2 .9-1 .9-.3 .9 .7 .9-.5 .9 .2 .9 .6 .9 .1 1-.2 .9 .2 .9 .5 .9-.3 .9 .6 .9-1 .9 .8 .9-.4 .9 .6 .9 .2 .9-.6 .9 1.7 .9 .6 1-.8 .9 1.5 .9-.1 .9-.2 .9-.3 .9 0 .9 .8 .9 .6 .9 .6 .9-.8 .9 1.5 .9-1.1 .9 .5 1 .2 .9-1.6 .9 .3 .9 .3 .9 1.2 .9-.1 .9 .4 .9-.5 .9-1.1 .9 .1 .9 .2 .9 .3 .9-.4 1 .4 .9-.5 .9-.7 .9-.2 .9 .9 .9-.9 .9-.4 .9-.2 .9 .7 .9-.4 .9-1.2 .9 1.3 .9-1.6 1 .7 .9 .1 .9-.5 .9 .9 .9-.9 .9-.4 .9-.2 .9-.1 .9-.2 .9 .3 .9-.1 .9-1.5 .9 .2 1 1.4 .9-.4 .9 .4 .9-1.2 .9 .3 .9-.1 .9-.6 .9-.4 .9 .2 .9 .8 .9-.3 .9-.6 .9-.3 1 .1 .9-.2 .9 .9 .9 .1 .9-1.3 .9 1.6 .9-.3 .9-.8 .9 .2 .9-.3 .9 .1 .9 .5 .9 .5 1 .4 .9-1 .9-.1 .9-.6 .9 1.2 .9-1.4 .9 .5 0 11.1-.9 .3-.9-.6-.9-.5-.9-.1-.9 1-.9 0-1-.1-.9-.4-.9-.4-.9 .5-.9-.7-.9 1.6-.9 .1-.9-.4-.9 .1-.9-.7-.9 .4-.9-.3-.9 .7-1-.6-.9 .6-.9-1.1-.9 .9-.9-.4-.9 .6-.9 .3-.9 .1-.9 1-.9 0-.9-1.2-.9 .4-.9-.1-1 .6-.9-.2-.9-.8-.9 .2-.9 .7-.9-.6-.9 1.1-.9 .4-.9 1.2-.9-1-.9 .3-.9 .1-.9-.3-1 .5-.9 .3-.9 0-.9-.6-.9 .3-.9 .9-.9-.4-.9-.5-.9 .5-.9 .6-.9 .8-.9-.1-.9-.4-1 .9-.9-.3-.9-.4-.9 .5-.9-.2-.9 .9-.9 .1-.9 .3-.9-.9-.9 0-.9-.3-.9 .4-.9-.7-1 .3-.9 .5-.9-.1-.9-.3-.9-.3-.9-1.1-.9 1.7-.9-1.1-.9-.2-.9-1.3-.9-.1-.9-.1-.9-.4-1-.5-.9-.2-.9-.3-.9-1.2-.9 .1-.9 .4-.9-1.3-.9 1.2-.9-1.4-.9 1.4-.9-.9-.9-.7-.9-1.3-1 .4-.9-.6-.9 1.4-.9-.8-.9-1.1-.9 .1-.9 .8-.9-.7-.9 1.1-.9-1.1-.9 .6-.9-1.2-.9 .5-1 .9-.9-.3-.9 .6-.9 .3-.9-.3-.9-.3-.9-1.1-.9 .5-.9 1.2-.9 0-.9-1.1-.9 1.1-.9-1.2-1 .1-.9-1-.9 .2-.9 .2-.9 1.2-.9 0-.9-.2z" fill="#5c9ff0" fill-opacity="0.12"/>
<path d="M398.9 923l.9 .6 .9 0 .9 .2 .9-.3 .9 .2 .9-1.4 1 1 .9 .5 .9-.4 .9-1.5 .9 1.2 .9-.6 .9-.2 .9 .3 .9-.6 .9 0 .9 .1 .9 1.1 .9-1.2 1 .9 .9-.9 .9-.5 .9 .2 .9 1.3 .9-.8 .9-1.4 .9 .5 .9 .9 .9-.3 .9 0 .9-.3 .9 .5 1-.2 .9-.5 .9 1.1 .9 .2 .9 0 .9-.1 .9 0 .9 .6 .9-.2 .9 1.6 .9 .6 .9-.5 .9 .7 1 .3 .9 .5 .9 .4 .9 0 .9 .2 .9 .5 .9 .3 .9-.2 .9 .8 .9 .1 .9-.2 .9 .8 .9 .5 1-.8 .9 .4 .9-.5 .9 .1 .9-.4 .9 1 .9-.9 .9-.5 .9 .2 .9 0 .9-1.3 .9 .2 .9 .1 1 .2 .9-1.6 .9 .6 .9-.3 .9-.4 .9 .8 .9-1.1 .9 1.2 .9-.9 .9-.6 .9-.6 .9-.8 .9 .8 1 .3 .9-.1 .9-.1 .9-.4 .9 .7 .9-.6 .9-.3 .9-.3 .9 .2 .9 .5 .9 .2 .9-1 .9-.6 1 0 .9 .1 .9 .7 .9 .2 .9-1.2 .9-.3 .9 .5 .9-.3 .9 .2 .9-.1 .9-1.4 .9-.2 .9 1.6 1-.2 .9-.8 .9 .4 .9-.3 .9-.4 .9 .2 .9-.6 .9-.2 .9 .9 .9-.1 .9 .4 .9-.2 .9-.2 1-.9 .9 1.5 .9-1.8 .9-.1 .9 .9 .9-.6 .9 .7 0 10.8-.9 .5-.9-1.7-.9 1.3-.9 .1-.9 0-.9 0-1-.8-.9 1.8-.9-1.1-.9 1.2-.9-1.5-.9 .2-.9 .4-.9 0-.9 .5-.9 .7-.9-1.9-.9 .3-.9 .2-1 .9-.9-.3-.9 .5-.9-1-.9 1.7-.9-1-.9 1.3-.9-.6-.9 1-.9-.2-.9-.1-.9 .5-.9-.6-1-1-.9 1-.9 .3-.9-.1-.9 .3-.9-1.2-.9 1.7-.9 0-.9-.9-.9 1-.9-.5-.9-.6-.9 .8-1-1.1-.9 1.1-.9 .6-.9 .9-.9-.3-.9-.3-.9 1.1-.9-.8-.9 .4-.9-.9-.9 .9-.9 .9-.9-.8-1 .8-.9-.9-.9 1.4-.9 .8-.9-.7-.9 1-.9 .3-.9 .7-.9 .2-.9-.4-.9-.1-.9 0-.9-.4-1 .5-.9-.1-.9-1-.9 0-.9-.2-.9-.4-.9 1.2-.9-1.1-.9-.8-.9-.5-.9 .3-.9-.3-.9-1-1-1.3-.9 1.1-.9-1-.9-.9-.9-.6-.9-.8-.9 0-.9 .4-.9-.1-.9-1.8-.9-.4-.9-.1-.9 0-1-.5-.9 1-.9-.6-.9-.6-.9-.2-.9-.1-.9-.1-.9-.3-.9 1-.9 .5-.9-.4-.9-.1-.9-.2-1 .1-.9-.6-.9 .8-.9 .2-.9-.1-.9-1.2-.9 1-.9-.6-.9-.1-.9 .3-.9-.4-.9 .8-.9-1.3-1 1.1-.9-.5-.9 .4-.9-.2-.9 .4-.9-.4-.9 .6z" fill="#40d8e8" fill-opacity="0.13"/>
<path d="M398.9 926l.9-.3 .9 .8 .9 .7 .9 0 .9-.9 .9 .8 1 .4 .9 .2 .9-1.1 .9 .4 .9-.8 .9 0 .9 .1 .9 .7 .9-.1 .9-.1 .9-.6 .9-.2 .9 .5 1 .1 .9-.5 .9-.4 .9 .8 .9 .4 .9-1.1 .9 .6 .9-.3 .9-.9 .9 .3 .9 .6 .9 0 .9 .6 1 .1 .9-.1 .9 .7 .9 .5 .9-.8 .9-.3 .9 .3 .9-.1 .9 .8 .9 0 .9 1.2 .9-.1 .9-.3 1 .7 .9 0 .9 .9 .9 .4 .9 .6 .9 .3 .9 0 .9 .1 .9 .6 .9 .1 .9-.1 .9-.5 .9 .9 1-.9 .9 .8 .9 .2 .9-.2 .9-.6 .9-.1 .9-.2 .9-.4 .9-.6 .9-.4 .9-.4 .9 0 .9 .1 1 .5 .9-1 .9-.7 .9 0 .9-.6 .9 .4 .9 .1 .9-.2 .9-.7 .9-.4 .9 .7 .9-.8 .9 .2 1-.6 .9-.4 .9-.4 .9 0 .9-.3 .9 .9 .9-.1 .9 .4 .9-.4 .9-.2 .9-.3 .9-.7 .9 .2 1-.4 .9 .2 .9 .4 .9 0 .9 .2 .9-.5 .9-.1 .9 .3 .9 0 .9 .2 .9 .3 .9-.1 .9-.6 1-.6 .9 .9 .9 .1 .9-.5 .9-.1 .9 .1 .9 .1 .9-.5 .9 .2 .9 .4 .9-.6 .9 0 .9-.1 1 .4 .9-.7 .9 0 .9-.2 .9-.1 .9 .3 .9 .4" fill="none" stroke="#cf6e6e" stroke-width="1.25" stroke-linejoin="round"/>
<path d="M398.9 927.2l.9 .4 .9-.8 .9-.5 .9-.1 .9-.1 .9 .3 1 .5 .9 .2 .9 0 .9 .2 .9 0 .9-.4 .9-.6 .9 .3 .9 .2 .9 .1 .9 .3 .9-.8 .9-.3 1-.4 .9-.1 .9 .6 .9-.1 .9 .6 .9-.7 .9-.1 .9-.6 .9 .4 .9 .2 .9 .6 .9-.5 .9 .4 1-.3 .9 .8 .9 .5 .9 .3 .9-.3 .9 .2 .9-.2 .9 .4 .9 .1 .9 .1 .9 .3 .9 1 .9 .4 1-.2 .9 1 .9 0 .9-.1 .9 .5 .9 .1 .9 .9 .9-.5 .9 .8 .9-.2 .9 .9 .9-.5 .9 0 1 0 .9-.5 .9 0 .9 .2 .9 .7 .9 .4 .9 0 .9-.3 .9-1 .9 .1 .9-.1 .9 .4 .9-.1 1-.2 .9-.1 .9-.3 .9-.5 .9 .1 .9-.6 .9 0 .9 .1 .9-.1 .9-.3 .9-.3 .9 .6 .9-1 1 .1 .9 .2 .9-.2 .9 .3 .9 0 .9-.8 .9-.3 .9-.6 .9 .2 .9-.2 .9-.1 .9-.4 .9 .2 1 .4 .9-.1 .9-.1 .9 .1 .9 .1 .9-.6 .9-.3 .9-.3 .9-.3 .9 .7 .9-.7 .9 .3 .9-.5 1 .4 .9-.5 .9 .7 .9-.2 .9-.3 .9 .7 .9 .1 .9-.5 .9-.7 .9 .3 .9-.2 .9 .4 .9 .4 1 .3 .9-.5 .9-.6 .9-.2 .9 .8 .9-.4 .9 .2" fill="none" stroke="#1f7ff0" stroke-width="1.25" stroke-linejoin="round"/>
<path d="M398.9 926.6l.9 .1 .9 .1 .9-.1 .9 0 .9-.1 .9-.4 1-.1 .9 .9 .9-.6 .9-.5 .9 .4 .9-.2 .9 .1 .9-.3 .9 .3 .9 .1 .9-.1 .9 .1 .9-.3 1 .4 .9-.3 .9-.2 .9 .3 .9 .4 .9-.9 .9-.5 .9 .2 .9 .6 .9-.1 .9 .3 .9 .2 .9-.3 1 .2 .9-.3 .9 .6 .9 .3 .9 .9 .9 0 .9-.2 .9 .3 .9 .3 .9 1.1 .9 .7 .9 .3 .9-.2 1 .8 .9 .7 .9 .4 .9-.2 .9 .4 .9 .6 .9 .7 .9-.7 .9 .7 .9 .1 .9-.1 .9 .9 .9 .3 1-.7 .9 .4 .9-.2 .9 .1 .9 0 .9 .4 .9-.8 .9-.4 .9-.4 .9 .3 .9-1 .9-.6 .9 .5 1-.3 .9-.4 .9-.2 .9-.6 .9 .3 .9 .2 .9-.2 .9 .1 .9-.3 .9-.2 .9-.7 .9-.7 .9-.2 1 .7 .9-.4 .9 .3 .9 0 .9-.1 .9 .1 .9-.2 .9-1 .9 .8 .9 .1 .9 .1 .9-.6 .9-.9 1 .6 .9 .3 .9 .1 .9 .1 .9-.4 .9-.7 .9 .6 .9-.8 .9 .6 .9-.9 .9-.3 .9-.3 .9 .9 1-.5 .9-.5 .9 .1 .9 .7 .9-.5 .9-.1 .9-.4 .9-.2 .9 .3 .9 .7 .9-.4 .9 .4 .9-.9 1-.1 .9 .7 .9-.8 .9-.2 .9-.1 .9 .5 .9 .1" fill="none" stroke="#2ad6c4" stroke-width="1.25" stroke-linejoin="round"/>
</g>
<line x1="417.05" y1="887.45" x2="417.05" y2="980.85" stroke="#4a4a4a" stroke-width="0.95" stroke-dasharray="4,3.55"/>
<text x="416.05" y="879.05" font-size="4.0" fill="#a0a0a0" >Stimulus</text>
<text x="416.05" y="884.86" font-size="4.0" fill="#a0a0a0" >Onset</text>
<text x="399.10" y="948.08" font-size="3.8" fill="#333333" >HC MSB-</text>
<text x="399.10" y="955.83" font-size="3.8" fill="#333333" >HC MSB+</text>
<text x="399.10" y="963.58" font-size="3.8" fill="#333333" >MSB- MSB+</text>
<path d="M398.9 872.4H516.9M398.9 980.9H516.9" stroke="#6e6e6e" stroke-width="0.8"/>
<path d="M398.9 872.4V980.9M516.9 872.4V980.9" stroke="#9e9e9e" stroke-width="0.7"/>
<path d="M398.9 980.9v-1.3M398.9 872.4v1.3M417.1 980.9v-1.3M417.1 872.4v1.3M435.2 980.9v-1.3M435.2 872.4v1.3M453.4 980.9v-1.3M453.4 872.4v1.3M471.5 980.9v-1.3M471.5 872.4v1.3M489.7 980.9v-1.3M489.7 872.4v1.3M507.8 980.9v-1.3M507.8 872.4v1.3M398.9 973.1h1.3M516.9 973.1h-1.3M398.9 957.6h1.3M516.9 957.6h-1.3M398.9 942.1h1.3M516.9 942.1h-1.3M398.9 926.6h1.3M516.9 926.6h-1.3M398.9 911.1h1.3M516.9 911.1h-1.3M398.9 895.6h1.3M516.9 895.6h-1.3M398.9 880.1h1.3M516.9 880.1h-1.3" stroke="#444" stroke-width="0.6" fill="none"/>
<text x="396.50" y="975.69" font-size="7.2" text-anchor="end" fill="#262626" >-0.6</text>
<text x="396.50" y="960.19" font-size="7.2" text-anchor="end" fill="#262626" >-0.4</text>
<text x="396.50" y="944.69" font-size="7.2" text-anchor="end" fill="#262626" >-0.2</text>
<text x="396.50" y="929.19" font-size="7.2" text-anchor="end" fill="#262626" >0</text>
<text x="396.50" y="913.69" font-size="7.2" text-anchor="end" fill="#262626" >0.2</text>
<text x="396.50" y="898.19" font-size="7.2" text-anchor="end" fill="#262626" >0.4</text>
<text x="396.50" y="882.69" font-size="7.2" text-anchor="end" fill="#262626" >0.6</text>
<text x="398.90" y="990.57" font-size="7.2" text-anchor="middle" fill="#262626" >-0.2</text>
<text x="417.05" y="990.57" font-size="7.2" text-anchor="middle" fill="#262626" >0</text>
<text x="435.21" y="990.57" font-size="7.2" text-anchor="middle" fill="#262626" >0.2</text>
<text x="453.36" y="990.57" font-size="7.2" text-anchor="middle" fill="#262626" >0.4</text>
<text x="471.52" y="990.57" font-size="7.2" text-anchor="middle" fill="#262626" >0.6</text>
<text x="489.67" y="990.57" font-size="7.2" text-anchor="middle" fill="#262626" >0.8</text>
<text x="507.82" y="990.57" font-size="7.2" text-anchor="middle" fill="#262626" >1</text>
<text x="457.90" y="999.21" font-size="7.416" text-anchor="middle" fill="#262626" >Time (s)</text>
<text x="381.30" y="926.60" font-size="7.5" text-anchor="middle" fill="#262626" transform="rotate(-90 381.30 926.60)">Occupancy level (a.u.)</text>
<text x="457.90" y="869.55" font-size="8.928" text-anchor="middle" font-weight="bold" fill="#000" >1 back D</text>
<rect x="481.04" y="876.15" width="31.86" height="19.53" fill="#fff" stroke="#6a6a6a" stroke-width="0.6" />
<line x1="482.04" y1="879.86" x2="495.70" y2="879.86" stroke="#e87a7a" stroke-width="1.3" />
<text x="497.61" y="881.56" font-size="4.8" fill="#262626" >HC</text>
<line x1="482.04" y1="885.91" x2="495.70" y2="885.91" stroke="#1f7ff0" stroke-width="1.3" />
<text x="497.61" y="887.62" font-size="4.8" fill="#262626" >MSB-</text>
<line x1="482.04" y1="891.97" x2="495.70" y2="891.97" stroke="#2ad6c4" stroke-width="1.3" />
<text x="497.61" y="893.67" font-size="4.8" fill="#262626" >MSB+</text>
<path d="M571.7 872.4V980.9M589.8 872.4V980.9M608.0 872.4V980.9M626.1 872.4V980.9M644.3 872.4V980.9M662.4 872.4V980.9M553.5 973.1H671.5M553.5 957.6H671.5M553.5 942.1H671.5M553.5 911.1H671.5M553.5 895.6H671.5M553.5 880.1H671.5M553.5 926.6H671.5" stroke="#e6e6e6" stroke-width="0.6" fill="none"/>
<clipPath id="cp305"><rect x="553.50" y="872.35" width="118.00" height="108.50"/></clipPath>
<g clip-path="url(#cp305)">
<path d="M553.5 923.3l.9 .3 .9 0 .9-1.1 .9 .9 .9 1.1 .9-1.6 1 .3 .9 .4 .9-.9 .9 .8 .9-.2 .9-.3 .9 .1 .9-.4 .9 1 .9-.4 .9-1 .9 .5 .9 0 1 .3 .9 0 .9-1.3 .9-.2 .9 1.3 .9-.9 .9 .1 .9-.3 .9-.8 .9 .8 .9 .1 .9 .3 .9-1 1 .4 .9-.2 .9-.2 .9 1.2 .9 .5 .9-.4 .9-.7 .9 1.1 .9 .5 .9-.2 .9 .1 .9 .2 .9 .5 1 .5 .9-1.2 .9 .2 .9 1.3 .9-1.6 .9 .6 .9 0 .9-.1 .9 .7 .9 .4 .9 .8 .9 .1 .9 .6 1-1.1 .9 .3 .9-.9 .9 1.1 .9 .2 .9 .7 .9-.8 .9 .2 .9 .2 .9-1.2 .9 1.4 .9-1.1 .9 .2 1-.5 .9 .4 .9-.6 .9-.2 .9 .1 .9-.7 .9-.7 .9 .9 .9-1.1 .9 1.1 .9-.6 .9 1.3 .9-.7 1-.4 .9-.9 .9 .6 .9 1 .9-1.7 .9 .8 .9 0 .9 .4 .9-.5 .9-.8 .9 1.2 .9-.1 .9-.2 1 1.5 .9 0 .9-1.2 .9-1.2 .9-.5 .9 .5 .9-.7 .9 1.1 .9-1.1 .9 1.2 .9-.7 .9 .8 .9 .6 1-1.3 .9 .1 .9 .2 .9 .6 .9-1.5 .9 .6 .9 0 .9-.7 .9 1.1 .9-.2 .9-.1 .9-.4 .9-.5 1 1.1 .9-.1 .9-.6 .9 .3 .9 .7 .9 .2 .9 .8 0 9.8-.9 .3-.9-.7-.9-.5-.9-.3-.9-.3-.9 1.7-1-1-.9 .5-.9 .5-.9 0-.9-.3-.9-.6-.9 .1-.9 1-.9-.5-.9-.1-.9 .4-.9 0-.9 .1-1-.5-.9 .6-.9-.5-.9-.7-.9 .2-.9-.3-.9 1-.9-.2-.9 .1-.9-.4-.9 .1-.9 1.3-.9-.2-1 .9-.9-1.1-.9-1-.9 .7-.9-.3-.9-.2-.9 .8-.9 .6-.9-.6-.9-.4-.9 1-.9-.8-.9-.3-1 1.2-.9-.6-.9-.6-.9 .4-.9 .6-.9 .3-.9-.4-.9 .1-.9 .5-.9 1-.9-1-.9 .1-.9 0-1 1.1-.9 .3-.9-1.1-.9 .9-.9 .1-.9 .9-.9-.7-.9-.8-.9-.5-.9-.2-.9 .4-.9 0-.9 .2-1 .1-.9 .3-.9-.3-.9-.9-.9 .5-.9-.9-.9 .7-.9-1.8-.9 1.1-.9-.6-.9-.5-.9 .3-.9 .4-1 .5-.9-.5-.9-.5-.9-1.7-.9 .4-.9-.9-.9 .5-.9-.7-.9 .6-.9-.5-.9-.5-.9 .2-.9-.4-1-.5-.9 .5-.9-.6-.9-.4-.9-.5-.9 1.1-.9 .3-.9-.7-.9-.5-.9 .9-.9-.3-.9-.7-.9 .3-1-.5-.9 .9-.9-.8-.9 .5-.9-.1-.9-.9-.9-.1-.9 1.1-.9 .3-.9-.1-.9-.4-.9-.7-.9 .3-1 1-.9-.6-.9-.1-.9-.3-.9 0-.9 .5-.9-.2z" fill="#f59090" fill-opacity="0.13"/>
<path d="M553.5 922.5l.9 .3 .9 .8 .9 .4 .9-.8 .9-.1 .9 .8 1 .7 .9-.1 .9-1.8 .9 1.5 .9-.9 .9 .4 .9 .5 .9-.7 .9-.7 .9 0 .9 .5 .9-.4 .9 0 1-.1 .9 .2 .9-.5 .9-.3 .9-.2 .9 .2 .9 .3 .9-1.2 .9-1.2 .9 .7 .9-.6 .9 .6 .9 .3 1 .9 .9-.1 .9-.4 .9 .6 .9 .8 .9 .1 .9 .2 .9-.3 .9-.6 .9 1.1 .9 .6 .9 1 .9-.6 1-.1 .9 0 .9 1.4 .9-.2 .9 .1 .9 .9 .9 .6 .9-.7 .9-1 .9 .4 .9 .5 .9 .3 .9 .4 1 .3 .9-.8 .9-.1 .9-.1 .9-.6 .9 1 .9-.3 .9-.4 .9-.1 .9-.3 .9 1.3 .9-1.1 .9 .6 1 .1 .9 .1 .9-.7 .9-.4 .9 .9 .9-.5 .9 .3 .9-1.5 .9 .3 .9 .5 .9-1.2 .9 1.7 .9-1.6 1 .9 .9-.5 .9-.1 .9-1 .9 1.5 .9-.4 .9-.6 .9 .7 .9-.7 .9 .6 .9-.6 .9 .3 .9 .4 1-.8 .9-.4 .9 .4 .9-.4 .9 .4 .9 0 .9 .3 .9 0 .9-.6 .9 .4 .9-.5 .9-.3 .9 0 1-.7 .9 1 .9-.9 .9-.1 .9 .2 .9 .1 .9 0 .9 .2 .9-.3 .9-.4 .9 .7 .9-1 .9 .5 1-.6 .9 .5 .9-.1 .9 .6 .9-.2 .9-.1 .9 .1 0 10.6-.9-.7-.9 1-.9 .7-.9-.1-.9-.7-.9-.9-1 .3-.9 .9-.9 .7-.9-.9-.9-.4-.9 .9-.9 .1-.9-.7-.9 .1-.9-.3-.9 .4-.9 .6-.9-.7-1 .4-.9 .3-.9 1-.9-.9-.9 .1-.9 .8-.9-1-.9 .8-.9 0-.9-.2-.9-.7-.9 .4-.9-.2-1 .3-.9 1.3-.9-.3-.9-1.2-.9 1.4-.9-.1-.9-1.2-.9 .4-.9 .2-.9 .2-.9-.6-.9 0-.9 .1-1 .4-.9 .2-.9-.1-.9-.2-.9 .6-.9 .7-.9-.6-.9 .8-.9 0-.9 .2-.9-.7-.9 .7-.9-.9-1 .3-.9 1.3-.9-.7-.9 .2-.9-1.1-.9 .7-.9 1.1-.9-.7-.9-.6-.9 .5-.9-1-.9 .6-.9 1-1-.7-.9 .6-.9 .3-.9-.4-.9-.8-.9 .2-.9-.2-.9-.3-.9 .1-.9 0-.9-1.2-.9 .7-.9-.4-1 .1-.9-1.4-.9-.1-.9-1.5-.9-.2-.9-.1-.9 .2-.9 .2-.9-.7-.9-.9-.9-.3-.9-.7-.9 .7-1-1.7-.9 .7-.9 0-.9 .1-.9-.3-.9-.6-.9 .8-.9 .3-.9-.1-.9-.3-.9 1.1-.9-.2-.9-1.1-1-.1-.9 .9-.9-.6-.9 .7-.9-.2-.9-.8-.9 .7-.9-.5-.9 1.2-.9-1.1-.9 .5-.9-.2-.9 .1-1-.2-.9-.7-.9 1.4-.9 0-.9-.7-.9-.9-.9 .6z" fill="#5c9ff0" fill-opacity="0.12"/>
<path d="M553.5 924.5l.9-.9 .9 .6 .9-.5 .9-.8 .9-.2 .9 .6 1 .6 .9-.1 .9-.6 .9 .1 .9 .3 .9-1.1 .9 1 .9-.9 .9 .6 .9-.9 .9 1.3 .9-.6 .9 .5 1-.7 .9-.4 .9 .7 .9-1.9 .9 .6 .9 .3 .9-.5 .9 .3 .9-1.3 .9-.6 .9 .2 .9 .1 .9 1.7 1 0 .9-.9 .9 .5 .9-.7 .9 .5 .9 1.5 .9-.7 .9 .5 .9 .1 .9 .7 .9-.2 .9 1.1 .9 0 1-.6 .9-.1 .9 .8 .9-.3 .9 1.7 .9-.1 .9-.2 .9 .3 .9-.8 .9 1.2 .9 0 .9 0 .9 .6 1 1.5 .9-.8 .9 .5 .9 1.4 .9-.8 .9-.1 .9 .1 .9-.5 .9 0 .9-.3 .9 .4 .9-1.4 .9 .7 1-.6 .9-.5 .9-.3 .9-1 .9-.3 .9 .8 .9-.1 .9-1.8 .9 .2 .9-.6 .9 .8 .9 1.2 .9-1 1 .3 .9-1.2 .9 .7 .9 0 .9 .2 .9-1.2 .9 .5 .9 .3 .9 .4 .9 .5 .9-1.2 .9 .3 .9 .4 1 .2 .9 .1 .9-.5 .9 .2 .9-.3 .9 0 .9 1.4 .9 .1 .9-.8 .9-.4 .9-.2 .9 .8 .9-.6 1-.5 .9 .3 .9-.7 .9 .1 .9-.3 .9 1 .9 .2 .9-.3 .9-.6 .9 .3 .9 .1 .9-.7 .9 .3 1 .1 .9 .2 .9-1.1 .9 .5 .9 1 .9-1 .9 .8 0 10.1-.9 0-.9 .3-.9-.7-.9 .9-.9-.3-.9 .9-1-.9-.9 .5-.9 .1-.9 .4-.9 0-.9-1.4-.9 .6-.9 .3-.9 .4-.9-1.1-.9 1.1-.9 .1-.9 .5-1-1.1-.9 0-.9 1-.9-1-.9-.3-.9 1.1-.9-.3-.9 .6-.9-.1-.9 .4-.9-.6-.9 .8-.9-1-1-.4-.9-.9-.9 1-.9-.5-.9 1-.9-1.1-.9-.4-.9 .9-.9-.7-.9 .8-.9 .9-.9-1-.9 .1-1-.6-.9 1-.9-.1-.9-.4-.9 1-.9-.6-.9 0-.9 .3-.9-.5-.9 1-.9 .7-.9 .5-.9 0-1 .4-.9 .7-.9 .2-.9 .2-.9 1.4-.9-.8-.9 .6-.9 .6-.9-.8-.9-.5-.9-.9-.9 .5-.9-.5-1 .2-.9-1.1-.9 0-.9-1-.9 .1-.9-.7-.9-.5-.9 1-.9-.9-.9 .6-.9-1.2-.9-.1-.9 .3-1-.2-.9-1.4-.9 .8-.9-1.2-.9-1.3-.9 .8-.9 .3-.9-.8-.9-1-.9-.3-.9-.5-.9 .9-.9-.1-1-1-.9-.1-.9 0-.9-.6-.9 .1-.9 .1-.9 1.2-.9-.7-.9 1-.9-.9-.9-.1-.9 0-.9 0-1 .9-.9-.5-.9-.4-.9-.1-.9 0-.9 0-.9-.6-.9 1.3-.9-1.4-.9-.1-.9 1.6-.9-.8-.9-.3-1 .3-.9-.1-.9 .5-.9-.1-.9-.4-.9 .9-.9-1z" fill="#40d8e8" fill-opacity="0.13"/>
<path d="M553.5 926.6l.9 .3 .9-.3 .9-.6 .9 .7 .9 .5 .9-.5 1-.3 .9 0 .9-.1 .9 .7 .9-.1 .9-.3 .9-.5 .9-.1 .9 .9 .9-.2 .9-.7 .9 .6 .9-.4 1 .4 .9-.2 .9-.2 .9 0 .9 .2 .9-.2 .9 .4 .9-.3 .9-1 .9 .7 .9 .3 .9 .4 .9-.8 1 .5 .9 .1 .9-.2 .9 .8 .9 .6 .9-.6 .9 0 .9 .3 .9 .7 .9-.2 .9 .9 .9 .3 .9 .5 1 0 .9-.8 .9-.1 .9 1 .9-.6 .9-.2 .9 .9 .9-.4 .9 .8 .9-.1 .9 .9 .9 .2 .9 .1 1-.5 .9 0 .9-.5 .9 .4 .9 .2 .9 .6 .9 0 .9 .5 .9-.4 .9-.6 .9 .2 .9 0 .9 0 1-.9 .9 .2 .9-.3 .9 .4 .9-.5 .9-.6 .9-.3 .9 .6 .9-.7 .9 .3 .9-.6 .9 1 .9-.1 1-.8 .9-.2 .9 .7 .9 0 .9-.7 .9 .7 .9-.3 .9-.2 .9-.2 .9-.2 .9 .3 .9 .4 .9 .5 1 .2 .9 .1 .9-1.2 .9-.6 .9-.1 .9 .2 .9-.3 .9 .1 .9-.4 .9 .5 .9 0 .9 .7 .9-.1 1-.4 .9 .1 .9 0 .9 .1 .9-.6 .9 .5 .9-.5 .9-.4 .9 .9 .9 0 .9 0 .9-.5 .9-.5 1 1 .9-.8 .9-.2 .9 .3 .9 .6 .9 .5 .9 .2" fill="none" stroke="#cf6e6e" stroke-width="1.25" stroke-linejoin="round"/>
<path d="M553.5 926.2l.9-.2 .9 .8 .9 .6 .9-.4 .9-.8 .9 .8 1 .5 .9-.1 .9-.9 .9 .5 .9 .2 .9-.4 .9 .5 .9-.7 .9 0 .9 .1 .9-.1 .9 .1 .9-.4 1 0 .9 .6 .9-.2 .9-.7 .9 .1 .9 .2 .9-.1 .9-.9 .9-.4 .9 .5 .9-.3 .9 .3 .9-.2 1 1.3 .9-.4 .9 .2 .9 .4 .9 .8 .9 .4 .9 .1 .9-.3 .9-.2 .9 .6 .9 1.1 .9 .5 .9 .4 1-.1 .9 .2 .9 .4 .9 .5 .9 0 .9 .4 .9 .4 .9-.2 .9-.6 .9 .6 .9 .4 .9 0 .9-.1 1 .5 .9-.9 .9-.3 .9 .4 .9-.5 .9 .8 .9 .2 .9-.7 .9-.4 .9 .3 .9 .6 .9-.2 .9-.4 1-.1 .9 .5 .9-.6 .9 .1 .9 .3 .9-.2 .9-.3 .9-.4 .9-.2 .9-.1 .9-.4 .9 .8 .9-.8 1 .2 .9-.3 .9-.1 .9-.1 .9 .6 .9-.3 .9-.5 .9 .9 .9-.2 .9-.5 .9 .4 .9 .2 .9-.4 1-.6 .9 0 .9-.1 .9 .2 .9 .3 .9 0 .9-.3 .9 .6 .9-.8 .9 .2 .9 .2 .9-.7 .9-.1 1-.5 .9 .8 .9-.7 .9-.3 .9 .2 .9 0 .9 .4 .9 0 .9-.5 .9 0 .9 .8 .9-.9 .9-.2 1-.4 .9 .7 .9 .3 .9 .3 .9-.4 .9-.6 .9 .4" fill="none" stroke="#1f7ff0" stroke-width="1.25" stroke-linejoin="round"/>
<path d="M553.5 927.2l.9 .1 .9-.2 .9-.1 .9-.3 .9-.4 .9 .4 1 .1 .9 .2 .9 .1 .9-.8 .9 .2 .9 .2 .9-.2 .9-.2 .9 .4 .9-.5 .9 .7 .9-.1 .9 .5 1-.8 .9-.2 .9 .4 .9-1 .9 .8 .9-.4 .9 .2 .9-.5 .9-.7 .9-.4 .9 .5 .9 0 .9 .9 1 .5 .9-.4 .9-.2 .9-.1 .9 .4 .9 1.3 .9 0 .9 .1 .9-.3 .9 .9 .9 .6 .9 .1 .9 .7 1-.2 .9-.2 .9 .5 .9 .4 .9 .6 .9 .3 .9-.6 .9 .4 .9 0 .9 .5 .9 .6 .9 0 .9 .8 1 .6 .9-.1 .9 0 .9 1.2 .9-.2 .9 .3 .9-.2 .9-.5 .9 .4 .9-.9 .9 .1 .9-.8 .9 0 1-.5 .9-.2 .9-.5 .9-.8 .9-.7 .9 .7 .9-.2 .9-.9 .9 .4 .9-.8 .9 .6 .9 .6 .9-.9 1 .4 .9-.7 .9 .9 .9-.4 .9-.3 .9-.3 .9-.2 .9 .3 .9 .8 .9-.2 .9-.4 .9-.3 .9 .6 1 .3 .9 .5 .9-.6 .9 .4 .9-.3 .9 0 .9 .4 .9 .2 .9-.9 .9-.1 .9 .4 .9-.1 .9-.3 1 .3 .9-.1 .9-.4 .9-.5 .9 .4 .9 .3 .9 0 .9-.5 .9 .4 .9 .2 .9-.2 .9-.4 .9-.1 1 .5 .9-.4 .9-.4 .9-.1 .9 .8 .9-.6 .9 .4" fill="none" stroke="#2ad6c4" stroke-width="1.25" stroke-linejoin="round"/>
</g>
<line x1="571.65" y1="887.45" x2="571.65" y2="980.85" stroke="#4a4a4a" stroke-width="0.95" stroke-dasharray="4,3.55"/>
<text x="570.65" y="879.05" font-size="4.0" fill="#a0a0a0" >Stimulus</text>
<text x="570.65" y="884.86" font-size="4.0" fill="#a0a0a0" >Onset</text>
<text x="553.70" y="948.08" font-size="3.8" fill="#333333" >HC MSB-</text>
<text x="553.70" y="955.83" font-size="3.8" fill="#333333" >HC MSB+</text>
<text x="553.70" y="963.58" font-size="3.8" fill="#333333" >MSB- MSB+</text>
<path d="M553.5 872.4H671.5M553.5 980.9H671.5" stroke="#6e6e6e" stroke-width="0.8"/>
<path d="M553.5 872.4V980.9M671.5 872.4V980.9" stroke="#9e9e9e" stroke-width="0.7"/>
<path d="M553.5 980.9v-1.3M553.5 872.4v1.3M571.7 980.9v-1.3M571.7 872.4v1.3M589.8 980.9v-1.3M589.8 872.4v1.3M608.0 980.9v-1.3M608.0 872.4v1.3M626.1 980.9v-1.3M626.1 872.4v1.3M644.3 980.9v-1.3M644.3 872.4v1.3M662.4 980.9v-1.3M662.4 872.4v1.3M553.5 973.1h1.3M671.5 973.1h-1.3M553.5 957.6h1.3M671.5 957.6h-1.3M553.5 942.1h1.3M671.5 942.1h-1.3M553.5 926.6h1.3M671.5 926.6h-1.3M553.5 911.1h1.3M671.5 911.1h-1.3M553.5 895.6h1.3M671.5 895.6h-1.3M553.5 880.1h1.3M671.5 880.1h-1.3" stroke="#444" stroke-width="0.6" fill="none"/>
<text x="551.10" y="975.69" font-size="7.2" text-anchor="end" fill="#262626" >-0.6</text>
<text x="551.10" y="960.19" font-size="7.2" text-anchor="end" fill="#262626" >-0.4</text>
<text x="551.10" y="944.69" font-size="7.2" text-anchor="end" fill="#262626" >-0.2</text>
<text x="551.10" y="929.19" font-size="7.2" text-anchor="end" fill="#262626" >0</text>
<text x="551.10" y="913.69" font-size="7.2" text-anchor="end" fill="#262626" >0.2</text>
<text x="551.10" y="898.19" font-size="7.2" text-anchor="end" fill="#262626" >0.4</text>
<text x="551.10" y="882.69" font-size="7.2" text-anchor="end" fill="#262626" >0.6</text>
<text x="553.50" y="990.57" font-size="7.2" text-anchor="middle" fill="#262626" >-0.2</text>
<text x="571.65" y="990.57" font-size="7.2" text-anchor="middle" fill="#262626" >0</text>
<text x="589.81" y="990.57" font-size="7.2" text-anchor="middle" fill="#262626" >0.2</text>
<text x="607.96" y="990.57" font-size="7.2" text-anchor="middle" fill="#262626" >0.4</text>
<text x="626.12" y="990.57" font-size="7.2" text-anchor="middle" fill="#262626" >0.6</text>
<text x="644.27" y="990.57" font-size="7.2" text-anchor="middle" fill="#262626" >0.8</text>
<text x="662.42" y="990.57" font-size="7.2" text-anchor="middle" fill="#262626" >1</text>
<text x="612.50" y="999.21" font-size="7.416" text-anchor="middle" fill="#262626" >Time (s)</text>
<text x="535.90" y="926.60" font-size="7.5" text-anchor="middle" fill="#262626" transform="rotate(-90 535.90 926.60)">Occupancy level (a.u.)</text>
<text x="612.50" y="869.55" font-size="8.928" text-anchor="middle" font-weight="bold" fill="#000" >2 back D</text>
<rect x="635.64" y="876.15" width="31.86" height="19.53" fill="#fff" stroke="#6a6a6a" stroke-width="0.6" />
<line x1="636.64" y1="879.86" x2="650.30" y2="879.86" stroke="#e87a7a" stroke-width="1.3" />
<text x="652.21" y="881.56" font-size="4.8" fill="#262626" >HC</text>
<line x1="636.64" y1="885.91" x2="650.30" y2="885.91" stroke="#1f7ff0" stroke-width="1.3" />
<text x="652.21" y="887.62" font-size="4.8" fill="#262626" >MSB-</text>
<line x1="636.64" y1="891.97" x2="650.30" y2="891.97" stroke="#2ad6c4" stroke-width="1.3" />
<text x="652.21" y="893.67" font-size="4.8" fill="#262626" >MSB+</text>
<path d="M34.2 93.8l0-53.2 1.6 1.3 1.5 2.8 1.6 4 1.5 6.2 1.6 5.8 1.5 5.5 1.6 5 1.5 4.6 1.6 3.9 1.5 3.4 1.6 3.1 1.5 2.5 1.6 2 1.6 1.4 1.5 .9 1.6 .6 1.5 .2 1.6 0 1.5 0 1.6 0 1.5 0 1.6 0 1.5 0 1.6 0 1.5 0 1.6 0 1.6 0 1.5 0 1.6 0 1.5 0 1.6 0 1.5 0 1.6 0 1.5 0 1.6 0 1.5 0 1.6 0 1.5 0 1.6 0 1.6 0 1.5 0 1.6 0 1.5 0 1.6 0 1.5 0 1.6 0 1.5 0 1.6 0 1.5 0 1.6 0 1.5 0 1.6 0 1.6 0 1.5 0 1.6 0 1.5 0 1.6 0 1.5 0 1.6 0 1.5 0 1.6 0 1.5 0 1.6 0 1.5 0 1.6 0 1.6 0 1.5 0 1.6 0 1.5 0 1.6 0 1.5-.6 1.6-1.1 1.5-1.6 1.6-1.8 1.5-2.1 1.6-2.4 1.5-2.8 1.6-2.3 0 14.7z" fill="#dcb47f" fill-opacity="0.26"/>
<path d="M34.2 93.8l0 0 1.6-.2 1.5-.4 1.6-.7 1.5-1 1.6-.9 1.5-.7 1.6-.6 1.5-.2 1.6 .2 1.5 .4 1.6 .8 1.5 .8 1.6 .7 1.6 .7 1.5 .5 1.6 .4 1.5 .2 1.6 0 1.5 0 1.6-.2 1.5-1.3 1.6-1.9 1.5-2.2 1.6-2.3 1.5-2.3 1.6-2.2 1.6-1.8 1.5-1.6 1.6-1.5 1.5-1.3 1.6-.9 1.5-.6 1.6-.3 1.5-.1 1.6-.1 1.5-.1 1.6-.1 1.5-.1 1.6 0 1.6 0 1.5 0 1.6 0 1.5 0 1.6-.1 1.5-.1 1.6 0 1.5 .1 1.6 .4 1.5 .5 1.6 .9 1.5 1.4 1.6 1.4 1.6 1 1.5 .7 1.6 .7 1.5 .7 1.6 .6 1.5 .5 1.6 .4 1.5 .4 1.6 .4 1.5 .3 1.6 .3 1.5 .3 1.6 .2 1.6 .3 1.5 .4 1.6 .4 1.5 .5 1.6 .6 1.5 .7 1.6 .8 1.5 .8 1.6 .9 1.5 1.1 1.6 1.1 1.5 1 1.6 .7 0 .6z" fill="#dcb47f" fill-opacity="0.26"/>
<path d="M34.2 93.8l0 0 1.6 0 1.5 0 1.6 0 1.5 0 1.6 0 1.5 0 1.6 0 1.5 0 1.6 0 1.5 0 1.6 0 1.5 0 1.6 0 1.6 0 1.5 0 1.6 0 1.5 0 1.6 0 1.5 0 1.6 0 1.5 0 1.6 0 1.5 0 1.6 0 1.5 0 1.6 0 1.6 0 1.5 0 1.6 0 1.5 0 1.6 0 1.5 0 1.6 0 1.5 0 1.6 0 1.5 0 1.6 0 1.5 0 1.6 0 1.6 0 1.5-.3 1.6-.8 1.5-1.5 1.6-1.9 1.5-2.2 1.6-2.3 1.5-2.3 1.6-2.2 1.5-2.1 1.6-1.9 1.5-1.6 1.6-1.6 1.6-1.5 1.5-1.5 1.6-1.5 1.5-1.4 1.6-1.4 1.5-1.3 1.6-1.3 1.5-1.3 1.6-1.3 1.5-1.2 1.6-1.2 1.5-1.1 1.6-1.1 1.6-1.1 1.5-1 1.6-.9 1.5-.9 1.6-.6 1.5-.4 1.6-.2 1.5 0 1.6 .3 1.5 .4 1.6 .7 1.5 1.1 1.6 .9 0 39.5z" fill="#dcb47f" fill-opacity="0.26"/>
<path d="M34.2 93.8l0 0 1.6 0 1.5 0 1.6 0 1.5-.6 1.6-1.6 1.5-2.3 1.6-3.1 1.5-3.7 1.6-4.3 1.5-4.7 1.6-5.1 1.5-5.1 1.6-4.7 1.6-4.3 1.5-3.5 1.6-2.7 1.5-1.5 1.6-.4 1.5 .8 1.6 1.7 1.5 2.5 1.6 3.1 1.5 3.4 1.6 3.4 1.5 3 1.6 2.6 1.6 2.2 1.5 1.8 1.6 1.3 1.5 .9 1.6 .7 1.5 .5 1.6 .3 1.5 .4 1.6 .7 1.5 .8 1.6 .9 1.5 1 1.6 1.2 1.6 1.4 1.5 1.7 1.6 1.7 1.5 1.7 1.6 1.7 1.5 1.5 1.6 1.3 1.5 1.3 1.6 1 1.5 .6 1.6 .3 1.5 .2 1.6 0 1.6 0 1.5 0 1.6 0 1.5 0 1.6 0 1.5 0 1.6 0 1.5 0 1.6 0 1.5 0 1.6 0 1.5 0 1.6 0 1.6 0 1.5 0 1.6 0 1.5-.1 1.6-.4 1.5-.4 1.6-.6 1.5-.5 1.6-.6 1.5-.5 1.6-.5 1.5-.6 1.6-.5 0 4.7z" fill="#dcb47f"/>
<path d="M34.2 93.8l1.6 0 1.5 0 1.6 0 1.5-.6 1.6-1.6 1.5-2.3 1.6-3.1 1.5-3.7 1.6-4.3 1.5-4.7 1.6-5.1 1.5-5.1 1.6-4.7 1.6-4.3 1.5-3.5 1.6-2.7 1.5-1.5 1.6-.4 1.5 .8 1.6 1.7 1.5 2.5 1.6 3.1 1.5 3.4 1.6 3.4 1.5 3 1.6 2.6 1.6 2.2 1.5 1.8 1.6 1.3 1.5 .9 1.6 .7 1.5 .5 1.6 .3 1.5 .4 1.6 .7 1.5 .8 1.6 .9 1.5 1 1.6 1.2 1.6 1.4 1.5 1.7 1.6 1.7 1.5 1.7 1.6 1.7 1.5 1.5 1.6 1.3 1.5 1.3 1.6 1 1.5 .6 1.6 .3 1.5 .2 1.6 0 1.6 0 1.5 0 1.6 0 1.5 0 1.6 0 1.5 0 1.6 0 1.5 0 1.6 0 1.5 0 1.6 0 1.5 0 1.6 0 1.6 0 1.5 0 1.6 0 1.5-.1 1.6-.4 1.5-.4 1.6-.6 1.5-.5 1.6-.6 1.5-.5 1.6-.5 1.5-.6 1.6-.5" fill="none" stroke="#3a3a3a" stroke-width="0.45" stroke-linejoin="round"/>
<line x1="34.20" y1="93.80" x2="155.40" y2="93.80" stroke="#d0d0d0" stroke-width="0.6" />
<line x1="34.20" y1="93.80" x2="34.20" y2="37.40" stroke="#d0d0d0" stroke-width="0.6" />
<text x="31.00" y="95.56" font-size="4.9" text-anchor="middle" fill="#333" >0</text>
<line x1="34.20" y1="93.80" x2="35.20" y2="93.80" stroke="#888" stroke-width="0.4" />
<text x="31.00" y="84.28" font-size="4.9" text-anchor="middle" fill="#333" >1</text>
<line x1="34.20" y1="82.52" x2="35.20" y2="82.52" stroke="#888" stroke-width="0.4" />
<text x="31.00" y="73.00" font-size="4.9" text-anchor="middle" fill="#333" >2</text>
<line x1="34.20" y1="71.24" x2="35.20" y2="71.24" stroke="#888" stroke-width="0.4" />
<text x="31.00" y="61.72" font-size="4.9" text-anchor="middle" fill="#333" >3</text>
<line x1="34.20" y1="59.96" x2="35.20" y2="59.96" stroke="#888" stroke-width="0.4" />
<text x="31.00" y="50.44" font-size="4.9" text-anchor="middle" fill="#333" >4</text>
<line x1="34.20" y1="48.68" x2="35.20" y2="48.68" stroke="#888" stroke-width="0.4" />
<text x="31.00" y="39.16" font-size="4.9" text-anchor="middle" fill="#333" >5</text>
<line x1="34.20" y1="37.40" x2="35.20" y2="37.40" stroke="#888" stroke-width="0.4" />
<text x="46.63" y="100.41" font-size="4.9" text-anchor="middle" fill="#333" >5</text>
<text x="62.17" y="100.41" font-size="4.9" text-anchor="middle" fill="#333" >10</text>
<text x="77.71" y="100.41" font-size="4.9" text-anchor="middle" fill="#333" >15</text>
<text x="93.25" y="100.41" font-size="4.9" text-anchor="middle" fill="#333" >20</text>
<text x="108.78" y="100.41" font-size="4.9" text-anchor="middle" fill="#333" >25</text>
<text x="124.32" y="100.41" font-size="4.9" text-anchor="middle" fill="#333" >30</text>
<text x="139.86" y="100.41" font-size="4.9" text-anchor="middle" fill="#333" >35</text>
<text x="155.40" y="100.41" font-size="4.9" text-anchor="middle" fill="#333" >40</text>
<text x="78.00" y="105.60" font-size="5.0" fill="#333" textLength="34.00" lengthAdjust="spacingAndGlyphs" >Frequency (Hz)</text>
<text x="72.50" y="35.30" font-size="6.0" font-weight="bold" fill="#111" textLength="44.30" lengthAdjust="spacingAndGlyphs" >Spectral Mode2</text>
<path d="M40.3 428.3l0-53.1 1.6 1.3 1.5 2.8 1.6 4 1.5 6.2 1.6 5.7 1.6 5.5 1.5 5 1.6 4.6 1.5 3.9 1.6 3.4 1.5 3.1 1.6 2.5 1.6 2 1.5 1.4 1.6 .9 1.5 .6 1.6 .2 1.6 0 1.5 0 1.6 0 1.5 0 1.6 0 1.6 0 1.5 0 1.6 0 1.5 0 1.6 0 1.6 0 1.5 0 1.6 0 1.5 0 1.6 0 1.5 0 1.6 0 1.6 0 1.5 0 1.6 0 1.5 0 1.6 0 1.6 0 1.5 0 1.6 0 1.5 0 1.6 0 1.6 0 1.5 0 1.6 0 1.5 0 1.6 0 1.5 0 1.6 0 1.6 0 1.5 0 1.6 0 1.5 0 1.6 0 1.6 0 1.5 0 1.6 0 1.5 0 1.6 0 1.6 0 1.5 0 1.6 0 1.5 0 1.6 0 1.6 0 1.5 0 1.6 0 1.5 0 1.6-.6 1.5-1.1 1.6-1.6 1.6-1.8 1.5-2.1 1.6-2.4 1.5-2.8 1.6-2.2 0 14.6z" fill="#dcb47f" fill-opacity="0.26"/>
<path d="M40.3 428.3l0 0 1.6 0 1.5 0 1.6 0 1.5-.6 1.6-1.5 1.6-2.4 1.5-3.1 1.6-3.7 1.5-4.3 1.6-4.7 1.5-5 1.6-5.1 1.6-4.8 1.5-4.2 1.6-3.5 1.5-2.7 1.6-1.5 1.6-.4 1.5 .7 1.6 1.8 1.5 2.5 1.6 3.1 1.6 3.4 1.5 3.3 1.6 3 1.5 2.7 1.6 2.2 1.6 1.7 1.5 1.3 1.6 1 1.5 .6 1.6 .5 1.5 .4 1.6 .4 1.6 .6 1.5 .8 1.6 .9 1.5 1.1 1.6 1.2 1.6 1.4 1.5 1.6 1.6 1.7 1.5 1.8 1.6 1.6 1.6 1.5 1.5 1.3 1.6 1.3 1.5 1 1.6 .6 1.5 .3 1.6 .2 1.6 0 1.5 0 1.6 0 1.5 0 1.6 0 1.6 0 1.5 0 1.6 0 1.5 0 1.6 0 1.6 0 1.5 0 1.6 0 1.5 0 1.6 0 1.6 0 1.5 0 1.6-.1 1.5-.4 1.6-.4 1.5-.6 1.6-.5 1.6-.6 1.5-.5 1.6-.5 1.5-.6 1.6-.5 0 4.7z" fill="#dcb47f" fill-opacity="0.26"/>
<path d="M40.3 428.3l0 0 1.6 0 1.5 0 1.6 0 1.5 0 1.6 0 1.6 0 1.5 0 1.6 0 1.5 0 1.6 0 1.5 0 1.6 0 1.6 0 1.5 0 1.6 0 1.5 0 1.6 0 1.6 0 1.5 0 1.6 0 1.5 0 1.6 0 1.6 0 1.5 0 1.6 0 1.5 0 1.6 0 1.6 0 1.5 0 1.6 0 1.5 0 1.6 0 1.5 0 1.6 0 1.6 0 1.5 0 1.6 0 1.5 0 1.6 0 1.6 0 1.5-.3 1.6-.8 1.5-1.5 1.6-1.9 1.6-2.2 1.5-2.3 1.6-2.3 1.5-2.2 1.6-2.1 1.5-1.9 1.6-1.6 1.6-1.6 1.5-1.5 1.6-1.4 1.5-1.5 1.6-1.4 1.6-1.4 1.5-1.4 1.6-1.3 1.5-1.3 1.6-1.2 1.6-1.2 1.5-1.2 1.6-1.2 1.5-1.1 1.6-1 1.6-1.1 1.5-.9 1.6-.8 1.5-.6 1.6-.4 1.5-.2 1.6 0 1.6 .2 1.5 .5 1.6 .7 1.5 1 1.6 1 0 39.4z" fill="#dcb47f" fill-opacity="0.26"/>
<path d="M40.3 428.3l0 0 1.6-.2 1.5-.4 1.6-.7 1.5-1 1.6-.9 1.6-.7 1.5-.6 1.6-.2 1.5 .2 1.6 .4 1.5 .8 1.6 .8 1.6 .7 1.5 .7 1.6 .5 1.5 .4 1.6 .2 1.6 0 1.5 0 1.6-.2 1.5-1.3 1.6-1.9 1.6-2.1 1.5-2.4 1.6-2.3 1.5-2.2 1.6-1.8 1.6-1.6 1.5-1.5 1.6-1.3 1.5-.9 1.6-.5 1.5-.4 1.6-.1 1.6-.1 1.5-.1 1.6-.1 1.5 0 1.6 0 1.6 0 1.5 0 1.6 0 1.5-.1 1.6-.1 1.6 0 1.5-.1 1.6 .2 1.5 .3 1.6 .6 1.5 .9 1.6 1.4 1.6 1.4 1.5 .9 1.6 .8 1.5 .7 1.6 .6 1.6 .6 1.5 .5 1.6 .5 1.5 .3 1.6 .4 1.6 .3 1.5 .3 1.6 .3 1.5 .2 1.6 .3 1.6 .4 1.5 .4 1.6 .5 1.5 .6 1.6 .7 1.5 .8 1.6 .8 1.6 .9 1.5 1.1 1.6 1.1 1.5 1 1.6 .7 0 .6z" fill="#dcb47f"/>
<path d="M40.3 428.3l1.6-.2 1.5-.4 1.6-.7 1.5-1 1.6-.9 1.6-.7 1.5-.6 1.6-.2 1.5 .2 1.6 .4 1.5 .8 1.6 .8 1.6 .7 1.5 .7 1.6 .5 1.5 .4 1.6 .2 1.6 0 1.5 0 1.6-.2 1.5-1.3 1.6-1.9 1.6-2.1 1.5-2.4 1.6-2.3 1.5-2.2 1.6-1.8 1.6-1.6 1.5-1.5 1.6-1.3 1.5-.9 1.6-.5 1.5-.4 1.6-.1 1.6-.1 1.5-.1 1.6-.1 1.5 0 1.6 0 1.6 0 1.5 0 1.6 0 1.5-.1 1.6-.1 1.6 0 1.5-.1 1.6 .2 1.5 .3 1.6 .6 1.5 .9 1.6 1.4 1.6 1.4 1.5 .9 1.6 .8 1.5 .7 1.6 .6 1.6 .6 1.5 .5 1.6 .5 1.5 .3 1.6 .4 1.6 .3 1.5 .3 1.6 .3 1.5 .2 1.6 .3 1.6 .4 1.5 .4 1.6 .5 1.5 .6 1.6 .7 1.5 .8 1.6 .8 1.6 .9 1.5 1.1 1.6 1.1 1.5 1 1.6 .7" fill="none" stroke="#3a3a3a" stroke-width="0.45" stroke-linejoin="round"/>
<line x1="40.30" y1="428.30" x2="161.90" y2="428.30" stroke="#d0d0d0" stroke-width="0.6" />
<line x1="40.30" y1="428.30" x2="40.30" y2="372.00" stroke="#d0d0d0" stroke-width="0.6" />
<text x="37.10" y="430.06" font-size="4.9" text-anchor="middle" fill="#333" >0</text>
<line x1="40.30" y1="428.30" x2="41.30" y2="428.30" stroke="#888" stroke-width="0.4" />
<text x="37.10" y="418.80" font-size="4.9" text-anchor="middle" fill="#333" >1</text>
<line x1="40.30" y1="417.04" x2="41.30" y2="417.04" stroke="#888" stroke-width="0.4" />
<text x="37.10" y="407.54" font-size="4.9" text-anchor="middle" fill="#333" >2</text>
<line x1="40.30" y1="405.78" x2="41.30" y2="405.78" stroke="#888" stroke-width="0.4" />
<text x="37.10" y="396.28" font-size="4.9" text-anchor="middle" fill="#333" >3</text>
<line x1="40.30" y1="394.52" x2="41.30" y2="394.52" stroke="#888" stroke-width="0.4" />
<text x="37.10" y="385.02" font-size="4.9" text-anchor="middle" fill="#333" >4</text>
<line x1="40.30" y1="383.26" x2="41.30" y2="383.26" stroke="#888" stroke-width="0.4" />
<text x="37.10" y="373.76" font-size="4.9" text-anchor="middle" fill="#333" >5</text>
<line x1="40.30" y1="372.00" x2="41.30" y2="372.00" stroke="#888" stroke-width="0.4" />
<text x="52.77" y="434.92" font-size="4.9" text-anchor="middle" fill="#333" >5</text>
<text x="68.36" y="434.92" font-size="4.9" text-anchor="middle" fill="#333" >10</text>
<text x="83.95" y="434.92" font-size="4.9" text-anchor="middle" fill="#333" >15</text>
<text x="99.54" y="434.92" font-size="4.9" text-anchor="middle" fill="#333" >20</text>
<text x="115.13" y="434.92" font-size="4.9" text-anchor="middle" fill="#333" >25</text>
<text x="130.72" y="434.92" font-size="4.9" text-anchor="middle" fill="#333" >30</text>
<text x="146.31" y="434.92" font-size="4.9" text-anchor="middle" fill="#333" >35</text>
<text x="161.90" y="434.92" font-size="4.9" text-anchor="middle" fill="#333" >40</text>
<text x="84.60" y="440.60" font-size="5.0" fill="#333" textLength="34.10" lengthAdjust="spacingAndGlyphs" >Frequency (Hz)</text>
<text x="79.30" y="370.20" font-size="6.0" font-weight="bold" fill="#111" textLength="43.60" lengthAdjust="spacingAndGlyphs" >Spectral Mode3</text>
<path d="M28.7 774.7l0-57.9 1.7 1.5 1.7 3.1 1.7 4.3 1.8 6.7 1.7 6.3 1.7 6 1.7 5.4 1.7 5 1.7 4.2 1.8 3.8 1.7 3.3 1.7 2.8 1.7 2.1 1.7 1.6 1.7 1 1.7 .6 1.8 .2 1.7 0 1.7 0 1.7 0 1.7 0 1.7 0 1.8 0 1.7 0 1.7 0 1.7 0 1.7 0 1.7 0 1.7 0 1.8 0 1.7 0 1.7 0 1.7 0 1.7 0 1.7 0 1.8 0 1.7 0 1.7 0 1.7 0 1.7 0 1.7 0 1.7 0 1.8 0 1.7 0 1.7 0 1.7 0 1.7 0 1.7 0 1.8 0 1.7 0 1.7 0 1.7 0 1.7 0 1.7 0 1.7 0 1.8 0 1.7 0 1.7 0 1.7 0 1.7 0 1.7 0 1.8 0 1.7 0 1.7 0 1.7 0 1.7 0 1.7 0 1.7 0 1.8 0 1.7 0 1.7-.6 1.7-1.2 1.7-1.8 1.7-1.9 1.8-2.4 1.7-2.5 1.7-3.1 1.7-2.4 0 15.9z" fill="#dcb47f" fill-opacity="0.26"/>
<path d="M28.7 774.7l0 0 1.7-.2 1.7-.4 1.7-.9 1.8-1 1.7-.9 1.7-.9 1.7-.6 1.7-.2 1.7 .2 1.8 .5 1.7 .8 1.7 .9 1.7 .8 1.7 .7 1.7 .5 1.7 .5 1.8 .2 1.7 0 1.7 0 1.7-.2 1.7-1.5 1.7-2 1.8-2.3 1.7-2.6 1.7-2.5 1.7-2.4 1.7-1.9 1.7-1.8 1.7-1.6 1.8-1.4 1.7-1 1.7-.6 1.7-.4 1.7-.1 1.7-.1 1.8-.1 1.7-.1 1.7-.1 1.7 0 1.7 0 1.7 0 1.7 0 1.8 0 1.7-.1 1.7-.1 1.7 0 1.7 .1 1.7 .4 1.8 .6 1.7 1 1.7 1.5 1.7 1.5 1.7 1 1.7 .9 1.7 .7 1.8 .7 1.7 .7 1.7 .6 1.7 .4 1.7 .4 1.7 .4 1.8 .4 1.7 .3 1.7 .3 1.7 .3 1.7 .3 1.7 .4 1.7 .4 1.8 .6 1.7 .7 1.7 .7 1.7 .9 1.7 .8 1.7 1 1.8 1.2 1.7 1.2 1.7 1.1 1.7 .8 0 .6z" fill="#dcb47f" fill-opacity="0.26"/>
<path d="M28.7 774.7l0 0 1.7 0 1.7 0 1.7 0 1.8 0 1.7 0 1.7 0 1.7 0 1.7 0 1.7 0 1.8 0 1.7 0 1.7 0 1.7 0 1.7 0 1.7 0 1.7 0 1.8 0 1.7 0 1.7 0 1.7 0 1.7 0 1.7 0 1.8 0 1.7 0 1.7 0 1.7 0 1.7 0 1.7 0 1.7 0 1.8 0 1.7 0 1.7 0 1.7 0 1.7 0 1.7 0 1.8 0 1.7 0 1.7 0 1.7 0 1.7 0 1.7-.3 1.7-.9 1.8-1.6 1.7-2.1 1.7-2.4 1.7-2.5 1.7-2.5 1.7-2.4 1.8-2.3 1.7-2 1.7-1.8 1.7-1.7 1.7-1.6 1.7-1.6 1.7-1.6 1.8-1.6 1.7-1.5 1.7-1.5 1.7-1.4 1.7-1.4 1.7-1.4 1.8-1.3 1.7-1.3 1.7-1.2 1.7-1.2 1.7-1.2 1.7-1.1 1.7-1 1.8-.9 1.7-.7 1.7-.4 1.7-.2 1.7 0 1.7 .3 1.8 .4 1.7 .8 1.7 1.2 1.7 1 0 42.9z" fill="#dcb47f" fill-opacity="0.26"/>
<path d="M28.7 774.7l0 0 1.7 0 1.7 0 1.7 0 1.8-.6 1.7-1.7 1.7-2.6 1.7-3.3 1.7-4.1 1.7-4.6 1.8-5.2 1.7-5.5 1.7-5.5 1.7-5.2 1.7-4.6 1.7-3.9 1.7-2.9 1.8-1.6 1.7-.4 1.7 .8 1.7 1.9 1.7 2.7 1.7 3.4 1.8 3.7 1.7 3.6 1.7 3.3 1.7 2.9 1.7 2.4 1.7 1.9 1.7 1.4 1.8 1 1.7 .7 1.7 .5 1.7 .5 1.7 .4 1.7 .7 1.8 .9 1.7 1 1.7 1.1 1.7 1.3 1.7 1.5 1.7 1.8 1.7 1.9 1.8 1.9 1.7 1.8 1.7 1.6 1.7 1.4 1.7 1.4 1.7 1.1 1.8 .6 1.7 .4 1.7 .2 1.7 0 1.7 0 1.7 0 1.7 0 1.8 0 1.7 0 1.7 0 1.7 0 1.7 0 1.7 0 1.8 0 1.7 0 1.7 0 1.7 0 1.7 0 1.7 0 1.7 0 1.8-.2 1.7-.3 1.7-.5 1.7-.6 1.7-.6 1.7-.6 1.8-.6 1.7-.5 1.7-.7 1.7-.5 0 5.1z" fill="#dcb47f"/>
<path d="M28.7 774.7l1.7 0 1.7 0 1.7 0 1.8-.6 1.7-1.7 1.7-2.6 1.7-3.3 1.7-4.1 1.7-4.6 1.8-5.2 1.7-5.5 1.7-5.5 1.7-5.2 1.7-4.6 1.7-3.9 1.7-2.9 1.8-1.6 1.7-.4 1.7 .8 1.7 1.9 1.7 2.7 1.7 3.4 1.8 3.7 1.7 3.6 1.7 3.3 1.7 2.9 1.7 2.4 1.7 1.9 1.7 1.4 1.8 1 1.7 .7 1.7 .5 1.7 .5 1.7 .4 1.7 .7 1.8 .9 1.7 1 1.7 1.1 1.7 1.3 1.7 1.5 1.7 1.8 1.7 1.9 1.8 1.9 1.7 1.8 1.7 1.6 1.7 1.4 1.7 1.4 1.7 1.1 1.8 .6 1.7 .4 1.7 .2 1.7 0 1.7 0 1.7 0 1.7 0 1.8 0 1.7 0 1.7 0 1.7 0 1.7 0 1.7 0 1.8 0 1.7 0 1.7 0 1.7 0 1.7 0 1.7 0 1.7 0 1.8-.2 1.7-.3 1.7-.5 1.7-.6 1.7-.6 1.7-.6 1.8-.6 1.7-.5 1.7-.7 1.7-.5" fill="none" stroke="#3a3a3a" stroke-width="0.45" stroke-linejoin="round"/>
<line x1="28.70" y1="774.70" x2="162.50" y2="774.70" stroke="#d0d0d0" stroke-width="0.6" />
<line x1="28.70" y1="774.70" x2="28.70" y2="713.40" stroke="#d0d0d0" stroke-width="0.6" />
<text x="24.90" y="776.54" font-size="5.1" text-anchor="middle" fill="#333" >0</text>
<line x1="28.70" y1="774.70" x2="29.70" y2="774.70" stroke="#888" stroke-width="0.4" />
<text x="24.90" y="764.28" font-size="5.1" text-anchor="middle" fill="#333" >1</text>
<line x1="28.70" y1="762.44" x2="29.70" y2="762.44" stroke="#888" stroke-width="0.4" />
<text x="24.90" y="752.02" font-size="5.1" text-anchor="middle" fill="#333" >2</text>
<line x1="28.70" y1="750.18" x2="29.70" y2="750.18" stroke="#888" stroke-width="0.4" />
<text x="24.90" y="739.76" font-size="5.1" text-anchor="middle" fill="#333" >3</text>
<line x1="28.70" y1="737.92" x2="29.70" y2="737.92" stroke="#888" stroke-width="0.4" />
<text x="24.90" y="727.50" font-size="5.1" text-anchor="middle" fill="#333" >4</text>
<line x1="28.70" y1="725.66" x2="29.70" y2="725.66" stroke="#888" stroke-width="0.4" />
<text x="24.90" y="715.24" font-size="5.1" text-anchor="middle" fill="#333" >5</text>
<line x1="28.70" y1="713.40" x2="29.70" y2="713.40" stroke="#888" stroke-width="0.4" />
<text x="42.42" y="781.59" font-size="5.1" text-anchor="middle" fill="#333" >5</text>
<text x="59.58" y="781.59" font-size="5.1" text-anchor="middle" fill="#333" >10</text>
<text x="76.73" y="781.59" font-size="5.1" text-anchor="middle" fill="#333" >15</text>
<text x="93.88" y="781.59" font-size="5.1" text-anchor="middle" fill="#333" >20</text>
<text x="111.04" y="781.59" font-size="5.1" text-anchor="middle" fill="#333" >25</text>
<text x="128.19" y="781.59" font-size="5.1" text-anchor="middle" fill="#333" >30</text>
<text x="145.35" y="781.59" font-size="5.1" text-anchor="middle" fill="#333" >35</text>
<text x="162.50" y="781.59" font-size="5.1" text-anchor="middle" fill="#333" >40</text>
<text x="76.50" y="788.40" font-size="5.0" fill="#333" textLength="37.60" lengthAdjust="spacingAndGlyphs" >Frequency (Hz)</text>
<text x="71.80" y="710.80" font-size="6.0" font-weight="bold" fill="#111" textLength="47.50" lengthAdjust="spacingAndGlyphs" >Spectral Mode2</text>
<text x="53.50" y="121.20" font-size="9.5" font-weight="bold" fill="#111" textLength="77.00" lengthAdjust="spacingAndGlyphs" >Spatial Activation</text>
<text x="42.60" y="242.90" font-size="9.5" font-weight="bold" fill="#111" textLength="99.30" lengthAdjust="spacingAndGlyphs" >Network Configuration</text>
<text x="62.70" y="462.30" font-size="9.5" font-weight="bold" fill="#111" textLength="76.90" lengthAdjust="spacingAndGlyphs" >Spatial Activation</text>
<text x="51.70" y="578.60" font-size="9.5" font-weight="bold" fill="#111" textLength="99.30" lengthAdjust="spacingAndGlyphs" >Network Configuration</text>
<text x="54.00" y="803.60" font-size="9.5" font-weight="bold" fill="#111" textLength="77.00" lengthAdjust="spacingAndGlyphs" >Spatial Activation</text>
<text x="41.70" y="915.20" font-size="9.5" font-weight="bold" fill="#111" textLength="99.30" lengthAdjust="spacingAndGlyphs" >Network Configuration</text>
<linearGradient id="bg1" x1="0" y1="0" x2="1" y2="0"><stop offset="0" stop-color="#3a2014"/><stop offset="0.3" stop-color="#45281a"/><stop offset="0.45" stop-color="#6e4228"/><stop offset="0.58" stop-color="#a86a42"/><stop offset="0.75" stop-color="#c07a4a"/><stop offset="1" stop-color="#d08654"/></linearGradient>
<g transform="translate(37.20,126.00) scale(0.5500,0.3670)"><g clip-path="url(#clipLat)">
<use href="#latb" fill="url(#bg1)"/>
<g filter="url(#bblur)">
<ellipse cx="35" cy="70" rx="15" ry="12" fill="#a06440" fill-opacity="0.8"/>
<ellipse cx="62" cy="14" rx="16" ry="14" fill="#7a4a2c" fill-opacity="0.7"/>
<ellipse cx="42" cy="92" rx="12" ry="8" fill="#b87446" fill-opacity="0.8"/>
<ellipse cx="10" cy="30" rx="15" ry="25" fill="#2a170d" fill-opacity="0.5"/>
</g>
<use href="#latb" fill="none" stroke="#1a0c04" stroke-opacity="0.35" stroke-width="5" filter="url(#bblur)"/>
</g></g>
<linearGradient id="bg2" x1="0" y1="0" x2="1" y2="0"><stop offset="0" stop-color="#3a2014"/><stop offset="0.3" stop-color="#45281a"/><stop offset="0.45" stop-color="#6e4228"/><stop offset="0.58" stop-color="#a86a42"/><stop offset="0.75" stop-color="#c07a4a"/><stop offset="1" stop-color="#d08654"/></linearGradient>
<g transform="translate(150.80,126.00) scale(-0.5500,0.3650)"><g clip-path="url(#clipLat)">
<use href="#latb" fill="url(#bg2)"/>
<g filter="url(#bblur)">
<ellipse cx="35" cy="70" rx="15" ry="12" fill="#a06440" fill-opacity="0.8"/>
<ellipse cx="62" cy="14" rx="16" ry="14" fill="#7a4a2c" fill-opacity="0.7"/>
<ellipse cx="42" cy="92" rx="12" ry="8" fill="#b87446" fill-opacity="0.8"/>
<ellipse cx="10" cy="30" rx="15" ry="25" fill="#2a170d" fill-opacity="0.5"/>
</g>
<use href="#latb" fill="none" stroke="#1a0c04" stroke-opacity="0.35" stroke-width="5" filter="url(#bblur)"/>
</g></g>
<linearGradient id="bg3" x1="0" y1="0" x2="1" y2="0"><stop offset="0" stop-color="#2e1a10"/><stop offset="0.34" stop-color="#3a2014"/><stop offset="0.42" stop-color="#7a4a2c"/><stop offset="0.7" stop-color="#8c5634"/><stop offset="0.85" stop-color="#b87446"/><stop offset="1" stop-color="#e09058"/></linearGradient>
<g transform="translate(92.00,165.00) scale(-0.5450,0.3700)"><g clip-path="url(#clipMed)">
<use href="#medb" fill="url(#bg3)"/>
<g filter="url(#bblur)">
<ellipse cx="58" cy="10" rx="25" ry="10" fill="#5a3520" fill-opacity="0.7"/>
<ellipse cx="92" cy="72" rx="12" ry="20" fill="#e8985e" fill-opacity="0.7"/>
</g>
<use href="#medb" fill="none" stroke="#1a0c04" stroke-opacity="0.35" stroke-width="5" filter="url(#bblur)"/>
</g></g>
<linearGradient id="bg4" x1="0" y1="0" x2="1" y2="0"><stop offset="0" stop-color="#2e1a10"/><stop offset="0.34" stop-color="#3a2014"/><stop offset="0.42" stop-color="#7a4a2c"/><stop offset="0.7" stop-color="#8c5634"/><stop offset="0.85" stop-color="#b87446"/><stop offset="1" stop-color="#e09058"/></linearGradient>
<g transform="translate(97.00,165.00) scale(0.5400,0.3700)"><g clip-path="url(#clipMed)">
<use href="#medb" fill="url(#bg4)"/>
<g filter="url(#bblur)">
<ellipse cx="58" cy="10" rx="25" ry="10" fill="#5a3520" fill-opacity="0.7"/>
<ellipse cx="92" cy="72" rx="12" ry="20" fill="#e8985e" fill-opacity="0.7"/>
</g>
<use href="#medb" fill="none" stroke="#1a0c04" stroke-opacity="0.35" stroke-width="5" filter="url(#bblur)"/>
</g></g>
<linearGradient id="bg5" x1="0" y1="0" x2="1" y2="0"><stop offset="0" stop-color="#e8a06a"/><stop offset="0.3" stop-color="#e09058"/><stop offset="0.38" stop-color="#b06e44"/><stop offset="0.75" stop-color="#9a5e3a"/><stop offset="0.9" stop-color="#7a4a2c"/><stop offset="1" stop-color="#3a2014"/></linearGradient>
<g transform="translate(49.00,466.80) scale(0.5300,0.3520)"><g clip-path="url(#clipLat)">
<use href="#latb" fill="url(#bg5)"/>
<g filter="url(#bblur)">
<ellipse cx="55" cy="15" rx="15" ry="15" fill="#6e4228" fill-opacity="0.8"/>
<ellipse cx="50" cy="65" rx="20" ry="8" fill="#8a5232" fill-opacity="0.6"/>
<ellipse cx="42" cy="92" rx="12" ry="8" fill="#9a5e3a" fill-opacity="0.8"/>
</g>
<use href="#latb" fill="none" stroke="#1a0c04" stroke-opacity="0.35" stroke-width="5" filter="url(#bblur)"/>
</g></g>
<linearGradient id="bg6" x1="0" y1="0" x2="1" y2="0"><stop offset="0" stop-color="#e8a06a"/><stop offset="0.3" stop-color="#e09058"/><stop offset="0.38" stop-color="#b06e44"/><stop offset="0.75" stop-color="#9a5e3a"/><stop offset="0.9" stop-color="#7a4a2c"/><stop offset="1" stop-color="#3a2014"/></linearGradient>
<g transform="translate(159.00,466.80) scale(-0.5300,0.3520)"><g clip-path="url(#clipLat)">
<use href="#latb" fill="url(#bg6)"/>
<g filter="url(#bblur)">
<ellipse cx="55" cy="15" rx="15" ry="15" fill="#6e4228" fill-opacity="0.8"/>
<ellipse cx="50" cy="65" rx="20" ry="8" fill="#8a5232" fill-opacity="0.6"/>
<ellipse cx="42" cy="92" rx="12" ry="8" fill="#9a5e3a" fill-opacity="0.8"/>
</g>
<use href="#latb" fill="none" stroke="#1a0c04" stroke-opacity="0.35" stroke-width="5" filter="url(#bblur)"/>
</g></g>
<linearGradient id="bg7" x1="0" y1="0" x2="1" y2="0"><stop offset="0" stop-color="#f0aa70"/><stop offset="0.38" stop-color="#eea066"/><stop offset="0.45" stop-color="#9a6038"/><stop offset="0.8" stop-color="#8a5432"/><stop offset="0.92" stop-color="#5a3420"/><stop offset="1" stop-color="#2a160c"/></linearGradient>
<g transform="translate(102.60,505.00) scale(-0.5360,0.3550)"><g clip-path="url(#clipMed)">
<use href="#medb" fill="url(#bg7)"/>
<g filter="url(#bblur)">
<ellipse cx="92" cy="80" rx="12" ry="15" fill="#2a160c" fill-opacity="0.6"/>
</g>
<use href="#medb" fill="none" stroke="#1a0c04" stroke-opacity="0.35" stroke-width="5" filter="url(#bblur)"/>
</g></g>
<linearGradient id="bg8" x1="0" y1="0" x2="1" y2="0"><stop offset="0" stop-color="#f0aa70"/><stop offset="0.38" stop-color="#eea066"/><stop offset="0.45" stop-color="#9a6038"/><stop offset="0.8" stop-color="#8a5432"/><stop offset="0.92" stop-color="#5a3420"/><stop offset="1" stop-color="#2a160c"/></linearGradient>
<g transform="translate(106.90,505.00) scale(0.5260,0.3550)"><g clip-path="url(#clipMed)">
<use href="#medb" fill="url(#bg8)"/>
<g filter="url(#bblur)">
<ellipse cx="92" cy="80" rx="12" ry="15" fill="#2a160c" fill-opacity="0.6"/>
</g>
<use href="#medb" fill="none" stroke="#1a0c04" stroke-opacity="0.35" stroke-width="5" filter="url(#bblur)"/>
</g></g>
<linearGradient id="bg9" x1="0" y1="0" x2="1" y2="0"><stop offset="0" stop-color="#3a2014"/><stop offset="0.27" stop-color="#4a2a1a"/><stop offset="0.33" stop-color="#b87446"/><stop offset="0.5" stop-color="#d08a58"/><stop offset="0.68" stop-color="#b87446"/><stop offset="1" stop-color="#a8683f"/></linearGradient>
<g transform="translate(38.60,806.80) scale(0.5390,0.3520)"><g clip-path="url(#clipLat)">
<use href="#latb" fill="url(#bg9)"/>
<g filter="url(#bblur)">
<ellipse cx="48" cy="8" rx="14" ry="14" fill="#f4a86c" fill-opacity="0.9"/>
<ellipse cx="45" cy="92" rx="14" ry="8" fill="#b07048" fill-opacity="0.8"/>
</g>
<use href="#latb" fill="none" stroke="#1a0c04" stroke-opacity="0.35" stroke-width="5" filter="url(#bblur)"/>
</g></g>
<linearGradient id="bg10" x1="0" y1="0" x2="1" y2="0"><stop offset="0" stop-color="#3a2014"/><stop offset="0.27" stop-color="#4a2a1a"/><stop offset="0.33" stop-color="#b87446"/><stop offset="0.5" stop-color="#d08a58"/><stop offset="0.68" stop-color="#b87446"/><stop offset="1" stop-color="#a8683f"/></linearGradient>
<g transform="translate(149.60,806.80) scale(-0.5390,0.3520)"><g clip-path="url(#clipLat)">
<use href="#latb" fill="url(#bg10)"/>
<g filter="url(#bblur)">
<ellipse cx="48" cy="8" rx="14" ry="14" fill="#f4a86c" fill-opacity="0.9"/>
<ellipse cx="45" cy="92" rx="14" ry="8" fill="#b07048" fill-opacity="0.8"/>
</g>
<use href="#latb" fill="none" stroke="#1a0c04" stroke-opacity="0.35" stroke-width="5" filter="url(#bblur)"/>
</g></g>
<linearGradient id="bg11" x1="0" y1="0" x2="1" y2="0"><stop offset="0" stop-color="#2a170d"/><stop offset="0.33" stop-color="#2e1a10"/><stop offset="0.4" stop-color="#9c603c"/><stop offset="1" stop-color="#a86a42"/></linearGradient>
<g transform="translate(92.50,844.00) scale(-0.5310,0.3580)"><g clip-path="url(#clipMed)">
<use href="#medb" fill="url(#bg11)"/>
<use href="#medb" fill="none" stroke="#1a0c04" stroke-opacity="0.35" stroke-width="5" filter="url(#bblur)"/>
</g></g>
<linearGradient id="bg12" x1="0" y1="0" x2="1" y2="0"><stop offset="0" stop-color="#2a170d"/><stop offset="0.33" stop-color="#2e1a10"/><stop offset="0.4" stop-color="#9c603c"/><stop offset="1" stop-color="#a86a42"/></linearGradient>
<g transform="translate(97.00,844.00) scale(0.5330,0.3580)"><g clip-path="url(#clipMed)">
<use href="#medb" fill="url(#bg12)"/>
<use href="#medb" fill="none" stroke="#1a0c04" stroke-opacity="0.35" stroke-width="5" filter="url(#bblur)"/>
</g></g>
<linearGradient id="cb13" x1="0" y1="0" x2="1" y2="0"><stop offset="0" stop-color="#000000"/><stop offset="0.1" stop-color="#201409"/><stop offset="0.25" stop-color="#503220"/><stop offset="0.5" stop-color="#9f643f"/><stop offset="0.75" stop-color="#efa05f"/><stop offset="0.8" stop-color="#ff9f65"/><stop offset="1" stop-color="#ffc77f"/></linearGradient>
<rect x="52.50" y="205.60" width="82.70" height="6.60" fill="url(#cb13)" stroke="#9a9a9a" stroke-width="0.4"/>
<text x="54.90" y="217.30" font-size="3.2" text-anchor="middle" fill="#444" >-2</text>
<text x="71.50" y="217.30" font-size="3.2" text-anchor="middle" fill="#444" >-1</text>
<text x="87.80" y="217.30" font-size="3.2" text-anchor="middle" fill="#444" >0</text>
<text x="104.20" y="217.30" font-size="3.2" text-anchor="middle" fill="#444" >1</text>
<text x="120.50" y="217.30" font-size="3.2" text-anchor="middle" fill="#444" >2</text>
<text x="94.60" y="224.80" font-size="5.4" text-anchor="middle" fill="#444" >z-score PSD</text>
<linearGradient id="cb14" x1="0" y1="0" x2="1" y2="0"><stop offset="0" stop-color="#000000"/><stop offset="0.1" stop-color="#201409"/><stop offset="0.25" stop-color="#503220"/><stop offset="0.5" stop-color="#9f643f"/><stop offset="0.75" stop-color="#efa05f"/><stop offset="0.8" stop-color="#ff9f65"/><stop offset="1" stop-color="#ffc77f"/></linearGradient>
<rect x="69.60" y="543.70" width="67.10" height="5.50" fill="url(#cb14)" stroke="#9a9a9a" stroke-width="0.4"/>
<text x="74.10" y="554.00" font-size="3.2" text-anchor="middle" fill="#444" >-2</text>
<text x="89.00" y="554.00" font-size="3.2" text-anchor="middle" fill="#444" >-1</text>
<text x="103.60" y="554.00" font-size="3.2" text-anchor="middle" fill="#444" >0</text>
<text x="118.50" y="554.00" font-size="3.2" text-anchor="middle" fill="#444" >1</text>
<text x="132.90" y="554.00" font-size="3.2" text-anchor="middle" fill="#444" >2</text>
<text x="102.10" y="560.90" font-size="5.4" text-anchor="middle" fill="#444" >z-score PSD</text>
<linearGradient id="cb15" x1="0" y1="0" x2="1" y2="0"><stop offset="0" stop-color="#000000"/><stop offset="0.1" stop-color="#201409"/><stop offset="0.25" stop-color="#503220"/><stop offset="0.5" stop-color="#9f643f"/><stop offset="0.75" stop-color="#efa05f"/><stop offset="0.8" stop-color="#ff9f65"/><stop offset="1" stop-color="#ffc77f"/></linearGradient>
<rect x="59.70" y="882.50" width="67.00" height="5.80" fill="url(#cb15)" stroke="#9a9a9a" stroke-width="0.4"/>
<text x="64.70" y="892.30" font-size="3.2" text-anchor="middle" fill="#444" >-2</text>
<text x="75.80" y="892.30" font-size="3.2" text-anchor="middle" fill="#444" >-1</text>
<text x="87.00" y="892.30" font-size="3.2" text-anchor="middle" fill="#444" >0</text>
<text x="98.20" y="892.30" font-size="3.2" text-anchor="middle" fill="#444" >1</text>
<text x="109.40" y="892.30" font-size="3.2" text-anchor="middle" fill="#444" >2</text>
<text x="120.50" y="892.30" font-size="3.2" text-anchor="middle" fill="#444" >3</text>
<text x="96.00" y="901.50" font-size="5.4" text-anchor="middle" fill="#444" >z-score PSD</text>
<linearGradient id="cb16" x1="0" y1="0" x2="1" y2="0"><stop offset="0" stop-color="#000000"/><stop offset="0.1" stop-color="#201409"/><stop offset="0.25" stop-color="#503220"/><stop offset="0.5" stop-color="#9f643f"/><stop offset="0.75" stop-color="#efa05f"/><stop offset="0.8" stop-color="#ff9f65"/><stop offset="1" stop-color="#ffc77f"/></linearGradient>
<rect x="95.10" y="304.80" width="61.70" height="7.00" fill="url(#cb16)" stroke="#9a9a9a" stroke-width="0.4"/>
<text x="95.50" y="320.00" font-size="5.4" text-anchor="middle" fill="#444" >0</text>
<text x="118.00" y="320.00" font-size="5.4" text-anchor="middle" fill="#444" >5</text>
<text x="141.90" y="320.00" font-size="5.4" text-anchor="middle" fill="#444" >10</text>
<text x="131.50" y="327.60" font-size="5.7" text-anchor="middle" fill="#444" >scaled Coherence</text>
<linearGradient id="cb17" x1="0" y1="0" x2="1" y2="0"><stop offset="0" stop-color="#000000"/><stop offset="0.1" stop-color="#201409"/><stop offset="0.25" stop-color="#503220"/><stop offset="0.5" stop-color="#9f643f"/><stop offset="0.75" stop-color="#efa05f"/><stop offset="0.8" stop-color="#ff9f65"/><stop offset="1" stop-color="#ffc77f"/></linearGradient>
<rect x="113.80" y="646.10" width="63.00" height="6.20" fill="url(#cb17)" stroke="#9a9a9a" stroke-width="0.4"/>
<text x="114.30" y="660.20" font-size="5.4" text-anchor="middle" fill="#444" >0</text>
<text x="130.90" y="660.20" font-size="5.4" text-anchor="middle" fill="#444" >2</text>
<text x="147.80" y="660.20" font-size="5.4" text-anchor="middle" fill="#444" >4</text>
<text x="165.20" y="660.20" font-size="5.4" text-anchor="middle" fill="#444" >6</text>
<text x="143.70" y="669.20" font-size="5.7" text-anchor="middle" fill="#444" >scaled Coherence</text>
<linearGradient id="cb18" x1="0" y1="0" x2="1" y2="0"><stop offset="0" stop-color="#000000"/><stop offset="0.1" stop-color="#201409"/><stop offset="0.25" stop-color="#503220"/><stop offset="0.5" stop-color="#9f643f"/><stop offset="0.75" stop-color="#efa05f"/><stop offset="0.8" stop-color="#ff9f65"/><stop offset="1" stop-color="#ffc77f"/></linearGradient>
<rect x="97.80" y="980.60" width="58.80" height="7.70" fill="url(#cb18)" stroke="#9a9a9a" stroke-width="0.4"/>
<text x="98.30" y="995.60" font-size="5.4" text-anchor="middle" fill="#444" >0</text>
<text x="123.20" y="995.60" font-size="5.4" text-anchor="middle" fill="#444" >5</text>
<text x="149.00" y="995.60" font-size="5.4" text-anchor="middle" fill="#444" >10</text>
<text x="129.50" y="1003.40" font-size="5.7" text-anchor="middle" fill="#444" >scaled Coherence</text>
<radialGradient id="gr19" cx="0.5" cy="0.45" r="0.6"><stop offset="0" stop-color="#dedede"/><stop offset="0.6" stop-color="#d2d2d2"/><stop offset="1" stop-color="#c2c2c2"/></radialGradient>
<clipPath id="gc19"><path d="M54.8 260.9l-.5-.3-.4-.7-.4-1-.5-1.2-.4-1.2-.5-1.2-.4-1.1-.5-.7-.6-.5-.5-.4-.6-.3-.5-.2-.6-.1-.7 0-.6 0-.7 0-.8 .1-.8 .1-.8 .2-.9 .3-.8 .3-.9 .4-.8 .4-.8 .4-.7 .5-.7 .5-.7 .6-.7 .6-.7 .7-.6 .7-.6 .8-.6 .8-.6 .9-.6 1-.6 1.1-.5 1.1-.5 1.2-.5 1.2-.5 1.2-.4 1.2-.5 1.2-.4 1.3-.4 1.3-.4 1.3-.3 1.3-.4 1.3-.3 1.3-.3 1.3-.3 1.3-.3 1.3-.3 1.3-.2 1.2-.3 1.3-.2 1.3-.1 1.3-.1 1.4-.1 1.4 0 1.5 0 1.5 .1 1.5 0 1.5 .2 1.5 .2 1.5 .2 1.4 .3 1.4 .3 1.4 .4 1.3 .4 1.4 .5 1.2 .5 1.3 .6 1.2 .6 1.2 .6 1.1 .6 1.2 .7 1 .8 1.1 .7 1 .8 1 .9 .9 .8 .8 1 .9 .9 .7 1 .8 1 .6 1.1 .7 1.1 .6 1.1 .5 1.2 .4 1.2 .4 1.3 .3 1.4 .3 1.3 .2 1.4 .1 1.4 .1 1.4 .1 1.4 0 1.3 0 1.4-.1 1.4-.1 1.4-.1 1.3-.2 1.4-.3 1.3-.3 1.2-.4 1.2-.4 1.1-.5 1.1-.6 1.1-.7 1-.6 1-.8 .9-.7 1-.9 .8-.8 .9-.9 .8-1 .7-1 .8-1.1 .7-1 .6-1.2 .6-1.1 .6-1.2 .6-1.2 .5-1.3 .5-1.2 .4-1.4 .4-1.3 .3-1.4 .3-1.4 .2-1.4 .2-1.5 .2-1.5 0-1.5 .1-1.5 0-1.5 0-1.5-.1-1.4-.1-1.4-.1-1.3-.2-1.3-.3-1.3-.2-1.2-.3-1.3-.3-1.3-.3-1.3-.3-1.3-.3-1.3-.4-1.3-.3-1.3-.4-1.3-.4-1.3-.4-1.3-.5-1.2-.4-1.2-.5-1.2-.5-1.2-.5-1.2-.5-1.1-.6-1.1-.6-1-.6-.9-.6-.8-.6-.8-.6-.7-.7-.7-.7-.6-.7-.6-.7-.5-.7-.5-.8-.4-.8-.4-.9-.4-.8-.3-.9-.3-.8-.2-.8-.1-.8-.1-.7 0-.6 0-.7 0-.6 .1-.5 .2-.6 .3-.5 .4-.6 .5-.5 .7-.4 1.1-.5 1.2-.4 1.2-.5 1.2-.4 1-.4 .7z"/></clipPath>
<path d="M54.8 260.9l-.5-.3-.4-.7-.4-1-.5-1.2-.4-1.2-.5-1.2-.4-1.1-.5-.7-.6-.5-.5-.4-.6-.3-.5-.2-.6-.1-.7 0-.6 0-.7 0-.8 .1-.8 .1-.8 .2-.9 .3-.8 .3-.9 .4-.8 .4-.8 .4-.7 .5-.7 .5-.7 .6-.7 .6-.7 .7-.6 .7-.6 .8-.6 .8-.6 .9-.6 1-.6 1.1-.5 1.1-.5 1.2-.5 1.2-.5 1.2-.4 1.2-.5 1.2-.4 1.3-.4 1.3-.4 1.3-.3 1.3-.4 1.3-.3 1.3-.3 1.3-.3 1.3-.3 1.3-.3 1.3-.2 1.2-.3 1.3-.2 1.3-.1 1.3-.1 1.4-.1 1.4 0 1.5 0 1.5 .1 1.5 0 1.5 .2 1.5 .2 1.5 .2 1.4 .3 1.4 .3 1.4 .4 1.3 .4 1.4 .5 1.2 .5 1.3 .6 1.2 .6 1.2 .6 1.1 .6 1.2 .7 1 .8 1.1 .7 1 .8 1 .9 .9 .8 .8 1 .9 .9 .7 1 .8 1 .6 1.1 .7 1.1 .6 1.1 .5 1.2 .4 1.2 .4 1.3 .3 1.4 .3 1.3 .2 1.4 .1 1.4 .1 1.4 .1 1.4 0 1.3 0 1.4-.1 1.4-.1 1.4-.1 1.3-.2 1.4-.3 1.3-.3 1.2-.4 1.2-.4 1.1-.5 1.1-.6 1.1-.7 1-.6 1-.8 .9-.7 1-.9 .8-.8 .9-.9 .8-1 .7-1 .8-1.1 .7-1 .6-1.2 .6-1.1 .6-1.2 .6-1.2 .5-1.3 .5-1.2 .4-1.4 .4-1.3 .3-1.4 .3-1.4 .2-1.4 .2-1.5 .2-1.5 0-1.5 .1-1.5 0-1.5 0-1.5-.1-1.4-.1-1.4-.1-1.3-.2-1.3-.3-1.3-.2-1.2-.3-1.3-.3-1.3-.3-1.3-.3-1.3-.3-1.3-.4-1.3-.3-1.3-.4-1.3-.4-1.3-.4-1.3-.5-1.2-.4-1.2-.5-1.2-.5-1.2-.5-1.2-.5-1.1-.6-1.1-.6-1-.6-.9-.6-.8-.6-.8-.6-.7-.7-.7-.7-.6-.7-.6-.7-.5-.7-.5-.8-.4-.8-.4-.9-.4-.8-.3-.9-.3-.8-.2-.8-.1-.8-.1-.7 0-.6 0-.7 0-.6 .1-.5 .2-.6 .3-.5 .4-.6 .5-.5 .7-.4 1.1-.5 1.2-.4 1.2-.5 1.2-.4 1-.4 .7z" fill="url(#gr19)" filter="url(#blur05)"/>
<g clip-path="url(#gc19)">
<rect x="52.7" y="252.0" width="4.2" height="22.2" rx="2.1" fill="#f8f8f8" filter="url(#blur05)"/>
<rect x="53.3" y="274.2" width="3.0" height="23.7" rx="1.5" fill="#eeeeee" filter="url(#blur05)"/>
<rect x="52.4" y="297.9" width="4.8" height="17.8" rx="2.4" fill="#fafafa" filter="url(#blur05)"/>
<ellipse cx="44.0" cy="283.1" rx="6.0" ry="23.7" fill="#eeeeee" fill-opacity="0.8" filter="url(#blur1)"/>
<ellipse cx="65.5" cy="283.1" rx="6.0" ry="23.7" fill="#eeeeee" fill-opacity="0.8" filter="url(#blur1)"/>
<rect x="24.9" y="252.0" width="59.7" height="74.0" filter="url(#tex)" opacity="0.45"/>
</g>
<radialGradient id="gr20" cx="0.5" cy="0.45" r="0.6"><stop offset="0" stop-color="#dedede"/><stop offset="0.6" stop-color="#d2d2d2"/><stop offset="1" stop-color="#c2c2c2"/></radialGradient>
<clipPath id="gc20"><path d="M89.1 280.2l0-1 .2-1.1 .2-1.3 .4-1.3 .4-1.3 .4-1.4 .6-1.3 .6-1.2 .8-1.2 .8-1.2 .9-1.2 1.1-1.1 1-1.2 1.1-1.1 1.1-1 1-1 1-.9 1-.9 1.1-.9 1-.8 1.1-.8 1.1-.7 1.1-.7 1.1-.6 1.1-.6 1.1-.5 1.2-.4 1.2-.4 1.1-.4 1.2-.3 1.1-.3 1.1-.3 1.1-.2 1.1-.1 1-.2 1-.1 1 0 1.1 0 1.1 .1 1.1 .1 1.2 .2 1.3 .3 1.4 .4 1.4 .4 1.3 .4 1.4 .5 1.3 .5 1.3 .5 1.2 .4 1.2 .5 1.2 .5 1.1 .5 1.2 .6 1.1 .6 1.1 .6 1.1 .8 1.1 .7 1.1 .8 1.2 .9 1.1 1 1.1 .9 1 1 1 .9 .9 .9 .8 1 .8 .9 .7 1 .7 1 .6 .9 .5 1 .5 1 .3 .9 .2 .9 .1 1 .1 .9-.1 .9-.1 1-.3 .8-.2 .9-.4 .8-.5 .8-.5 .7-.6 .7-.8 .7-.7 .7-.8 .6-.9 .6-.9 .6-.9 .5-1 .5-1.1 .5-1.1 .4-1.1 .4-1.1 .4-1.1 .5-1 .4-1 .5-.9 .4-.9 .5-.9 .5-.9 .4-.9 .5-.8 .4-.8 .4-.8 .4-.7 .4-.7 .5-.7 .4-.7 .3-.7 .3-.6 .3-.7 .1-.8 0-.7 0-.7-.2-.7-.1-.7-.3-.7-.2-.7-.3-.7-.2-.6-.3-.5-.3-.5-.4-.6-.3-.5-.4-.6-.4-.7-.3-.9-.3-1.1-.3-1.2-.3-1.3-.3-1.4-.3-1.4-.2-1.4-.3-1.5-.3-1.3-.3-1.4-.3-1.3-.3-1.4-.4-1.4-.3-1.3-.4-1.4-.3-1.2-.4-1.2-.3-1.1-.3-1.2-.3-1-.3-1.1-.3-.9-.4-.9-.3-.9-.4-.7-.4-.6-.4-.6-.5-.4-.4-.4-.5-.4-.5-.2-.7-.2-.7z"/></clipPath>
<path d="M89.1 280.2l0-1 .2-1.1 .2-1.3 .4-1.3 .4-1.3 .4-1.4 .6-1.3 .6-1.2 .8-1.2 .8-1.2 .9-1.2 1.1-1.1 1-1.2 1.1-1.1 1.1-1 1-1 1-.9 1-.9 1.1-.9 1-.8 1.1-.8 1.1-.7 1.1-.7 1.1-.6 1.1-.6 1.1-.5 1.2-.4 1.2-.4 1.1-.4 1.2-.3 1.1-.3 1.1-.3 1.1-.2 1.1-.1 1-.2 1-.1 1 0 1.1 0 1.1 .1 1.1 .1 1.2 .2 1.3 .3 1.4 .4 1.4 .4 1.3 .4 1.4 .5 1.3 .5 1.3 .5 1.2 .4 1.2 .5 1.2 .5 1.1 .5 1.2 .6 1.1 .6 1.1 .6 1.1 .8 1.1 .7 1.1 .8 1.2 .9 1.1 1 1.1 .9 1 1 1 .9 .9 .9 .8 1 .8 .9 .7 1 .7 1 .6 .9 .5 1 .5 1 .3 .9 .2 .9 .1 1 .1 .9-.1 .9-.1 1-.3 .8-.2 .9-.4 .8-.5 .8-.5 .7-.6 .7-.8 .7-.7 .7-.8 .6-.9 .6-.9 .6-.9 .5-1 .5-1.1 .5-1.1 .4-1.1 .4-1.1 .4-1.1 .5-1 .4-1 .5-.9 .4-.9 .5-.9 .5-.9 .4-.9 .5-.8 .4-.8 .4-.8 .4-.7 .4-.7 .5-.7 .4-.7 .3-.7 .3-.6 .3-.7 .1-.8 0-.7 0-.7-.2-.7-.1-.7-.3-.7-.2-.7-.3-.7-.2-.6-.3-.5-.3-.5-.4-.6-.3-.5-.4-.6-.4-.7-.3-.9-.3-1.1-.3-1.2-.3-1.3-.3-1.4-.3-1.4-.2-1.4-.3-1.5-.3-1.3-.3-1.4-.3-1.3-.3-1.4-.4-1.4-.3-1.3-.4-1.4-.3-1.2-.4-1.2-.3-1.1-.3-1.2-.3-1-.3-1.1-.3-.9-.4-.9-.3-.9-.4-.7-.4-.6-.4-.6-.5-.4-.4-.4-.5-.4-.5-.2-.7-.2-.7z" fill="url(#gr20)" filter="url(#blur05)"/>
<g clip-path="url(#gc20)">
<ellipse cx="124.4" cy="271.6" rx="21.2" ry="11.2" fill="#e4e4e4" fill-opacity="0.6" filter="url(#blur1)"/>
<rect x="89.1" y="251.4" width="70.6" height="45.0" filter="url(#tex)" opacity="0.45"/>
</g>
<radialGradient id="gr21" cx="0.5" cy="0.45" r="0.6"><stop offset="0" stop-color="#dedede"/><stop offset="0.6" stop-color="#d2d2d2"/><stop offset="1" stop-color="#c2c2c2"/></radialGradient>
<clipPath id="gc21"><path d="M66.2 593.9l-.4-.3-.5-.8-.4-1.2-.5-1.4-.4-1.4-.5-1.4-.5-1.2-.6-.9-.5-.6-.6-.4-.6-.3-.6-.2-.7-.2-.6 0-.7 0-.8 0-.8 .1-.8 .2-.9 .2-.9 .3-1 .4-.9 .4-.8 .5-.9 .5-.8 .5-.7 .6-.8 .7-.7 .7-.7 .7-.7 .9-.7 .9-.6 1-.6 1-.6 1.2-.6 1.2-.6 1.3-.5 1.4-.6 1.3-.5 1.4-.5 1.4-.4 1.4-.5 1.5-.4 1.5-.4 1.5-.4 1.5-.4 1.6-.3 1.5-.4 1.5-.3 1.5-.3 1.5-.3 1.4-.2 1.5-.3 1.5-.2 1.5-.2 1.5-.1 1.6 0 1.6-.1 1.7 0 1.8 .1 1.7 .1 1.8 .1 1.8 .2 1.7 .3 1.6 .3 1.6 .3 1.6 .5 1.5 .4 1.6 .5 1.4 .6 1.5 .6 1.4 .6 1.4 .7 1.3 .6 1.3 .8 1.2 .8 1.3 .8 1.1 .8 1.1 .9 1.1 1 1 .9 .9 1.1 .9 1 .9 1.1 .8 1.1 .7 1.2 .7 1.2 .6 1.3 .5 1.3 .4 1.4 .4 1.4 .3 1.5 .2 1.4 .2 1.5 .1 1.5 .1 1.4 0 1.5 0 1.5-.1 1.5-.1 1.4-.2 1.5-.2 1.4-.3 1.4-.4 1.3-.4 1.3-.5 1.2-.6 1.2-.7 1.1-.7 1.1-.8 1-.9 1.1-.9 .9-.9 1-1 .9-1.1 .8-1.1 .8-1.1 .8-1.3 .8-1.2 .6-1.3 .7-1.3 .6-1.4 .6-1.4 .6-1.5 .5-1.4 .4-1.6 .5-1.5 .3-1.6 .3-1.6 .3-1.6 .2-1.7 .1-1.8 .1-1.8 .1-1.7 0-1.8-.1-1.7 0-1.6-.1-1.6-.2-1.5-.2-1.5-.3-1.5-.2-1.5-.3-1.4-.3-1.5-.3-1.5-.4-1.5-.3-1.5-.4-1.6-.4-1.5-.4-1.5-.4-1.5-.5-1.5-.4-1.4-.5-1.4-.5-1.4-.6-1.3-.5-1.4-.6-1.3-.6-1.2-.6-1.2-.6-1-.6-1-.7-.9-.7-.9-.7-.7-.7-.7-.8-.7-.7-.6-.8-.5-.9-.5-.8-.5-.9-.4-1-.4-.9-.3-.9-.2-.8-.2-.8-.1-.8 0-.7 0-.6 0-.7 .2-.6 .2-.6 .3-.6 .4-.5 .6-.6 .9-.5 1.2-.5 1.4-.4 1.4-.5 1.4-.4 1.2-.5 .8z"/></clipPath>
<path d="M66.2 593.9l-.4-.3-.5-.8-.4-1.2-.5-1.4-.4-1.4-.5-1.4-.5-1.2-.6-.9-.5-.6-.6-.4-.6-.3-.6-.2-.7-.2-.6 0-.7 0-.8 0-.8 .1-.8 .2-.9 .2-.9 .3-1 .4-.9 .4-.8 .5-.9 .5-.8 .5-.7 .6-.8 .7-.7 .7-.7 .7-.7 .9-.7 .9-.6 1-.6 1-.6 1.2-.6 1.2-.6 1.3-.5 1.4-.6 1.3-.5 1.4-.5 1.4-.4 1.4-.5 1.5-.4 1.5-.4 1.5-.4 1.5-.4 1.6-.3 1.5-.4 1.5-.3 1.5-.3 1.5-.3 1.4-.2 1.5-.3 1.5-.2 1.5-.2 1.5-.1 1.6 0 1.6-.1 1.7 0 1.8 .1 1.7 .1 1.8 .1 1.8 .2 1.7 .3 1.6 .3 1.6 .3 1.6 .5 1.5 .4 1.6 .5 1.4 .6 1.5 .6 1.4 .6 1.4 .7 1.3 .6 1.3 .8 1.2 .8 1.3 .8 1.1 .8 1.1 .9 1.1 1 1 .9 .9 1.1 .9 1 .9 1.1 .8 1.1 .7 1.2 .7 1.2 .6 1.3 .5 1.3 .4 1.4 .4 1.4 .3 1.5 .2 1.4 .2 1.5 .1 1.5 .1 1.4 0 1.5 0 1.5-.1 1.5-.1 1.4-.2 1.5-.2 1.4-.3 1.4-.4 1.3-.4 1.3-.5 1.2-.6 1.2-.7 1.1-.7 1.1-.8 1-.9 1.1-.9 .9-.9 1-1 .9-1.1 .8-1.1 .8-1.1 .8-1.3 .8-1.2 .6-1.3 .7-1.3 .6-1.4 .6-1.4 .6-1.5 .5-1.4 .4-1.6 .5-1.5 .3-1.6 .3-1.6 .3-1.6 .2-1.7 .1-1.8 .1-1.8 .1-1.7 0-1.8-.1-1.7 0-1.6-.1-1.6-.2-1.5-.2-1.5-.3-1.5-.2-1.5-.3-1.4-.3-1.5-.3-1.5-.4-1.5-.3-1.5-.4-1.6-.4-1.5-.4-1.5-.4-1.5-.5-1.5-.4-1.4-.5-1.4-.5-1.4-.6-1.3-.5-1.4-.6-1.3-.6-1.2-.6-1.2-.6-1-.6-1-.7-.9-.7-.9-.7-.7-.7-.7-.8-.7-.7-.6-.8-.5-.9-.5-.8-.5-.9-.4-1-.4-.9-.3-.9-.2-.8-.2-.8-.1-.8 0-.7 0-.6 0-.7 .2-.6 .2-.6 .3-.6 .4-.5 .6-.6 .9-.5 1.2-.5 1.4-.4 1.4-.5 1.4-.4 1.2-.5 .8z" fill="url(#gr21)" filter="url(#blur05)"/>
<g clip-path="url(#gc21)">
<rect x="64.0" y="583.6" width="4.5" height="25.7" rx="2.2" fill="#f8f8f8" filter="url(#blur05)"/>
<rect x="64.7" y="609.3" width="3.2" height="27.4" rx="1.6" fill="#eeeeee" filter="url(#blur05)"/>
<rect x="63.7" y="636.7" width="5.1" height="20.5" rx="2.5" fill="#fafafa" filter="url(#blur05)"/>
<ellipse cx="54.8" cy="619.6" rx="6.4" ry="27.4" fill="#eeeeee" fill-opacity="0.8" filter="url(#blur1)"/>
<ellipse cx="77.7" cy="619.6" rx="6.4" ry="27.4" fill="#eeeeee" fill-opacity="0.8" filter="url(#blur1)"/>
<rect x="34.4" y="583.6" width="63.7" height="85.6" filter="url(#tex)" opacity="0.45"/>
</g>
<radialGradient id="gr22" cx="0.5" cy="0.45" r="0.6"><stop offset="0" stop-color="#dedede"/><stop offset="0.6" stop-color="#d2d2d2"/><stop offset="1" stop-color="#c2c2c2"/></radialGradient>
<clipPath id="gc22"><path d="M105.6 620.1l.1-1.2 .1-1.4 .3-1.6 .3-1.7 .4-1.7 .6-1.7 .6-1.7 .6-1.5 .8-1.5 .9-1.5 1-1.5 1.1-1.5 1.1-1.5 1.2-1.4 1.1-1.3 1.2-1.2 1-1.2 1.2-1.2 1.1-1.1 1.1-1 1.1-1 1.2-.9 1.2-.8 1.1-.8 1.2-.7 1.3-.7 1.2-.6 1.3-.5 1.2-.5 1.3-.4 1.2-.3 1.2-.3 1.1-.3 1.2-.2 1-.2 1.1-.1 1.1-.1 1.2 0 1.1 .1 1.3 .2 1.3 .3 1.4 .3 1.4 .5 1.5 .5 1.5 .6 1.4 .6 1.5 .6 1.3 .6 1.3 .6 1.3 .6 1.3 .7 1.2 .6 1.2 .7 1.2 .8 1.2 .8 1.2 .9 1.2 1 1.2 1 1.2 1.2 1.2 1.1 1.1 1.2 1.2 1.2 1 1.3 .9 1.1 .9 1.2 .9 1.2 .8 1.3 .7 1.2 .7 1.2 .5 1.3 .5 1.2 .3 1.1 .3 1.2 .1 1.2 0 1.2 0 1.2-.2 1.2-.2 1.1-.3 1.1-.4 1-.5 1-.6 .9-.7 .9-.7 .9-.8 .8-.9 .8-.9 .8-1 .7-1 .7-1.1 .6-1.1 .6-1.2 .6-1.2 .5-1.2 .5-1.2 .6-1.1 .5-1 .6-1 .6-1 .6-.9 .6-1 .5-.9 .6-.9 .6-.8 .5-.9 .5-.7 .5-.8 .6-.7 .5-.8 .4-.7 .4-.7 .3-.8 .2-.7 0-.8 0-.8-.2-.8-.2-.7-.3-.8-.3-.7-.4-.7-.3-.7-.4-.6-.4-.5-.4-.6-.5-.5-.4-.7-.5-.8-.4-.9-.4-1.2-.4-1.2-.4-1.4-.3-1.5-.4-1.6-.3-1.5-.4-1.5-.3-1.5-.4-1.4-.4-1.5-.4-1.5-.4-1.5-.5-1.4-.4-1.4-.5-1.4-.4-1.2-.4-1.3-.4-1.2-.4-1.1-.4-1.1-.4-1.1-.4-.9-.4-.9-.5-.8-.5-.6-.6-.6-.6-.6-.5-.4-.6-.3-.7-.3-.8-.1-.9z"/></clipPath>
<path d="M105.6 620.1l.1-1.2 .1-1.4 .3-1.6 .3-1.7 .4-1.7 .6-1.7 .6-1.7 .6-1.5 .8-1.5 .9-1.5 1-1.5 1.1-1.5 1.1-1.5 1.2-1.4 1.1-1.3 1.2-1.2 1-1.2 1.2-1.2 1.1-1.1 1.1-1 1.1-1 1.2-.9 1.2-.8 1.1-.8 1.2-.7 1.3-.7 1.2-.6 1.3-.5 1.2-.5 1.3-.4 1.2-.3 1.2-.3 1.1-.3 1.2-.2 1-.2 1.1-.1 1.1-.1 1.2 0 1.1 .1 1.3 .2 1.3 .3 1.4 .3 1.4 .5 1.5 .5 1.5 .6 1.4 .6 1.5 .6 1.3 .6 1.3 .6 1.3 .6 1.3 .7 1.2 .6 1.2 .7 1.2 .8 1.2 .8 1.2 .9 1.2 1 1.2 1 1.2 1.2 1.2 1.1 1.1 1.2 1.2 1.2 1 1.3 .9 1.1 .9 1.2 .9 1.2 .8 1.3 .7 1.2 .7 1.2 .5 1.3 .5 1.2 .3 1.1 .3 1.2 .1 1.2 0 1.2 0 1.2-.2 1.2-.2 1.1-.3 1.1-.4 1-.5 1-.6 .9-.7 .9-.7 .9-.8 .8-.9 .8-.9 .8-1 .7-1 .7-1.1 .6-1.1 .6-1.2 .6-1.2 .5-1.2 .5-1.2 .6-1.1 .5-1 .6-1 .6-1 .6-.9 .6-1 .5-.9 .6-.9 .6-.8 .5-.9 .5-.7 .5-.8 .6-.7 .5-.8 .4-.7 .4-.7 .3-.8 .2-.7 0-.8 0-.8-.2-.8-.2-.7-.3-.8-.3-.7-.4-.7-.3-.7-.4-.6-.4-.5-.4-.6-.5-.5-.4-.7-.5-.8-.4-.9-.4-1.2-.4-1.2-.4-1.4-.3-1.5-.4-1.6-.3-1.5-.4-1.5-.3-1.5-.4-1.4-.4-1.5-.4-1.5-.4-1.5-.5-1.4-.4-1.4-.5-1.4-.4-1.2-.4-1.3-.4-1.2-.4-1.1-.4-1.1-.4-1.1-.4-.9-.4-.9-.5-.8-.5-.6-.6-.6-.6-.6-.5-.4-.6-.3-.7-.3-.8-.1-.9z" fill="url(#gr22)" filter="url(#blur05)"/>
<g clip-path="url(#gc22)">
<ellipse cx="143.4" cy="609.3" rx="22.7" ry="14.3" fill="#e4e4e4" fill-opacity="0.6" filter="url(#blur1)"/>
<rect x="105.6" y="583.6" width="75.7" height="57.1" filter="url(#tex)" opacity="0.45"/>
</g>
<radialGradient id="gr23" cx="0.5" cy="0.45" r="0.6"><stop offset="0" stop-color="#dedede"/><stop offset="0.6" stop-color="#d2d2d2"/><stop offset="1" stop-color="#c2c2c2"/></radialGradient>
<clipPath id="gc23"><path d="M56.6 931.9l-.4-.3-.4-.8-.4-1.1-.4-1.3-.4-1.3-.5-1.3-.4-1.2-.5-.8-.5-.5-.5-.4-.6-.3-.5-.2-.6-.2-.6 0-.6 0-.7 0-.7 .1-.7 .1-.8 .3-.8 .3-.9 .3-.8 .4-.8 .4-.7 .5-.7 .5-.7 .6-.7 .6-.6 .7-.6 .7-.6 .8-.6 .8-.6 1-.6 1-.5 1.1-.5 1.1-.5 1.2-.5 1.3-.5 1.3-.5 1.3-.4 1.3-.4 1.4-.4 1.3-.4 1.4-.3 1.5-.4 1.4-.3 1.5-.3 1.4-.3 1.4-.3 1.4-.3 1.4-.3 1.4-.2 1.4-.2 1.4-.2 1.4-.1 1.4-.1 1.5-.1 1.5 0 1.6 0 1.7 0 1.6 .1 1.7 .1 1.6 .2 1.7 .2 1.5 .3 1.5 .3 1.5 .4 1.5 .4 1.4 .5 1.4 .5 1.4 .5 1.3 .5 1.3 .6 1.2 .7 1.2 .6 1.2 .7 1.2 .7 1.1 .8 1 .8 1 .8 .9 .9 .9 .9 .9 .9 .8 1 .7 1 .7 1.1 .6 1.1 .6 1.1 .5 1.1 .4 1.3 .3 1.2 .3 1.3 .2 1.4 .2 1.3 .1 1.3 .1 1.3 0 1.3 0 1.3-.1 1.3-.1 1.4-.2 1.3-.2 1.2-.3 1.3-.3 1.1-.4 1.1-.5 1.1-.6 1.1-.6 1-.7 1-.7 .9-.8 .9-.9 .9-.9 .8-.9 .8-1 .8-1 .7-1.1 .7-1.2 .6-1.2 .7-1.2 .6-1.2 .5-1.3 .5-1.3 .5-1.4 .5-1.4 .4-1.4 .4-1.5 .3-1.5 .3-1.5 .2-1.5 .2-1.7 .1-1.6 .1-1.7 0-1.6 0-1.7 0-1.6-.1-1.5-.1-1.5-.1-1.4-.2-1.4-.2-1.4-.2-1.4-.3-1.4-.3-1.4-.3-1.4-.3-1.4-.3-1.4-.3-1.5-.3-1.4-.4-1.5-.4-1.4-.4-1.3-.4-1.4-.4-1.3-.5-1.3-.5-1.3-.5-1.3-.5-1.2-.5-1.1-.5-1.1-.6-1-.6-1-.6-.8-.6-.8-.6-.7-.6-.7-.7-.6-.7-.6-.7-.5-.7-.5-.8-.4-.8-.4-.9-.3-.8-.3-.8-.3-.7-.1-.7-.1-.7 0-.6 0-.6 0-.6 .2-.5 .2-.6 .3-.5 .4-.5 .5-.5 .8-.4 1.2-.5 1.3-.4 1.3-.4 1.3-.4 1.1-.4 .8z"/></clipPath>
<path d="M56.6 931.9l-.4-.3-.4-.8-.4-1.1-.4-1.3-.4-1.3-.5-1.3-.4-1.2-.5-.8-.5-.5-.5-.4-.6-.3-.5-.2-.6-.2-.6 0-.6 0-.7 0-.7 .1-.7 .1-.8 .3-.8 .3-.9 .3-.8 .4-.8 .4-.7 .5-.7 .5-.7 .6-.7 .6-.6 .7-.6 .7-.6 .8-.6 .8-.6 1-.6 1-.5 1.1-.5 1.1-.5 1.2-.5 1.3-.5 1.3-.5 1.3-.4 1.3-.4 1.4-.4 1.3-.4 1.4-.3 1.5-.4 1.4-.3 1.5-.3 1.4-.3 1.4-.3 1.4-.3 1.4-.3 1.4-.2 1.4-.2 1.4-.2 1.4-.1 1.4-.1 1.5-.1 1.5 0 1.6 0 1.7 0 1.6 .1 1.7 .1 1.6 .2 1.7 .2 1.5 .3 1.5 .3 1.5 .4 1.5 .4 1.4 .5 1.4 .5 1.4 .5 1.3 .5 1.3 .6 1.2 .7 1.2 .6 1.2 .7 1.2 .7 1.1 .8 1 .8 1 .8 .9 .9 .9 .9 .9 .9 .8 1 .7 1 .7 1.1 .6 1.1 .6 1.1 .5 1.1 .4 1.3 .3 1.2 .3 1.3 .2 1.4 .2 1.3 .1 1.3 .1 1.3 0 1.3 0 1.3-.1 1.3-.1 1.4-.2 1.3-.2 1.2-.3 1.3-.3 1.1-.4 1.1-.5 1.1-.6 1.1-.6 1-.7 1-.7 .9-.8 .9-.9 .9-.9 .8-.9 .8-1 .8-1 .7-1.1 .7-1.2 .6-1.2 .7-1.2 .6-1.2 .5-1.3 .5-1.3 .5-1.4 .5-1.4 .4-1.4 .4-1.5 .3-1.5 .3-1.5 .2-1.5 .2-1.7 .1-1.6 .1-1.7 0-1.6 0-1.7 0-1.6-.1-1.5-.1-1.5-.1-1.4-.2-1.4-.2-1.4-.2-1.4-.3-1.4-.3-1.4-.3-1.4-.3-1.4-.3-1.4-.3-1.5-.3-1.4-.4-1.5-.4-1.4-.4-1.3-.4-1.4-.4-1.3-.5-1.3-.5-1.3-.5-1.3-.5-1.2-.5-1.1-.5-1.1-.6-1-.6-1-.6-.8-.6-.8-.6-.7-.6-.7-.7-.6-.7-.6-.7-.5-.7-.5-.8-.4-.8-.4-.9-.3-.8-.3-.8-.3-.7-.1-.7-.1-.7 0-.6 0-.6 0-.6 .2-.5 .2-.6 .3-.5 .4-.5 .5-.5 .8-.4 1.2-.5 1.3-.4 1.3-.4 1.3-.4 1.1-.4 .8z" fill="url(#gr23)" filter="url(#blur05)"/>
<g clip-path="url(#gc23)">
<rect x="54.6" y="922.2" width="4.0" height="24.2" rx="2.0" fill="#f8f8f8" filter="url(#blur05)"/>
<rect x="55.2" y="946.4" width="2.8" height="25.8" rx="1.4" fill="#eeeeee" filter="url(#blur05)"/>
<rect x="54.3" y="972.2" width="4.5" height="19.3" rx="2.3" fill="#fafafa" filter="url(#blur05)"/>
<ellipse cx="46.4" cy="956.1" rx="5.7" ry="25.8" fill="#eeeeee" fill-opacity="0.8" filter="url(#blur1)"/>
<ellipse cx="66.8" cy="956.1" rx="5.7" ry="25.8" fill="#eeeeee" fill-opacity="0.8" filter="url(#blur1)"/>
<rect x="28.2" y="922.2" width="56.8" height="80.6" filter="url(#tex)" opacity="0.45"/>
</g>
<radialGradient id="gr24" cx="0.5" cy="0.45" r="0.6"><stop offset="0" stop-color="#dedede"/><stop offset="0.6" stop-color="#d2d2d2"/><stop offset="1" stop-color="#c2c2c2"/></radialGradient>
<clipPath id="gc24"><path d="M89.6 957.7l0-1.2 .2-1.3 .2-1.5 .4-1.6 .4-1.6 .5-1.6 .5-1.5 .7-1.5 .7-1.4 .9-1.4 .9-1.4 1.1-1.4 1-1.4 1.1-1.3 1.1-1.2 1.1-1.2 1-1.1 1-1.1 1.1-1 1.1-1 1-.9 1.1-.9 1.1-.8 1.2-.7 1.1-.7 1.2-.6 1.1-.5 1.2-.5 1.2-.5 1.2-.3 1.1-.4 1.2-.3 1.1-.2 1-.2 1.1-.2 1-.1 1-.1 1.1 .1 1.1 0 1.2 .2 1.2 .3 1.4 .3 1.3 .4 1.4 .5 1.4 .5 1.4 .6 1.3 .6 1.3 .6 1.3 .5 1.2 .6 1.2 .6 1.1 .6 1.2 .7 1.1 .7 1.1 .8 1.2 .8 1.1 .9 1.1 1 1.2 1.1 1.1 1.1 1.1 1.1 1.1 1.1 1 1.2 .9 1.1 .8 1.1 .8 1.1 .8 1.2 .7 1.1 .6 1.2 .5 1.1 .5 1.2 .3 1.1 .2 1.1 .1 1.1 .1 1.1-.1 1.2-.1 1-.3 1.1-.3 1-.3 1-.5 .9-.5 .9-.7 .8-.7 .9-.8 .7-.8 .8-.9 .7-.9 .7-.9 .6-1.1 .6-1 .6-1.2 .5-1.1 .5-1.2 .5-1 .5-1.1 .5-.9 .5-1 .6-.9 .6-.9 .5-.9 .6-.9 .5-.8 .5-.8 .5-.8 .5-.8 .5-.7 .5-.7 .5-.7 .4-.7 .4-.7 .2-.7 .2-.7 0-.7 0-.8-.2-.7-.2-.7-.3-.7-.3-.7-.3-.7-.3-.6-.3-.6-.4-.5-.4-.5-.4-.6-.5-.6-.4-.7-.4-.9-.4-1.1-.4-1.2-.3-1.3-.3-1.5-.4-1.4-.3-1.5-.3-1.4-.3-1.4-.4-1.4-.4-1.3-.4-1.4-.4-1.4-.4-1.4-.4-1.4-.4-1.2-.4-1.2-.4-1.2-.4-1.1-.4-1.1-.3-1.1-.4-1-.4-.9-.4-.8-.4-.7-.5-.7-.6-.5-.5-.5-.5-.4-.6-.4-.6-.2-.8-.2-.8z"/></clipPath>
<path d="M89.6 957.7l0-1.2 .2-1.3 .2-1.5 .4-1.6 .4-1.6 .5-1.6 .5-1.5 .7-1.5 .7-1.4 .9-1.4 .9-1.4 1.1-1.4 1-1.4 1.1-1.3 1.1-1.2 1.1-1.2 1-1.1 1-1.1 1.1-1 1.1-1 1-.9 1.1-.9 1.1-.8 1.2-.7 1.1-.7 1.2-.6 1.1-.5 1.2-.5 1.2-.5 1.2-.3 1.1-.4 1.2-.3 1.1-.2 1-.2 1.1-.2 1-.1 1-.1 1.1 .1 1.1 0 1.2 .2 1.2 .3 1.4 .3 1.3 .4 1.4 .5 1.4 .5 1.4 .6 1.3 .6 1.3 .6 1.3 .5 1.2 .6 1.2 .6 1.1 .6 1.2 .7 1.1 .7 1.1 .8 1.2 .8 1.1 .9 1.1 1 1.2 1.1 1.1 1.1 1.1 1.1 1.1 1.1 1 1.2 .9 1.1 .8 1.1 .8 1.1 .8 1.2 .7 1.1 .6 1.2 .5 1.1 .5 1.2 .3 1.1 .2 1.1 .1 1.1 .1 1.1-.1 1.2-.1 1-.3 1.1-.3 1-.3 1-.5 .9-.5 .9-.7 .8-.7 .9-.8 .7-.8 .8-.9 .7-.9 .7-.9 .6-1.1 .6-1 .6-1.2 .5-1.1 .5-1.2 .5-1 .5-1.1 .5-.9 .5-1 .6-.9 .6-.9 .5-.9 .6-.9 .5-.8 .5-.8 .5-.8 .5-.8 .5-.7 .5-.7 .5-.7 .4-.7 .4-.7 .2-.7 .2-.7 0-.7 0-.8-.2-.7-.2-.7-.3-.7-.3-.7-.3-.7-.3-.6-.3-.6-.4-.5-.4-.5-.4-.6-.5-.6-.4-.7-.4-.9-.4-1.1-.4-1.2-.3-1.3-.3-1.5-.4-1.4-.3-1.5-.3-1.4-.3-1.4-.4-1.4-.4-1.3-.4-1.4-.4-1.4-.4-1.4-.4-1.4-.4-1.2-.4-1.2-.4-1.2-.4-1.1-.4-1.1-.3-1.1-.4-1-.4-.9-.4-.8-.4-.7-.5-.7-.6-.5-.5-.5-.5-.4-.6-.4-.6-.2-.8-.2-.8z" fill="url(#gr24)" filter="url(#blur05)"/>
<g clip-path="url(#gc24)">
<ellipse cx="125.4" cy="947.5" rx="21.5" ry="13.4" fill="#e4e4e4" fill-opacity="0.6" filter="url(#blur1)"/>
<rect x="89.6" y="923.4" width="71.7" height="53.6" filter="url(#tex)" opacity="0.45"/>
</g>
<path d="M34.2 267.4l20.6-7.1" fill="none" stroke="#d8864e" stroke-width="1.15" stroke-linejoin="round" stroke-linecap="round"/>
<path d="M69.3 256.5l8.7 26.8" fill="none" stroke="#d8864e" stroke-width="1.15" stroke-linejoin="round" stroke-linecap="round"/>
<path d="M64.9 275.7l6.6 13.1" fill="none" stroke="#d8864e" stroke-width="1.15" stroke-linejoin="round" stroke-linecap="round"/>
<path d="M31 282.8l24 19.2" fill="none" stroke="#d8864e" stroke-width="1.15" stroke-linejoin="round" stroke-linecap="round"/>
<path d="M49 293.2l22.5-1.1" fill="none" stroke="#d8864e" stroke-width="1.15" stroke-linejoin="round" stroke-linecap="round"/>
<path d="M78 283.3l-23 18.7" fill="none" stroke="#d8864e" stroke-width="1.15" stroke-linejoin="round" stroke-linecap="round"/>
<path d="M31 282.8l-2.5 18.2 4.5 12 12 10 19 0 13-10 4-13-2-16.7" fill="none" stroke="#d8864e" stroke-width="1.15" stroke-linejoin="round" stroke-linecap="round"/>
<path d="M31 282.8l6 7.2-2 10" fill="none" stroke="#d8864e" stroke-width="1.15" stroke-linejoin="round" stroke-linecap="round"/>
<path d="M71.5 288.8l8.5 8.2" fill="none" stroke="#d8864e" stroke-width="1.15" stroke-linejoin="round" stroke-linecap="round"/>
<path d="M66 291l-4 11" fill="none" stroke="#d8864e" stroke-width="1.15" stroke-linejoin="round" stroke-linecap="round"/>
<path d="M28.5 301l41.5 18.5" fill="none" stroke="#d8864e" stroke-width="1.15" stroke-linejoin="round" stroke-linecap="round"/>
<path d="M28.5 301l29.5 11" fill="none" stroke="#d8864e" stroke-width="1.15" stroke-linejoin="round" stroke-linecap="round"/>
<path d="M30.5 308l24.5 16" fill="none" stroke="#d8864e" stroke-width="1.15" stroke-linejoin="round" stroke-linecap="round"/>
<path d="M34 315l5 4.5" fill="none" stroke="#d8864e" stroke-width="1.15" stroke-linejoin="round" stroke-linecap="round"/>
<path d="M34 315l30 7.5" fill="none" stroke="#d8864e" stroke-width="1.15" stroke-linejoin="round" stroke-linecap="round"/>
<path d="M34 315l4-4" fill="none" stroke="#d8864e" stroke-width="1.15" stroke-linejoin="round" stroke-linecap="round"/>
<path d="M34 315l24-3" fill="none" stroke="#d8864e" stroke-width="1.15" stroke-linejoin="round" stroke-linecap="round"/>
<path d="M34 315l21 4" fill="none" stroke="#d8864e" stroke-width="1.15" stroke-linejoin="round" stroke-linecap="round"/>
<path d="M39 319.5l6 3" fill="none" stroke="#d8864e" stroke-width="1.15" stroke-linejoin="round" stroke-linecap="round"/>
<path d="M39 319.5l16 4.5" fill="none" stroke="#d8864e" stroke-width="1.15" stroke-linejoin="round" stroke-linecap="round"/>
<path d="M39 319.5l16-.5" fill="none" stroke="#d8864e" stroke-width="1.15" stroke-linejoin="round" stroke-linecap="round"/>
<path d="M39 319.5l16-17.5" fill="none" stroke="#d8864e" stroke-width="1.15" stroke-linejoin="round" stroke-linecap="round"/>
<path d="M45 322.5l15-19.5" fill="none" stroke="#d8864e" stroke-width="1.15" stroke-linejoin="round" stroke-linecap="round"/>
<path d="M45 322.5l23-11.5" fill="none" stroke="#d8864e" stroke-width="1.15" stroke-linejoin="round" stroke-linecap="round"/>
<path d="M55 324l23.5-16" fill="none" stroke="#d8864e" stroke-width="1.15" stroke-linejoin="round" stroke-linecap="round"/>
<path d="M55 324l-15-20" fill="none" stroke="#d8864e" stroke-width="1.15" stroke-linejoin="round" stroke-linecap="round"/>
<path d="M70 319.5l5-4.5" fill="none" stroke="#d8864e" stroke-width="1.15" stroke-linejoin="round" stroke-linecap="round"/>
<path d="M75 315l-15-12" fill="none" stroke="#d8864e" stroke-width="1.15" stroke-linejoin="round" stroke-linecap="round"/>
<path d="M81 300l-26 2" fill="none" stroke="#d8864e" stroke-width="1.15" stroke-linejoin="round" stroke-linecap="round"/>
<path d="M40 304l18 8" fill="none" stroke="#d8864e" stroke-width="1.15" stroke-linejoin="round" stroke-linecap="round"/>
<path d="M40 304l15 15" fill="none" stroke="#d8864e" stroke-width="1.15" stroke-linejoin="round" stroke-linecap="round"/>
<path d="M50 303l20 1" fill="none" stroke="#d8864e" stroke-width="1.15" stroke-linejoin="round" stroke-linecap="round"/>
<path d="M50 303l13 15" fill="none" stroke="#d8864e" stroke-width="1.15" stroke-linejoin="round" stroke-linecap="round"/>
<path d="M60 303l8 8" fill="none" stroke="#d8864e" stroke-width="1.15" stroke-linejoin="round" stroke-linecap="round"/>
<path d="M60 303l-5 16" fill="none" stroke="#d8864e" stroke-width="1.15" stroke-linejoin="round" stroke-linecap="round"/>
<path d="M38 311l25 7" fill="none" stroke="#d8864e" stroke-width="1.15" stroke-linejoin="round" stroke-linecap="round"/>
<path d="M28.5 301l2 7 3.5 7 5 4.5 6 3 10 1.5 9-1.5 6-3 5-4.5 3.5-7 2.5-8" fill="none" stroke="#d8864e" stroke-width="1.15" stroke-linejoin="round" stroke-linecap="round"/>
<path d="M29 302l52 0" fill="none" stroke="#d8864e" stroke-width="1.15" stroke-linejoin="round" stroke-linecap="round"/>
<path d="M31 309l47 0" fill="none" stroke="#d8864e" stroke-width="1.15" stroke-linejoin="round" stroke-linecap="round"/>
<path d="M35 316l39 0" fill="none" stroke="#d8864e" stroke-width="1.15" stroke-linejoin="round" stroke-linecap="round"/>
<path d="M92 280l14.6-18.6" fill="none" stroke="#d8864e" stroke-width="1.3" stroke-linejoin="round" stroke-linecap="round"/>
<path d="M106.6 261.4l13.4-5.3" fill="none" stroke="#d8864e" stroke-width="1.3" stroke-linejoin="round" stroke-linecap="round"/>
<path d="M120 256.1l17.6 3.5" fill="none" stroke="#d8864e" stroke-width="1.3" stroke-linejoin="round" stroke-linecap="round"/>
<path d="M106.6 261.4l31-1.8" fill="none" stroke="#d8864e" stroke-width="1.3" stroke-linejoin="round" stroke-linecap="round"/>
<path d="M120 256.1l-7 13.4" fill="none" stroke="#d8864e" stroke-width="1.3" stroke-linejoin="round" stroke-linecap="round"/>
<path d="M120 256.1l8.2 14.6" fill="none" stroke="#d8864e" stroke-width="1.3" stroke-linejoin="round" stroke-linecap="round"/>
<path d="M113 269.5l15.2 1.2" fill="none" stroke="#d8864e" stroke-width="1.3" stroke-linejoin="round" stroke-linecap="round"/>
<path d="M128.2 270.7l2.3 19.3" fill="none" stroke="#d8864e" stroke-width="1.3" stroke-linejoin="round" stroke-linecap="round"/>
<path d="M113 269.5l17.5 20.5" fill="none" stroke="#d8864e" stroke-width="1.3" stroke-linejoin="round" stroke-linecap="round"/>
<path d="M92 280l7 5.3" fill="none" stroke="#d8864e" stroke-width="1.3" stroke-linejoin="round" stroke-linecap="round"/>
<path d="M99 285.3l14-1.8" fill="none" stroke="#d8864e" stroke-width="1.3" stroke-linejoin="round" stroke-linecap="round"/>
<path d="M106.6 261.4l6.4 22.1" fill="none" stroke="#d8864e" stroke-width="1.3" stroke-linejoin="round" stroke-linecap="round"/>
<path d="M92 280l21-10.5" fill="none" stroke="#d8864e" stroke-width="1.3" stroke-linejoin="round" stroke-linecap="round"/>
<path d="M113 269.5l10.5 10.5" fill="none" stroke="#d8864e" stroke-width="1.3" stroke-linejoin="round" stroke-linecap="round"/>
<path d="M123.5 280l7 10" fill="none" stroke="#d8864e" stroke-width="1.3" stroke-linejoin="round" stroke-linecap="round"/>
<path d="M113 283.5l17.5 6.5" fill="none" stroke="#d8864e" stroke-width="1.3" stroke-linejoin="round" stroke-linecap="round"/>
<path d="M130.5 290l14.6-12.3" fill="none" stroke="#d8864e" stroke-width="1.3" stroke-linejoin="round" stroke-linecap="round"/>
<path d="M145.1 277.7l9.9 7.6" fill="none" stroke="#d8864e" stroke-width="1.3" stroke-linejoin="round" stroke-linecap="round"/>
<path d="M145.1 277.7l6.5 .6" fill="none" stroke="#d8864e" stroke-width="1.3" stroke-linejoin="round" stroke-linecap="round"/>
<path d="M113 283.5l38.6-5.2" fill="none" stroke="#d8864e" stroke-width="1.3" stroke-linejoin="round" stroke-linecap="round"/>
<path d="M92 280l8-8" fill="none" stroke="#d8864e" stroke-width="1.3" stroke-linejoin="round" stroke-linecap="round"/>
<path d="M100 272l6.6-10.6" fill="none" stroke="#d8864e" stroke-width="1.3" stroke-linejoin="round" stroke-linecap="round"/>
<path d="M100 272l8 4" fill="none" stroke="#d8864e" stroke-width="1.3" stroke-linejoin="round" stroke-linecap="round"/>
<path d="M108 276l5-6.5" fill="none" stroke="#d8864e" stroke-width="1.3" stroke-linejoin="round" stroke-linecap="round"/>
<path d="M108 276l5 7.5" fill="none" stroke="#d8864e" stroke-width="1.3" stroke-linejoin="round" stroke-linecap="round"/>
<path d="M99 285.3l1-13.3" fill="none" stroke="#d8864e" stroke-width="1.3" stroke-linejoin="round" stroke-linecap="round"/>
<path d="M92 280l16-4" fill="none" stroke="#d8864e" stroke-width="1.3" stroke-linejoin="round" stroke-linecap="round"/>
<path d="M106.6 261.4l1.4 14.6" fill="none" stroke="#d8864e" stroke-width="1.3" stroke-linejoin="round" stroke-linecap="round"/>
<path d="M99 285.3l9-9.3" fill="none" stroke="#d8864e" stroke-width="1.3" stroke-linejoin="round" stroke-linecap="round"/>
<path d="M100 272l13 11.5" fill="none" stroke="#d8864e" stroke-width="1.3" stroke-linejoin="round" stroke-linecap="round"/>
<path d="M106.6 261.4l6.4 8.1" fill="none" stroke="#d8864e" stroke-width="1.3" stroke-linejoin="round" stroke-linecap="round"/>
<path d="M92 280l21 3.5" fill="none" stroke="#d8864e" stroke-width="1.3" stroke-linejoin="round" stroke-linecap="round"/>
<path d="M99 285.3l14-15.8" fill="none" stroke="#d8864e" stroke-width="1.3" stroke-linejoin="round" stroke-linecap="round"/>
<path d="M51 591l16.1 3.7 17.4-3.7-33.5 0" fill="none" stroke="#d8864e" stroke-width="1.5" stroke-linejoin="round" stroke-linecap="round"/>
<path d="M51 591l-11.2 48.4 6.2 17.4" fill="none" stroke="#d8864e" stroke-width="1.5" stroke-linejoin="round" stroke-linecap="round"/>
<path d="M84.5 591l11.2 50.9-7.5 17.4" fill="none" stroke="#d8864e" stroke-width="1.5" stroke-linejoin="round" stroke-linecap="round"/>
<path d="M54.7 612.1l-7.4 18.6" fill="none" stroke="#d8864e" stroke-width="1.5" stroke-linejoin="round" stroke-linecap="round"/>
<path d="M79 612l8 18.7" fill="none" stroke="#d8864e" stroke-width="1.5" stroke-linejoin="round" stroke-linecap="round"/>
<path d="M61.7 632.7l11.6 0" fill="none" stroke="#d8864e" stroke-width="1.5" stroke-linejoin="round" stroke-linecap="round"/>
<path d="M46 656.8l6.2 5.2 14.8 2.5 15-2.5 6.2-2.7" fill="none" stroke="#d8864e" stroke-width="1.5" stroke-linejoin="round" stroke-linecap="round"/>
<path d="M54.7 648l24.8 0" fill="none" stroke="#d8864e" stroke-width="1.5" stroke-linejoin="round" stroke-linecap="round"/>
<path d="M54.7 648l12.3 15 12.5-15" fill="none" stroke="#d8864e" stroke-width="1.5" stroke-linejoin="round" stroke-linecap="round"/>
<path d="M46 656.8l21-13.8 21.2 16.3" fill="none" stroke="#d8864e" stroke-width="1.5" stroke-linejoin="round" stroke-linecap="round"/>
<path d="M58 652l18 0" fill="none" stroke="#d8864e" stroke-width="1.5" stroke-linejoin="round" stroke-linecap="round"/>
<path d="M39.8 639.4l6.2 17.4" fill="none" stroke="#d8864e" stroke-width="1.5" stroke-linejoin="round" stroke-linecap="round"/>
<path d="M60 645l7 18 7-18" fill="none" stroke="#d8864e" stroke-width="1.5" stroke-linejoin="round" stroke-linecap="round"/>
<path d="M52.2 662l27.3-14" fill="none" stroke="#d8864e" stroke-width="1.5" stroke-linejoin="round" stroke-linecap="round"/>
<path d="M82 662l-27.3-14" fill="none" stroke="#d8864e" stroke-width="1.5" stroke-linejoin="round" stroke-linecap="round"/>
<path d="M62 656l10 0" fill="none" stroke="#d8864e" stroke-width="1.5" stroke-linejoin="round" stroke-linecap="round"/>
<path d="M121.7 594.7l4.3 5.3" fill="none" stroke="#d8864e" stroke-width="1.5" stroke-linejoin="round" stroke-linecap="round"/>
<path d="M126 600l-13 2" fill="none" stroke="#d8864e" stroke-width="1.5" stroke-linejoin="round" stroke-linecap="round"/>
<path d="M113 602l-5 9" fill="none" stroke="#d8864e" stroke-width="1.5" stroke-linejoin="round" stroke-linecap="round"/>
<path d="M108 611l16.2-1.4" fill="none" stroke="#d8864e" stroke-width="1.5" stroke-linejoin="round" stroke-linecap="round"/>
<path d="M124.2 609.6l13.7-17.3" fill="none" stroke="#d8864e" stroke-width="1.5" stroke-linejoin="round" stroke-linecap="round"/>
<path d="M137.9 592.3l18.6 .7" fill="none" stroke="#d8864e" stroke-width="1.5" stroke-linejoin="round" stroke-linecap="round"/>
<path d="M124.2 609.6l7.5 10" fill="none" stroke="#d8864e" stroke-width="1.5" stroke-linejoin="round" stroke-linecap="round"/>
<path d="M131.7 619.6l16.1-10" fill="none" stroke="#d8864e" stroke-width="1.5" stroke-linejoin="round" stroke-linecap="round"/>
<path d="M147.8 609.6l1.2 17.4" fill="none" stroke="#d8864e" stroke-width="1.5" stroke-linejoin="round" stroke-linecap="round"/>
<path d="M149 627l14.9-13.6" fill="none" stroke="#d8864e" stroke-width="1.5" stroke-linejoin="round" stroke-linecap="round"/>
<path d="M163.9 613.4l9.9 8.6" fill="none" stroke="#d8864e" stroke-width="1.5" stroke-linejoin="round" stroke-linecap="round"/>
<path d="M127 604.7l20 0" fill="none" stroke="#d8864e" stroke-width="1.5" stroke-linejoin="round" stroke-linecap="round"/>
<path d="M147 604.7l.8 4.9" fill="none" stroke="#d8864e" stroke-width="1.5" stroke-linejoin="round" stroke-linecap="round"/>
<path d="M113 602l5 15" fill="none" stroke="#d8864e" stroke-width="1.5" stroke-linejoin="round" stroke-linecap="round"/>
<path d="M118 617l-10-6" fill="none" stroke="#d8864e" stroke-width="1.5" stroke-linejoin="round" stroke-linecap="round"/>
<path d="M108 611l4 9" fill="none" stroke="#d8864e" stroke-width="1.5" stroke-linejoin="round" stroke-linecap="round"/>
<path d="M112 620l6-3" fill="none" stroke="#d8864e" stroke-width="1.5" stroke-linejoin="round" stroke-linecap="round"/>
<path d="M118 617l13.7 2.6" fill="none" stroke="#d8864e" stroke-width="1.5" stroke-linejoin="round" stroke-linecap="round"/>
<path d="M113 602l11.2 7.6" fill="none" stroke="#d8864e" stroke-width="1.5" stroke-linejoin="round" stroke-linecap="round"/>
<path d="M126 600l-1.8 9.6" fill="none" stroke="#d8864e" stroke-width="1.5" stroke-linejoin="round" stroke-linecap="round"/>
<path d="M113 602l14 2.7" fill="none" stroke="#d8864e" stroke-width="1.5" stroke-linejoin="round" stroke-linecap="round"/>
<path d="M121.7 594.7l-8.7 7.3" fill="none" stroke="#d8864e" stroke-width="1.5" stroke-linejoin="round" stroke-linecap="round"/>
<path d="M118 617l6.2-7.4" fill="none" stroke="#d8864e" stroke-width="1.5" stroke-linejoin="round" stroke-linecap="round"/>
<path d="M131.7 619.6l17.3 7.4" fill="none" stroke="#d8864e" stroke-width="1.5" stroke-linejoin="round" stroke-linecap="round"/>
<path d="M112 620l19.7-.4" fill="none" stroke="#d8864e" stroke-width="1.5" stroke-linejoin="round" stroke-linecap="round"/>
<path d="M108 611l18-11" fill="none" stroke="#d8864e" stroke-width="1.5" stroke-linejoin="round" stroke-linecap="round"/>
<path d="M38.7 937.4l18.7-5.4" fill="none" stroke="#d8864e" stroke-width="1.5" stroke-linejoin="round" stroke-linecap="round"/>
<path d="M38.7 937.4l-2.3 21-5.9 17.5 8.2 9.4 9.3 10.5" fill="none" stroke="#d8864e" stroke-width="1.5" stroke-linejoin="round" stroke-linecap="round"/>
<path d="M46.9 947.9l-4.7 16.3" fill="none" stroke="#d8864e" stroke-width="1.5" stroke-linejoin="round" stroke-linecap="round"/>
<path d="M36.4 958.4l21 8.2 16.3-5.9" fill="none" stroke="#d8864e" stroke-width="1.5" stroke-linejoin="round" stroke-linecap="round"/>
<path d="M77.2 938.5l-1.1 19.9 7 16.3-7 14.1" fill="none" stroke="#d8864e" stroke-width="1.5" stroke-linejoin="round" stroke-linecap="round"/>
<path d="M67.9 947.9l7 17.5" fill="none" stroke="#d8864e" stroke-width="1.5" stroke-linejoin="round" stroke-linecap="round"/>
<path d="M57.4 979.4l0 4.6" fill="none" stroke="#d8864e" stroke-width="1.5" stroke-linejoin="round" stroke-linecap="round"/>
<path d="M34 970l9.4 18.8 4.6 8.2" fill="none" stroke="#d8864e" stroke-width="1.5" stroke-linejoin="round" stroke-linecap="round"/>
<path d="M36.4 958.4l13.6 3.6 23.7-1.3 9.4 14" fill="none" stroke="#d8864e" stroke-width="1.5" stroke-linejoin="round" stroke-linecap="round"/>
<path d="M42.2 964.2l-8.2 5.8" fill="none" stroke="#d8864e" stroke-width="1.5" stroke-linejoin="round" stroke-linecap="round"/>
<path d="M74.9 965.4l8.2 9.3" fill="none" stroke="#d8864e" stroke-width="1.5" stroke-linejoin="round" stroke-linecap="round"/>
<path d="M57.4 966.6l18.7-8.2" fill="none" stroke="#d8864e" stroke-width="1.5" stroke-linejoin="round" stroke-linecap="round"/>
<path d="M35.5 967.5l-3 6.5" fill="none" stroke="#f5c080" stroke-width="1.1" stroke-linejoin="round" stroke-linecap="round"/>
<path d="M120.4 929.2l17.6 3" fill="none" stroke="#d8864e" stroke-width="1.5" stroke-linejoin="round" stroke-linecap="round"/>
<path d="M120.4 929.2l-7 14" fill="none" stroke="#d8864e" stroke-width="1.5" stroke-linejoin="round" stroke-linecap="round"/>
<path d="M113.4 943.2l-10.5 14" fill="none" stroke="#d8864e" stroke-width="1.5" stroke-linejoin="round" stroke-linecap="round"/>
<path d="M120.4 929.2l9.4 15.2" fill="none" stroke="#d8864e" stroke-width="1.5" stroke-linejoin="round" stroke-linecap="round"/>
<path d="M129.8 944.4l16.3 7" fill="none" stroke="#d8864e" stroke-width="1.5" stroke-linejoin="round" stroke-linecap="round"/>
<path d="M146.1 951.4l5.9 1.2" fill="none" stroke="#d8864e" stroke-width="1.5" stroke-linejoin="round" stroke-linecap="round"/>
<path d="M146.1 951.4l-14 11.7" fill="none" stroke="#d8864e" stroke-width="1.5" stroke-linejoin="round" stroke-linecap="round"/>
<path d="M113.4 943.2l16.4 1.2" fill="none" stroke="#d8864e" stroke-width="1.5" stroke-linejoin="round" stroke-linecap="round"/>
<path d="M101.8 940.9l8.1-5.9" fill="none" stroke="#d8864e" stroke-width="1.5" stroke-linejoin="round" stroke-linecap="round"/>
<path d="M93.6 953.7l9.3 3.5" fill="none" stroke="#d8864e" stroke-width="1.5" stroke-linejoin="round" stroke-linecap="round"/>
<path d="M102.9 957.2l24.6-2.3" fill="none" stroke="#d8864e" stroke-width="1.5" stroke-linejoin="round" stroke-linecap="round"/>
<path d="M113.4 943.2l0 14" fill="none" stroke="#d8864e" stroke-width="1.5" stroke-linejoin="round" stroke-linecap="round"/>
<path d="M113.4 957.2l16.4 5.9" fill="none" stroke="#d8864e" stroke-width="1.5" stroke-linejoin="round" stroke-linecap="round"/>
<path d="M129.8 944.4l-2.3 10.5" fill="none" stroke="#d8864e" stroke-width="1.5" stroke-linejoin="round" stroke-linecap="round"/>
<path d="M127.5 954.9l4.6 8.2" fill="none" stroke="#d8864e" stroke-width="1.5" stroke-linejoin="round" stroke-linecap="round"/>
<path d="M113.4 957.2l14.1-2.3" fill="none" stroke="#f2b07a" stroke-width="1.1" stroke-linejoin="round" stroke-linecap="round"/>
<text x="27.40" y="17.00" font-size="13.3" font-weight="bold" fill="#000" textLength="161.40" lengthAdjust="spacingAndGlyphs" >STATE 4 – Spectral profiles</text>
<text x="287.90" y="17.40" font-size="13.3" font-weight="bold" fill="#000" textLength="315.20" lengthAdjust="spacingAndGlyphs" >STATE 4 – Group difference ER profiles of activation</text>
<text x="29.10" y="357.60" font-size="13.6" font-weight="bold" fill="#000" textLength="161.80" lengthAdjust="spacingAndGlyphs" >STATE 5 – Spectral profiles</text>
<text x="268.90" y="359.60" font-size="14.6" font-weight="bold" fill="#000" textLength="353.70" lengthAdjust="spacingAndGlyphs" >STATE 5 – Group difference ER profiles of activation</text>
<text x="30.90" y="698.40" font-size="13.6" font-weight="bold" fill="#000" textLength="161.50" lengthAdjust="spacingAndGlyphs" >STATE 6 – Spectral profiles</text>
<text x="287.90" y="699.00" font-size="13.3" font-weight="bold" fill="#000" textLength="315.20" lengthAdjust="spacingAndGlyphs" >STATE 6 – Group difference ER profiles of activation</text>
<text x="7.40" y="18.20" font-size="17" font-weight="bold" fill="#000" >a</text>
<text x="212.40" y="17.20" font-size="17" font-weight="bold" fill="#000" >b</text>
<text x="6.80" y="356.30" font-size="17" font-weight="bold" fill="#000" >c</text>
<text x="214.40" y="357.60" font-size="17" font-weight="bold" fill="#000" >d</text>
<text x="7.80" y="698.30" font-size="17.5" font-weight="bold" fill="#000" >e</text>
<text x="212.60" y="698.40" font-size="17" font-weight="bold" fill="#000" >f</text>
<rect x="0.70" y="0.60" width="202.10" height="337.10" fill="none" stroke="#ffe6a0" stroke-width="1.4"/>
<rect x="206.30" y="0.60" width="478.00" height="337.10" fill="none" stroke="#ffe6a0" stroke-width="1.4"/>
<rect x="0.60" y="340.50" width="202.20" height="337.80" fill="none" stroke="#727272" stroke-width="1.3"/>
<rect x="206.40" y="340.50" width="477.10" height="337.80" fill="none" stroke="#727272" stroke-width="1.3"/>
<rect x="0.60" y="681.40" width="202.20" height="325.40" fill="none" stroke="#adadad" stroke-width="1.3"/>
<rect x="206.40" y="681.40" width="477.10" height="325.40" fill="none" stroke="#adadad" stroke-width="1.3"/>
</svg></body></html>
